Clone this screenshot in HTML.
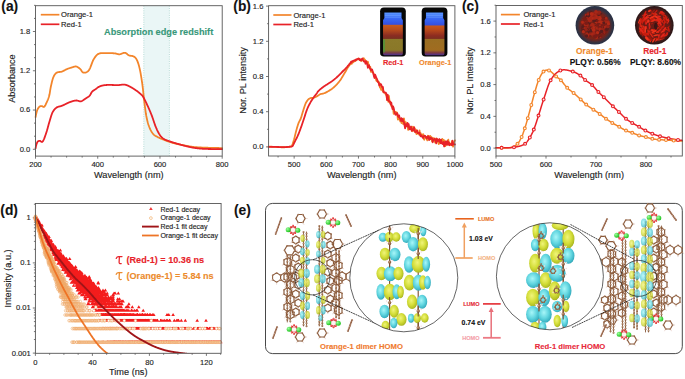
<!DOCTYPE html>
<html><head><meta charset="utf-8"><style>
html,body{margin:0;padding:0;background:#fff;}
svg{display:block;}
text{font-family:"Liberation Sans", sans-serif;}
</style></head><body>
<svg width="685" height="379" viewBox="0 0 685 379">
<rect width="685" height="379" fill="#fff"/>
<rect x="143.8" y="5.7" width="25.6" height="150.4" fill="#eaf6f6"/>
<line x1="143.8" y1="5.7" x2="143.8" y2="156.1" stroke="#9fd0c8" stroke-width="0.7" stroke-dasharray="1 1.3"/>
<line x1="169.4" y1="5.7" x2="169.4" y2="156.1" stroke="#9fd0c8" stroke-width="0.7" stroke-dasharray="1 1.3"/>
<line x1="32.9" y1="149.3" x2="35.5" y2="149.3" stroke="#555" stroke-width="0.8" />
<text x="30.2" y="151.7" font-size="7.6" text-anchor="end" font-weight="normal" fill="#222" stroke="#222" stroke-width="0.14" >0.0</text>
<line x1="34" y1="136.21" x2="35.5" y2="136.21" stroke="#555" stroke-width="0.8" />
<line x1="34" y1="123.12" x2="35.5" y2="123.12" stroke="#555" stroke-width="0.8" />
<line x1="32.9" y1="110.04" x2="35.5" y2="110.04" stroke="#555" stroke-width="0.8" />
<text x="30.2" y="112.44" font-size="7.6" text-anchor="end" font-weight="normal" fill="#222" stroke="#222" stroke-width="0.14" >0.6</text>
<line x1="34" y1="96.95" x2="35.5" y2="96.95" stroke="#555" stroke-width="0.8" />
<line x1="34" y1="83.86" x2="35.5" y2="83.86" stroke="#555" stroke-width="0.8" />
<line x1="32.9" y1="70.77" x2="35.5" y2="70.77" stroke="#555" stroke-width="0.8" />
<text x="30.2" y="73.17" font-size="7.6" text-anchor="end" font-weight="normal" fill="#222" stroke="#222" stroke-width="0.14" >1.2</text>
<line x1="34" y1="57.68" x2="35.5" y2="57.68" stroke="#555" stroke-width="0.8" />
<line x1="34" y1="44.6" x2="35.5" y2="44.6" stroke="#555" stroke-width="0.8" />
<line x1="32.9" y1="31.51" x2="35.5" y2="31.51" stroke="#555" stroke-width="0.8" />
<text x="30.2" y="33.91" font-size="7.6" text-anchor="end" font-weight="normal" fill="#222" stroke="#222" stroke-width="0.14" >1.8</text>
<line x1="34" y1="18.42" x2="35.5" y2="18.42" stroke="#555" stroke-width="0.8" />
<line x1="34" y1="5.33" x2="35.5" y2="5.33" stroke="#555" stroke-width="0.8" />
<line x1="35.5" y1="156.1" x2="35.5" y2="158.7" stroke="#555" stroke-width="0.8" />
<text x="35.5" y="167.4" font-size="7.6" text-anchor="middle" font-weight="normal" fill="#222" stroke="#222" stroke-width="0.14" >200</text>
<line x1="51.06" y1="156.1" x2="51.06" y2="157.6" stroke="#555" stroke-width="0.8" />
<line x1="66.62" y1="156.1" x2="66.62" y2="157.6" stroke="#555" stroke-width="0.8" />
<line x1="82.17" y1="156.1" x2="82.17" y2="157.6" stroke="#555" stroke-width="0.8" />
<line x1="97.73" y1="156.1" x2="97.73" y2="158.7" stroke="#555" stroke-width="0.8" />
<text x="97.73" y="167.4" font-size="7.6" text-anchor="middle" font-weight="normal" fill="#222" stroke="#222" stroke-width="0.14" >400</text>
<line x1="113.29" y1="156.1" x2="113.29" y2="157.6" stroke="#555" stroke-width="0.8" />
<line x1="128.85" y1="156.1" x2="128.85" y2="157.6" stroke="#555" stroke-width="0.8" />
<line x1="144.41" y1="156.1" x2="144.41" y2="157.6" stroke="#555" stroke-width="0.8" />
<line x1="159.97" y1="156.1" x2="159.97" y2="158.7" stroke="#555" stroke-width="0.8" />
<text x="159.97" y="167.4" font-size="7.6" text-anchor="middle" font-weight="normal" fill="#222" stroke="#222" stroke-width="0.14" >600</text>
<line x1="175.53" y1="156.1" x2="175.53" y2="157.6" stroke="#555" stroke-width="0.8" />
<line x1="191.08" y1="156.1" x2="191.08" y2="157.6" stroke="#555" stroke-width="0.8" />
<line x1="206.64" y1="156.1" x2="206.64" y2="157.6" stroke="#555" stroke-width="0.8" />
<line x1="222.2" y1="156.1" x2="222.2" y2="158.7" stroke="#555" stroke-width="0.8" />
<text x="222.2" y="167.4" font-size="7.6" text-anchor="middle" font-weight="normal" fill="#222" stroke="#222" stroke-width="0.14" >800</text>
<text x="128.85" y="178.3" font-size="9.2" text-anchor="middle" font-weight="normal" fill="#222" stroke="#222" stroke-width="0.14" >Wavelength (nm)</text>
<text x="15.2" y="78.6" font-size="9.1" text-anchor="middle" font-weight="normal" fill="#222" stroke="#222" stroke-width="0.14" transform="rotate(-90 15.2 78.6)" >Absorbance</text>
<text x="1.3" y="11.2" font-size="13.8" text-anchor="start" font-weight="bold" fill="#111" stroke="#111" stroke-width="0.12" >(a)</text>
<line x1="40.8" y1="14.7" x2="59.4" y2="14.7" stroke="#f3852b" stroke-width="1.7" />
<line x1="40.8" y1="24.3" x2="59.4" y2="24.3" stroke="#e82228" stroke-width="1.7" />
<text x="61" y="17.4" font-size="7.6" text-anchor="start" font-weight="normal" fill="#222" stroke="#222" stroke-width="0.14" >Orange-1</text>
<text x="61" y="27" font-size="7.6" text-anchor="start" font-weight="normal" fill="#222" stroke="#222" stroke-width="0.14" >Red-1</text>
<text x="104" y="34.9" font-size="9.2" text-anchor="start" font-weight="bold" fill="#38987a" stroke="#38987a" stroke-width="0.12" >Absorption edge redshift</text>
<polyline points="35.6,117.2 35.97,114.97 36.35,113.37 36.72,111.85 37.1,110.53 37.47,109.54 37.84,108.78 38.22,108.16 38.59,107.64 38.97,107.22 39.34,106.87 39.71,106.57 40.09,106.32 40.46,106.18 40.84,106.12 41.21,106.12 41.58,106.15 41.96,106.19 42.33,106.25 42.71,106.45 43.08,106.71 43.45,106.92 43.83,106.98 44.2,106.8 44.57,106.39 44.95,105.86 45.32,105.23 45.7,104.51 46.07,103.73 46.44,102.92 46.82,102.08 47.19,101.25 47.57,100.41 47.94,99.53 48.31,98.57 48.69,97.5 49.06,96.27 49.44,94.82 49.81,92.79 50.18,90.43 50.56,88.14 50.93,86.3 51.31,84.61 51.68,82.97 52.05,81.41 52.43,79.99 52.8,78.72 53.18,77.66 53.55,76.77 53.92,75.99 54.3,75.31 54.67,74.71 55.05,74.2 55.42,73.76 55.79,73.38 56.17,73.07 56.54,72.81 56.92,72.59 57.29,72.42 57.66,72.29 58.04,72.19 58.41,72.12 58.78,72.06 59.16,72.02 59.53,71.99 59.91,71.96 60.28,71.93 60.65,71.89 61.03,71.83 61.4,71.75 61.78,71.64 62.15,71.51 62.52,71.35 62.9,71.18 63.27,70.99 63.65,70.79 64.02,70.59 64.39,70.38 64.77,70.18 65.14,69.97 65.52,69.77 65.89,69.58 66.26,69.39 66.64,69.23 67.01,69.07 67.39,68.92 67.76,68.78 68.13,68.64 68.51,68.51 68.88,68.38 69.26,68.25 69.63,68.13 70,68.01 70.38,67.9 70.75,67.79 71.13,67.68 71.5,67.57 71.87,67.45 72.25,67.33 72.62,67.2 72.99,67.06 73.37,66.93 73.74,66.81 74.12,66.7 74.49,66.6 74.86,66.53 75.24,66.48 75.61,66.46 75.99,66.47 76.36,66.53 76.73,66.63 77.11,66.77 77.48,66.95 77.86,67.17 78.23,67.41 78.6,67.68 78.98,67.96 79.35,68.27 79.73,68.58 80.1,68.9 80.47,69.28 80.85,69.77 81.22,70.31 81.6,70.88 81.97,71.42 82.34,71.91 82.72,72.29 83.09,72.54 83.47,72.62 83.84,72.66 84.21,72.68 84.59,72.68 84.96,72.66 85.34,72.6 85.71,72.52 86.08,72.41 86.46,72.26 86.83,72.07 87.2,71.84 87.58,71.56 87.95,71.24 88.33,70.87 88.7,70.45 89.07,69.96 89.45,69.34 89.82,68.6 90.2,67.76 90.57,66.84 90.94,65.87 91.32,64.87 91.69,63.86 92.07,62.86 92.44,61.9 92.81,61 93.19,60.18 93.56,59.47 93.94,58.84 94.31,58.23 94.68,57.66 95.06,57.13 95.43,56.62 95.81,56.15 96.18,55.71 96.55,55.31 96.93,54.95 97.3,54.62 97.68,54.34 98.05,54.09 98.42,53.89 98.8,53.72 99.17,53.57 99.55,53.44 99.92,53.34 100.29,53.25 100.67,53.18 101.04,53.13 101.41,53.09 101.79,53.06 102.16,53.04 102.54,53.04 102.91,53.04 103.28,53.04 103.66,53.05 104.03,53.06 104.41,53.08 104.78,53.09 105.15,53.1 105.53,53.11 105.9,53.11 106.28,53.1 106.65,53.09 107.02,53.08 107.4,53.08 107.77,53.07 108.15,53.07 108.52,53.07 108.89,53.08 109.27,53.08 109.64,53.09 110.02,53.1 110.39,53.11 110.76,53.12 111.14,53.14 111.51,53.15 111.89,53.17 112.26,53.19 112.63,53.22 113.01,53.24 113.38,53.27 113.76,53.3 114.13,53.33 114.5,53.36 114.88,53.39 115.25,53.43 115.62,53.49 116,53.58 116.37,53.68 116.75,53.79 117.12,53.9 117.49,54.01 117.87,54.1 118.24,54.19 118.62,54.26 118.99,54.3 119.36,54.31 119.74,54.28 120.11,54.21 120.49,54.12 120.86,53.99 121.23,53.85 121.61,53.7 121.98,53.54 122.36,53.38 122.73,53.23 123.1,53.09 123.48,52.97 123.85,52.87 124.23,52.81 124.6,52.78 124.97,52.8 125.35,52.88 125.72,53.03 126.1,53.25 126.47,53.52 126.84,53.81 127.22,54.13 127.59,54.45 127.97,54.75 128.34,55.03 128.71,55.26 129.09,55.44 129.46,55.56 129.83,55.65 130.21,55.71 130.58,55.75 130.96,55.78 131.33,55.82 131.7,55.86 132.08,55.92 132.45,56 132.83,56.13 133.2,56.29 133.57,56.46 133.95,56.65 134.32,56.86 134.7,57.11 135.07,57.42 135.44,57.78 135.82,58.22 136.19,58.74 136.57,59.36 136.94,60.09 137.31,60.93 137.69,61.86 138.06,62.88 138.44,64 138.81,65.23 139.18,66.63 139.56,68.18 139.93,69.86 140.31,71.64 140.68,73.58 141.05,75.8 141.43,78.2 141.8,80.67 142.18,83.21 142.55,85.93 142.92,88.95 143.3,92.52 143.67,96.04 144.04,99.4 144.42,102.65 144.79,105.61 145.17,108.47 145.54,111.24 145.91,113.77 146.29,115.94 146.66,117.8 147.04,119.53 147.41,121.12 147.78,122.57 148.16,123.87 148.53,125.03 148.91,126.05 149.28,127.01 149.65,127.91 150.03,128.76 150.4,129.56 150.78,130.3 151.15,131 151.52,131.65 151.9,132.25 152.27,132.81 152.65,133.33 153.02,133.8 153.39,134.22 153.77,134.59 154.14,134.92 154.52,135.21 154.89,135.48 155.26,135.72 155.64,135.94 156.01,136.15 156.39,136.35 156.76,136.55 157.13,136.75 157.51,136.96 157.88,137.17 158.25,137.37 158.63,137.56 159,137.74 159.38,137.92 159.75,138.09 160.12,138.25 160.5,138.42 160.87,138.57 161.25,138.73 161.62,138.88 161.99,139.03 162.37,139.17 162.74,139.32 163.12,139.47 163.49,139.62 163.86,139.77 164.24,139.91 164.61,140.06 164.99,140.21 165.36,140.36 165.73,140.51 166.11,140.65 166.48,140.8 166.86,140.94 167.23,141.08 167.6,141.22 167.98,141.36 168.35,141.5 168.73,141.63 169.1,141.76 169.47,141.89 169.85,142.02 170.22,142.14 170.6,142.26 170.97,142.38 171.34,142.49 171.72,142.6 172.09,142.71 172.46,142.82 172.84,142.92 173.21,143.02 173.59,143.12 173.96,143.21 174.33,143.31 174.71,143.4 175.08,143.49 175.46,143.58 175.83,143.66 176.2,143.75 176.58,143.83 176.95,143.91 177.33,144 177.7,144.08 178.07,144.15 178.45,144.23 178.82,144.31 179.2,144.39 179.57,144.47 179.94,144.54 180.32,144.62 180.69,144.7 181.07,144.77 181.44,144.85 181.81,144.93 182.19,145 182.56,145.08 182.94,145.16 183.31,145.23 183.68,145.31 184.06,145.39 184.43,145.46 184.81,145.54 185.18,145.61 185.55,145.69 185.93,145.76 186.3,145.83 186.67,145.9 187.05,145.97 187.42,146.04 187.8,146.11 188.17,146.18 188.54,146.24 188.92,146.31 189.29,146.37 189.67,146.43 190.04,146.49 190.41,146.55 190.79,146.61 191.16,146.66 191.54,146.71 191.91,146.76 192.28,146.81 192.66,146.86 193.03,146.9 193.41,146.94 193.78,146.98 194.15,147.02 194.53,147.06 194.9,147.09 195.28,147.13 195.65,147.16 196.02,147.19 196.4,147.22 196.77,147.25 197.15,147.27 197.52,147.3 197.89,147.32 198.27,147.35 198.64,147.37 199.02,147.39 199.39,147.41 199.76,147.43 200.14,147.45 200.51,147.47 200.88,147.49 201.26,147.51 201.63,147.53 202.01,147.54 202.38,147.56 202.75,147.58 203.13,147.59 203.5,147.61 203.88,147.62 204.25,147.64 204.62,147.65 205,147.67 205.37,147.68 205.75,147.7 206.12,147.71 206.49,147.72 206.87,147.73 207.24,147.75 207.62,147.76 207.99,147.77 208.36,147.78 208.74,147.79 209.11,147.8 209.49,147.81 209.86,147.82 210.23,147.83 210.61,147.84 210.98,147.85 211.36,147.86 211.73,147.87 212.1,147.88 212.48,147.88 212.85,147.89 213.23,147.9 213.6,147.91 213.97,147.92 214.35,147.92 214.72,147.93 215.09,147.94 215.47,147.95 215.84,147.96 216.22,147.96 216.59,147.97 216.96,147.98 217.34,147.99 217.71,147.99 218.09,148 218.46,148.01 218.83,148.02 219.21,148.03 219.58,148.04 219.96,148.04 220.33,148.05 220.7,148.06 221.08,148.07 221.45,148.08 221.83,148.09 222.2,148.1" fill="none" stroke="#f3852b" stroke-width="1.8" stroke-linejoin="round" stroke-linecap="round" />
<polyline points="35.6,148.3 35.97,146.18 36.35,144.85 36.72,143.61 37.1,142.58 37.47,141.9 37.84,141.47 38.22,141.19 38.59,141.03 38.97,140.95 39.34,140.92 39.71,140.91 40.09,140.93 40.46,141.11 40.84,141.38 41.21,141.65 41.58,141.87 41.96,141.96 42.33,141.85 42.71,141.47 43.08,140.91 43.45,140.23 43.83,139.44 44.2,138.56 44.57,137.61 44.95,136.6 45.32,135.55 45.7,134.47 46.07,133.39 46.44,132.26 46.82,131.03 47.19,129.73 47.57,128.39 47.94,127.02 48.31,125.65 48.69,124.3 49.06,122.99 49.44,121.75 49.81,120.49 50.18,119.21 50.56,117.94 50.93,116.71 51.31,115.53 51.68,114.45 52.05,113.47 52.43,112.64 52.8,111.92 53.18,111.27 53.55,110.68 53.92,110.14 54.3,109.67 54.67,109.23 55.05,108.84 55.42,108.49 55.79,108.17 56.17,107.87 56.54,107.6 56.92,107.36 57.29,107.16 57.66,106.99 58.04,106.85 58.41,106.73 58.78,106.63 59.16,106.53 59.53,106.45 59.91,106.37 60.28,106.29 60.65,106.2 61.03,106.1 61.4,105.98 61.78,105.85 62.15,105.69 62.52,105.53 62.9,105.36 63.27,105.19 63.65,105.02 64.02,104.84 64.39,104.65 64.77,104.47 65.14,104.28 65.52,104.1 65.89,103.91 66.26,103.73 66.64,103.54 67.01,103.36 67.39,103.18 67.76,103 68.13,102.83 68.51,102.67 68.88,102.51 69.26,102.35 69.63,102.2 70,102.06 70.38,101.93 70.75,101.79 71.13,101.66 71.5,101.53 71.87,101.41 72.25,101.3 72.62,101.19 72.99,101.08 73.37,100.98 73.74,100.89 74.12,100.81 74.49,100.73 74.86,100.66 75.24,100.6 75.61,100.56 75.99,100.52 76.36,100.49 76.73,100.51 77.11,100.56 77.48,100.64 77.86,100.75 78.23,100.86 78.6,100.98 78.98,101.1 79.35,101.2 79.73,101.29 80.1,101.34 80.47,101.36 80.85,101.33 81.22,101.25 81.6,101.12 81.97,100.97 82.34,100.78 82.72,100.57 83.09,100.33 83.47,100.08 83.84,99.82 84.21,99.55 84.59,99.28 84.96,99.01 85.34,98.75 85.71,98.49 86.08,98.26 86.46,98.03 86.83,97.8 87.2,97.57 87.58,97.33 87.95,97.08 88.33,96.82 88.7,96.53 89.07,96.21 89.45,95.86 89.82,95.46 90.2,94.91 90.57,94.24 90.94,93.52 91.32,92.82 91.69,92.2 92.07,91.73 92.44,91.35 92.81,91.01 93.19,90.7 93.56,90.41 93.94,90.15 94.31,89.9 94.68,89.65 95.06,89.42 95.43,89.18 95.81,88.93 96.18,88.68 96.55,88.41 96.93,88.14 97.3,87.88 97.68,87.61 98.05,87.36 98.42,87.11 98.8,86.89 99.17,86.68 99.55,86.49 99.92,86.33 100.29,86.19 100.67,86.07 101.04,85.95 101.41,85.84 101.79,85.73 102.16,85.63 102.54,85.54 102.91,85.46 103.28,85.39 103.66,85.32 104.03,85.25 104.41,85.2 104.78,85.15 105.15,85.1 105.53,85.06 105.9,85.03 106.28,85 106.65,84.98 107.02,84.96 107.4,84.94 107.77,84.93 108.15,84.92 108.52,84.92 108.89,84.92 109.27,84.92 109.64,84.92 110.02,84.92 110.39,84.93 110.76,84.94 111.14,84.95 111.51,84.96 111.89,84.97 112.26,84.98 112.63,84.99 113.01,85.01 113.38,85.02 113.76,85.03 114.13,85.05 114.5,85.06 114.88,85.07 115.25,85.08 115.62,85.09 116,85.1 116.37,85.1 116.75,85.11 117.12,85.11 117.49,85.1 117.87,85.1 118.24,85.09 118.62,85.07 118.99,85.04 119.36,85.01 119.74,84.96 120.11,84.92 120.49,84.87 120.86,84.83 121.23,84.78 121.61,84.73 121.98,84.69 122.36,84.66 122.73,84.63 123.1,84.61 123.48,84.6 123.85,84.6 124.23,84.62 124.6,84.65 124.97,84.7 125.35,84.76 125.72,84.84 126.1,84.94 126.47,85.06 126.84,85.19 127.22,85.34 127.59,85.49 127.97,85.66 128.34,85.83 128.71,86.02 129.09,86.21 129.46,86.4 129.83,86.59 130.21,86.79 130.58,86.99 130.96,87.19 131.33,87.4 131.7,87.61 132.08,87.82 132.45,88.05 132.83,88.27 133.2,88.5 133.57,88.74 133.95,88.98 134.32,89.22 134.7,89.47 135.07,89.72 135.44,89.97 135.82,90.23 136.19,90.5 136.57,90.76 136.94,91.03 137.31,91.3 137.69,91.58 138.06,91.87 138.44,92.17 138.81,92.47 139.18,92.77 139.56,93.09 139.93,93.41 140.31,93.73 140.68,94.06 141.05,94.4 141.43,94.75 141.8,95.1 142.18,95.47 142.55,95.9 142.92,96.43 143.3,97.08 143.67,97.78 144.04,98.48 144.42,99.2 144.79,99.93 145.17,100.68 145.54,101.43 145.91,102.19 146.29,102.96 146.66,103.75 147.04,104.54 147.41,105.34 147.78,106.15 148.16,106.97 148.53,107.8 148.91,108.64 149.28,109.49 149.65,110.36 150.03,111.24 150.4,112.14 150.78,113.05 151.15,113.98 151.52,114.93 151.9,115.89 152.27,116.9 152.65,117.96 153.02,119.05 153.39,120.17 153.77,121.3 154.14,122.42 154.52,123.53 154.89,124.61 155.26,125.63 155.64,126.6 156.01,127.5 156.39,128.37 156.76,129.22 157.13,130.03 157.51,130.81 157.88,131.57 158.25,132.29 158.63,132.97 159,133.63 159.38,134.24 159.75,134.83 160.12,135.37 160.5,135.87 160.87,136.32 161.25,136.74 161.62,137.13 161.99,137.48 162.37,137.81 162.74,138.11 163.12,138.4 163.49,138.66 163.86,138.91 164.24,139.14 164.61,139.35 164.99,139.55 165.36,139.73 165.73,139.9 166.11,140.06 166.48,140.21 166.86,140.35 167.23,140.49 167.6,140.62 167.98,140.75 168.35,140.87 168.73,141 169.1,141.13 169.47,141.26 169.85,141.39 170.22,141.52 170.6,141.65 170.97,141.78 171.34,141.9 171.72,142.03 172.09,142.15 172.46,142.27 172.84,142.39 173.21,142.51 173.59,142.63 173.96,142.75 174.33,142.86 174.71,142.98 175.08,143.09 175.46,143.21 175.83,143.32 176.2,143.43 176.58,143.54 176.95,143.65 177.33,143.76 177.7,143.87 178.07,143.97 178.45,144.08 178.82,144.18 179.2,144.29 179.57,144.39 179.94,144.49 180.32,144.6 180.69,144.7 181.07,144.8 181.44,144.91 181.81,145.01 182.19,145.11 182.56,145.21 182.94,145.31 183.31,145.41 183.68,145.51 184.06,145.61 184.43,145.71 184.81,145.81 185.18,145.91 185.55,146 185.93,146.1 186.3,146.19 186.67,146.29 187.05,146.38 187.42,146.47 187.8,146.56 188.17,146.65 188.54,146.73 188.92,146.82 189.29,146.9 189.67,146.99 190.04,147.07 190.41,147.15 190.79,147.22 191.16,147.3 191.54,147.37 191.91,147.45 192.28,147.52 192.66,147.58 193.03,147.65 193.41,147.71 193.78,147.78 194.15,147.84 194.53,147.9 194.9,147.95 195.28,148.01 195.65,148.06 196.02,148.12 196.4,148.17 196.77,148.21 197.15,148.26 197.52,148.31 197.89,148.35 198.27,148.39 198.64,148.43 199.02,148.47 199.39,148.51 199.76,148.54 200.14,148.58 200.51,148.61 200.88,148.64 201.26,148.67 201.63,148.7 202.01,148.72 202.38,148.75 202.75,148.77 203.13,148.79 203.5,148.81 203.88,148.83 204.25,148.85 204.62,148.86 205,148.88 205.37,148.89 205.75,148.91 206.12,148.92 206.49,148.93 206.87,148.94 207.24,148.96 207.62,148.96 207.99,148.97 208.36,148.98 208.74,148.99 209.11,149 209.49,149 209.86,149.01 210.23,149.01 210.61,149.02 210.98,149.02 211.36,149.03 211.73,149.03 212.1,149.03 212.48,149.04 212.85,149.04 213.23,149.04 213.6,149.04 213.97,149.05 214.35,149.05 214.72,149.05 215.09,149.05 215.47,149.05 215.84,149.05 216.22,149.05 216.59,149.05 216.96,149.06 217.34,149.06 217.71,149.06 218.09,149.06 218.46,149.06 218.83,149.07 219.21,149.07 219.58,149.07 219.96,149.07 220.33,149.08 220.7,149.08 221.08,149.08 221.45,149.09 221.83,149.09 222.2,149.1" fill="none" stroke="#e82228" stroke-width="1.8" stroke-linejoin="round" stroke-linecap="round" />
<rect x="35.5" y="5.7" width="186.7" height="150.4" fill="none" stroke="#555" stroke-width="0.9"/>
<line x1="266" y1="146.9" x2="268.6" y2="146.9" stroke="#555" stroke-width="0.8" />
<text x="263.4" y="149.3" font-size="7.6" text-anchor="end" font-weight="normal" fill="#222" stroke="#222" stroke-width="0.14" >0.0</text>
<line x1="267.1" y1="129.3" x2="268.6" y2="129.3" stroke="#555" stroke-width="0.8" />
<line x1="266" y1="111.7" x2="268.6" y2="111.7" stroke="#555" stroke-width="0.8" />
<text x="263.4" y="114.1" font-size="7.6" text-anchor="end" font-weight="normal" fill="#222" stroke="#222" stroke-width="0.14" >0.4</text>
<line x1="267.1" y1="94.1" x2="268.6" y2="94.1" stroke="#555" stroke-width="0.8" />
<line x1="266" y1="76.5" x2="268.6" y2="76.5" stroke="#555" stroke-width="0.8" />
<text x="263.4" y="78.9" font-size="7.6" text-anchor="end" font-weight="normal" fill="#222" stroke="#222" stroke-width="0.14" >0.8</text>
<line x1="267.1" y1="58.9" x2="268.6" y2="58.9" stroke="#555" stroke-width="0.8" />
<line x1="266" y1="41.3" x2="268.6" y2="41.3" stroke="#555" stroke-width="0.8" />
<text x="263.4" y="43.7" font-size="7.6" text-anchor="end" font-weight="normal" fill="#222" stroke="#222" stroke-width="0.14" >1.2</text>
<line x1="267.1" y1="23.7" x2="268.6" y2="23.7" stroke="#555" stroke-width="0.8" />
<line x1="266" y1="6.1" x2="268.6" y2="6.1" stroke="#555" stroke-width="0.8" />
<text x="263.4" y="8.5" font-size="7.6" text-anchor="end" font-weight="normal" fill="#222" stroke="#222" stroke-width="0.14" >1.6</text>
<line x1="278.07" y1="156" x2="278.07" y2="157.5" stroke="#555" stroke-width="0.8" />
<line x1="294.15" y1="156" x2="294.15" y2="158.6" stroke="#555" stroke-width="0.8" />
<text x="294.15" y="167.4" font-size="7.6" text-anchor="middle" font-weight="normal" fill="#222" stroke="#222" stroke-width="0.14" >500</text>
<line x1="310.22" y1="156" x2="310.22" y2="157.5" stroke="#555" stroke-width="0.8" />
<line x1="326.3" y1="156" x2="326.3" y2="158.6" stroke="#555" stroke-width="0.8" />
<text x="326.3" y="167.4" font-size="7.6" text-anchor="middle" font-weight="normal" fill="#222" stroke="#222" stroke-width="0.14" >600</text>
<line x1="342.38" y1="156" x2="342.38" y2="157.5" stroke="#555" stroke-width="0.8" />
<line x1="358.45" y1="156" x2="358.45" y2="158.6" stroke="#555" stroke-width="0.8" />
<text x="358.45" y="167.4" font-size="7.6" text-anchor="middle" font-weight="normal" fill="#222" stroke="#222" stroke-width="0.14" >700</text>
<line x1="374.52" y1="156" x2="374.52" y2="157.5" stroke="#555" stroke-width="0.8" />
<line x1="390.6" y1="156" x2="390.6" y2="158.6" stroke="#555" stroke-width="0.8" />
<text x="390.6" y="167.4" font-size="7.6" text-anchor="middle" font-weight="normal" fill="#222" stroke="#222" stroke-width="0.14" >800</text>
<line x1="406.67" y1="156" x2="406.67" y2="157.5" stroke="#555" stroke-width="0.8" />
<line x1="422.75" y1="156" x2="422.75" y2="158.6" stroke="#555" stroke-width="0.8" />
<text x="422.75" y="167.4" font-size="7.6" text-anchor="middle" font-weight="normal" fill="#222" stroke="#222" stroke-width="0.14" >900</text>
<line x1="438.82" y1="156" x2="438.82" y2="157.5" stroke="#555" stroke-width="0.8" />
<line x1="454.9" y1="156" x2="454.9" y2="158.6" stroke="#555" stroke-width="0.8" />
<text x="454.9" y="167.4" font-size="7.6" text-anchor="middle" font-weight="normal" fill="#222" stroke="#222" stroke-width="0.14" >1000</text>
<text x="361.75" y="178.3" font-size="9.2" text-anchor="middle" font-weight="normal" fill="#222" stroke="#222" stroke-width="0.14" >Wavelength (nm)</text>
<text x="246" y="80.4" font-size="9.2" text-anchor="middle" font-weight="normal" fill="#222" stroke="#222" stroke-width="0.14" transform="rotate(-90 246 80.4)" >Nor. PL intensity</text>
<text x="233.3" y="11.2" font-size="13.8" text-anchor="start" font-weight="bold" fill="#111" stroke="#111" stroke-width="0.12" >(b)</text>
<line x1="273.3" y1="15" x2="291.5" y2="15" stroke="#f3852b" stroke-width="1.7" />
<line x1="273.3" y1="24.5" x2="291.5" y2="24.5" stroke="#e82228" stroke-width="1.7" />
<text x="293.4" y="17.7" font-size="7.6" text-anchor="start" font-weight="normal" fill="#222" stroke="#222" stroke-width="0.14" >Orange-1</text>
<text x="293.4" y="27.2" font-size="7.6" text-anchor="start" font-weight="normal" fill="#222" stroke="#222" stroke-width="0.14" >Red-1</text>
<polyline points="268.6,146.7 269.1,146.7 269.6,146.7 270.1,146.7 270.6,146.71 271.1,146.72 271.6,146.74 272.1,146.76 272.6,146.78 273.1,146.8 273.6,146.83 274.1,146.86 274.6,146.88 275.1,146.91 275.6,146.94 276.1,146.98 276.6,147.01 277.1,147.04 277.6,147.07 278.1,147.1 278.6,147.12 279.1,147.15 279.6,147.18 280.1,147.2 280.6,147.22 281.1,147.23 281.6,147.25 282.1,147.26 282.6,147.26 283.1,147.26 283.6,147.26 284.1,147.25 284.6,147.24 285.1,147.22 285.6,147.2 286.1,147.17 286.6,147.13 287.1,147.09 287.6,147.03 288.1,146.98 288.6,146.91 289.1,146.83 289.6,146.75 290.1,146.66 290.6,146.56 291.1,146.45 291.6,146.2 292.1,145.4 292.6,144.15 293.1,142.63 293.6,141.02 294.1,139.32 294.6,137.35 295.1,135.24 295.6,133.15 296.1,131.2 296.6,129.38 297.1,127.61 297.6,125.91 298.1,124.34 298.6,122.94 299.1,121.83 299.6,120.93 300.1,120.05 300.6,119 301.1,117.65 301.6,116.05 302.1,114.33 302.6,112.59 303.1,110.92 303.6,109.33 304.1,107.73 304.6,106.18 305.1,104.74 305.6,103.5 306.1,102.47 306.6,101.62 307.1,100.89 307.6,100.26 308.1,99.69 308.6,99.2 309.1,98.81 309.6,98.51 310.1,98.27 310.6,98.11 311.1,98 311.6,97.94 312.1,97.91 312.6,97.88 313.1,97.84 313.6,97.78 314.1,97.66 314.6,97.49 315.1,97.27 315.6,97.03 316.1,96.75 316.6,96.46 317.1,96.16 317.6,95.86 318.1,95.56 318.6,95.23 319.1,94.86 319.6,94.5 320.1,94.26 320.6,94.1 321.1,93.97 321.6,93.86 322.1,93.76 322.6,93.66 323.1,93.55 323.6,93.42 324.1,93.26 324.6,93.06 325.1,92.83 325.6,92.6 326.1,92.35 326.6,92.1 327.1,91.84 327.6,91.57 328.1,91.29 328.6,90.99 329.1,90.69 329.6,90.38 330.1,90.06 330.6,89.73 331.1,89.39 331.6,89.04 332.1,88.67 332.6,88.28 333.1,87.88 333.6,87.46 334.1,87.02 334.6,86.56 335.1,86.09 335.6,85.6 336.1,85.09 336.6,84.58 337.1,84.04 337.6,83.49 338.1,82.92 338.6,82.32 339.1,81.7 339.6,81.06 340.1,80.38 340.6,79.67 341.1,78.91 341.6,78.12 342.1,77.3 342.6,76.46 343.1,75.6 343.6,74.74 344.1,73.88 344.6,73.03 345.1,72.2 345.7,71.19 346.3,70.17 346.9,69.02 347.5,68.06 348.1,67.07 348.7,66.4 349.3,65.23 349.9,64.72 350.5,63.97 351.1,63.03 351.7,63.86 352.3,62.39 352.9,61.34 353.5,62.21 354.1,60.69 354.7,61.08 355.3,61.07 355.9,59.97 356.5,59.87 357.1,59.6 357.7,59.71 358.3,58.53 358.9,58.67 359.5,59.41 360.1,60.32 360.7,60.02 361.3,61.05 361.9,60.27 362.5,59.32 363.1,59.87 363.7,58.17 364.3,59.45 364.9,59.66 365.5,61.41 366.1,62.3 366.7,61.49 367.3,62.12 367.9,61.76 368.5,64.43 369.1,65.95 369.7,67.33 370.3,66.83 370.9,71.79 371.5,71.88 372.1,71.16 372.7,71.56 373.3,72.88 373.9,74.6 374.5,75.35 375.1,77.15 375.7,78.6 376.3,80.56 376.9,81.21 377.5,80.2 378.1,82.02 378.7,81.81 379.3,82.53 379.9,87.58 380.5,84.86 381.1,89.85 381.7,87.19 382.3,89.23 382.9,91.65 383.5,91.02 384.1,92.67 384.7,92.72 385.3,93.38 385.9,94.9 386.5,95.13 387.1,99.78 387.7,97.89 388.3,101.9 388.9,95.84 389.5,101.17 390.1,103.07 390.7,102.75 391.3,106.05 391.9,106.51 392.5,106.35 393.1,108.83 393.7,113.96 394.3,111.09 394.9,112.22 395.5,111.93 396.1,113.69 396.7,112.21 397.3,114.72 397.9,119.69 398.5,118.17 399.1,118.16 399.7,119.56 400.3,121.45 400.9,120.02 401.5,123.01 402.1,122.03 402.7,121.18 403.3,124.24 403.9,118.28 404.5,121.69 405.1,123.56 405.7,122.19 406.3,123.91 406.9,123.63 407.5,124.09 408.1,129.96 408.7,127.1 409.3,126.46 409.9,129.09 410.5,127.03 411.1,129.24 411.7,128.8 412.3,131.24 412.9,126.76 413.5,130.66 414.1,130.03 414.7,128.38 415.3,132.34 415.9,129.65 416.5,134.05 417.1,132.69 417.7,133.39 418.3,132.81 418.9,134.53 419.5,130.48 420.1,133.96 420.7,133.2 421.3,135 421.9,134.79 422.5,136.17 423.1,134.13 423.7,138.7 424.3,139.73 424.9,135.96 425.5,136.53 426.1,137.26 426.7,139.08 427.3,140.34 427.9,135.63 428.5,136.83 429.1,136.36 429.7,136.53 430.3,135.94 430.9,139.38 431.5,137.19 432.1,141.68 432.7,140.96 433.3,138.08 433.9,138.3 434.5,139.19 435.1,142.61 435.7,139.22 436.3,138.39 436.9,140.9 437.5,141.77 438.1,140.3 438.7,144.13 439.3,142.09 439.9,142.6 440.5,140.66 441.1,142.11 441.7,142.06 442.3,138.81 442.9,143.03 443.5,139.81 444.1,142.75 444.7,140.53 445.3,146.22 445.9,143.59 446.5,144.53 447.1,144.69 447.7,141.17 448.3,139.7 448.9,142.87 449.5,144.87 450.1,143.61 450.7,144.74 451.3,145 451.9,141.13 452.5,143.99 453.1,146.69 453.7,142.65 454.9,140.33" fill="none" stroke="#f3852b" stroke-width="1.8" stroke-linejoin="round" stroke-linecap="round" />
<polyline points="268.6,146.8 269.1,146.79 269.6,146.79 270.1,146.79 270.6,146.79 271.1,146.8 271.6,146.8 272.1,146.81 272.6,146.82 273.1,146.84 273.6,146.85 274.1,146.86 274.6,146.88 275.1,146.9 275.6,146.92 276.1,146.93 276.6,146.95 277.1,146.97 277.6,146.99 278.1,147.01 278.6,147.02 279.1,147.04 279.6,147.05 280.1,147.07 280.6,147.08 281.1,147.09 281.6,147.09 282.1,147.1 282.6,147.1 283.1,147.1 283.6,147.1 284.1,147.1 284.6,147.09 285.1,147.07 285.6,147.06 286.1,147.04 286.6,147.01 287.1,146.98 287.6,146.95 288.1,146.91 288.6,146.87 289.1,146.82 289.6,146.76 290.1,146.7 290.6,146.64 291.1,146.56 291.6,146.49 292.1,146.4 292.6,146.03 293.1,145.21 293.6,144.15 294.1,143.02 294.6,142.01 295.1,141.08 295.6,140.15 296.1,139.2 296.6,138.22 297.1,137.2 297.6,136.12 298.1,134.98 298.6,133.78 299.1,132.53 299.6,131.24 300.1,129.91 300.6,128.55 301.1,127.16 301.6,125.72 302.1,124.24 302.6,122.73 303.1,121.21 303.6,119.7 304.1,118.2 304.6,116.68 305.1,115.12 305.6,113.57 306.1,112.05 306.6,110.6 307.1,109.25 307.6,108.03 308.1,106.91 308.6,105.88 309.1,104.9 309.6,103.97 310.1,103.06 310.6,102.16 311.1,101.3 311.6,100.48 312.1,99.69 312.6,98.92 313.1,98.18 313.6,97.46 314.1,96.78 314.6,96.14 315.1,95.52 315.6,94.91 316.1,94.29 316.6,93.64 317.1,92.88 317.6,92.03 318.1,91.31 318.6,90.8 319.1,90.32 319.6,89.87 320.1,89.43 320.6,89.01 321.1,88.6 321.6,88.2 322.1,87.81 322.6,87.43 323.1,87.05 323.6,86.69 324.1,86.34 324.6,86 325.1,85.67 325.6,85.35 326.1,85.03 326.6,84.71 327.1,84.39 327.6,84.07 328.1,83.74 328.6,83.42 329.1,83.1 329.6,82.78 330.1,82.47 330.6,82.15 331.1,81.82 331.6,81.48 332.1,81.12 332.6,80.75 333.1,80.37 333.6,79.98 334.1,79.58 334.6,79.17 335.1,78.75 335.6,78.33 336.1,77.89 336.6,77.45 337.1,76.99 337.6,76.53 338.1,76.05 338.6,75.56 339.1,75.06 339.6,74.56 340.1,74.05 340.6,73.54 341.1,73.03 341.6,72.51 342.1,72 342.6,71.5 343.1,71 343.6,70.52 344.1,70.03 344.6,69.55 345.1,69.06 345.7,68.5 346.3,67.76 346.9,67.35 347.5,66.4 348.1,65.5 348.7,65.16 349.3,64.19 349.9,63.24 350.5,63.05 351.1,61.64 351.7,62.47 352.3,61.11 352.9,61.21 353.5,60.6 354.1,60.72 354.7,60.72 355.3,59.58 355.9,60.28 356.5,59.45 357.1,59.03 357.7,59.2 358.3,58.55 358.9,58.62 359.5,59.94 360.1,59.16 360.7,60.39 361.3,60.04 361.9,59.03 362.5,58.53 363.1,60.02 363.7,61.38 364.3,61.59 364.9,61.21 365.5,63.74 366.1,61.24 366.7,62.35 367.3,64.58 367.9,67.77 368.5,66.3 369.1,65.21 369.7,68.05 370.3,68.99 370.9,70.2 371.5,69.21 372.1,69.55 372.7,71.84 373.3,73.27 373.9,76.11 374.5,77.96 375.1,74.56 375.7,75.98 376.3,77.84 376.9,78.67 377.5,80.97 378.1,82.1 378.7,82.83 379.3,85.65 379.9,84.33 380.5,83.98 381.1,84.24 381.7,86.16 382.3,87.21 382.9,86.93 383.5,92.06 384.1,92.35 384.7,92.43 385.3,92.72 385.9,92.64 386.5,94.7 387.1,100.12 387.7,94.62 388.3,99.37 388.9,101.33 389.5,101.36 390.1,101.66 390.7,104.45 391.3,102.53 391.9,106.37 392.5,109.07 393.1,106.47 393.7,108.15 394.3,110.91 394.9,113.33 395.5,114.78 396.1,114.56 396.7,113.2 397.3,113.25 397.9,116.15 398.5,117.1 399.1,115.37 399.7,117.89 400.3,118.97 400.9,120.74 401.5,118.11 402.1,121.21 402.7,119.04 403.3,120.81 403.9,121.93 404.5,125.03 405.1,128.43 405.7,124.05 406.3,124.95 406.9,126.26 407.5,122.96 408.1,126.85 408.7,124.1 409.3,129.15 409.9,129.29 410.5,128.21 411.1,126.54 411.7,130.9 412.3,129.05 412.9,129.21 413.5,130.36 414.1,127.09 414.7,130.92 415.3,132.23 415.9,131.59 416.5,131.69 417.1,130.35 417.7,133.31 418.3,133 418.9,133.09 419.5,132.56 420.1,135.21 420.7,136.2 421.3,135.17 421.9,136.31 422.5,137.3 423.1,138.02 423.7,136.12 424.3,135.69 424.9,135.63 425.5,136.57 426.1,137.69 426.7,138.56 427.3,136.62 427.9,137.8 428.5,136.22 429.1,140.09 429.7,137.69 430.3,139.13 430.9,137.65 431.5,138.56 432.1,138.18 432.7,142.24 433.3,140.31 433.9,139.69 434.5,138.65 435.1,139.4 435.7,141.49 436.3,143.45 436.9,138.69 437.5,139.7 438.1,141.07 438.7,140.53 439.3,139.05 439.9,141.9 440.5,143.23 441.1,139.65 441.7,142.65 442.3,143.99 442.9,144.14 443.5,142.01 444.1,146.48 444.7,143.78 445.3,141.69 445.9,144.65 446.5,141.36 447.1,144.66 447.7,141.27 448.3,144.61 448.9,142.46 449.5,145.24 450.1,144.65 450.7,144.2 451.3,143.6 451.9,145.26 452.5,140.65 453.1,144.24 453.7,144.22 454.9,144.48" fill="none" stroke="#e82228" stroke-width="1.8" stroke-linejoin="round" stroke-linecap="round" />
<rect x="380.1" y="7.4" width="25.7" height="49.2" rx="3.8" fill="#070707"/>
<defs><linearGradient id="vg1" x1="0" y1="0" x2="0" y2="1"><stop offset="0.000" stop-color="#4c8cff"/><stop offset="0.131" stop-color="#3a6cf8"/><stop offset="0.277" stop-color="#3450e0"/><stop offset="0.305" stop-color="#c85a1c"/><stop offset="0.413" stop-color="#b64a1c"/><stop offset="0.542" stop-color="#8a2c22"/><stop offset="0.608" stop-color="#7a3020"/><stop offset="0.631" stop-color="#8c7a2a"/><stop offset="0.883" stop-color="#8a7828"/><stop offset="0.941" stop-color="#7a4048"/><stop offset="1.000" stop-color="#4a3090"/></linearGradient></defs>
<path d="M384.35,12.4 h17.2 v5.7 l1.3,2.2 v33.5 q0,1.4 -1.4,1.4 h-17 q-1.4,0 -1.4,-1.4 v-33.5 l1.3,-2.2 z" fill="url(#vg1)"/>
<line x1="384.85" y1="13.8" x2="401.05" y2="13.8" stroke="#7aaaff" stroke-width="0.5" />
<line x1="384.85" y1="15.5" x2="401.05" y2="15.5" stroke="#7aaaff" stroke-width="0.5" />
<line x1="384.85" y1="17.2" x2="401.05" y2="17.2" stroke="#7aaaff" stroke-width="0.5" />
<rect x="383.05" y="39.5" width="2" height="13" fill="#3aa040" opacity="0.6"/>
<rect x="421.7" y="7.4" width="25.7" height="49.2" rx="3.8" fill="#070707"/>
<defs><linearGradient id="vg2" x1="0" y1="0" x2="0" y2="1"><stop offset="0.000" stop-color="#4c8cff"/><stop offset="0.131" stop-color="#3a6cf8"/><stop offset="0.291" stop-color="#3450e0"/><stop offset="0.319" stop-color="#c8561a"/><stop offset="0.413" stop-color="#b8481a"/><stop offset="0.542" stop-color="#8e2c20"/><stop offset="0.608" stop-color="#7e2e20"/><stop offset="0.631" stop-color="#9a6e22"/><stop offset="0.883" stop-color="#a06c20"/><stop offset="0.941" stop-color="#803a40"/><stop offset="1.000" stop-color="#4a3090"/></linearGradient></defs>
<path d="M425.95,12.4 h17.2 v5.7 l1.3,2.2 v33.5 q0,1.4 -1.4,1.4 h-17 q-1.4,0 -1.4,-1.4 v-33.5 l1.3,-2.2 z" fill="url(#vg2)"/>
<line x1="426.45" y1="13.8" x2="442.65" y2="13.8" stroke="#7aaaff" stroke-width="0.5" />
<line x1="426.45" y1="15.5" x2="442.65" y2="15.5" stroke="#7aaaff" stroke-width="0.5" />
<line x1="426.45" y1="17.2" x2="442.65" y2="17.2" stroke="#7aaaff" stroke-width="0.5" />
<text x="393.2" y="65.3" font-size="7.4" text-anchor="middle" font-weight="bold" fill="#e8282c" stroke="#e8282c" stroke-width="0.12" >Red-1</text>
<text x="435.2" y="65.3" font-size="7.4" text-anchor="middle" font-weight="bold" fill="#f0882c" stroke="#f0882c" stroke-width="0.12" >Orange-1</text>
<rect x="268.6" y="5.7" width="186.3" height="150.3" fill="none" stroke="#555" stroke-width="0.9"/>
<line x1="493.4" y1="148.1" x2="496" y2="148.1" stroke="#555" stroke-width="0.8" />
<text x="490.8" y="150.5" font-size="7.6" text-anchor="end" font-weight="normal" fill="#222" stroke="#222" stroke-width="0.14" >0.0</text>
<line x1="494.5" y1="132.22" x2="496" y2="132.22" stroke="#555" stroke-width="0.8" />
<line x1="493.4" y1="116.35" x2="496" y2="116.35" stroke="#555" stroke-width="0.8" />
<text x="490.8" y="118.75" font-size="7.6" text-anchor="end" font-weight="normal" fill="#222" stroke="#222" stroke-width="0.14" >0.4</text>
<line x1="494.5" y1="100.47" x2="496" y2="100.47" stroke="#555" stroke-width="0.8" />
<line x1="493.4" y1="84.6" x2="496" y2="84.6" stroke="#555" stroke-width="0.8" />
<text x="490.8" y="87" font-size="7.6" text-anchor="end" font-weight="normal" fill="#222" stroke="#222" stroke-width="0.14" >0.8</text>
<line x1="494.5" y1="68.72" x2="496" y2="68.72" stroke="#555" stroke-width="0.8" />
<line x1="493.4" y1="52.85" x2="496" y2="52.85" stroke="#555" stroke-width="0.8" />
<text x="490.8" y="55.25" font-size="7.6" text-anchor="end" font-weight="normal" fill="#222" stroke="#222" stroke-width="0.14" >1.2</text>
<line x1="494.5" y1="36.97" x2="496" y2="36.97" stroke="#555" stroke-width="0.8" />
<line x1="493.4" y1="21.1" x2="496" y2="21.1" stroke="#555" stroke-width="0.8" />
<text x="490.8" y="23.5" font-size="7.6" text-anchor="end" font-weight="normal" fill="#222" stroke="#222" stroke-width="0.14" >1.6</text>
<line x1="494.5" y1="5.22" x2="496" y2="5.22" stroke="#555" stroke-width="0.8" />
<line x1="496" y1="156" x2="496" y2="158.6" stroke="#555" stroke-width="0.8" />
<text x="496" y="167.4" font-size="7.6" text-anchor="middle" font-weight="normal" fill="#222" stroke="#222" stroke-width="0.14" >500</text>
<line x1="521" y1="156" x2="521" y2="157.5" stroke="#555" stroke-width="0.8" />
<line x1="546" y1="156" x2="546" y2="158.6" stroke="#555" stroke-width="0.8" />
<text x="546" y="167.4" font-size="7.6" text-anchor="middle" font-weight="normal" fill="#222" stroke="#222" stroke-width="0.14" >600</text>
<line x1="571" y1="156" x2="571" y2="157.5" stroke="#555" stroke-width="0.8" />
<line x1="596" y1="156" x2="596" y2="158.6" stroke="#555" stroke-width="0.8" />
<text x="596" y="167.4" font-size="7.6" text-anchor="middle" font-weight="normal" fill="#222" stroke="#222" stroke-width="0.14" >700</text>
<line x1="621" y1="156" x2="621" y2="157.5" stroke="#555" stroke-width="0.8" />
<line x1="646" y1="156" x2="646" y2="158.6" stroke="#555" stroke-width="0.8" />
<text x="646" y="167.4" font-size="7.6" text-anchor="middle" font-weight="normal" fill="#222" stroke="#222" stroke-width="0.14" >800</text>
<line x1="671" y1="156" x2="671" y2="157.5" stroke="#555" stroke-width="0.8" />
<text x="589.15" y="178.3" font-size="9.2" text-anchor="middle" font-weight="normal" fill="#222" stroke="#222" stroke-width="0.14" >Wavelength (nm)</text>
<text x="472.6" y="80.7" font-size="9.2" text-anchor="middle" font-weight="normal" fill="#222" stroke="#222" stroke-width="0.14" transform="rotate(-90 472.6 80.7)" >Nor. PL Intensity</text>
<text x="462" y="11.2" font-size="13.8" text-anchor="start" font-weight="bold" fill="#111" stroke="#111" stroke-width="0.12" >(c)</text>
<line x1="500.9" y1="14.6" x2="519.9" y2="14.6" stroke="#f3852b" stroke-width="1.7" />
<line x1="500.9" y1="24" x2="519.9" y2="24" stroke="#e82228" stroke-width="1.7" />
<text x="523.4" y="17.3" font-size="7.6" text-anchor="start" font-weight="normal" fill="#222" stroke="#222" stroke-width="0.14" >Orange-1</text>
<text x="523.4" y="26.7" font-size="7.6" text-anchor="start" font-weight="normal" fill="#222" stroke="#222" stroke-width="0.14" >Red-1</text>
<polyline points="496,147.8 496.37,147.8 496.75,147.8 497.12,147.8 497.49,147.8 497.87,147.81 498.24,147.81 498.61,147.81 498.99,147.81 499.36,147.81 499.73,147.81 500.11,147.81 500.48,147.81 500.85,147.81 501.23,147.8 501.6,147.8 501.97,147.8 502.35,147.8 502.72,147.81 503.09,147.82 503.47,147.84 503.84,147.86 504.21,147.88 504.59,147.9 504.96,147.92 505.33,147.93 505.71,147.95 506.08,147.96 506.45,147.96 506.83,147.96 507.2,147.96 507.57,147.94 507.95,147.92 508.32,147.89 508.69,147.84 509.07,147.79 509.44,147.72 509.81,147.65 510.19,147.55 510.56,147.45 510.93,147.35 511.31,147.24 511.68,147.13 512.05,147 512.43,146.87 512.8,146.73 513.17,146.58 513.55,146.41 513.92,146.24 514.29,146.05 514.67,145.85 515.04,145.64 515.41,145.41 515.79,145.16 516.16,144.9 516.53,144.62 516.91,144.32 517.28,144 517.65,143.65 518.03,143.25 518.4,142.79 518.77,142.26 519.15,141.69 519.52,141.07 519.89,140.41 520.27,139.71 520.64,138.98 521.01,138.22 521.39,137.45 521.76,136.65 522.13,135.79 522.51,134.87 522.88,133.89 523.25,132.86 523.63,131.8 524,130.7 524.37,129.59 524.75,128.46 525.12,127.31 525.49,126.13 525.87,124.91 526.24,123.66 526.61,122.38 526.99,121.08 527.36,119.77 527.73,118.43 528.11,117.09 528.48,115.71 528.85,114.31 529.23,112.89 529.6,111.46 529.97,110.03 530.35,108.6 530.72,107.17 531.09,105.77 531.47,104.37 531.84,102.98 532.21,101.58 532.59,100.18 532.96,98.78 533.33,97.4 533.71,96.04 534.08,94.69 534.45,93.38 534.83,92.11 535.2,90.84 535.57,89.56 535.95,88.28 536.32,87.02 536.69,85.79 537.07,84.59 537.44,83.43 537.81,82.33 538.19,81.29 538.56,80.33 538.93,79.45 539.31,78.59 539.68,77.77 540.05,76.97 540.43,76.21 540.8,75.48 541.17,74.8 541.55,74.16 541.92,73.56 542.29,73.01 542.67,72.51 543.04,72.07 543.42,71.68 543.79,71.35 544.16,71.06 544.54,70.81 544.91,70.6 545.28,70.43 545.66,70.29 546.03,70.2 546.4,70.13 546.78,70.1 547.15,70.1 547.52,70.13 547.9,70.18 548.27,70.27 548.64,70.37 549.02,70.51 549.39,70.67 549.76,70.86 550.14,71.08 550.51,71.33 550.88,71.61 551.26,71.91 551.63,72.22 552,72.55 552.38,72.89 552.75,73.25 553.12,73.61 553.5,73.97 553.87,74.34 554.24,74.7 554.62,75.06 554.99,75.42 555.36,75.76 555.74,76.09 556.11,76.41 556.48,76.71 556.86,77 557.23,77.28 557.6,77.56 557.98,77.84 558.35,78.11 558.72,78.4 559.1,78.69 559.47,78.99 559.84,79.3 560.22,79.64 560.59,79.99 560.96,80.36 561.34,80.76 561.71,81.18 562.08,81.61 562.46,82.06 562.83,82.52 563.2,82.99 563.58,83.47 563.95,83.94 564.32,84.42 564.7,84.89 565.07,85.36 565.44,85.82 565.82,86.27 566.19,86.71 566.56,87.13 566.94,87.53 567.31,87.91 567.68,88.27 568.06,88.61 568.43,88.94 568.8,89.26 569.18,89.56 569.55,89.86 569.92,90.15 570.3,90.43 570.67,90.71 571.04,90.99 571.42,91.27 571.79,91.55 572.16,91.84 572.54,92.13 572.91,92.43 573.28,92.73 573.66,93.05 574.03,93.37 574.4,93.7 574.78,94.02 575.15,94.35 575.52,94.68 575.9,95.02 576.27,95.35 576.64,95.69 577.02,96.02 577.39,96.36 577.76,96.7 578.14,97.04 578.51,97.39 578.88,97.73 579.26,98.07 579.63,98.41 580,98.76 580.38,99.1 580.75,99.45 581.12,99.8 581.5,100.15 581.87,100.51 582.24,100.88 582.62,101.25 582.99,101.62 583.36,101.99 583.74,102.36 584.11,102.72 584.48,103.08 584.86,103.43 585.23,103.77 585.6,104.1 585.98,104.42 586.35,104.72 586.72,105.02 587.1,105.31 587.47,105.59 587.84,105.87 588.22,106.14 588.59,106.41 588.96,106.68 589.34,106.94 589.71,107.2 590.08,107.45 590.46,107.71 590.83,107.96 591.2,108.21 591.58,108.46 591.95,108.71 592.32,108.97 592.7,109.22 593.07,109.47 593.44,109.73 593.82,109.98 594.19,110.24 594.56,110.48 594.94,110.73 595.31,110.97 595.68,111.21 596.06,111.46 596.43,111.7 596.8,111.94 597.18,112.18 597.55,112.43 597.92,112.67 598.3,112.92 598.67,113.18 599.04,113.43 599.42,113.7 599.79,113.97 600.16,114.24 600.54,114.52 600.91,114.81 601.28,115.1 601.66,115.4 602.03,115.7 602.4,116 602.78,116.3 603.15,116.6 603.52,116.9 603.9,117.2 604.27,117.49 604.64,117.79 605.02,118.07 605.39,118.35 605.76,118.63 606.14,118.9 606.51,119.16 606.88,119.42 607.26,119.68 607.63,119.93 608,120.18 608.38,120.43 608.75,120.68 609.12,120.92 609.5,121.16 609.87,121.4 610.24,121.63 610.62,121.87 610.99,122.1 611.36,122.33 611.74,122.56 612.11,122.79 612.48,123.01 612.86,123.23 613.23,123.45 613.6,123.67 613.98,123.89 614.35,124.1 614.72,124.31 615.1,124.52 615.47,124.73 615.84,124.94 616.22,125.15 616.59,125.35 616.96,125.56 617.34,125.77 617.71,125.97 618.08,126.18 618.46,126.39 618.83,126.59 619.2,126.8 619.58,127.01 619.95,127.23 620.32,127.45 620.7,127.66 621.07,127.89 621.44,128.11 621.82,128.33 622.19,128.55 622.56,128.76 622.94,128.98 623.31,129.2 623.68,129.41 624.06,129.61 624.43,129.81 624.8,130.01 625.18,130.2 625.55,130.39 625.92,130.57 626.3,130.73 626.67,130.89 627.04,131.05 627.42,131.19 627.79,131.33 628.16,131.46 628.54,131.59 628.91,131.71 629.28,131.83 629.66,131.95 630.03,132.07 630.4,132.19 630.78,132.31 631.15,132.44 631.52,132.56 631.9,132.69 632.27,132.83 632.64,132.97 633.02,133.11 633.39,133.25 633.76,133.4 634.14,133.54 634.51,133.69 634.88,133.84 635.26,133.99 635.63,134.14 636.01,134.29 636.38,134.43 636.75,134.57 637.13,134.71 637.5,134.85 637.87,134.99 638.25,135.12 638.62,135.24 638.99,135.37 639.37,135.48 639.74,135.59 640.11,135.7 640.49,135.8 640.86,135.9 641.23,135.99 641.61,136.09 641.98,136.18 642.35,136.26 642.73,136.35 643.1,136.44 643.47,136.52 643.85,136.61 644.22,136.69 644.59,136.78 644.97,136.87 645.34,136.96 645.71,137.05 646.09,137.15 646.46,137.25 646.83,137.35 647.21,137.45 647.58,137.56 647.95,137.67 648.33,137.78 648.7,137.88 649.07,137.99 649.45,138.1 649.82,138.2 650.19,138.3 650.57,138.4 650.94,138.49 651.31,138.59 651.69,138.67 652.06,138.75 652.43,138.83 652.81,138.9 653.18,138.96 653.55,139.03 653.93,139.09 654.3,139.15 654.67,139.2 655.05,139.26 655.42,139.31 655.79,139.35 656.17,139.4 656.54,139.44 656.91,139.49 657.29,139.53 657.66,139.56 658.03,139.6 658.41,139.64 658.78,139.67 659.15,139.7 659.53,139.73 659.9,139.76 660.27,139.78 660.65,139.8 661.02,139.82 661.39,139.84 661.77,139.85 662.14,139.86 662.51,139.87 662.89,139.88 663.26,139.89 663.63,139.9 664.01,139.91 664.38,139.93 664.75,139.94 665.13,139.95 665.5,139.97 665.87,139.99 666.25,140.02 666.62,140.04 666.99,140.07 667.37,140.09 667.74,140.12 668.11,140.15 668.49,140.18 668.86,140.21 669.23,140.24 669.61,140.27 669.98,140.31 670.35,140.34 670.73,140.37 671.1,140.4 671.47,140.43 671.85,140.46 672.22,140.49 672.59,140.52 672.97,140.55 673.34,140.58 673.71,140.6 674.09,140.63 674.46,140.65 674.83,140.67 675.21,140.7 675.58,140.72 675.95,140.74 676.33,140.76 676.7,140.79 677.07,140.81 677.45,140.83 677.82,140.85 678.19,140.87 678.57,140.89 678.94,140.91 679.31,140.93 679.69,140.95 680.06,140.97 680.43,140.99 680.81,141.02 681.18,141.04 681.55,141.06 681.93,141.08 682.3,141.1" fill="none" stroke="#f3852b" stroke-width="1.5" stroke-linejoin="round" stroke-linecap="round" />
<polyline points="496,147.8 496.37,147.8 496.75,147.8 497.12,147.8 497.49,147.81 497.87,147.81 498.24,147.81 498.61,147.82 498.99,147.82 499.36,147.82 499.73,147.82 500.11,147.82 500.48,147.82 500.85,147.82 501.23,147.81 501.6,147.8 501.97,147.79 502.35,147.78 502.72,147.78 503.09,147.77 503.47,147.77 503.84,147.77 504.21,147.77 504.59,147.77 504.96,147.77 505.33,147.77 505.71,147.78 506.08,147.78 506.45,147.78 506.83,147.78 507.2,147.78 507.57,147.77 507.95,147.77 508.32,147.76 508.69,147.76 509.07,147.75 509.44,147.73 509.81,147.72 510.19,147.7 510.56,147.68 510.93,147.66 511.31,147.63 511.68,147.6 512.05,147.56 512.43,147.52 512.8,147.48 513.17,147.43 513.55,147.37 513.92,147.31 514.29,147.25 514.67,147.19 515.04,147.12 515.41,147.06 515.79,146.99 516.16,146.93 516.53,146.86 516.91,146.78 517.28,146.71 517.65,146.63 518.03,146.55 518.4,146.47 518.77,146.38 519.15,146.28 519.52,146.18 519.89,146.08 520.27,145.97 520.64,145.85 521.01,145.72 521.39,145.59 521.76,145.45 522.13,145.31 522.51,145.15 522.88,144.98 523.25,144.81 523.63,144.63 524,144.43 524.37,144.23 524.75,144.01 525.12,143.79 525.49,143.52 525.87,143.19 526.24,142.8 526.61,142.37 526.99,141.89 527.36,141.37 527.73,140.82 528.11,140.25 528.48,139.66 528.85,139.05 529.23,138.44 529.6,137.83 529.97,137.21 530.35,136.59 530.72,135.96 531.09,135.3 531.47,134.62 531.84,133.91 532.21,133.17 532.59,132.4 532.96,131.59 533.33,130.73 533.71,129.83 534.08,128.88 534.45,127.88 534.83,126.84 535.2,125.77 535.57,124.67 535.95,123.54 536.32,122.4 536.69,121.24 537.07,120.07 537.44,118.9 537.81,117.73 538.19,116.56 538.56,115.41 538.93,114.25 539.31,113.07 539.68,111.88 540.05,110.68 540.43,109.47 540.8,108.26 541.17,107.05 541.55,105.84 541.92,104.65 542.29,103.47 542.67,102.3 543.04,101.16 543.42,100.04 543.79,98.95 544.16,97.83 544.54,96.7 544.91,95.56 545.28,94.41 545.66,93.25 546.03,92.1 546.4,90.96 546.78,89.83 547.15,88.71 547.52,87.63 547.9,86.57 548.27,85.55 548.64,84.57 549.02,83.63 549.39,82.75 549.76,81.92 550.14,81.16 550.51,80.46 550.88,79.82 551.26,79.21 551.63,78.61 552,78.05 552.38,77.5 552.75,76.98 553.12,76.47 553.5,75.99 553.87,75.54 554.24,75.1 554.62,74.68 554.99,74.28 555.36,73.9 555.74,73.54 556.11,73.2 556.48,72.88 556.86,72.57 557.23,72.28 557.6,72.01 557.98,71.76 558.35,71.52 558.72,71.3 559.1,71.1 559.47,70.91 559.84,70.73 560.22,70.57 560.59,70.43 560.96,70.3 561.34,70.19 561.71,70.09 562.08,70.01 562.46,69.95 562.83,69.9 563.2,69.86 563.58,69.84 563.95,69.83 564.32,69.83 564.7,69.84 565.07,69.86 565.44,69.89 565.82,69.93 566.19,69.98 566.56,70.04 566.94,70.11 567.31,70.18 567.68,70.26 568.06,70.34 568.43,70.43 568.8,70.52 569.18,70.62 569.55,70.72 569.92,70.82 570.3,70.92 570.67,71.02 571.04,71.13 571.42,71.23 571.79,71.33 572.16,71.43 572.54,71.53 572.91,71.63 573.28,71.73 573.66,71.85 574.03,71.99 574.4,72.13 574.78,72.29 575.15,72.46 575.52,72.64 575.9,72.82 576.27,73.02 576.64,73.23 577.02,73.44 577.39,73.66 577.76,73.88 578.14,74.11 578.51,74.35 578.88,74.59 579.26,74.84 579.63,75.08 580,75.33 580.38,75.58 580.75,75.85 581.12,76.15 581.5,76.47 581.87,76.81 582.24,77.17 582.62,77.54 582.99,77.91 583.36,78.28 583.74,78.66 584.11,79.02 584.48,79.37 584.86,79.7 585.23,80 585.6,80.3 585.98,80.58 586.35,80.86 586.72,81.13 587.1,81.39 587.47,81.65 587.84,81.9 588.22,82.16 588.59,82.41 588.96,82.67 589.34,82.93 589.71,83.2 590.08,83.47 590.46,83.75 590.83,84.03 591.2,84.33 591.58,84.64 591.95,84.97 592.32,85.3 592.7,85.66 593.07,86.03 593.44,86.41 593.82,86.81 594.19,87.21 594.56,87.62 594.94,88.04 595.31,88.46 595.68,88.89 596.06,89.32 596.43,89.74 596.8,90.16 597.18,90.58 597.55,90.99 597.92,91.4 598.3,91.79 598.67,92.18 599.04,92.56 599.42,92.93 599.79,93.3 600.16,93.67 600.54,94.03 600.91,94.39 601.28,94.76 601.66,95.11 602.03,95.47 602.4,95.83 602.78,96.2 603.15,96.56 603.52,96.93 603.9,97.3 604.27,97.67 604.64,98.04 605.02,98.41 605.39,98.79 605.76,99.16 606.14,99.54 606.51,99.92 606.88,100.29 607.26,100.67 607.63,101.05 608,101.42 608.38,101.8 608.75,102.18 609.12,102.55 609.5,102.93 609.87,103.3 610.24,103.68 610.62,104.05 610.99,104.42 611.36,104.79 611.74,105.16 612.11,105.53 612.48,105.89 612.86,106.26 613.23,106.62 613.6,106.98 613.98,107.33 614.35,107.68 614.72,108.03 615.1,108.38 615.47,108.72 615.84,109.06 616.22,109.41 616.59,109.75 616.96,110.09 617.34,110.44 617.71,110.78 618.08,111.13 618.46,111.48 618.83,111.83 619.2,112.19 619.58,112.56 619.95,112.93 620.32,113.3 620.7,113.68 621.07,114.06 621.44,114.44 621.82,114.82 622.19,115.2 622.56,115.58 622.94,115.95 623.31,116.33 623.68,116.69 624.06,117.05 624.43,117.41 624.8,117.76 625.18,118.09 625.55,118.42 625.92,118.74 626.3,119.04 626.67,119.34 627.04,119.62 627.42,119.89 627.79,120.15 628.16,120.41 628.54,120.66 628.91,120.9 629.28,121.13 629.66,121.37 630.03,121.59 630.4,121.82 630.78,122.04 631.15,122.27 631.52,122.49 631.9,122.72 632.27,122.94 632.64,123.17 633.02,123.39 633.39,123.61 633.76,123.82 634.14,124.03 634.51,124.24 634.88,124.45 635.26,124.66 635.63,124.86 636.01,125.07 636.38,125.27 636.75,125.48 637.13,125.68 637.5,125.89 637.87,126.1 638.25,126.31 638.62,126.52 638.99,126.74 639.37,126.96 639.74,127.18 640.11,127.41 640.49,127.64 640.86,127.87 641.23,128.11 641.61,128.34 641.98,128.58 642.35,128.81 642.73,129.04 643.1,129.28 643.47,129.5 643.85,129.73 644.22,129.95 644.59,130.16 644.97,130.37 645.34,130.57 645.71,130.76 646.09,130.95 646.46,131.14 646.83,131.32 647.21,131.5 647.58,131.68 647.95,131.86 648.33,132.03 648.7,132.2 649.07,132.36 649.45,132.53 649.82,132.69 650.19,132.85 650.57,133 650.94,133.16 651.31,133.31 651.69,133.46 652.06,133.61 652.43,133.75 652.81,133.9 653.18,134.04 653.55,134.18 653.93,134.32 654.3,134.45 654.67,134.59 655.05,134.72 655.42,134.85 655.79,134.98 656.17,135.11 656.54,135.23 656.91,135.36 657.29,135.48 657.66,135.6 658.03,135.72 658.41,135.83 658.78,135.94 659.15,136.06 659.53,136.16 659.9,136.27 660.27,136.38 660.65,136.48 661.02,136.58 661.39,136.68 661.77,136.77 662.14,136.87 662.51,136.96 662.89,137.05 663.26,137.14 663.63,137.23 664.01,137.32 664.38,137.4 664.75,137.48 665.13,137.57 665.5,137.65 665.87,137.73 666.25,137.81 666.62,137.89 666.99,137.97 667.37,138.05 667.74,138.12 668.11,138.2 668.49,138.28 668.86,138.35 669.23,138.43 669.61,138.5 669.98,138.58 670.35,138.65 670.73,138.73 671.1,138.8 671.47,138.87 671.85,138.94 672.22,139.01 672.59,139.08 672.97,139.15 673.34,139.22 673.71,139.29 674.09,139.35 674.46,139.42 674.83,139.48 675.21,139.55 675.58,139.61 675.95,139.67 676.33,139.73 676.7,139.8 677.07,139.86 677.45,139.91 677.82,139.97 678.19,140.03 678.57,140.08 678.94,140.12 679.31,140.16 679.69,140.19 680.06,140.23 680.43,140.25 680.81,140.28 681.18,140.31 681.55,140.34 681.93,140.37 682.3,140.4" fill="none" stroke="#e82228" stroke-width="1.5" stroke-linejoin="round" stroke-linecap="round" />
<circle cx="501.6" cy="147.8" r="1.45" fill="#fff" fill-opacity="0.9" stroke="#f3852b" stroke-width="1.1"/>
<circle cx="517.5" cy="143.8" r="1.45" fill="#fff" fill-opacity="0.9" stroke="#f3852b" stroke-width="1.1"/>
<circle cx="521.6" cy="137" r="1.45" fill="#fff" fill-opacity="0.9" stroke="#f3852b" stroke-width="1.1"/>
<circle cx="524.8" cy="128.3" r="1.45" fill="#fff" fill-opacity="0.9" stroke="#f3852b" stroke-width="1.1"/>
<circle cx="527.8" cy="118.2" r="1.45" fill="#fff" fill-opacity="0.9" stroke="#f3852b" stroke-width="1.1"/>
<circle cx="531.3" cy="105" r="1.45" fill="#fff" fill-opacity="0.9" stroke="#f3852b" stroke-width="1.1"/>
<circle cx="534.8" cy="92.2" r="1.45" fill="#fff" fill-opacity="0.9" stroke="#f3852b" stroke-width="1.1"/>
<circle cx="538.7" cy="80" r="1.45" fill="#fff" fill-opacity="0.9" stroke="#f3852b" stroke-width="1.1"/>
<circle cx="543.5" cy="71.6" r="1.45" fill="#fff" fill-opacity="0.9" stroke="#f3852b" stroke-width="1.1"/>
<circle cx="549" cy="70.5" r="1.45" fill="#fff" fill-opacity="0.9" stroke="#f3852b" stroke-width="1.1"/>
<circle cx="556.1" cy="76.4" r="1.45" fill="#fff" fill-opacity="0.9" stroke="#f3852b" stroke-width="1.1"/>
<circle cx="560.9" cy="80.3" r="1.45" fill="#fff" fill-opacity="0.9" stroke="#f3852b" stroke-width="1.1"/>
<circle cx="567.2" cy="87.8" r="1.45" fill="#fff" fill-opacity="0.9" stroke="#f3852b" stroke-width="1.1"/>
<circle cx="573.6" cy="93" r="1.45" fill="#fff" fill-opacity="0.9" stroke="#f3852b" stroke-width="1.1"/>
<circle cx="580.7" cy="99.4" r="1.45" fill="#fff" fill-opacity="0.9" stroke="#f3852b" stroke-width="1.1"/>
<circle cx="586.2" cy="104.6" r="1.45" fill="#fff" fill-opacity="0.9" stroke="#f3852b" stroke-width="1.1"/>
<circle cx="593.4" cy="109.7" r="1.45" fill="#fff" fill-opacity="0.9" stroke="#f3852b" stroke-width="1.1"/>
<circle cx="599.7" cy="113.9" r="1.45" fill="#fff" fill-opacity="0.9" stroke="#f3852b" stroke-width="1.1"/>
<circle cx="606" cy="118.8" r="1.45" fill="#fff" fill-opacity="0.9" stroke="#f3852b" stroke-width="1.1"/>
<circle cx="612.3" cy="122.9" r="1.45" fill="#fff" fill-opacity="0.9" stroke="#f3852b" stroke-width="1.1"/>
<circle cx="619.2" cy="126.8" r="1.45" fill="#fff" fill-opacity="0.9" stroke="#f3852b" stroke-width="1.1"/>
<circle cx="626" cy="130.6" r="1.45" fill="#fff" fill-opacity="0.9" stroke="#f3852b" stroke-width="1.1"/>
<circle cx="632.2" cy="132.8" r="1.45" fill="#fff" fill-opacity="0.9" stroke="#f3852b" stroke-width="1.1"/>
<circle cx="639.1" cy="135.4" r="1.45" fill="#fff" fill-opacity="0.9" stroke="#f3852b" stroke-width="1.1"/>
<circle cx="645.9" cy="137.1" r="1.45" fill="#fff" fill-opacity="0.9" stroke="#f3852b" stroke-width="1.1"/>
<circle cx="652.3" cy="138.8" r="1.45" fill="#fff" fill-opacity="0.9" stroke="#f3852b" stroke-width="1.1"/>
<circle cx="659.1" cy="139.7" r="1.45" fill="#fff" fill-opacity="0.9" stroke="#f3852b" stroke-width="1.1"/>
<circle cx="666" cy="140" r="1.45" fill="#fff" fill-opacity="0.9" stroke="#f3852b" stroke-width="1.1"/>
<circle cx="673.7" cy="140.6" r="1.45" fill="#fff" fill-opacity="0.9" stroke="#f3852b" stroke-width="1.1"/>
<circle cx="501.6" cy="147.8" r="1.45" fill="#fff" fill-opacity="0.9" stroke="#e82228" stroke-width="1.1"/>
<circle cx="514" cy="147.3" r="1.45" fill="#fff" fill-opacity="0.9" stroke="#e82228" stroke-width="1.1"/>
<circle cx="525.1" cy="143.8" r="1.45" fill="#fff" fill-opacity="0.9" stroke="#e82228" stroke-width="1.1"/>
<circle cx="529.8" cy="137.5" r="1.45" fill="#fff" fill-opacity="0.9" stroke="#e82228" stroke-width="1.1"/>
<circle cx="533.8" cy="129.6" r="1.45" fill="#fff" fill-opacity="0.9" stroke="#e82228" stroke-width="1.1"/>
<circle cx="538.5" cy="115.6" r="1.45" fill="#fff" fill-opacity="0.9" stroke="#e82228" stroke-width="1.1"/>
<circle cx="543.6" cy="99.5" r="1.45" fill="#fff" fill-opacity="0.9" stroke="#e82228" stroke-width="1.1"/>
<circle cx="550.6" cy="80.3" r="1.45" fill="#fff" fill-opacity="0.9" stroke="#e82228" stroke-width="1.1"/>
<circle cx="560.4" cy="70.5" r="1.45" fill="#fff" fill-opacity="0.9" stroke="#e82228" stroke-width="1.1"/>
<circle cx="572.8" cy="71.6" r="1.45" fill="#fff" fill-opacity="0.9" stroke="#e82228" stroke-width="1.1"/>
<circle cx="580.4" cy="75.6" r="1.45" fill="#fff" fill-opacity="0.9" stroke="#e82228" stroke-width="1.1"/>
<circle cx="585.1" cy="79.9" r="1.45" fill="#fff" fill-opacity="0.9" stroke="#e82228" stroke-width="1.1"/>
<circle cx="592.1" cy="85.1" r="1.45" fill="#fff" fill-opacity="0.9" stroke="#e82228" stroke-width="1.1"/>
<circle cx="598.4" cy="91.9" r="1.45" fill="#fff" fill-opacity="0.9" stroke="#e82228" stroke-width="1.1"/>
<circle cx="603.8" cy="97.2" r="1.45" fill="#fff" fill-opacity="0.9" stroke="#e82228" stroke-width="1.1"/>
<circle cx="612.9" cy="106.3" r="1.45" fill="#fff" fill-opacity="0.9" stroke="#e82228" stroke-width="1.1"/>
<circle cx="618.9" cy="111.9" r="1.45" fill="#fff" fill-opacity="0.9" stroke="#e82228" stroke-width="1.1"/>
<circle cx="626" cy="118.8" r="1.45" fill="#fff" fill-opacity="0.9" stroke="#e82228" stroke-width="1.1"/>
<circle cx="632.2" cy="122.9" r="1.45" fill="#fff" fill-opacity="0.9" stroke="#e82228" stroke-width="1.1"/>
<circle cx="639.1" cy="126.8" r="1.45" fill="#fff" fill-opacity="0.9" stroke="#e82228" stroke-width="1.1"/>
<circle cx="645.4" cy="130.6" r="1.45" fill="#fff" fill-opacity="0.9" stroke="#e82228" stroke-width="1.1"/>
<circle cx="652.3" cy="133.7" r="1.45" fill="#fff" fill-opacity="0.9" stroke="#e82228" stroke-width="1.1"/>
<circle cx="660" cy="136.3" r="1.45" fill="#fff" fill-opacity="0.9" stroke="#e82228" stroke-width="1.1"/>
<circle cx="668.6" cy="138.3" r="1.45" fill="#fff" fill-opacity="0.9" stroke="#e82228" stroke-width="1.1"/>
<circle cx="678" cy="140" r="1.45" fill="#fff" fill-opacity="0.9" stroke="#e82228" stroke-width="1.1"/>
<rect x="496" y="5.5" width="186.3" height="150.5" fill="none" stroke="#555" stroke-width="0.9"/>
<defs><filter id="bl1" x="-20%" y="-20%" width="140%" height="140%"><feGaussianBlur stdDeviation="0.7"/></filter><filter id="bl2" x="-20%" y="-20%" width="140%" height="140%"><feGaussianBlur stdDeviation="1.6"/></filter></defs>
<defs><clipPath id="dco"><circle cx="594.9" cy="25.3" r="19.3"/></clipPath></defs>
<circle cx="594.9" cy="25.3" r="19.3" fill="#2a3346"/>
<g clip-path="url(#dco)">
<ellipse cx="594.9" cy="25.8" rx="15.83" ry="15.44" fill="#7a2418" filter="url(#bl2)"/>
<g filter="url(#bl1)"><circle cx="605.79" cy="30.96" r="2.27" fill="#7a1e16"/><circle cx="587.49" cy="27.42" r="0.93" fill="#a82618"/><circle cx="593.37" cy="26.15" r="2.1" fill="#5a1e1c"/><circle cx="590.66" cy="32.91" r="1.81" fill="#b42a18"/><circle cx="592.08" cy="17.63" r="2.2" fill="#a82618"/><circle cx="605.54" cy="26.98" r="2.08" fill="#a82618"/><circle cx="600.58" cy="36.28" r="1.47" fill="#962216"/><circle cx="588.68" cy="30.81" r="1.5" fill="#962216"/><circle cx="597.62" cy="34.65" r="2.23" fill="#5a1e1c"/><circle cx="590.65" cy="31.25" r="1.95" fill="#a82618"/><circle cx="590.78" cy="34.98" r="1.48" fill="#5a1e1c"/><circle cx="588.11" cy="34.29" r="2.18" fill="#7a1e16"/><circle cx="586.68" cy="28.96" r="2.16" fill="#962216"/><circle cx="599.96" cy="36.14" r="1.56" fill="#b42a18"/><circle cx="586.85" cy="17.42" r="1.42" fill="#7a1e16"/><circle cx="599.12" cy="25.34" r="1.97" fill="#962216"/><circle cx="590.14" cy="14.37" r="1.82" fill="#5a1e1c"/><circle cx="602.2" cy="27.83" r="1.64" fill="#5a1e1c"/><circle cx="598.47" cy="21.43" r="1.79" fill="#b42a18"/><circle cx="600.26" cy="16.69" r="0.94" fill="#a82618"/><circle cx="597.57" cy="16.9" r="1.32" fill="#7a1e16"/><circle cx="591.47" cy="32.1" r="2.23" fill="#5a1e1c"/><circle cx="594.4" cy="35.31" r="1.58" fill="#b42a18"/><circle cx="583.01" cy="28.3" r="1.81" fill="#5a1e1c"/><circle cx="599.1" cy="12.51" r="2.11" fill="#962216"/><circle cx="593.31" cy="34.75" r="2.06" fill="#962216"/><circle cx="597.44" cy="14.47" r="1.34" fill="#7a1e16"/><circle cx="598.4" cy="16.91" r="1.91" fill="#7a1e16"/><circle cx="606.59" cy="28.42" r="0.81" fill="#5a1e1c"/><circle cx="586.61" cy="29.84" r="1.12" fill="#962216"/><circle cx="598.32" cy="17.16" r="2.21" fill="#5a1e1c"/><circle cx="599.52" cy="30.11" r="2" fill="#962216"/><circle cx="586.26" cy="22.83" r="1.97" fill="#962216"/><circle cx="596.49" cy="23.3" r="2" fill="#b42a18"/><circle cx="602.09" cy="24.17" r="2.28" fill="#a82618"/><circle cx="587.03" cy="17.58" r="1.88" fill="#7a1e16"/><circle cx="598.11" cy="20.59" r="2.01" fill="#5a1e1c"/><circle cx="589.53" cy="23.57" r="1.49" fill="#5a1e1c"/><circle cx="587.25" cy="31.89" r="0.81" fill="#5a1e1c"/><circle cx="592.64" cy="27.98" r="2.3" fill="#5a1e1c"/><circle cx="587" cy="24.41" r="1.44" fill="#b42a18"/><circle cx="600.21" cy="31.29" r="1.25" fill="#962216"/><circle cx="608.22" cy="28.63" r="0.82" fill="#5a1e1c"/><circle cx="601.39" cy="13.6" r="0.96" fill="#5a1e1c"/><circle cx="595.95" cy="17.14" r="2.11" fill="#b42a18"/><circle cx="602.06" cy="26.38" r="1.62" fill="#7a1e16"/><circle cx="583.89" cy="28.85" r="1.81" fill="#b42a18"/><circle cx="602.42" cy="28.92" r="1.59" fill="#7a1e16"/><circle cx="598.46" cy="35.93" r="1.91" fill="#5a1e1c"/><circle cx="598.16" cy="30.45" r="1.39" fill="#7a1e16"/><circle cx="608.18" cy="21.76" r="1.51" fill="#a82618"/><circle cx="596.14" cy="20.49" r="1.48" fill="#5a1e1c"/><circle cx="593.28" cy="35.01" r="0.88" fill="#962216"/><circle cx="600.75" cy="25.37" r="1.92" fill="#a82618"/><circle cx="605.09" cy="21.72" r="1.81" fill="#b42a18"/><circle cx="592.24" cy="14.36" r="2.26" fill="#a82618"/><circle cx="603.6" cy="22.79" r="1.71" fill="#5a1e1c"/><circle cx="598.68" cy="30.38" r="1.94" fill="#962216"/><circle cx="597.83" cy="32.43" r="0.99" fill="#7a1e16"/><circle cx="590.91" cy="16.88" r="1.79" fill="#b42a18"/><circle cx="601.99" cy="25.77" r="2.03" fill="#7a1e16"/><circle cx="590.21" cy="20.33" r="1.96" fill="#7a1e16"/><circle cx="587.87" cy="22.26" r="1.23" fill="#962216"/><circle cx="583.92" cy="24.38" r="2.28" fill="#7a1e16"/><circle cx="586.89" cy="33.49" r="0.94" fill="#a82618"/><circle cx="589.96" cy="19.84" r="1.93" fill="#b42a18"/><circle cx="585.84" cy="22.81" r="1.62" fill="#a82618"/><circle cx="592.8" cy="15.52" r="0.85" fill="#b42a18"/><circle cx="595.13" cy="14.89" r="1.7" fill="#a82618"/><circle cx="587.73" cy="37.08" r="0.88" fill="#5a1e1c"/><circle cx="593.98" cy="16.89" r="1.64" fill="#962216"/><circle cx="586.68" cy="17.17" r="1.29" fill="#5a1e1c"/><circle cx="601.3" cy="27.81" r="1.75" fill="#b42a18"/><circle cx="603.76" cy="19.21" r="2.15" fill="#5a1e1c"/><circle cx="601.14" cy="35.85" r="1.42" fill="#7a1e16"/><circle cx="601.75" cy="22.14" r="2.2" fill="#b42a18"/><circle cx="587.43" cy="34.54" r="2.12" fill="#a82618"/><circle cx="593.88" cy="32.53" r="1.04" fill="#a82618"/><circle cx="597.75" cy="26.28" r="0.9" fill="#962216"/><circle cx="586.04" cy="14.93" r="1.12" fill="#a82618"/><circle cx="596" cy="11.89" r="1.85" fill="#a82618"/><circle cx="595.03" cy="26.83" r="1.38" fill="#a82618"/><circle cx="582.17" cy="22.11" r="1.57" fill="#962216"/><circle cx="583.02" cy="30.48" r="2.11" fill="#5a1e1c"/><circle cx="594.02" cy="21.04" r="1.51" fill="#5a1e1c"/><circle cx="589.84" cy="33.31" r="1.16" fill="#b42a18"/><circle cx="590.55" cy="17.99" r="1.82" fill="#a82618"/><circle cx="587.43" cy="29.29" r="1.27" fill="#5a1e1c"/><circle cx="602.77" cy="19.03" r="1.99" fill="#7a1e16"/><circle cx="606.87" cy="29.35" r="1.81" fill="#5a1e1c"/><circle cx="599.01" cy="32.32" r="1.53" fill="#b42a18"/><circle cx="588.33" cy="15.31" r="2.06" fill="#5a1e1c"/><circle cx="599.6" cy="22.48" r="2.11" fill="#b42a18"/><circle cx="585.43" cy="24.67" r="1.57" fill="#a82618"/><circle cx="598.07" cy="13.82" r="0.89" fill="#962216"/><circle cx="603.56" cy="22.74" r="1.3" fill="#5a1e1c"/><circle cx="595.12" cy="24.62" r="1.47" fill="#5a1e1c"/><circle cx="587.54" cy="25.61" r="1.02" fill="#a82618"/><circle cx="586.39" cy="23.15" r="1.89" fill="#7a1e16"/><circle cx="600.62" cy="28.11" r="2.29" fill="#7a1e16"/><circle cx="602.53" cy="29.63" r="1.77" fill="#962216"/><circle cx="593.04" cy="34.65" r="1.87" fill="#962216"/><circle cx="599.38" cy="18.26" r="2.28" fill="#b42a18"/><circle cx="582.7" cy="26.69" r="1.44" fill="#5a1e1c"/><circle cx="593.19" cy="18.22" r="1.3" fill="#b42a18"/><circle cx="594.96" cy="24.74" r="0.83" fill="#a82618"/><circle cx="594.22" cy="27.57" r="1.36" fill="#5a1e1c"/><circle cx="599.52" cy="24.75" r="1.4" fill="#a82618"/><circle cx="592.32" cy="25.24" r="2.23" fill="#a82618"/><circle cx="587.85" cy="14.22" r="1.22" fill="#a82618"/><circle cx="598.34" cy="34.38" r="2.3" fill="#7a1e16"/><circle cx="598.79" cy="32.3" r="2.18" fill="#5a1e1c"/><circle cx="606.53" cy="18.44" r="1.14" fill="#962216"/><circle cx="603.51" cy="33.14" r="1.21" fill="#b42a18"/><circle cx="590.86" cy="33.8" r="1.71" fill="#a82618"/><circle cx="589.79" cy="32.09" r="1.96" fill="#5a1e1c"/><circle cx="595.65" cy="33.18" r="1.36" fill="#a82618"/><circle cx="597.06" cy="35.5" r="2.07" fill="#7a1e16"/><circle cx="600.03" cy="28.99" r="1.6" fill="#a82618"/><circle cx="587.87" cy="36.8" r="0.9" fill="#a82618"/><circle cx="605.32" cy="20.64" r="1.05" fill="#a82618"/><circle cx="592.89" cy="30.02" r="1.98" fill="#5a1e1c"/><circle cx="597.2" cy="20.97" r="1.25" fill="#7a1e16"/><circle cx="587.05" cy="17.75" r="0.91" fill="#a82618"/><circle cx="596.14" cy="37.66" r="1.66" fill="#b42a18"/><circle cx="590.81" cy="12.46" r="1.97" fill="#5a1e1c"/><circle cx="594.98" cy="36.87" r="2.14" fill="#7a1e16"/><circle cx="596.88" cy="32.01" r="1.99" fill="#7a1e16"/><circle cx="596.68" cy="28.2" r="1.21" fill="#a82618"/><circle cx="584.66" cy="19.37" r="2.03" fill="#7a1e16"/><circle cx="603.08" cy="32.35" r="2.25" fill="#962216"/><circle cx="591.84" cy="28.74" r="2.17" fill="#5a1e1c"/><circle cx="598.49" cy="24.83" r="2.15" fill="#7a1e16"/><circle cx="607.79" cy="26.59" r="1.7" fill="#962216"/><circle cx="588.46" cy="18.96" r="1.28" fill="#a82618"/><circle cx="586.45" cy="35.94" r="1.68" fill="#5a1e1c"/><circle cx="606.7" cy="20.05" r="1.25" fill="#962216"/><circle cx="599.88" cy="25.3" r="0.81" fill="#b42a18"/><circle cx="608.49" cy="23.69" r="1.59" fill="#b42a18"/><circle cx="586.21" cy="29.13" r="1.5" fill="#962216"/><circle cx="589.16" cy="22.01" r="1.37" fill="#5a1e1c"/><circle cx="582.62" cy="22.41" r="1.35" fill="#b42a18"/><circle cx="594.9" cy="17.99" r="1.64" fill="#a82618"/><circle cx="604.61" cy="24.9" r="1.07" fill="#7a1e16"/><circle cx="606.04" cy="18.16" r="1.2" fill="#a82618"/><circle cx="605.69" cy="20.21" r="0.96" fill="#962216"/><circle cx="592.54" cy="33.63" r="1.45" fill="#a82618"/><circle cx="600.06" cy="30.39" r="1.37" fill="#a82618"/><circle cx="603.05" cy="33.81" r="1.17" fill="#7a1e16"/><circle cx="591.65" cy="28.36" r="1.07" fill="#a82618"/><circle cx="588.16" cy="13.34" r="1.11" fill="#962216"/><circle cx="593.62" cy="30.03" r="1.86" fill="#b42a18"/><circle cx="590.11" cy="33.4" r="1.03" fill="#962216"/><circle cx="591.59" cy="13.87" r="1.88" fill="#b42a18"/><circle cx="597.74" cy="17.63" r="1.48" fill="#a82618"/><circle cx="589.87" cy="20.6" r="2.02" fill="#a82618"/><circle cx="593.76" cy="27.54" r="1.58" fill="#b42a18"/><circle cx="597.57" cy="32.61" r="1.7" fill="#b42a18"/><circle cx="601.48" cy="31.48" r="1.8" fill="#5a1e1c"/><circle cx="583.42" cy="31.67" r="1.57" fill="#b42a18"/></g>
</g>
<defs><filter id="bl1" x="-20%" y="-20%" width="140%" height="140%"><feGaussianBlur stdDeviation="0.7"/></filter><filter id="bl2" x="-20%" y="-20%" width="140%" height="140%"><feGaussianBlur stdDeviation="1.6"/></filter></defs>
<defs><clipPath id="dcr"><circle cx="654.3" cy="25.3" r="19.3"/></clipPath></defs>
<circle cx="654.3" cy="25.3" r="19.3" fill="#2a1a1a"/>
<g clip-path="url(#dcr)">
<circle cx="654.3" cy="25.3" r="16.41" fill="#6a1a12" filter="url(#bl2)"/>
<g filter="url(#bl1)"><ellipse cx="656.08" cy="29.1" rx="3.35" ry="1" transform="rotate(148.11 656.08 29.1)" fill="#d02012"/><ellipse cx="666.87" cy="33.59" rx="1.46" ry="1.04" transform="rotate(113.65 666.87 33.59)" fill="#c81c10"/><ellipse cx="659.17" cy="19.2" rx="1.69" ry="1.02" transform="rotate(360.43 659.17 19.2)" fill="#f0341c"/><ellipse cx="662.28" cy="37.06" rx="2.35" ry="0.74" transform="rotate(134.9 662.28 37.06)" fill="#e0261a"/><ellipse cx="662.25" cy="14.06" rx="2.32" ry="0.91" transform="rotate(395.62 662.25 14.06)" fill="#c81c10"/><ellipse cx="643.2" cy="26.34" rx="1.3" ry="0.62" transform="rotate(241.53 643.2 26.34)" fill="#f0341c"/><ellipse cx="649.44" cy="26.02" rx="3.57" ry="0.78" transform="rotate(268.26 649.44 26.02)" fill="#e0261a"/><ellipse cx="656.69" cy="20.5" rx="1.61" ry="0.76" transform="rotate(402.55 656.69 20.5)" fill="#9a1a10"/><ellipse cx="653.69" cy="19.63" rx="1.72" ry="1.07" transform="rotate(385.4 653.69 19.63)" fill="#f0341c"/><ellipse cx="648.27" cy="35.54" rx="2.06" ry="0.98" transform="rotate(190.85 648.27 35.54)" fill="#9a1a10"/><ellipse cx="655.5" cy="12.12" rx="2.95" ry="0.66" transform="rotate(311.84 655.5 12.12)" fill="#c81c10"/><ellipse cx="667.18" cy="34.19" rx="2.31" ry="0.55" transform="rotate(114.07 667.18 34.19)" fill="#d02012"/><ellipse cx="668.29" cy="27.01" rx="2.2" ry="0.72" transform="rotate(138.94 668.29 27.01)" fill="#9a1a10"/><ellipse cx="661.29" cy="37.84" rx="1.97" ry="0.51" transform="rotate(172.34 661.29 37.84)" fill="#9a1a10"/><ellipse cx="660.21" cy="18.29" rx="1.29" ry="0.86" transform="rotate(401.96 660.21 18.29)" fill="#d02012"/><ellipse cx="660.94" cy="30.6" rx="2.58" ry="0.69" transform="rotate(86.31 660.94 30.6)" fill="#e0261a"/><ellipse cx="657.24" cy="39.74" rx="1.59" ry="0.71" transform="rotate(174.78 657.24 39.74)" fill="#f0341c"/><ellipse cx="658.1" cy="31.69" rx="2.24" ry="0.81" transform="rotate(156.93 658.1 31.69)" fill="#f0341c"/><ellipse cx="649.1" cy="39.7" rx="3.07" ry="0.78" transform="rotate(232.48 649.1 39.7)" fill="#f0341c"/><ellipse cx="645.15" cy="13.33" rx="2.94" ry="0.8" transform="rotate(290.25 645.15 13.33)" fill="#d02012"/><ellipse cx="641.1" cy="25.51" rx="3.39" ry="0.76" transform="rotate(243.2 641.1 25.51)" fill="#d02012"/><ellipse cx="664.83" cy="22.08" rx="3.39" ry="0.69" transform="rotate(467.52 664.83 22.08)" fill="#d02012"/><ellipse cx="662.38" cy="21.54" rx="2.76" ry="0.6" transform="rotate(421.8 662.38 21.54)" fill="#d02012"/><ellipse cx="659.48" cy="21.97" rx="2.45" ry="0.8" transform="rotate(479.09 659.48 21.97)" fill="#f0341c"/><ellipse cx="659.18" cy="30.94" rx="2.53" ry="0.94" transform="rotate(126.4 659.18 30.94)" fill="#e0261a"/><ellipse cx="651.06" cy="20.95" rx="2.85" ry="0.75" transform="rotate(319.31 651.06 20.95)" fill="#9a1a10"/><ellipse cx="659" cy="25.67" rx="3.4" ry="0.71" transform="rotate(55.57 659 25.67)" fill="#d02012"/><ellipse cx="666.49" cy="29.53" rx="2.37" ry="0.65" transform="rotate(27.15 666.49 29.53)" fill="#d02012"/><ellipse cx="654.27" cy="30.35" rx="3.15" ry="0.61" transform="rotate(195.75 654.27 30.35)" fill="#d02012"/><ellipse cx="661.29" cy="39.21" rx="3.3" ry="0.61" transform="rotate(161.06 661.29 39.21)" fill="#f0341c"/><ellipse cx="648.02" cy="20.35" rx="1.47" ry="0.69" transform="rotate(275.02 648.02 20.35)" fill="#f0341c"/><ellipse cx="640.53" cy="25.17" rx="2.73" ry="0.6" transform="rotate(252.78 640.53 25.17)" fill="#f0341c"/><ellipse cx="664.65" cy="29.69" rx="2.21" ry="0.89" transform="rotate(104.48 664.65 29.69)" fill="#d02012"/><ellipse cx="656.52" cy="20.32" rx="1.75" ry="0.96" transform="rotate(359.61 656.52 20.32)" fill="#f0341c"/><ellipse cx="664.37" cy="18.26" rx="2.18" ry="1.04" transform="rotate(418.3 664.37 18.26)" fill="#c81c10"/><ellipse cx="653.38" cy="11.17" rx="2.38" ry="0.61" transform="rotate(320.4 653.38 11.17)" fill="#9a1a10"/><ellipse cx="644.89" cy="34.79" rx="1.75" ry="0.7" transform="rotate(227.42 644.89 34.79)" fill="#e0261a"/><ellipse cx="648.57" cy="37.94" rx="3.46" ry="0.96" transform="rotate(201.99 648.57 37.94)" fill="#9a1a10"/><ellipse cx="640.21" cy="31.5" rx="3.28" ry="0.67" transform="rotate(264.99 640.21 31.5)" fill="#c81c10"/><ellipse cx="664.63" cy="15.3" rx="1.88" ry="0.71" transform="rotate(395.77 664.63 15.3)" fill="#c81c10"/><ellipse cx="648.21" cy="33.25" rx="2.39" ry="0.69" transform="rotate(263.32 648.21 33.25)" fill="#c81c10"/><ellipse cx="658.52" cy="18.58" rx="3.48" ry="0.99" transform="rotate(392.5 658.52 18.58)" fill="#e0261a"/><ellipse cx="668.16" cy="21.1" rx="1.45" ry="0.95" transform="rotate(492.63 668.16 21.1)" fill="#f0341c"/><ellipse cx="643.03" cy="21.09" rx="2.61" ry="1.09" transform="rotate(301.24 643.03 21.09)" fill="#c81c10"/><ellipse cx="657.91" cy="21.01" rx="1.93" ry="0.63" transform="rotate(419.75 657.91 21.01)" fill="#e0261a"/><ellipse cx="663.82" cy="29.97" rx="2.91" ry="0.66" transform="rotate(132.27 663.82 29.97)" fill="#e0261a"/><ellipse cx="660.85" cy="12.53" rx="2.31" ry="1.07" transform="rotate(324.02 660.85 12.53)" fill="#d02012"/><ellipse cx="653.35" cy="14.33" rx="2.8" ry="0.97" transform="rotate(382.64 653.35 14.33)" fill="#9a1a10"/><ellipse cx="643.72" cy="27.85" rx="2.1" ry="0.66" transform="rotate(276.79 643.72 27.85)" fill="#d02012"/><ellipse cx="645.82" cy="21.74" rx="3.03" ry="0.89" transform="rotate(277.43 645.82 21.74)" fill="#c81c10"/><ellipse cx="641.33" cy="29.7" rx="3.07" ry="0.58" transform="rotate(310.07 641.33 29.7)" fill="#e0261a"/><ellipse cx="651.49" cy="35.24" rx="3.16" ry="0.67" transform="rotate(233.69 651.49 35.24)" fill="#e0261a"/><ellipse cx="644.04" cy="33.35" rx="1.79" ry="1" transform="rotate(236.51 644.04 33.35)" fill="#f0341c"/><ellipse cx="659.63" cy="36.87" rx="2.02" ry="1.07" transform="rotate(137.39 659.63 36.87)" fill="#9a1a10"/><ellipse cx="643.62" cy="31.2" rx="2.2" ry="0.88" transform="rotate(229.91 643.62 31.2)" fill="#e0261a"/><ellipse cx="660.43" cy="33.96" rx="2.62" ry="1.07" transform="rotate(125.63 660.43 33.96)" fill="#9a1a10"/><ellipse cx="642.56" cy="30.76" rx="2.82" ry="0.98" transform="rotate(251.61 642.56 30.76)" fill="#f0341c"/><ellipse cx="650.71" cy="10.6" rx="1.78" ry="1.02" transform="rotate(384.77 650.71 10.6)" fill="#9a1a10"/><ellipse cx="659.81" cy="23.07" rx="3.46" ry="0.86" transform="rotate(424.12 659.81 23.07)" fill="#e0261a"/><ellipse cx="652.01" cy="20.15" rx="2.04" ry="0.59" transform="rotate(305.8 652.01 20.15)" fill="#c81c10"/><ellipse cx="644.74" cy="18.25" rx="3.34" ry="0.57" transform="rotate(271.4 644.74 18.25)" fill="#9a1a10"/><ellipse cx="639.39" cy="20.75" rx="3.07" ry="0.66" transform="rotate(294.48 639.39 20.75)" fill="#f0341c"/><ellipse cx="660.42" cy="27.28" rx="2.7" ry="1.02" transform="rotate(124.59 660.42 27.28)" fill="#9a1a10"/><ellipse cx="652.71" cy="20.65" rx="2.28" ry="1.06" transform="rotate(345.87 652.71 20.65)" fill="#f0341c"/><ellipse cx="663.99" cy="36.21" rx="2.15" ry="1.03" transform="rotate(152.38 663.99 36.21)" fill="#9a1a10"/><ellipse cx="668.7" cy="29.31" rx="2.96" ry="0.87" transform="rotate(77.38 668.7 29.31)" fill="#c81c10"/><ellipse cx="644.5" cy="15.47" rx="3.15" ry="0.99" transform="rotate(299.88 644.5 15.47)" fill="#d02012"/><ellipse cx="645.4" cy="19.6" rx="3.59" ry="0.94" transform="rotate(297.38 645.4 19.6)" fill="#9a1a10"/><ellipse cx="662.73" cy="27.09" rx="2.58" ry="0.99" transform="rotate(136.67 662.73 27.09)" fill="#c81c10"/><ellipse cx="648.72" cy="31.27" rx="1.87" ry="0.92" transform="rotate(224.66 648.72 31.27)" fill="#e0261a"/><ellipse cx="667.74" cy="21.02" rx="2.86" ry="1.08" transform="rotate(462.77 667.74 21.02)" fill="#e0261a"/><ellipse cx="644.38" cy="19.86" rx="2.74" ry="1.08" transform="rotate(323.58 644.38 19.86)" fill="#d02012"/><ellipse cx="662.28" cy="12.62" rx="2.74" ry="0.81" transform="rotate(381.26 662.28 12.62)" fill="#e0261a"/><ellipse cx="643.03" cy="33.89" rx="3.33" ry="0.91" transform="rotate(205.37 643.03 33.89)" fill="#d02012"/><ellipse cx="642.45" cy="31.87" rx="1.21" ry="0.83" transform="rotate(253.43 642.45 31.87)" fill="#c81c10"/><ellipse cx="648.33" cy="29.47" rx="1.5" ry="1.1" transform="rotate(184.34 648.33 29.47)" fill="#9a1a10"/><ellipse cx="651.94" cy="23.52" rx="1.51" ry="0.71" transform="rotate(340.23 651.94 23.52)" fill="#9a1a10"/><ellipse cx="640.85" cy="20.85" rx="2.58" ry="0.98" transform="rotate(276.48 640.85 20.85)" fill="#d02012"/><ellipse cx="651.38" cy="16.92" rx="3.15" ry="0.54" transform="rotate(334.23 651.38 16.92)" fill="#e0261a"/><ellipse cx="657.22" cy="39.41" rx="3.14" ry="0.62" transform="rotate(132.6 657.22 39.41)" fill="#e0261a"/><ellipse cx="650.34" cy="30.98" rx="2.64" ry="0.57" transform="rotate(180.41 650.34 30.98)" fill="#d02012"/><ellipse cx="662.58" cy="34.32" rx="1.98" ry="1.05" transform="rotate(139.62 662.58 34.32)" fill="#9a1a10"/><ellipse cx="653.97" cy="13.88" rx="2.78" ry="0.85" transform="rotate(382.87 653.97 13.88)" fill="#d02012"/><ellipse cx="655.09" cy="20.36" rx="2.07" ry="0.52" transform="rotate(369.18 655.09 20.36)" fill="#d02012"/><ellipse cx="644.88" cy="14.68" rx="3.04" ry="0.56" transform="rotate(346.35 644.88 14.68)" fill="#e0261a"/><ellipse cx="658.78" cy="35.5" rx="1.26" ry="1.01" transform="rotate(114.62 658.78 35.5)" fill="#e0261a"/><ellipse cx="649.37" cy="32.86" rx="1.8" ry="0.61" transform="rotate(150.73 649.37 32.86)" fill="#c81c10"/><ellipse cx="653.6" cy="40.31" rx="2.63" ry="0.83" transform="rotate(121.13 653.6 40.31)" fill="#f0341c"/><ellipse cx="651.79" cy="18.06" rx="2.15" ry="0.96" transform="rotate(330.11 651.79 18.06)" fill="#c81c10"/><ellipse cx="649.97" cy="15.24" rx="1.98" ry="0.62" transform="rotate(345.32 649.97 15.24)" fill="#f0341c"/><ellipse cx="658.52" cy="16.27" rx="2.5" ry="0.73" transform="rotate(370.25 658.52 16.27)" fill="#e0261a"/><ellipse cx="640.25" cy="25.7" rx="1.67" ry="0.73" transform="rotate(279.42 640.25 25.7)" fill="#d02012"/><ellipse cx="652.53" cy="17.34" rx="3.57" ry="0.68" transform="rotate(329.82 652.53 17.34)" fill="#f0341c"/><ellipse cx="662.08" cy="21.07" rx="3.28" ry="0.61" transform="rotate(494.12 662.08 21.07)" fill="#d02012"/><ellipse cx="641.44" cy="30.04" rx="2.79" ry="0.75" transform="rotate(213.54 641.44 30.04)" fill="#f0341c"/><ellipse cx="662.92" cy="33.06" rx="2.21" ry="0.88" transform="rotate(142.27 662.92 33.06)" fill="#9a1a10"/><ellipse cx="664.69" cy="35.42" rx="2.57" ry="1.03" transform="rotate(167.3 664.69 35.42)" fill="#d02012"/><ellipse cx="660.08" cy="22.94" rx="2.9" ry="0.88" transform="rotate(420.11 660.08 22.94)" fill="#e0261a"/><ellipse cx="645.51" cy="17.59" rx="3.54" ry="0.78" transform="rotate(346.8 645.51 17.59)" fill="#d02012"/><ellipse cx="657.07" cy="38.35" rx="2.84" ry="0.57" transform="rotate(180.18 657.07 38.35)" fill="#c81c10"/><ellipse cx="653.01" cy="33.66" rx="2.6" ry="0.55" transform="rotate(165.52 653.01 33.66)" fill="#d02012"/><ellipse cx="642.86" cy="30.41" rx="3.02" ry="1.04" transform="rotate(222.85 642.86 30.41)" fill="#c81c10"/><ellipse cx="662.64" cy="31.47" rx="1.99" ry="0.67" transform="rotate(147.88 662.64 31.47)" fill="#f0341c"/><ellipse cx="646.47" cy="18.06" rx="3.1" ry="1.06" transform="rotate(336.15 646.47 18.06)" fill="#e0261a"/><ellipse cx="661.03" cy="30.72" rx="3.02" ry="0.54" transform="rotate(144.65 661.03 30.72)" fill="#9a1a10"/><ellipse cx="650.86" cy="37.85" rx="3.45" ry="0.64" transform="rotate(232.6 650.86 37.85)" fill="#9a1a10"/><ellipse cx="666.21" cy="21.19" rx="2" ry="0.97" transform="rotate(392.64 666.21 21.19)" fill="#9a1a10"/><ellipse cx="641.94" cy="31.56" rx="1.51" ry="0.54" transform="rotate(258.33 641.94 31.56)" fill="#d02012"/><ellipse cx="658.01" cy="19.32" rx="2.7" ry="0.63" transform="rotate(424.11 658.01 19.32)" fill="#e0261a"/><ellipse cx="653.04" cy="18.5" rx="3.19" ry="0.82" transform="rotate(341.24 653.04 18.5)" fill="#c81c10"/><ellipse cx="653.97" cy="31.64" rx="2.82" ry="0.92" transform="rotate(154.37 653.97 31.64)" fill="#f0341c"/><ellipse cx="662.55" cy="38.33" rx="2.44" ry="0.93" transform="rotate(163.17 662.55 38.33)" fill="#9a1a10"/><ellipse cx="649.49" cy="40.37" rx="2.37" ry="0.87" transform="rotate(178.41 649.49 40.37)" fill="#c81c10"/><ellipse cx="658.64" cy="18.12" rx="2.6" ry="0.71" transform="rotate(393.87 658.64 18.12)" fill="#e0261a"/><ellipse cx="656" cy="16.59" rx="2.04" ry="0.73" transform="rotate(395.58 656 16.59)" fill="#f0341c"/><ellipse cx="665.99" cy="19.02" rx="3.01" ry="0.71" transform="rotate(489.13 665.99 19.02)" fill="#9a1a10"/><ellipse cx="662.67" cy="35.33" rx="3.2" ry="0.91" transform="rotate(133.9 662.67 35.33)" fill="#e0261a"/><ellipse cx="666.17" cy="18.07" rx="3.12" ry="0.85" transform="rotate(437.29 666.17 18.07)" fill="#d02012"/><ellipse cx="652.31" cy="19.61" rx="2.03" ry="0.89" transform="rotate(321.05 652.31 19.61)" fill="#c81c10"/><ellipse cx="649.48" cy="10.84" rx="1.61" ry="0.9" transform="rotate(330.73 649.48 10.84)" fill="#f0341c"/><ellipse cx="642.19" cy="21.53" rx="3.31" ry="0.68" transform="rotate(269.51 642.19 21.53)" fill="#c81c10"/><ellipse cx="647.4" cy="33.84" rx="2.16" ry="1.07" transform="rotate(190.84 647.4 33.84)" fill="#d02012"/><ellipse cx="664.53" cy="21.19" rx="2.35" ry="0.8" transform="rotate(421.46 664.53 21.19)" fill="#c81c10"/><ellipse cx="646.92" cy="38.23" rx="2.37" ry="1.07" transform="rotate(227.07 646.92 38.23)" fill="#f0341c"/><ellipse cx="646.03" cy="27.5" rx="1.8" ry="0.97" transform="rotate(265.4 646.03 27.5)" fill="#e0261a"/><ellipse cx="656.29" cy="13.99" rx="1.29" ry="0.62" transform="rotate(384.82 656.29 13.99)" fill="#f0341c"/><ellipse cx="642.65" cy="35.25" rx="1.24" ry="0.95" transform="rotate(279.96 642.65 35.25)" fill="#9a1a10"/><ellipse cx="652.27" cy="30.05" rx="1.72" ry="0.86" transform="rotate(182.71 652.27 30.05)" fill="#f0341c"/><ellipse cx="649.89" cy="26.68" rx="1.44" ry="0.59" transform="rotate(260.89 649.89 26.68)" fill="#c81c10"/><ellipse cx="647.02" cy="16.37" rx="1.8" ry="0.52" transform="rotate(308.93 647.02 16.37)" fill="#f0341c"/><ellipse cx="646.52" cy="38.45" rx="1.7" ry="0.96" transform="rotate(224.2 646.52 38.45)" fill="#f0341c"/><ellipse cx="641.13" cy="30.08" rx="3.52" ry="0.8" transform="rotate(234.57 641.13 30.08)" fill="#e0261a"/><ellipse cx="645.14" cy="31.43" rx="2" ry="0.72" transform="rotate(262.78 645.14 31.43)" fill="#e0261a"/><ellipse cx="655.79" cy="35.27" rx="2.77" ry="0.78" transform="rotate(166.6 655.79 35.27)" fill="#f0341c"/><ellipse cx="664.47" cy="29.08" rx="2.58" ry="0.95" transform="rotate(132.87 664.47 29.08)" fill="#e0261a"/><ellipse cx="645.22" cy="29.24" rx="3.22" ry="0.86" transform="rotate(266.62 645.22 29.24)" fill="#f0341c"/><ellipse cx="648.33" cy="21.42" rx="1.71" ry="1.01" transform="rotate(315.7 648.33 21.42)" fill="#f0341c"/><ellipse cx="645.1" cy="34.29" rx="2.39" ry="1.03" transform="rotate(201.98 645.1 34.29)" fill="#c81c10"/><ellipse cx="641.42" cy="33.61" rx="1.49" ry="0.8" transform="rotate(224.71 641.42 33.61)" fill="#9a1a10"/><ellipse cx="646.41" cy="23.38" rx="1.3" ry="0.79" transform="rotate(279.64 646.41 23.38)" fill="#e0261a"/></g>
<ellipse cx="655.8" cy="26.3" rx="1.6" ry="3.5" fill="#3a1412" filter="url(#bl1)"/>
</g>
<text x="594.5" y="53.7" font-size="8.4" text-anchor="middle" font-weight="bold" fill="#f08a2c" stroke="#f08a2c" stroke-width="0.12" >Orange-1</text>
<text x="654.8" y="53.7" font-size="8.4" text-anchor="middle" font-weight="bold" fill="#e8282c" stroke="#e8282c" stroke-width="0.12" >Red-1</text>
<text x="595.2" y="64.6" font-size="8.4" text-anchor="middle" font-weight="bold" fill="#111" stroke="#111" stroke-width="0.12" >PLQY: 0.56%</text>
<text x="655.5" y="64.6" font-size="8.4" text-anchor="middle" font-weight="bold" fill="#111" stroke="#111" stroke-width="0.12" >PLQY: 8.60%</text>
<line x1="32.8" y1="353.1" x2="35.4" y2="353.1" stroke="#555" stroke-width="0.8" />
<text x="30.8" y="355.5" font-size="7.6" text-anchor="end" font-weight="normal" fill="#222" stroke="#222" stroke-width="0.14" >0.001</text>
<line x1="33.9" y1="339.52" x2="35.4" y2="339.52" stroke="#555" stroke-width="0.8" />
<line x1="33.9" y1="331.58" x2="35.4" y2="331.58" stroke="#555" stroke-width="0.8" />
<line x1="33.9" y1="325.95" x2="35.4" y2="325.95" stroke="#555" stroke-width="0.8" />
<line x1="33.9" y1="321.58" x2="35.4" y2="321.58" stroke="#555" stroke-width="0.8" />
<line x1="33.9" y1="318.01" x2="35.4" y2="318.01" stroke="#555" stroke-width="0.8" />
<line x1="33.9" y1="314.99" x2="35.4" y2="314.99" stroke="#555" stroke-width="0.8" />
<line x1="33.9" y1="312.37" x2="35.4" y2="312.37" stroke="#555" stroke-width="0.8" />
<line x1="33.9" y1="310.06" x2="35.4" y2="310.06" stroke="#555" stroke-width="0.8" />
<line x1="32.8" y1="308" x2="35.4" y2="308" stroke="#555" stroke-width="0.8" />
<text x="30.8" y="310.4" font-size="7.6" text-anchor="end" font-weight="normal" fill="#222" stroke="#222" stroke-width="0.14" >0.01</text>
<line x1="33.9" y1="294.42" x2="35.4" y2="294.42" stroke="#555" stroke-width="0.8" />
<line x1="33.9" y1="286.48" x2="35.4" y2="286.48" stroke="#555" stroke-width="0.8" />
<line x1="33.9" y1="280.85" x2="35.4" y2="280.85" stroke="#555" stroke-width="0.8" />
<line x1="33.9" y1="276.48" x2="35.4" y2="276.48" stroke="#555" stroke-width="0.8" />
<line x1="33.9" y1="272.91" x2="35.4" y2="272.91" stroke="#555" stroke-width="0.8" />
<line x1="33.9" y1="269.89" x2="35.4" y2="269.89" stroke="#555" stroke-width="0.8" />
<line x1="33.9" y1="267.27" x2="35.4" y2="267.27" stroke="#555" stroke-width="0.8" />
<line x1="33.9" y1="264.96" x2="35.4" y2="264.96" stroke="#555" stroke-width="0.8" />
<line x1="32.8" y1="262.9" x2="35.4" y2="262.9" stroke="#555" stroke-width="0.8" />
<text x="30.8" y="265.3" font-size="7.6" text-anchor="end" font-weight="normal" fill="#222" stroke="#222" stroke-width="0.14" >0.1</text>
<line x1="33.9" y1="249.32" x2="35.4" y2="249.32" stroke="#555" stroke-width="0.8" />
<line x1="33.9" y1="241.38" x2="35.4" y2="241.38" stroke="#555" stroke-width="0.8" />
<line x1="33.9" y1="235.75" x2="35.4" y2="235.75" stroke="#555" stroke-width="0.8" />
<line x1="33.9" y1="231.38" x2="35.4" y2="231.38" stroke="#555" stroke-width="0.8" />
<line x1="33.9" y1="227.81" x2="35.4" y2="227.81" stroke="#555" stroke-width="0.8" />
<line x1="33.9" y1="224.79" x2="35.4" y2="224.79" stroke="#555" stroke-width="0.8" />
<line x1="33.9" y1="222.17" x2="35.4" y2="222.17" stroke="#555" stroke-width="0.8" />
<line x1="33.9" y1="219.86" x2="35.4" y2="219.86" stroke="#555" stroke-width="0.8" />
<line x1="32.8" y1="217.8" x2="35.4" y2="217.8" stroke="#555" stroke-width="0.8" />
<text x="30.8" y="220.2" font-size="7.6" text-anchor="end" font-weight="normal" fill="#222" stroke="#222" stroke-width="0.14" >1</text>
<line x1="33.9" y1="204.22" x2="35.4" y2="204.22" stroke="#555" stroke-width="0.8" />
<line x1="35.4" y1="353.3" x2="35.4" y2="355.9" stroke="#555" stroke-width="0.8" />
<text x="35.4" y="364.6" font-size="7.6" text-anchor="middle" font-weight="normal" fill="#222" stroke="#222" stroke-width="0.14" >0</text>
<line x1="49.65" y1="353.3" x2="49.65" y2="354.8" stroke="#555" stroke-width="0.8" />
<line x1="63.9" y1="353.3" x2="63.9" y2="354.8" stroke="#555" stroke-width="0.8" />
<line x1="78.15" y1="353.3" x2="78.15" y2="354.8" stroke="#555" stroke-width="0.8" />
<line x1="92.4" y1="353.3" x2="92.4" y2="355.9" stroke="#555" stroke-width="0.8" />
<text x="92.4" y="364.6" font-size="7.6" text-anchor="middle" font-weight="normal" fill="#222" stroke="#222" stroke-width="0.14" >40</text>
<line x1="106.65" y1="353.3" x2="106.65" y2="354.8" stroke="#555" stroke-width="0.8" />
<line x1="120.9" y1="353.3" x2="120.9" y2="354.8" stroke="#555" stroke-width="0.8" />
<line x1="135.15" y1="353.3" x2="135.15" y2="354.8" stroke="#555" stroke-width="0.8" />
<line x1="149.4" y1="353.3" x2="149.4" y2="355.9" stroke="#555" stroke-width="0.8" />
<text x="149.4" y="364.6" font-size="7.6" text-anchor="middle" font-weight="normal" fill="#222" stroke="#222" stroke-width="0.14" >80</text>
<line x1="163.65" y1="353.3" x2="163.65" y2="354.8" stroke="#555" stroke-width="0.8" />
<line x1="177.9" y1="353.3" x2="177.9" y2="354.8" stroke="#555" stroke-width="0.8" />
<line x1="192.15" y1="353.3" x2="192.15" y2="354.8" stroke="#555" stroke-width="0.8" />
<line x1="206.4" y1="353.3" x2="206.4" y2="355.9" stroke="#555" stroke-width="0.8" />
<text x="206.4" y="364.6" font-size="7.6" text-anchor="middle" font-weight="normal" fill="#222" stroke="#222" stroke-width="0.14" >120</text>
<line x1="220.65" y1="353.3" x2="220.65" y2="354.8" stroke="#555" stroke-width="0.8" />
<text x="128.25" y="374.9" font-size="9.2" text-anchor="middle" font-weight="normal" fill="#222" stroke="#222" stroke-width="0.14" >Time (ns)</text>
<text x="11.3" y="278.5" font-size="9.2" text-anchor="middle" font-weight="normal" fill="#222" stroke="#222" stroke-width="0.14" transform="rotate(-90 11.3 278.5)" >Intensity (a.u.)</text>
<text x="0.3" y="215.4" font-size="13.8" text-anchor="start" font-weight="bold" fill="#111" stroke="#111" stroke-width="0.12" >(d)</text>
<path d="M35.4 215.4l1.8 3h-3.6zM35.4 214.8l1.8 3h-3.6zM35.4 216.9l1.8 3h-3.6zM35.5 215.3l1.8 3h-3.6zM35.5 216.1l1.8 3h-3.6zM35.7 217.8l1.8 3h-3.6zM35.8 215.7l1.8 3h-3.6zM35.8 214.4l1.8 3h-3.6zM35.8 215.1l1.8 3h-3.6zM35.8 216.1l1.8 3h-3.6zM35.8 216.4l1.8 3h-3.6zM35.9 218.1l1.8 3h-3.6zM36.0 217.1l1.8 3h-3.6zM36.3 216.7l1.8 3h-3.6zM36.3 217.0l1.8 3h-3.6zM36.3 218.0l1.8 3h-3.6zM36.4 216.3l1.8 3h-3.6zM36.5 217.4l1.8 3h-3.6zM36.7 219.0l1.8 3h-3.6zM36.8 218.4l1.8 3h-3.6zM36.8 217.9l1.8 3h-3.6zM36.8 217.2l1.8 3h-3.6zM36.9 217.5l1.8 3h-3.6zM37.0 219.0l1.8 3h-3.6zM37.1 216.6l1.8 3h-3.6zM37.2 219.9l1.8 3h-3.6zM37.2 219.5l1.8 3h-3.6zM37.3 217.4l1.8 3h-3.6zM37.3 218.7l1.8 3h-3.6zM37.3 219.2l1.8 3h-3.6zM37.5 219.9l1.8 3h-3.6zM37.6 218.0l1.8 3h-3.6zM37.7 221.3l1.8 3h-3.6zM37.8 218.9l1.8 3h-3.6zM37.8 220.0l1.8 3h-3.6zM37.8 217.6l1.8 3h-3.6zM37.8 218.8l1.8 3h-3.6zM37.9 218.1l1.8 3h-3.6zM37.9 219.6l1.8 3h-3.6zM38.0 221.1l1.8 3h-3.6zM38.1 222.4l1.8 3h-3.6zM38.1 220.7l1.8 3h-3.6zM38.3 220.2l1.8 3h-3.6zM38.3 220.4l1.8 3h-3.6zM38.3 219.6l1.8 3h-3.6zM38.4 221.1l1.8 3h-3.6zM38.4 221.5l1.8 3h-3.6zM38.5 222.2l1.8 3h-3.6zM38.5 222.6l1.8 3h-3.6zM38.6 219.0l1.8 3h-3.6zM38.8 219.5l1.8 3h-3.6zM38.8 221.1l1.8 3h-3.6zM38.8 219.2l1.8 3h-3.6zM38.8 221.5l1.8 3h-3.6zM38.8 222.2l1.8 3h-3.6zM38.9 223.0l1.8 3h-3.6zM39.0 219.9l1.8 3h-3.6zM39.0 222.5l1.8 3h-3.6zM39.3 222.7l1.8 3h-3.6zM39.3 221.8l1.8 3h-3.6zM39.3 223.4l1.8 3h-3.6zM39.4 221.9l1.8 3h-3.6zM39.4 224.2l1.8 3h-3.6zM39.4 220.9l1.8 3h-3.6zM39.4 223.1l1.8 3h-3.6zM39.5 224.5l1.8 3h-3.6zM39.8 224.5l1.8 3h-3.6zM39.8 223.4l1.8 3h-3.6zM39.8 222.9l1.8 3h-3.6zM39.9 223.9l1.8 3h-3.6zM39.9 224.9l1.8 3h-3.6zM40.0 222.6l1.8 3h-3.6zM40.2 226.8l1.8 3h-3.6zM40.3 225.4l1.8 3h-3.6zM40.3 223.4l1.8 3h-3.6zM40.3 224.5l1.8 3h-3.6zM40.4 222.5l1.8 3h-3.6zM40.4 224.3l1.8 3h-3.6zM40.4 227.1l1.8 3h-3.6zM40.5 226.1l1.8 3h-3.6zM40.6 225.1l1.8 3h-3.6zM40.8 225.2l1.8 3h-3.6zM40.8 224.8l1.8 3h-3.6zM40.9 227.3l1.8 3h-3.6zM40.9 225.8l1.8 3h-3.6zM40.9 226.8l1.8 3h-3.6zM40.9 226.1l1.8 3h-3.6zM41.1 228.3l1.8 3h-3.6zM41.2 227.7l1.8 3h-3.6zM41.3 228.6l1.8 3h-3.6zM41.3 227.6l1.8 3h-3.6zM41.3 226.0l1.8 3h-3.6zM41.3 224.4l1.8 3h-3.6zM41.4 226.5l1.8 3h-3.6zM41.4 230.5l1.8 3h-3.6zM41.5 227.1l1.8 3h-3.6zM41.5 227.9l1.8 3h-3.6zM41.6 225.8l1.8 3h-3.6zM41.7 229.7l1.8 3h-3.6zM41.8 226.9l1.8 3h-3.6zM41.8 226.5l1.8 3h-3.6zM41.8 226.1l1.8 3h-3.6zM41.9 229.7l1.8 3h-3.6zM41.9 228.6l1.8 3h-3.6zM42.0 227.8l1.8 3h-3.6zM42.0 223.6l1.8 3h-3.6zM42.0 227.9l1.8 3h-3.6zM42.2 231.0l1.8 3h-3.6zM42.2 229.1l1.8 3h-3.6zM42.3 226.3l1.8 3h-3.6zM42.3 229.1l1.8 3h-3.6zM42.3 226.4l1.8 3h-3.6zM42.4 228.1l1.8 3h-3.6zM42.4 227.1l1.8 3h-3.6zM42.4 228.5l1.8 3h-3.6zM42.5 229.8l1.8 3h-3.6zM42.5 227.4l1.8 3h-3.6zM42.6 230.1l1.8 3h-3.6zM42.6 230.7l1.8 3h-3.6zM42.8 230.6l1.8 3h-3.6zM42.8 229.6l1.8 3h-3.6zM42.8 229.2l1.8 3h-3.6zM42.8 227.4l1.8 3h-3.6zM42.8 228.4l1.8 3h-3.6zM42.9 228.0l1.8 3h-3.6zM42.9 229.9l1.8 3h-3.6zM43.1 230.9l1.8 3h-3.6zM43.3 230.1l1.8 3h-3.6zM43.3 229.3l1.8 3h-3.6zM43.4 230.4l1.8 3h-3.6zM43.4 229.4l1.8 3h-3.6zM43.4 228.3l1.8 3h-3.6zM43.6 230.9l1.8 3h-3.6zM43.6 231.6l1.8 3h-3.6zM43.7 233.5l1.8 3h-3.6zM43.8 232.1l1.8 3h-3.6zM43.8 231.5l1.8 3h-3.6zM43.8 232.5l1.8 3h-3.6zM43.8 228.6l1.8 3h-3.6zM43.8 230.3l1.8 3h-3.6zM43.9 233.0l1.8 3h-3.6zM43.9 235.4l1.8 3h-3.6zM44.0 229.2l1.8 3h-3.6zM44.2 230.5l1.8 3h-3.6zM44.3 232.9l1.8 3h-3.6zM44.3 231.2l1.8 3h-3.6zM44.3 231.4l1.8 3h-3.6zM44.3 232.7l1.8 3h-3.6zM44.4 230.5l1.8 3h-3.6zM44.4 230.0l1.8 3h-3.6zM44.5 233.9l1.8 3h-3.6zM44.5 232.2l1.8 3h-3.6zM44.6 229.6l1.8 3h-3.6zM44.8 234.1l1.8 3h-3.6zM44.8 233.4l1.8 3h-3.6zM44.8 231.6l1.8 3h-3.6zM44.8 232.5l1.8 3h-3.6zM44.8 230.3l1.8 3h-3.6zM45.0 233.3l1.8 3h-3.6zM45.0 232.2l1.8 3h-3.6zM45.0 231.2l1.8 3h-3.6zM45.2 234.6l1.8 3h-3.6zM45.3 233.2l1.8 3h-3.6zM45.3 234.2l1.8 3h-3.6zM45.3 230.7l1.8 3h-3.6zM45.3 231.0l1.8 3h-3.6zM45.3 233.8l1.8 3h-3.6zM45.4 235.2l1.8 3h-3.6zM45.5 232.0l1.8 3h-3.6zM45.6 232.5l1.8 3h-3.6zM45.6 234.7l1.8 3h-3.6zM45.7 235.7l1.8 3h-3.6zM45.8 233.3l1.8 3h-3.6zM45.8 234.3l1.8 3h-3.6zM45.8 234.9l1.8 3h-3.6zM45.9 233.7l1.8 3h-3.6zM46.0 234.6l1.8 3h-3.6zM46.0 237.4l1.8 3h-3.6zM46.0 232.1l1.8 3h-3.6zM46.1 236.9l1.8 3h-3.6zM46.2 232.8l1.8 3h-3.6zM46.3 237.0l1.8 3h-3.6zM46.3 238.5l1.8 3h-3.6zM46.3 231.8l1.8 3h-3.6zM46.3 234.2l1.8 3h-3.6zM46.4 234.9l1.8 3h-3.6zM46.4 235.9l1.8 3h-3.6zM46.5 234.6l1.8 3h-3.6zM46.5 237.5l1.8 3h-3.6zM46.6 232.3l1.8 3h-3.6zM46.6 236.7l1.8 3h-3.6zM46.7 238.3l1.8 3h-3.6zM46.8 237.1l1.8 3h-3.6zM46.8 235.6l1.8 3h-3.6zM46.8 236.1l1.8 3h-3.6zM46.8 237.7l1.8 3h-3.6zM46.9 238.7l1.8 3h-3.6zM46.9 237.9l1.8 3h-3.6zM47.0 239.7l1.8 3h-3.6zM47.1 239.2l1.8 3h-3.6zM47.2 236.5l1.8 3h-3.6zM47.2 234.8l1.8 3h-3.6zM47.3 236.5l1.8 3h-3.6zM47.3 235.9l1.8 3h-3.6zM47.3 234.6l1.8 3h-3.6zM47.4 237.3l1.8 3h-3.6zM47.4 237.7l1.8 3h-3.6zM47.5 238.1l1.8 3h-3.6zM47.5 238.8l1.8 3h-3.6zM47.5 235.8l1.8 3h-3.6zM47.6 239.6l1.8 3h-3.6zM47.8 239.6l1.8 3h-3.6zM47.8 240.0l1.8 3h-3.6zM47.8 236.3l1.8 3h-3.6zM47.8 237.6l1.8 3h-3.6zM47.8 241.3l1.8 3h-3.6zM47.9 240.8l1.8 3h-3.6zM47.9 237.9l1.8 3h-3.6zM48.0 235.1l1.8 3h-3.6zM48.0 238.4l1.8 3h-3.6zM48.1 237.3l1.8 3h-3.6zM48.1 236.4l1.8 3h-3.6zM48.2 242.5l1.8 3h-3.6zM48.2 239.0l1.8 3h-3.6zM48.3 239.7l1.8 3h-3.6zM48.3 237.5l1.8 3h-3.6zM48.3 240.2l1.8 3h-3.6zM48.4 238.5l1.8 3h-3.6zM48.4 238.0l1.8 3h-3.6zM48.4 240.8l1.8 3h-3.6zM48.4 239.1l1.8 3h-3.6zM48.5 241.4l1.8 3h-3.6zM48.5 236.9l1.8 3h-3.6zM48.6 241.1l1.8 3h-3.6zM48.6 236.4l1.8 3h-3.6zM48.8 241.9l1.8 3h-3.6zM48.8 239.8l1.8 3h-3.6zM48.8 240.3l1.8 3h-3.6zM48.8 238.8l1.8 3h-3.6zM48.8 239.0l1.8 3h-3.6zM49.0 235.1l1.8 3h-3.6zM49.0 241.4l1.8 3h-3.6zM49.1 241.3l1.8 3h-3.6zM49.1 238.3l1.8 3h-3.6zM49.2 237.8l1.8 3h-3.6zM49.3 237.5l1.8 3h-3.6zM49.3 242.3l1.8 3h-3.6zM49.3 242.7l1.8 3h-3.6zM49.3 240.9l1.8 3h-3.6zM49.3 238.9l1.8 3h-3.6zM49.4 239.6l1.8 3h-3.6zM49.4 238.0l1.8 3h-3.6zM49.6 240.0l1.8 3h-3.6zM49.7 243.6l1.8 3h-3.6zM49.7 240.5l1.8 3h-3.6zM49.8 241.0l1.8 3h-3.6zM49.8 240.6l1.8 3h-3.6zM49.8 243.4l1.8 3h-3.6zM49.8 243.0l1.8 3h-3.6zM49.9 242.8l1.8 3h-3.6zM50.0 239.1l1.8 3h-3.6zM50.1 239.9l1.8 3h-3.6zM50.1 242.3l1.8 3h-3.6zM50.2 239.8l1.8 3h-3.6zM50.2 238.7l1.8 3h-3.6zM50.3 239.9l1.8 3h-3.6zM50.3 244.2l1.8 3h-3.6zM50.3 242.8l1.8 3h-3.6zM50.4 241.0l1.8 3h-3.6zM50.4 241.5l1.8 3h-3.6zM50.4 242.0l1.8 3h-3.6zM50.4 239.6l1.8 3h-3.6zM50.5 248.0l1.8 3h-3.6zM50.6 243.1l1.8 3h-3.6zM50.7 240.4l1.8 3h-3.6zM50.8 241.5l1.8 3h-3.6zM50.8 245.4l1.8 3h-3.6zM50.8 242.3l1.8 3h-3.6zM50.8 239.6l1.8 3h-3.6zM50.9 244.1l1.8 3h-3.6zM50.9 244.8l1.8 3h-3.6zM50.9 241.1l1.8 3h-3.6zM51.0 243.8l1.8 3h-3.6zM51.0 243.1l1.8 3h-3.6zM51.0 240.5l1.8 3h-3.6zM51.1 246.4l1.8 3h-3.6zM51.1 239.0l1.8 3h-3.6zM51.2 242.8l1.8 3h-3.6zM51.2 238.8l1.8 3h-3.6zM51.3 245.9l1.8 3h-3.6zM51.3 243.2l1.8 3h-3.6zM51.3 244.4l1.8 3h-3.6zM51.3 243.5l1.8 3h-3.6zM51.4 245.6l1.8 3h-3.6zM51.4 245.1l1.8 3h-3.6zM51.5 246.5l1.8 3h-3.6zM51.5 247.7l1.8 3h-3.6zM51.5 246.9l1.8 3h-3.6zM51.5 242.4l1.8 3h-3.6zM51.6 244.1l1.8 3h-3.6zM51.8 246.2l1.8 3h-3.6zM51.8 247.0l1.8 3h-3.6zM51.8 241.9l1.8 3h-3.6zM51.8 243.1l1.8 3h-3.6zM51.9 242.8l1.8 3h-3.6zM51.9 244.2l1.8 3h-3.6zM51.9 245.3l1.8 3h-3.6zM51.9 246.4l1.8 3h-3.6zM51.9 243.5l1.8 3h-3.6zM52.0 247.5l1.8 3h-3.6zM52.0 248.4l1.8 3h-3.6zM52.2 245.4l1.8 3h-3.6zM52.3 248.0l1.8 3h-3.6zM52.3 245.6l1.8 3h-3.6zM52.3 248.6l1.8 3h-3.6zM52.3 245.3l1.8 3h-3.6zM52.4 247.0l1.8 3h-3.6zM52.4 243.9l1.8 3h-3.6zM52.4 243.6l1.8 3h-3.6zM52.4 244.5l1.8 3h-3.6zM52.5 245.9l1.8 3h-3.6zM52.6 246.7l1.8 3h-3.6zM52.7 249.7l1.8 3h-3.6zM52.8 246.9l1.8 3h-3.6zM52.8 247.7l1.8 3h-3.6zM52.8 246.7l1.8 3h-3.6zM52.8 245.9l1.8 3h-3.6zM52.9 243.2l1.8 3h-3.6zM52.9 245.0l1.8 3h-3.6zM52.9 244.7l1.8 3h-3.6zM53.1 250.3l1.8 3h-3.6zM53.2 250.5l1.8 3h-3.6zM53.3 246.9l1.8 3h-3.6zM53.3 246.0l1.8 3h-3.6zM53.3 248.2l1.8 3h-3.6zM53.4 242.8l1.8 3h-3.6zM53.4 246.5l1.8 3h-3.6zM53.5 251.3l1.8 3h-3.6zM53.5 248.8l1.8 3h-3.6zM53.6 250.5l1.8 3h-3.6zM53.6 245.1l1.8 3h-3.6zM53.6 245.4l1.8 3h-3.6zM53.7 249.3l1.8 3h-3.6zM53.7 247.4l1.8 3h-3.6zM53.8 247.7l1.8 3h-3.6zM53.8 249.9l1.8 3h-3.6zM53.8 248.8l1.8 3h-3.6zM53.8 252.4l1.8 3h-3.6zM53.9 247.9l1.8 3h-3.6zM53.9 249.1l1.8 3h-3.6zM54.0 246.4l1.8 3h-3.6zM54.0 246.2l1.8 3h-3.6zM54.1 251.3l1.8 3h-3.6zM54.2 249.5l1.8 3h-3.6zM54.2 246.9l1.8 3h-3.6zM54.3 246.5l1.8 3h-3.6zM54.3 247.7l1.8 3h-3.6zM54.3 246.2l1.8 3h-3.6zM54.4 250.7l1.8 3h-3.6zM54.4 248.4l1.8 3h-3.6zM54.4 253.0l1.8 3h-3.6zM54.5 249.5l1.8 3h-3.6zM54.5 247.9l1.8 3h-3.6zM54.6 247.0l1.8 3h-3.6zM54.6 251.5l1.8 3h-3.6zM54.8 249.3l1.8 3h-3.6zM54.8 249.9l1.8 3h-3.6zM54.8 250.5l1.8 3h-3.6zM54.9 247.0l1.8 3h-3.6zM55.0 251.9l1.8 3h-3.6zM55.0 248.8l1.8 3h-3.6zM55.0 253.0l1.8 3h-3.6zM55.0 251.1l1.8 3h-3.6zM55.1 251.5l1.8 3h-3.6zM55.1 245.9l1.8 3h-3.6zM55.3 249.5l1.8 3h-3.6zM55.3 249.9l1.8 3h-3.6zM55.3 248.0l1.8 3h-3.6zM55.3 249.1l1.8 3h-3.6zM55.3 247.0l1.8 3h-3.6zM55.4 252.4l1.8 3h-3.6zM55.4 252.2l1.8 3h-3.6zM55.4 245.1l1.8 3h-3.6zM55.4 251.3l1.8 3h-3.6zM55.5 254.5l1.8 3h-3.6zM55.6 257.1l1.8 3h-3.6zM55.6 247.5l1.8 3h-3.6zM55.6 255.5l1.8 3h-3.6zM55.7 251.5l1.8 3h-3.6zM55.8 257.9l1.8 3h-3.6zM55.8 249.9l1.8 3h-3.6zM55.8 251.9l1.8 3h-3.6zM55.8 252.6l1.8 3h-3.6zM55.9 248.6l1.8 3h-3.6zM55.9 250.7l1.8 3h-3.6zM55.9 251.5l1.8 3h-3.6zM55.9 251.1l1.8 3h-3.6zM55.9 247.5l1.8 3h-3.6zM56.0 249.7l1.8 3h-3.6zM56.1 248.0l1.8 3h-3.6zM56.1 255.7l1.8 3h-3.6zM56.2 253.3l1.8 3h-3.6zM56.2 255.0l1.8 3h-3.6zM56.3 249.5l1.8 3h-3.6zM56.3 249.3l1.8 3h-3.6zM56.3 250.3l1.8 3h-3.6zM56.3 251.9l1.8 3h-3.6zM56.4 251.1l1.8 3h-3.6zM56.4 253.3l1.8 3h-3.6zM56.4 253.5l1.8 3h-3.6zM56.5 256.8l1.8 3h-3.6zM56.5 247.7l1.8 3h-3.6zM56.5 250.7l1.8 3h-3.6zM56.6 254.0l1.8 3h-3.6zM56.6 255.5l1.8 3h-3.6zM56.7 248.8l1.8 3h-3.6zM56.7 251.7l1.8 3h-3.6zM56.8 251.3l1.8 3h-3.6zM56.8 253.0l1.8 3h-3.6zM56.8 256.5l1.8 3h-3.6zM56.8 250.7l1.8 3h-3.6zM56.8 251.9l1.8 3h-3.6zM56.9 257.1l1.8 3h-3.6zM56.9 257.9l1.8 3h-3.6zM56.9 254.2l1.8 3h-3.6zM56.9 252.4l1.8 3h-3.6zM57.0 256.0l1.8 3h-3.6zM57.1 248.8l1.8 3h-3.6zM57.1 250.1l1.8 3h-3.6zM57.2 251.5l1.8 3h-3.6zM57.2 255.7l1.8 3h-3.6zM57.3 251.1l1.8 3h-3.6zM57.3 251.5l1.8 3h-3.6zM57.3 253.7l1.8 3h-3.6zM57.4 250.7l1.8 3h-3.6zM57.4 253.3l1.8 3h-3.6zM57.4 252.6l1.8 3h-3.6zM57.5 255.5l1.8 3h-3.6zM57.5 254.0l1.8 3h-3.6zM57.5 251.9l1.8 3h-3.6zM57.6 249.3l1.8 3h-3.6zM57.6 256.0l1.8 3h-3.6zM57.6 249.9l1.8 3h-3.6zM57.8 253.0l1.8 3h-3.6zM57.8 250.7l1.8 3h-3.6zM57.8 255.2l1.8 3h-3.6zM57.8 252.2l1.8 3h-3.6zM57.8 252.4l1.8 3h-3.6zM57.9 251.5l1.8 3h-3.6zM57.9 256.5l1.8 3h-3.6zM57.9 253.7l1.8 3h-3.6zM58.0 250.3l1.8 3h-3.6zM58.0 257.9l1.8 3h-3.6zM58.0 248.8l1.8 3h-3.6zM58.1 256.3l1.8 3h-3.6zM58.1 261.8l1.8 3h-3.6zM58.1 254.7l1.8 3h-3.6zM58.1 257.1l1.8 3h-3.6zM58.2 257.4l1.8 3h-3.6zM58.3 250.9l1.8 3h-3.6zM58.3 253.0l1.8 3h-3.6zM58.3 254.0l1.8 3h-3.6zM58.3 251.9l1.8 3h-3.6zM58.4 255.5l1.8 3h-3.6zM58.4 256.0l1.8 3h-3.6zM58.4 254.7l1.8 3h-3.6zM58.5 249.5l1.8 3h-3.6zM58.5 253.5l1.8 3h-3.6zM58.6 252.8l1.8 3h-3.6zM58.7 250.1l1.8 3h-3.6zM58.8 250.9l1.8 3h-3.6zM58.8 256.3l1.8 3h-3.6zM58.8 253.7l1.8 3h-3.6zM58.8 252.8l1.8 3h-3.6zM58.8 250.3l1.8 3h-3.6zM58.9 259.1l1.8 3h-3.6zM58.9 254.5l1.8 3h-3.6zM59.0 256.5l1.8 3h-3.6zM59.0 253.0l1.8 3h-3.6zM59.0 249.7l1.8 3h-3.6zM59.1 250.5l1.8 3h-3.6zM59.1 255.5l1.8 3h-3.6zM59.1 261.4l1.8 3h-3.6zM59.2 255.0l1.8 3h-3.6zM59.3 254.0l1.8 3h-3.6zM59.3 251.9l1.8 3h-3.6zM59.3 253.7l1.8 3h-3.6zM59.4 256.5l1.8 3h-3.6zM59.4 255.7l1.8 3h-3.6zM59.4 256.3l1.8 3h-3.6zM59.4 252.4l1.8 3h-3.6zM59.4 258.2l1.8 3h-3.6zM59.5 254.7l1.8 3h-3.6zM59.5 257.6l1.8 3h-3.6zM59.5 258.8l1.8 3h-3.6zM59.6 260.1l1.8 3h-3.6zM59.7 255.0l1.8 3h-3.6zM59.7 251.1l1.8 3h-3.6zM59.8 254.2l1.8 3h-3.6zM59.8 256.3l1.8 3h-3.6zM59.8 253.0l1.8 3h-3.6zM59.9 253.7l1.8 3h-3.6zM59.9 254.7l1.8 3h-3.6zM59.9 256.5l1.8 3h-3.6zM59.9 259.8l1.8 3h-3.6zM60.0 258.2l1.8 3h-3.6zM60.1 255.7l1.8 3h-3.6zM60.1 252.8l1.8 3h-3.6zM60.1 255.0l1.8 3h-3.6zM60.3 255.2l1.8 3h-3.6zM60.3 254.0l1.8 3h-3.6zM60.3 252.2l1.8 3h-3.6zM60.3 257.4l1.8 3h-3.6zM60.4 257.1l1.8 3h-3.6zM60.4 256.3l1.8 3h-3.6zM60.4 248.4l1.8 3h-3.6zM60.5 252.4l1.8 3h-3.6zM60.5 259.5l1.8 3h-3.6zM60.5 256.5l1.8 3h-3.6zM60.6 255.5l1.8 3h-3.6zM60.6 259.1l1.8 3h-3.6zM60.7 260.4l1.8 3h-3.6zM60.7 254.7l1.8 3h-3.6zM60.8 258.8l1.8 3h-3.6zM60.8 256.3l1.8 3h-3.6zM60.8 255.5l1.8 3h-3.6zM60.8 254.2l1.8 3h-3.6zM60.8 255.2l1.8 3h-3.6zM60.9 259.8l1.8 3h-3.6zM60.9 257.1l1.8 3h-3.6zM60.9 257.6l1.8 3h-3.6zM61.0 262.5l1.8 3h-3.6zM61.0 251.7l1.8 3h-3.6zM61.0 258.2l1.8 3h-3.6zM61.0 254.7l1.8 3h-3.6zM61.1 259.1l1.8 3h-3.6zM61.1 261.8l1.8 3h-3.6zM61.2 263.3l1.8 3h-3.6zM61.3 258.8l1.8 3h-3.6zM61.3 256.5l1.8 3h-3.6zM61.3 260.4l1.8 3h-3.6zM61.3 254.7l1.8 3h-3.6zM61.3 258.2l1.8 3h-3.6zM61.4 255.0l1.8 3h-3.6zM61.5 253.5l1.8 3h-3.6zM61.5 260.1l1.8 3h-3.6zM61.5 257.1l1.8 3h-3.6zM61.6 256.0l1.8 3h-3.6zM61.6 262.5l1.8 3h-3.6zM61.7 262.2l1.8 3h-3.6zM61.8 259.1l1.8 3h-3.6zM61.8 260.1l1.8 3h-3.6zM61.8 258.5l1.8 3h-3.6zM61.8 258.2l1.8 3h-3.6zM61.8 256.3l1.8 3h-3.6zM61.9 261.4l1.8 3h-3.6zM61.9 259.8l1.8 3h-3.6zM61.9 255.7l1.8 3h-3.6zM61.9 254.7l1.8 3h-3.6zM61.9 257.1l1.8 3h-3.6zM62.0 260.4l1.8 3h-3.6zM62.0 264.5l1.8 3h-3.6zM62.2 257.4l1.8 3h-3.6zM62.3 259.8l1.8 3h-3.6zM62.3 261.8l1.8 3h-3.6zM62.3 255.5l1.8 3h-3.6zM62.3 257.1l1.8 3h-3.6zM62.4 254.7l1.8 3h-3.6zM62.4 259.1l1.8 3h-3.6zM62.4 260.4l1.8 3h-3.6zM62.5 256.3l1.8 3h-3.6zM62.5 257.9l1.8 3h-3.6zM62.5 265.3l1.8 3h-3.6zM62.6 262.2l1.8 3h-3.6zM62.6 260.1l1.8 3h-3.6zM62.7 258.8l1.8 3h-3.6zM62.7 268.0l1.8 3h-3.6zM62.8 259.8l1.8 3h-3.6zM62.8 259.1l1.8 3h-3.6zM62.8 258.5l1.8 3h-3.6zM62.8 260.8l1.8 3h-3.6zM62.9 257.9l1.8 3h-3.6zM62.9 255.7l1.8 3h-3.6zM63.0 256.5l1.8 3h-3.6zM63.1 256.3l1.8 3h-3.6zM63.1 261.4l1.8 3h-3.6zM63.1 262.5l1.8 3h-3.6zM63.2 263.3l1.8 3h-3.6zM63.3 260.1l1.8 3h-3.6zM63.3 257.9l1.8 3h-3.6zM63.3 259.1l1.8 3h-3.6zM63.3 259.8l1.8 3h-3.6zM63.4 254.2l1.8 3h-3.6zM63.4 258.8l1.8 3h-3.6zM63.4 260.4l1.8 3h-3.6zM63.5 262.5l1.8 3h-3.6zM63.5 257.6l1.8 3h-3.6zM63.5 264.1l1.8 3h-3.6zM63.6 256.5l1.8 3h-3.6zM63.7 265.7l1.8 3h-3.6zM63.7 263.7l1.8 3h-3.6zM63.7 255.7l1.8 3h-3.6zM63.8 265.3l1.8 3h-3.6zM63.8 257.4l1.8 3h-3.6zM63.8 261.8l1.8 3h-3.6zM63.9 258.5l1.8 3h-3.6zM63.9 259.5l1.8 3h-3.6zM63.9 258.2l1.8 3h-3.6zM64.0 262.2l1.8 3h-3.6zM64.0 264.5l1.8 3h-3.6zM64.0 260.8l1.8 3h-3.6zM64.1 257.1l1.8 3h-3.6zM64.1 265.7l1.8 3h-3.6zM64.2 261.1l1.8 3h-3.6zM64.2 256.8l1.8 3h-3.6zM64.3 260.8l1.8 3h-3.6zM64.3 259.8l1.8 3h-3.6zM64.3 260.1l1.8 3h-3.6zM64.3 263.3l1.8 3h-3.6zM64.4 259.1l1.8 3h-3.6zM64.4 263.7l1.8 3h-3.6zM64.5 256.3l1.8 3h-3.6zM64.5 258.2l1.8 3h-3.6zM64.5 261.1l1.8 3h-3.6zM64.6 266.2l1.8 3h-3.6zM64.7 268.0l1.8 3h-3.6zM64.8 262.5l1.8 3h-3.6zM64.8 261.8l1.8 3h-3.6zM64.8 264.5l1.8 3h-3.6zM64.9 260.8l1.8 3h-3.6zM64.9 263.3l1.8 3h-3.6zM65.0 264.9l1.8 3h-3.6zM65.0 260.1l1.8 3h-3.6zM65.0 258.8l1.8 3h-3.6zM65.1 268.5l1.8 3h-3.6zM65.1 258.2l1.8 3h-3.6zM65.1 257.4l1.8 3h-3.6zM65.2 265.7l1.8 3h-3.6zM65.3 260.8l1.8 3h-3.6zM65.3 261.4l1.8 3h-3.6zM65.3 267.1l1.8 3h-3.6zM65.3 257.1l1.8 3h-3.6zM65.3 261.1l1.8 3h-3.6zM65.4 260.1l1.8 3h-3.6zM65.4 259.8l1.8 3h-3.6zM65.4 270.7l1.8 3h-3.6zM65.4 258.8l1.8 3h-3.6zM65.5 268.5l1.8 3h-3.6zM65.5 262.2l1.8 3h-3.6zM65.6 266.2l1.8 3h-3.6zM65.6 262.9l1.8 3h-3.6zM65.7 264.5l1.8 3h-3.6zM65.8 265.7l1.8 3h-3.6zM65.8 262.5l1.8 3h-3.6zM65.8 262.2l1.8 3h-3.6zM65.8 260.4l1.8 3h-3.6zM65.8 264.5l1.8 3h-3.6zM65.9 263.3l1.8 3h-3.6zM65.9 259.5l1.8 3h-3.6zM66.0 264.1l1.8 3h-3.6zM66.0 264.9l1.8 3h-3.6zM66.1 266.6l1.8 3h-3.6zM66.1 261.1l1.8 3h-3.6zM66.2 258.2l1.8 3h-3.6zM66.2 260.1l1.8 3h-3.6zM66.3 263.3l1.8 3h-3.6zM66.3 262.5l1.8 3h-3.6zM66.3 268.5l1.8 3h-3.6zM66.4 259.5l1.8 3h-3.6zM66.4 260.1l1.8 3h-3.6zM66.4 267.6l1.8 3h-3.6zM66.4 265.3l1.8 3h-3.6zM66.5 256.8l1.8 3h-3.6zM66.5 262.2l1.8 3h-3.6zM66.5 267.1l1.8 3h-3.6zM66.5 261.4l1.8 3h-3.6zM66.6 266.2l1.8 3h-3.6zM66.6 264.5l1.8 3h-3.6zM66.7 257.6l1.8 3h-3.6zM66.7 268.0l1.8 3h-3.6zM66.8 265.3l1.8 3h-3.6zM66.8 262.5l1.8 3h-3.6zM66.8 259.5l1.8 3h-3.6zM66.8 260.1l1.8 3h-3.6zM66.8 269.6l1.8 3h-3.6zM66.9 265.7l1.8 3h-3.6zM66.9 261.1l1.8 3h-3.6zM66.9 262.9l1.8 3h-3.6zM66.9 263.7l1.8 3h-3.6zM67.0 267.1l1.8 3h-3.6zM67.1 264.5l1.8 3h-3.6zM67.1 268.5l1.8 3h-3.6zM67.1 269.0l1.8 3h-3.6zM67.1 260.8l1.8 3h-3.6zM67.1 259.1l1.8 3h-3.6zM67.2 266.2l1.8 3h-3.6zM67.2 267.6l1.8 3h-3.6zM67.3 266.2l1.8 3h-3.6zM67.3 268.5l1.8 3h-3.6zM67.3 265.3l1.8 3h-3.6zM67.3 273.7l1.8 3h-3.6zM67.4 270.7l1.8 3h-3.6zM67.4 268.0l1.8 3h-3.6zM67.5 260.8l1.8 3h-3.6zM67.5 262.2l1.8 3h-3.6zM67.5 262.5l1.8 3h-3.6zM67.5 266.6l1.8 3h-3.6zM67.6 261.4l1.8 3h-3.6zM67.6 263.3l1.8 3h-3.6zM67.6 264.5l1.8 3h-3.6zM67.7 263.7l1.8 3h-3.6zM67.7 273.0l1.8 3h-3.6zM67.8 259.8l1.8 3h-3.6zM67.8 264.9l1.8 3h-3.6zM67.8 265.7l1.8 3h-3.6zM67.8 267.6l1.8 3h-3.6zM67.9 264.5l1.8 3h-3.6zM67.9 261.4l1.8 3h-3.6zM67.9 266.6l1.8 3h-3.6zM67.9 266.2l1.8 3h-3.6zM68.0 263.7l1.8 3h-3.6zM68.0 262.9l1.8 3h-3.6zM68.1 270.7l1.8 3h-3.6zM68.1 269.0l1.8 3h-3.6zM68.1 264.1l1.8 3h-3.6zM68.1 273.0l1.8 3h-3.6zM68.2 262.2l1.8 3h-3.6zM68.2 268.0l1.8 3h-3.6zM68.3 269.6l1.8 3h-3.6zM68.3 264.9l1.8 3h-3.6zM68.3 265.7l1.8 3h-3.6zM68.3 264.1l1.8 3h-3.6zM68.3 271.2l1.8 3h-3.6zM68.4 268.5l1.8 3h-3.6zM68.4 270.7l1.8 3h-3.6zM68.4 269.0l1.8 3h-3.6zM68.4 264.5l1.8 3h-3.6zM68.4 261.4l1.8 3h-3.6zM68.5 266.2l1.8 3h-3.6zM68.5 266.6l1.8 3h-3.6zM68.6 267.1l1.8 3h-3.6zM68.6 261.1l1.8 3h-3.6zM68.6 268.0l1.8 3h-3.6zM68.8 267.6l1.8 3h-3.6zM68.8 269.6l1.8 3h-3.6zM68.8 265.3l1.8 3h-3.6zM68.8 261.8l1.8 3h-3.6zM68.9 263.7l1.8 3h-3.6zM68.9 268.0l1.8 3h-3.6zM68.9 264.5l1.8 3h-3.6zM68.9 266.6l1.8 3h-3.6zM68.9 261.1l1.8 3h-3.6zM69.0 263.3l1.8 3h-3.6zM69.0 269.0l1.8 3h-3.6zM69.0 265.7l1.8 3h-3.6zM69.1 272.4l1.8 3h-3.6zM69.1 266.2l1.8 3h-3.6zM69.1 271.2l1.8 3h-3.6zM69.2 273.7l1.8 3h-3.6zM69.2 268.5l1.8 3h-3.6zM69.3 271.2l1.8 3h-3.6zM69.3 267.6l1.8 3h-3.6zM69.3 266.2l1.8 3h-3.6zM69.3 274.3l1.8 3h-3.6zM69.3 261.4l1.8 3h-3.6zM69.4 265.7l1.8 3h-3.6zM69.4 269.0l1.8 3h-3.6zM69.4 268.0l1.8 3h-3.6zM69.5 264.5l1.8 3h-3.6zM69.5 267.1l1.8 3h-3.6zM69.5 270.7l1.8 3h-3.6zM69.5 264.9l1.8 3h-3.6zM69.6 268.5l1.8 3h-3.6zM69.6 261.1l1.8 3h-3.6zM69.7 269.6l1.8 3h-3.6zM69.7 257.1l1.8 3h-3.6zM69.7 266.6l1.8 3h-3.6zM69.8 271.8l1.8 3h-3.6zM69.8 267.6l1.8 3h-3.6zM69.8 264.9l1.8 3h-3.6zM69.8 266.2l1.8 3h-3.6zM69.9 273.0l1.8 3h-3.6zM69.9 263.7l1.8 3h-3.6zM69.9 266.6l1.8 3h-3.6zM69.9 269.6l1.8 3h-3.6zM69.9 270.1l1.8 3h-3.6zM70.0 268.0l1.8 3h-3.6zM70.0 264.5l1.8 3h-3.6zM70.0 268.5l1.8 3h-3.6zM70.1 272.4l1.8 3h-3.6zM70.2 270.7l1.8 3h-3.6zM70.2 262.9l1.8 3h-3.6zM70.3 268.5l1.8 3h-3.6zM70.3 269.6l1.8 3h-3.6zM70.3 270.7l1.8 3h-3.6zM70.4 262.9l1.8 3h-3.6zM70.4 277.2l1.8 3h-3.6zM70.4 266.6l1.8 3h-3.6zM70.5 267.1l1.8 3h-3.6zM70.5 263.7l1.8 3h-3.6zM70.5 271.8l1.8 3h-3.6zM70.6 271.2l1.8 3h-3.6zM70.7 265.7l1.8 3h-3.6zM70.7 269.0l1.8 3h-3.6zM70.8 273.0l1.8 3h-3.6zM70.8 271.2l1.8 3h-3.6zM70.8 272.4l1.8 3h-3.6zM70.8 267.1l1.8 3h-3.6zM70.8 266.2l1.8 3h-3.6zM70.9 268.5l1.8 3h-3.6zM70.9 269.0l1.8 3h-3.6zM70.9 262.9l1.8 3h-3.6zM70.9 267.6l1.8 3h-3.6zM71.0 269.6l1.8 3h-3.6zM71.0 265.3l1.8 3h-3.6zM71.1 270.1l1.8 3h-3.6zM71.2 264.1l1.8 3h-3.6zM71.2 275.0l1.8 3h-3.6zM71.3 269.6l1.8 3h-3.6zM71.3 274.3l1.8 3h-3.6zM71.3 270.1l1.8 3h-3.6zM71.3 273.7l1.8 3h-3.6zM71.4 264.1l1.8 3h-3.6zM71.4 270.7l1.8 3h-3.6zM71.4 280.7l1.8 3h-3.6zM71.4 269.0l1.8 3h-3.6zM71.5 268.5l1.8 3h-3.6zM71.5 268.0l1.8 3h-3.6zM71.5 266.2l1.8 3h-3.6zM71.6 271.2l1.8 3h-3.6zM71.7 273.0l1.8 3h-3.6zM71.7 263.7l1.8 3h-3.6zM71.7 267.1l1.8 3h-3.6zM71.8 273.0l1.8 3h-3.6zM71.8 270.1l1.8 3h-3.6zM71.8 268.0l1.8 3h-3.6zM71.8 268.5l1.8 3h-3.6zM71.8 267.1l1.8 3h-3.6zM71.9 271.8l1.8 3h-3.6zM71.9 273.7l1.8 3h-3.6zM71.9 275.0l1.8 3h-3.6zM72.0 272.4l1.8 3h-3.6zM72.0 266.2l1.8 3h-3.6zM72.0 271.2l1.8 3h-3.6zM72.1 270.7l1.8 3h-3.6zM72.2 274.3l1.8 3h-3.6zM72.3 272.4l1.8 3h-3.6zM72.3 270.1l1.8 3h-3.6zM72.3 267.6l1.8 3h-3.6zM72.3 268.0l1.8 3h-3.6zM72.3 273.7l1.8 3h-3.6zM72.4 275.7l1.8 3h-3.6zM72.4 269.0l1.8 3h-3.6zM72.4 270.7l1.8 3h-3.6zM72.5 271.8l1.8 3h-3.6zM72.5 268.5l1.8 3h-3.6zM72.5 264.5l1.8 3h-3.6zM72.5 266.2l1.8 3h-3.6zM72.5 273.0l1.8 3h-3.6zM72.6 275.0l1.8 3h-3.6zM72.7 274.3l1.8 3h-3.6zM72.8 268.5l1.8 3h-3.6zM72.8 273.7l1.8 3h-3.6zM72.8 267.1l1.8 3h-3.6zM72.8 274.3l1.8 3h-3.6zM72.9 270.1l1.8 3h-3.6zM72.9 273.0l1.8 3h-3.6zM72.9 279.7l1.8 3h-3.6zM73.0 269.6l1.8 3h-3.6zM73.0 270.7l1.8 3h-3.6zM73.1 276.5l1.8 3h-3.6zM73.1 266.6l1.8 3h-3.6zM73.2 271.8l1.8 3h-3.6zM73.3 273.7l1.8 3h-3.6zM73.3 275.0l1.8 3h-3.6zM73.3 271.2l1.8 3h-3.6zM73.3 270.1l1.8 3h-3.6zM73.4 271.8l1.8 3h-3.6zM73.4 270.7l1.8 3h-3.6zM73.4 272.4l1.8 3h-3.6zM73.5 278.0l1.8 3h-3.6zM73.6 266.6l1.8 3h-3.6zM73.6 283.7l1.8 3h-3.6zM73.6 274.3l1.8 3h-3.6zM73.8 274.3l1.8 3h-3.6zM73.8 269.0l1.8 3h-3.6zM73.8 273.7l1.8 3h-3.6zM73.8 267.6l1.8 3h-3.6zM73.9 279.7l1.8 3h-3.6zM73.9 273.0l1.8 3h-3.6zM73.9 278.9l1.8 3h-3.6zM74.0 272.4l1.8 3h-3.6zM74.0 268.5l1.8 3h-3.6zM74.1 280.7l1.8 3h-3.6zM74.1 271.2l1.8 3h-3.6zM74.1 271.8l1.8 3h-3.6zM74.2 278.0l1.8 3h-3.6zM74.2 276.5l1.8 3h-3.6zM74.2 266.6l1.8 3h-3.6zM74.3 273.7l1.8 3h-3.6zM74.3 268.5l1.8 3h-3.6zM74.3 279.7l1.8 3h-3.6zM74.3 275.0l1.8 3h-3.6zM74.4 271.8l1.8 3h-3.6zM74.4 271.2l1.8 3h-3.6zM74.4 277.2l1.8 3h-3.6zM74.5 276.5l1.8 3h-3.6zM74.5 272.4l1.8 3h-3.6zM74.6 269.6l1.8 3h-3.6zM74.6 278.9l1.8 3h-3.6zM74.7 274.3l1.8 3h-3.6zM74.7 266.6l1.8 3h-3.6zM74.8 277.2l1.8 3h-3.6zM74.8 267.6l1.8 3h-3.6zM74.8 279.7l1.8 3h-3.6zM74.8 276.5l1.8 3h-3.6zM74.8 269.6l1.8 3h-3.6zM74.9 273.7l1.8 3h-3.6zM74.9 275.0l1.8 3h-3.6zM74.9 272.4l1.8 3h-3.6zM74.9 268.0l1.8 3h-3.6zM75.0 271.8l1.8 3h-3.6zM75.0 280.7l1.8 3h-3.6zM75.1 271.2l1.8 3h-3.6zM75.1 278.0l1.8 3h-3.6zM75.1 274.3l1.8 3h-3.6zM75.2 273.0l1.8 3h-3.6zM75.3 273.7l1.8 3h-3.6zM75.3 266.6l1.8 3h-3.6zM75.3 272.4l1.8 3h-3.6zM75.3 274.3l1.8 3h-3.6zM75.4 279.7l1.8 3h-3.6zM75.4 270.7l1.8 3h-3.6zM75.5 269.6l1.8 3h-3.6zM75.5 271.8l1.8 3h-3.6zM75.5 275.0l1.8 3h-3.6zM75.6 278.0l1.8 3h-3.6zM75.6 273.0l1.8 3h-3.6zM75.6 264.9l1.8 3h-3.6zM75.6 268.5l1.8 3h-3.6zM75.7 281.6l1.8 3h-3.6zM75.7 267.6l1.8 3h-3.6zM75.7 277.2l1.8 3h-3.6zM75.7 275.7l1.8 3h-3.6zM75.8 278.0l1.8 3h-3.6zM75.8 274.3l1.8 3h-3.6zM75.8 270.7l1.8 3h-3.6zM75.8 278.9l1.8 3h-3.6zM75.8 271.2l1.8 3h-3.6zM75.9 269.0l1.8 3h-3.6zM75.9 271.8l1.8 3h-3.6zM75.9 273.7l1.8 3h-3.6zM76.0 275.0l1.8 3h-3.6zM76.0 281.6l1.8 3h-3.6zM76.1 270.1l1.8 3h-3.6zM76.1 276.5l1.8 3h-3.6zM76.1 272.4l1.8 3h-3.6zM76.1 273.0l1.8 3h-3.6zM76.2 275.7l1.8 3h-3.6zM76.3 274.3l1.8 3h-3.6zM76.3 275.7l1.8 3h-3.6zM76.3 283.7l1.8 3h-3.6zM76.3 273.7l1.8 3h-3.6zM76.4 277.2l1.8 3h-3.6zM76.4 276.5l1.8 3h-3.6zM76.4 275.0l1.8 3h-3.6zM76.4 278.9l1.8 3h-3.6zM76.5 280.7l1.8 3h-3.6zM76.5 271.8l1.8 3h-3.6zM76.5 271.2l1.8 3h-3.6zM76.6 273.0l1.8 3h-3.6zM76.6 269.6l1.8 3h-3.6zM76.6 272.4l1.8 3h-3.6zM76.8 271.8l1.8 3h-3.6zM76.8 270.7l1.8 3h-3.6zM76.8 286.0l1.8 3h-3.6zM76.8 271.2l1.8 3h-3.6zM76.8 277.2l1.8 3h-3.6zM76.9 273.0l1.8 3h-3.6zM76.9 273.7l1.8 3h-3.6zM76.9 275.7l1.8 3h-3.6zM76.9 274.3l1.8 3h-3.6zM77.0 278.9l1.8 3h-3.6zM77.0 282.6l1.8 3h-3.6zM77.0 278.0l1.8 3h-3.6zM77.1 268.5l1.8 3h-3.6zM77.1 276.5l1.8 3h-3.6zM77.1 275.0l1.8 3h-3.6zM77.3 278.0l1.8 3h-3.6zM77.3 273.0l1.8 3h-3.6zM77.3 273.7l1.8 3h-3.6zM77.3 276.5l1.8 3h-3.6zM77.4 280.7l1.8 3h-3.6zM77.4 277.2l1.8 3h-3.6zM77.4 275.7l1.8 3h-3.6zM77.4 281.6l1.8 3h-3.6zM77.5 274.3l1.8 3h-3.6zM77.5 288.6l1.8 3h-3.6zM77.5 271.2l1.8 3h-3.6zM77.6 278.9l1.8 3h-3.6zM77.6 282.6l1.8 3h-3.6zM77.7 271.8l1.8 3h-3.6zM77.7 286.0l1.8 3h-3.6zM77.7 279.7l1.8 3h-3.6zM77.8 278.0l1.8 3h-3.6zM77.8 272.4l1.8 3h-3.6zM77.8 273.7l1.8 3h-3.6zM77.9 276.5l1.8 3h-3.6zM77.9 271.8l1.8 3h-3.6zM77.9 275.7l1.8 3h-3.6zM77.9 279.7l1.8 3h-3.6zM78.0 273.0l1.8 3h-3.6zM78.0 283.7l1.8 3h-3.6zM78.1 274.3l1.8 3h-3.6zM78.2 277.2l1.8 3h-3.6zM78.3 273.7l1.8 3h-3.6zM78.3 272.4l1.8 3h-3.6zM78.3 282.6l1.8 3h-3.6zM78.3 278.9l1.8 3h-3.6zM78.3 281.6l1.8 3h-3.6zM78.4 271.8l1.8 3h-3.6zM78.4 270.7l1.8 3h-3.6zM78.4 280.7l1.8 3h-3.6zM78.5 275.0l1.8 3h-3.6zM78.5 271.2l1.8 3h-3.6zM78.6 279.7l1.8 3h-3.6zM78.6 273.0l1.8 3h-3.6zM78.7 276.5l1.8 3h-3.6zM78.7 277.2l1.8 3h-3.6zM78.7 284.8l1.8 3h-3.6zM78.8 278.0l1.8 3h-3.6zM78.8 276.5l1.8 3h-3.6zM78.8 273.7l1.8 3h-3.6zM78.8 271.8l1.8 3h-3.6zM78.9 283.7l1.8 3h-3.6zM78.9 287.3l1.8 3h-3.6zM78.9 278.9l1.8 3h-3.6zM78.9 271.2l1.8 3h-3.6zM79.0 291.6l1.8 3h-3.6zM79.0 275.7l1.8 3h-3.6zM79.0 288.6l1.8 3h-3.6zM79.1 273.0l1.8 3h-3.6zM79.1 277.2l1.8 3h-3.6zM79.1 272.4l1.8 3h-3.6zM79.2 279.7l1.8 3h-3.6zM79.2 280.7l1.8 3h-3.6zM79.3 280.7l1.8 3h-3.6zM79.3 272.4l1.8 3h-3.6zM79.3 283.7l1.8 3h-3.6zM79.3 279.7l1.8 3h-3.6zM79.3 277.2l1.8 3h-3.6zM79.4 273.0l1.8 3h-3.6zM79.4 269.6l1.8 3h-3.6zM79.4 273.7l1.8 3h-3.6zM79.5 281.6l1.8 3h-3.6zM79.5 286.0l1.8 3h-3.6zM79.6 278.0l1.8 3h-3.6zM79.6 274.3l1.8 3h-3.6zM79.7 275.7l1.8 3h-3.6zM79.8 279.7l1.8 3h-3.6zM79.8 273.7l1.8 3h-3.6zM79.8 274.3l1.8 3h-3.6zM79.8 281.6l1.8 3h-3.6zM79.8 277.2l1.8 3h-3.6zM79.9 275.7l1.8 3h-3.6zM79.9 275.0l1.8 3h-3.6zM79.9 288.6l1.8 3h-3.6zM79.9 282.6l1.8 3h-3.6zM80.0 271.2l1.8 3h-3.6zM80.0 278.0l1.8 3h-3.6zM80.1 286.0l1.8 3h-3.6zM80.1 280.7l1.8 3h-3.6zM80.1 291.6l1.8 3h-3.6zM80.2 278.9l1.8 3h-3.6zM80.2 284.8l1.8 3h-3.6zM80.3 278.0l1.8 3h-3.6zM80.3 276.5l1.8 3h-3.6zM80.3 279.7l1.8 3h-3.6zM80.3 270.1l1.8 3h-3.6zM80.4 277.2l1.8 3h-3.6zM80.4 273.0l1.8 3h-3.6zM80.4 281.6l1.8 3h-3.6zM80.5 284.8l1.8 3h-3.6zM80.5 274.3l1.8 3h-3.6zM80.5 275.7l1.8 3h-3.6zM80.6 278.9l1.8 3h-3.6zM80.6 275.0l1.8 3h-3.6zM80.7 282.6l1.8 3h-3.6zM80.8 274.3l1.8 3h-3.6zM80.8 278.9l1.8 3h-3.6zM80.8 276.5l1.8 3h-3.6zM80.8 281.6l1.8 3h-3.6zM80.8 280.7l1.8 3h-3.6zM80.9 275.7l1.8 3h-3.6zM80.9 284.8l1.8 3h-3.6zM81.0 275.0l1.8 3h-3.6zM81.0 287.3l1.8 3h-3.6zM81.0 278.0l1.8 3h-3.6zM81.0 283.7l1.8 3h-3.6zM81.1 277.2l1.8 3h-3.6zM81.1 282.6l1.8 3h-3.6zM81.3 290.1l1.8 3h-3.6zM81.3 280.7l1.8 3h-3.6zM81.3 284.8l1.8 3h-3.6zM81.4 275.0l1.8 3h-3.6zM81.4 277.2l1.8 3h-3.6zM81.4 278.9l1.8 3h-3.6zM81.4 276.5l1.8 3h-3.6zM81.4 281.6l1.8 3h-3.6zM81.5 273.7l1.8 3h-3.6zM81.5 282.6l1.8 3h-3.6zM81.5 283.7l1.8 3h-3.6zM81.6 286.0l1.8 3h-3.6zM81.6 287.3l1.8 3h-3.6zM81.6 271.2l1.8 3h-3.6zM81.7 278.0l1.8 3h-3.6zM81.7 293.3l1.8 3h-3.6zM81.8 284.8l1.8 3h-3.6zM81.8 281.6l1.8 3h-3.6zM81.8 279.7l1.8 3h-3.6zM81.8 278.0l1.8 3h-3.6zM81.8 275.0l1.8 3h-3.6zM81.9 290.1l1.8 3h-3.6zM81.9 277.2l1.8 3h-3.6zM81.9 271.2l1.8 3h-3.6zM82.0 282.6l1.8 3h-3.6zM82.0 278.9l1.8 3h-3.6zM82.0 287.3l1.8 3h-3.6zM82.1 283.7l1.8 3h-3.6zM82.3 286.0l1.8 3h-3.6zM82.3 274.3l1.8 3h-3.6zM82.3 281.6l1.8 3h-3.6zM82.3 280.7l1.8 3h-3.6zM82.3 279.7l1.8 3h-3.6zM82.4 288.6l1.8 3h-3.6zM82.5 283.7l1.8 3h-3.6zM82.5 275.7l1.8 3h-3.6zM82.6 278.0l1.8 3h-3.6zM82.6 282.6l1.8 3h-3.6zM82.6 287.3l1.8 3h-3.6zM82.7 273.7l1.8 3h-3.6zM82.7 284.8l1.8 3h-3.6zM82.8 278.0l1.8 3h-3.6zM82.8 283.7l1.8 3h-3.6zM82.8 278.9l1.8 3h-3.6zM82.8 281.6l1.8 3h-3.6zM82.9 282.6l1.8 3h-3.6zM82.9 287.3l1.8 3h-3.6zM83.0 277.2l1.8 3h-3.6zM83.1 286.0l1.8 3h-3.6zM83.2 280.7l1.8 3h-3.6zM83.2 279.7l1.8 3h-3.6zM83.3 291.6l1.8 3h-3.6zM83.3 293.3l1.8 3h-3.6zM83.3 277.2l1.8 3h-3.6zM83.3 278.9l1.8 3h-3.6zM83.3 283.7l1.8 3h-3.6zM83.4 287.3l1.8 3h-3.6zM83.4 286.0l1.8 3h-3.6zM83.4 290.1l1.8 3h-3.6zM83.5 281.6l1.8 3h-3.6zM83.5 275.7l1.8 3h-3.6zM83.6 288.6l1.8 3h-3.6zM83.6 280.7l1.8 3h-3.6zM83.7 276.5l1.8 3h-3.6zM83.8 284.8l1.8 3h-3.6zM83.8 278.0l1.8 3h-3.6zM83.8 281.6l1.8 3h-3.6zM83.8 287.3l1.8 3h-3.6zM83.8 283.7l1.8 3h-3.6zM83.9 277.2l1.8 3h-3.6zM83.9 279.7l1.8 3h-3.6zM83.9 288.6l1.8 3h-3.6zM83.9 276.5l1.8 3h-3.6zM84.0 278.9l1.8 3h-3.6zM84.0 275.0l1.8 3h-3.6zM84.3 280.7l1.8 3h-3.6zM84.3 284.8l1.8 3h-3.6zM84.3 283.7l1.8 3h-3.6zM84.3 281.6l1.8 3h-3.6zM84.3 286.0l1.8 3h-3.6zM84.4 279.7l1.8 3h-3.6zM84.5 288.6l1.8 3h-3.6zM84.5 287.3l1.8 3h-3.6zM84.5 282.6l1.8 3h-3.6zM84.6 278.9l1.8 3h-3.6zM84.6 290.1l1.8 3h-3.6zM84.7 278.0l1.8 3h-3.6zM84.8 284.8l1.8 3h-3.6zM84.8 275.7l1.8 3h-3.6zM84.8 278.9l1.8 3h-3.6zM84.8 288.6l1.8 3h-3.6zM84.9 281.6l1.8 3h-3.6zM84.9 295.2l1.8 3h-3.6zM84.9 273.7l1.8 3h-3.6zM84.9 282.6l1.8 3h-3.6zM85.0 280.7l1.8 3h-3.6zM85.0 287.3l1.8 3h-3.6zM85.0 283.7l1.8 3h-3.6zM85.1 279.7l1.8 3h-3.6zM85.2 297.3l1.8 3h-3.6zM85.2 290.1l1.8 3h-3.6zM85.2 291.6l1.8 3h-3.6zM85.3 288.6l1.8 3h-3.6zM85.3 279.7l1.8 3h-3.6zM85.3 278.0l1.8 3h-3.6zM85.3 286.0l1.8 3h-3.6zM85.4 291.6l1.8 3h-3.6zM85.4 287.3l1.8 3h-3.6zM85.4 284.8l1.8 3h-3.6zM85.4 290.1l1.8 3h-3.6zM85.5 283.7l1.8 3h-3.6zM85.6 282.6l1.8 3h-3.6zM85.7 280.7l1.8 3h-3.6zM85.7 277.2l1.8 3h-3.6zM85.8 286.0l1.8 3h-3.6zM85.8 282.6l1.8 3h-3.6zM85.8 288.6l1.8 3h-3.6zM85.9 291.6l1.8 3h-3.6zM85.9 283.7l1.8 3h-3.6zM85.9 297.3l1.8 3h-3.6zM86.0 290.1l1.8 3h-3.6zM86.0 279.7l1.8 3h-3.6zM86.0 287.3l1.8 3h-3.6zM86.1 275.7l1.8 3h-3.6zM86.1 277.2l1.8 3h-3.6zM86.1 293.3l1.8 3h-3.6zM86.2 280.7l1.8 3h-3.6zM86.2 281.6l1.8 3h-3.6zM86.3 279.7l1.8 3h-3.6zM86.3 277.2l1.8 3h-3.6zM86.3 286.0l1.8 3h-3.6zM86.3 290.1l1.8 3h-3.6zM86.3 281.6l1.8 3h-3.6zM86.4 280.7l1.8 3h-3.6zM86.4 293.3l1.8 3h-3.6zM86.4 287.3l1.8 3h-3.6zM86.5 288.6l1.8 3h-3.6zM86.6 283.7l1.8 3h-3.6zM86.6 284.8l1.8 3h-3.6zM86.7 275.7l1.8 3h-3.6zM86.7 291.6l1.8 3h-3.6zM86.8 286.0l1.8 3h-3.6zM86.8 282.6l1.8 3h-3.6zM86.8 287.3l1.8 3h-3.6zM86.8 279.7l1.8 3h-3.6zM86.8 281.6l1.8 3h-3.6zM86.9 284.8l1.8 3h-3.6zM86.9 290.1l1.8 3h-3.6zM86.9 288.6l1.8 3h-3.6zM87.0 278.9l1.8 3h-3.6zM87.0 283.7l1.8 3h-3.6zM87.1 295.2l1.8 3h-3.6zM87.3 283.7l1.8 3h-3.6zM87.3 282.6l1.8 3h-3.6zM87.3 278.0l1.8 3h-3.6zM87.3 288.6l1.8 3h-3.6zM87.3 286.0l1.8 3h-3.6zM87.4 284.8l1.8 3h-3.6zM87.4 287.3l1.8 3h-3.6zM87.4 291.6l1.8 3h-3.6zM87.6 280.7l1.8 3h-3.6zM87.6 293.3l1.8 3h-3.6zM87.6 295.2l1.8 3h-3.6zM87.8 288.6l1.8 3h-3.6zM87.8 287.3l1.8 3h-3.6zM87.8 295.2l1.8 3h-3.6zM87.9 284.8l1.8 3h-3.6zM87.9 280.7l1.8 3h-3.6zM87.9 302.2l1.8 3h-3.6zM88.0 283.7l1.8 3h-3.6zM88.0 278.9l1.8 3h-3.6zM88.1 290.1l1.8 3h-3.6zM88.1 291.6l1.8 3h-3.6zM88.3 290.1l1.8 3h-3.6zM88.3 283.7l1.8 3h-3.6zM88.3 287.3l1.8 3h-3.6zM88.3 284.8l1.8 3h-3.6zM88.3 295.2l1.8 3h-3.6zM88.4 293.3l1.8 3h-3.6zM88.5 308.8l1.8 3h-3.6zM88.5 288.6l1.8 3h-3.6zM88.5 276.5l1.8 3h-3.6zM88.6 282.6l1.8 3h-3.6zM88.8 283.7l1.8 3h-3.6zM88.8 286.0l1.8 3h-3.6zM88.8 287.3l1.8 3h-3.6zM88.9 291.6l1.8 3h-3.6zM88.9 302.2l1.8 3h-3.6zM88.9 284.8l1.8 3h-3.6zM89.0 281.6l1.8 3h-3.6zM89.0 288.6l1.8 3h-3.6zM89.0 299.6l1.8 3h-3.6zM89.1 290.1l1.8 3h-3.6zM89.2 295.2l1.8 3h-3.6zM89.2 280.7l1.8 3h-3.6zM89.2 275.0l1.8 3h-3.6zM89.3 291.6l1.8 3h-3.6zM89.3 286.0l1.8 3h-3.6zM89.3 287.3l1.8 3h-3.6zM89.4 288.6l1.8 3h-3.6zM89.4 281.6l1.8 3h-3.6zM89.4 284.8l1.8 3h-3.6zM89.4 295.2l1.8 3h-3.6zM89.4 290.1l1.8 3h-3.6zM89.5 299.6l1.8 3h-3.6zM89.7 297.3l1.8 3h-3.6zM89.8 291.6l1.8 3h-3.6zM89.8 295.2l1.8 3h-3.6zM89.8 290.1l1.8 3h-3.6zM89.9 299.6l1.8 3h-3.6zM89.9 282.6l1.8 3h-3.6zM89.9 286.0l1.8 3h-3.6zM89.9 287.3l1.8 3h-3.6zM90.0 293.3l1.8 3h-3.6zM90.0 288.6l1.8 3h-3.6zM90.1 283.7l1.8 3h-3.6zM90.1 277.2l1.8 3h-3.6zM90.2 297.3l1.8 3h-3.6zM90.2 284.8l1.8 3h-3.6zM90.3 290.1l1.8 3h-3.6zM90.3 295.2l1.8 3h-3.6zM90.3 297.3l1.8 3h-3.6zM90.3 288.6l1.8 3h-3.6zM90.4 287.3l1.8 3h-3.6zM90.4 282.6l1.8 3h-3.6zM90.4 286.0l1.8 3h-3.6zM90.5 278.0l1.8 3h-3.6zM90.5 293.3l1.8 3h-3.6zM90.5 279.7l1.8 3h-3.6zM90.6 283.7l1.8 3h-3.6zM90.7 278.9l1.8 3h-3.6zM90.7 284.8l1.8 3h-3.6zM90.8 288.6l1.8 3h-3.6zM90.8 295.2l1.8 3h-3.6zM90.8 287.3l1.8 3h-3.6zM90.9 283.7l1.8 3h-3.6zM90.9 291.6l1.8 3h-3.6zM90.9 284.8l1.8 3h-3.6zM91.0 279.7l1.8 3h-3.6zM91.0 286.0l1.8 3h-3.6zM91.1 290.1l1.8 3h-3.6zM91.2 282.6l1.8 3h-3.6zM91.2 293.3l1.8 3h-3.6zM91.3 293.3l1.8 3h-3.6zM91.3 291.6l1.8 3h-3.6zM91.3 282.6l1.8 3h-3.6zM91.3 287.3l1.8 3h-3.6zM91.4 295.2l1.8 3h-3.6zM91.4 290.1l1.8 3h-3.6zM91.5 281.6l1.8 3h-3.6zM91.5 297.3l1.8 3h-3.6zM91.6 288.6l1.8 3h-3.6zM91.6 283.7l1.8 3h-3.6zM91.6 284.8l1.8 3h-3.6zM91.7 302.2l1.8 3h-3.6zM91.8 286.0l1.8 3h-3.6zM91.8 295.2l1.8 3h-3.6zM91.8 290.1l1.8 3h-3.6zM91.9 287.3l1.8 3h-3.6zM91.9 281.6l1.8 3h-3.6zM92.0 293.3l1.8 3h-3.6zM92.0 299.6l1.8 3h-3.6zM92.1 291.6l1.8 3h-3.6zM92.2 283.7l1.8 3h-3.6zM92.3 299.6l1.8 3h-3.6zM92.3 286.0l1.8 3h-3.6zM92.3 293.3l1.8 3h-3.6zM92.3 291.6l1.8 3h-3.6zM92.4 282.6l1.8 3h-3.6zM92.4 287.3l1.8 3h-3.6zM92.4 295.2l1.8 3h-3.6zM92.5 305.2l1.8 3h-3.6zM92.5 302.2l1.8 3h-3.6zM92.6 297.3l1.8 3h-3.6zM92.6 290.1l1.8 3h-3.6zM92.7 288.6l1.8 3h-3.6zM92.8 297.3l1.8 3h-3.6zM92.8 286.0l1.8 3h-3.6zM92.8 295.2l1.8 3h-3.6zM92.8 290.1l1.8 3h-3.6zM92.9 281.6l1.8 3h-3.6zM92.9 284.8l1.8 3h-3.6zM92.9 293.3l1.8 3h-3.6zM92.9 302.2l1.8 3h-3.6zM93.0 283.7l1.8 3h-3.6zM93.0 291.6l1.8 3h-3.6zM93.0 299.6l1.8 3h-3.6zM93.0 287.3l1.8 3h-3.6zM93.2 288.6l1.8 3h-3.6zM93.3 287.3l1.8 3h-3.6zM93.3 288.6l1.8 3h-3.6zM93.3 297.3l1.8 3h-3.6zM93.3 290.1l1.8 3h-3.6zM93.3 302.2l1.8 3h-3.6zM93.4 283.7l1.8 3h-3.6zM93.4 299.6l1.8 3h-3.6zM93.4 295.2l1.8 3h-3.6zM93.5 293.3l1.8 3h-3.6zM93.5 291.6l1.8 3h-3.6zM93.5 286.0l1.8 3h-3.6zM93.6 305.2l1.8 3h-3.6zM93.7 281.6l1.8 3h-3.6zM93.8 295.2l1.8 3h-3.6zM93.8 291.6l1.8 3h-3.6zM93.8 287.3l1.8 3h-3.6zM93.8 284.8l1.8 3h-3.6zM93.9 308.8l1.8 3h-3.6zM93.9 293.3l1.8 3h-3.6zM94.0 297.3l1.8 3h-3.6zM94.0 283.7l1.8 3h-3.6zM94.1 290.1l1.8 3h-3.6zM94.1 288.6l1.8 3h-3.6zM94.2 318.8l1.8 3h-3.6zM94.2 299.6l1.8 3h-3.6zM94.3 293.3l1.8 3h-3.6zM94.3 297.3l1.8 3h-3.6zM94.3 305.2l1.8 3h-3.6zM94.4 290.1l1.8 3h-3.6zM94.4 295.2l1.8 3h-3.6zM94.5 284.8l1.8 3h-3.6zM94.5 288.6l1.8 3h-3.6zM94.6 286.0l1.8 3h-3.6zM94.6 287.3l1.8 3h-3.6zM94.7 299.6l1.8 3h-3.6zM94.7 283.7l1.8 3h-3.6zM94.7 308.8l1.8 3h-3.6zM94.8 288.6l1.8 3h-3.6zM94.8 302.2l1.8 3h-3.6zM94.8 295.2l1.8 3h-3.6zM94.9 291.6l1.8 3h-3.6zM94.9 305.2l1.8 3h-3.6zM95.0 293.3l1.8 3h-3.6zM95.1 308.8l1.8 3h-3.6zM95.2 299.6l1.8 3h-3.6zM95.3 290.1l1.8 3h-3.6zM95.3 302.2l1.8 3h-3.6zM95.3 297.3l1.8 3h-3.6zM95.4 299.6l1.8 3h-3.6zM95.4 305.2l1.8 3h-3.6zM95.4 286.0l1.8 3h-3.6zM95.4 291.6l1.8 3h-3.6zM95.5 295.2l1.8 3h-3.6zM95.7 287.3l1.8 3h-3.6zM95.7 288.6l1.8 3h-3.6zM95.8 308.8l1.8 3h-3.6zM95.8 293.3l1.8 3h-3.6zM95.8 297.3l1.8 3h-3.6zM95.9 286.0l1.8 3h-3.6zM95.9 295.2l1.8 3h-3.6zM96.0 302.2l1.8 3h-3.6zM96.0 291.6l1.8 3h-3.6zM96.0 284.8l1.8 3h-3.6zM96.0 288.6l1.8 3h-3.6zM96.1 305.2l1.8 3h-3.6zM96.2 287.3l1.8 3h-3.6zM96.2 290.1l1.8 3h-3.6zM96.3 299.6l1.8 3h-3.6zM96.3 295.2l1.8 3h-3.6zM96.3 302.2l1.8 3h-3.6zM96.3 305.2l1.8 3h-3.6zM96.4 291.6l1.8 3h-3.6zM96.4 287.3l1.8 3h-3.6zM96.4 297.3l1.8 3h-3.6zM96.5 290.1l1.8 3h-3.6zM96.6 288.6l1.8 3h-3.6zM96.8 305.2l1.8 3h-3.6zM96.8 291.6l1.8 3h-3.6zM96.8 299.6l1.8 3h-3.6zM96.9 293.3l1.8 3h-3.6zM96.9 286.0l1.8 3h-3.6zM96.9 313.1l1.8 3h-3.6zM96.9 308.8l1.8 3h-3.6zM96.9 302.2l1.8 3h-3.6zM97.0 295.2l1.8 3h-3.6zM97.1 297.3l1.8 3h-3.6zM97.1 290.1l1.8 3h-3.6zM97.3 297.3l1.8 3h-3.6zM97.3 291.6l1.8 3h-3.6zM97.3 299.6l1.8 3h-3.6zM97.3 290.1l1.8 3h-3.6zM97.3 305.2l1.8 3h-3.6zM97.4 302.2l1.8 3h-3.6zM97.4 313.1l1.8 3h-3.6zM97.4 293.3l1.8 3h-3.6zM97.6 288.6l1.8 3h-3.6zM97.7 295.2l1.8 3h-3.6zM97.8 305.2l1.8 3h-3.6zM97.8 297.3l1.8 3h-3.6zM97.8 295.2l1.8 3h-3.6zM97.8 313.1l1.8 3h-3.6zM97.8 288.6l1.8 3h-3.6zM97.9 291.6l1.8 3h-3.6zM97.9 293.3l1.8 3h-3.6zM98.1 299.6l1.8 3h-3.6zM98.2 308.8l1.8 3h-3.6zM98.2 280.7l1.8 3h-3.6zM98.2 302.2l1.8 3h-3.6zM98.3 297.3l1.8 3h-3.6zM98.3 281.6l1.8 3h-3.6zM98.3 318.8l1.8 3h-3.6zM98.3 295.2l1.8 3h-3.6zM98.3 293.3l1.8 3h-3.6zM98.4 291.6l1.8 3h-3.6zM98.4 305.2l1.8 3h-3.6zM98.4 302.2l1.8 3h-3.6zM98.5 299.6l1.8 3h-3.6zM98.5 308.8l1.8 3h-3.6zM98.5 286.0l1.8 3h-3.6zM98.7 288.6l1.8 3h-3.6zM98.8 290.1l1.8 3h-3.6zM98.8 295.2l1.8 3h-3.6zM98.8 299.6l1.8 3h-3.6zM98.8 340.3l1.8 3h-3.6zM98.9 302.2l1.8 3h-3.6zM98.9 308.8l1.8 3h-3.6zM98.9 297.3l1.8 3h-3.6zM99.1 313.1l1.8 3h-3.6zM99.1 305.2l1.8 3h-3.6zM99.1 291.6l1.8 3h-3.6zM99.2 326.7l1.8 3h-3.6zM99.3 299.6l1.8 3h-3.6zM99.3 305.2l1.8 3h-3.6zM99.3 295.2l1.8 3h-3.6zM99.3 318.8l1.8 3h-3.6zM99.4 302.2l1.8 3h-3.6zM99.4 297.3l1.8 3h-3.6zM99.4 290.1l1.8 3h-3.6zM99.5 308.8l1.8 3h-3.6zM99.6 288.6l1.8 3h-3.6zM99.7 291.6l1.8 3h-3.6zM99.8 305.2l1.8 3h-3.6zM99.8 308.8l1.8 3h-3.6zM99.8 299.6l1.8 3h-3.6zM99.8 302.2l1.8 3h-3.6zM100.0 291.6l1.8 3h-3.6zM100.0 288.6l1.8 3h-3.6zM100.0 295.2l1.8 3h-3.6zM100.1 290.1l1.8 3h-3.6zM100.2 293.3l1.8 3h-3.6zM100.2 318.8l1.8 3h-3.6zM100.2 297.3l1.8 3h-3.6zM100.3 295.2l1.8 3h-3.6zM100.3 299.6l1.8 3h-3.6zM100.3 293.3l1.8 3h-3.6zM100.3 297.3l1.8 3h-3.6zM100.3 313.1l1.8 3h-3.6zM100.4 305.2l1.8 3h-3.6zM100.4 291.6l1.8 3h-3.6zM100.4 302.2l1.8 3h-3.6zM100.7 308.8l1.8 3h-3.6zM100.8 318.8l1.8 3h-3.6zM100.8 297.3l1.8 3h-3.6zM100.8 299.6l1.8 3h-3.6zM100.9 305.2l1.8 3h-3.6zM100.9 290.1l1.8 3h-3.6zM100.9 308.8l1.8 3h-3.6zM100.9 293.3l1.8 3h-3.6zM101.1 302.2l1.8 3h-3.6zM101.2 295.2l1.8 3h-3.6zM101.3 299.6l1.8 3h-3.6zM101.3 313.1l1.8 3h-3.6zM101.3 302.2l1.8 3h-3.6zM101.4 305.2l1.8 3h-3.6zM101.4 308.8l1.8 3h-3.6zM101.4 295.2l1.8 3h-3.6zM101.7 297.3l1.8 3h-3.6zM101.8 302.2l1.8 3h-3.6zM101.8 299.6l1.8 3h-3.6zM101.8 305.2l1.8 3h-3.6zM101.9 295.2l1.8 3h-3.6zM101.9 313.1l1.8 3h-3.6zM101.9 293.3l1.8 3h-3.6zM102.1 340.3l1.8 3h-3.6zM102.1 318.8l1.8 3h-3.6zM102.3 295.2l1.8 3h-3.6zM102.3 299.6l1.8 3h-3.6zM102.3 326.7l1.8 3h-3.6zM102.3 291.6l1.8 3h-3.6zM102.4 305.2l1.8 3h-3.6zM102.4 297.3l1.8 3h-3.6zM102.4 308.8l1.8 3h-3.6zM102.6 302.2l1.8 3h-3.6zM102.6 313.1l1.8 3h-3.6zM102.7 293.3l1.8 3h-3.6zM102.7 290.1l1.8 3h-3.6zM102.8 293.3l1.8 3h-3.6zM102.8 313.1l1.8 3h-3.6zM102.8 297.3l1.8 3h-3.6zM102.8 291.6l1.8 3h-3.6zM102.9 326.7l1.8 3h-3.6zM102.9 295.2l1.8 3h-3.6zM102.9 299.6l1.8 3h-3.6zM103.0 288.6l1.8 3h-3.6zM103.0 305.2l1.8 3h-3.6zM103.1 302.2l1.8 3h-3.6zM103.1 318.8l1.8 3h-3.6zM103.3 318.8l1.8 3h-3.6zM103.3 297.3l1.8 3h-3.6zM103.3 313.1l1.8 3h-3.6zM103.3 299.6l1.8 3h-3.6zM103.4 340.3l1.8 3h-3.6zM103.4 326.7l1.8 3h-3.6zM103.5 302.2l1.8 3h-3.6zM103.8 302.2l1.8 3h-3.6zM103.8 308.8l1.8 3h-3.6zM103.8 326.7l1.8 3h-3.6zM103.8 293.3l1.8 3h-3.6zM103.8 297.3l1.8 3h-3.6zM103.9 313.1l1.8 3h-3.6zM104.0 305.2l1.8 3h-3.6zM104.2 290.1l1.8 3h-3.6zM104.2 299.6l1.8 3h-3.6zM104.3 326.7l1.8 3h-3.6zM104.3 299.6l1.8 3h-3.6zM104.3 305.2l1.8 3h-3.6zM104.3 318.8l1.8 3h-3.6zM104.4 302.2l1.8 3h-3.6zM104.5 297.3l1.8 3h-3.6zM104.5 313.1l1.8 3h-3.6zM104.6 293.3l1.8 3h-3.6zM104.7 308.8l1.8 3h-3.6zM104.8 299.6l1.8 3h-3.6zM104.8 318.8l1.8 3h-3.6zM104.8 308.8l1.8 3h-3.6zM104.8 297.3l1.8 3h-3.6zM104.9 305.2l1.8 3h-3.6zM105.0 302.2l1.8 3h-3.6zM105.1 295.2l1.8 3h-3.6zM105.1 291.6l1.8 3h-3.6zM105.1 313.1l1.8 3h-3.6zM105.3 299.6l1.8 3h-3.6zM105.3 297.3l1.8 3h-3.6zM105.3 295.2l1.8 3h-3.6zM105.3 326.7l1.8 3h-3.6zM105.4 313.1l1.8 3h-3.6zM105.4 288.6l1.8 3h-3.6zM105.4 305.2l1.8 3h-3.6zM105.5 308.8l1.8 3h-3.6zM105.5 302.2l1.8 3h-3.6zM105.6 318.8l1.8 3h-3.6zM105.8 326.7l1.8 3h-3.6zM105.8 299.6l1.8 3h-3.6zM105.8 305.2l1.8 3h-3.6zM105.8 302.2l1.8 3h-3.6zM105.9 295.2l1.8 3h-3.6zM105.9 308.8l1.8 3h-3.6zM106.0 318.8l1.8 3h-3.6zM106.0 313.1l1.8 3h-3.6zM106.0 293.3l1.8 3h-3.6zM106.2 297.3l1.8 3h-3.6zM106.3 293.3l1.8 3h-3.6zM106.3 302.2l1.8 3h-3.6zM106.3 318.8l1.8 3h-3.6zM106.3 308.8l1.8 3h-3.6zM106.4 313.1l1.8 3h-3.6zM106.4 305.2l1.8 3h-3.6zM106.6 297.3l1.8 3h-3.6zM106.6 299.6l1.8 3h-3.6zM106.8 305.2l1.8 3h-3.6zM106.8 299.6l1.8 3h-3.6zM106.8 313.1l1.8 3h-3.6zM106.8 326.7l1.8 3h-3.6zM106.9 308.8l1.8 3h-3.6zM106.9 318.8l1.8 3h-3.6zM106.9 297.3l1.8 3h-3.6zM107.0 293.3l1.8 3h-3.6zM107.1 340.3l1.8 3h-3.6zM107.2 291.6l1.8 3h-3.6zM107.3 299.6l1.8 3h-3.6zM107.3 313.1l1.8 3h-3.6zM107.4 318.8l1.8 3h-3.6zM107.4 302.2l1.8 3h-3.6zM107.5 308.8l1.8 3h-3.6zM107.5 326.7l1.8 3h-3.6zM107.6 297.3l1.8 3h-3.6zM107.7 340.3l1.8 3h-3.6zM107.8 326.7l1.8 3h-3.6zM107.8 313.1l1.8 3h-3.6zM107.8 305.2l1.8 3h-3.6zM107.8 308.8l1.8 3h-3.6zM107.9 318.8l1.8 3h-3.6zM107.9 299.6l1.8 3h-3.6zM108.0 302.2l1.8 3h-3.6zM108.3 308.8l1.8 3h-3.6zM108.3 326.7l1.8 3h-3.6zM108.3 302.2l1.8 3h-3.6zM108.3 313.1l1.8 3h-3.6zM108.4 318.8l1.8 3h-3.6zM108.4 305.2l1.8 3h-3.6zM108.5 295.2l1.8 3h-3.6zM108.5 340.3l1.8 3h-3.6zM108.5 299.6l1.8 3h-3.6zM108.8 313.1l1.8 3h-3.6zM108.8 305.2l1.8 3h-3.6zM108.8 326.7l1.8 3h-3.6zM108.9 308.8l1.8 3h-3.6zM108.9 318.8l1.8 3h-3.6zM109.0 302.2l1.8 3h-3.6zM109.2 340.3l1.8 3h-3.6zM109.2 297.3l1.8 3h-3.6zM109.3 313.1l1.8 3h-3.6zM109.3 340.3l1.8 3h-3.6zM109.3 302.2l1.8 3h-3.6zM109.3 308.8l1.8 3h-3.6zM109.4 305.2l1.8 3h-3.6zM109.4 326.7l1.8 3h-3.6zM109.4 318.8l1.8 3h-3.6zM109.8 299.6l1.8 3h-3.6zM109.8 318.8l1.8 3h-3.6zM109.8 305.2l1.8 3h-3.6zM109.9 313.1l1.8 3h-3.6zM110.0 308.8l1.8 3h-3.6zM110.0 302.2l1.8 3h-3.6zM110.1 326.7l1.8 3h-3.6zM110.3 326.7l1.8 3h-3.6zM110.3 313.1l1.8 3h-3.6zM110.3 318.8l1.8 3h-3.6zM110.3 302.2l1.8 3h-3.6zM110.4 297.3l1.8 3h-3.6zM110.4 308.8l1.8 3h-3.6zM110.7 305.2l1.8 3h-3.6zM110.7 340.3l1.8 3h-3.6zM110.8 308.8l1.8 3h-3.6zM110.8 305.2l1.8 3h-3.6zM110.8 313.1l1.8 3h-3.6zM110.9 295.2l1.8 3h-3.6zM110.9 318.8l1.8 3h-3.6zM110.9 326.7l1.8 3h-3.6zM111.0 340.3l1.8 3h-3.6zM111.1 302.2l1.8 3h-3.6zM111.3 313.1l1.8 3h-3.6zM111.3 302.2l1.8 3h-3.6zM111.3 308.8l1.8 3h-3.6zM111.3 305.2l1.8 3h-3.6zM111.3 318.8l1.8 3h-3.6zM111.5 297.3l1.8 3h-3.6zM111.5 326.7l1.8 3h-3.6zM111.8 308.8l1.8 3h-3.6zM111.8 313.1l1.8 3h-3.6zM111.8 305.2l1.8 3h-3.6zM111.8 340.3l1.8 3h-3.6zM111.8 299.6l1.8 3h-3.6zM111.9 318.8l1.8 3h-3.6zM111.9 302.2l1.8 3h-3.6zM112.0 326.7l1.8 3h-3.6zM112.3 313.1l1.8 3h-3.6zM112.3 318.8l1.8 3h-3.6zM112.3 308.8l1.8 3h-3.6zM112.4 302.2l1.8 3h-3.6zM112.4 305.2l1.8 3h-3.6zM112.5 326.7l1.8 3h-3.6zM112.6 340.3l1.8 3h-3.6zM112.6 299.6l1.8 3h-3.6zM112.8 293.3l1.8 3h-3.6zM112.8 313.1l1.8 3h-3.6zM112.8 318.8l1.8 3h-3.6zM112.9 308.8l1.8 3h-3.6zM112.9 305.2l1.8 3h-3.6zM112.9 326.7l1.8 3h-3.6zM113.0 297.3l1.8 3h-3.6zM113.1 340.3l1.8 3h-3.6zM113.1 295.2l1.8 3h-3.6zM113.3 297.3l1.8 3h-3.6zM113.3 308.8l1.8 3h-3.6zM113.3 313.1l1.8 3h-3.6zM113.3 318.8l1.8 3h-3.6zM113.4 293.3l1.8 3h-3.6zM113.4 305.2l1.8 3h-3.6zM113.4 340.3l1.8 3h-3.6zM113.5 299.6l1.8 3h-3.6zM113.6 326.7l1.8 3h-3.6zM113.8 305.2l1.8 3h-3.6zM113.8 326.7l1.8 3h-3.6zM113.8 318.8l1.8 3h-3.6zM113.9 302.2l1.8 3h-3.6zM114.0 291.6l1.8 3h-3.6zM114.1 313.1l1.8 3h-3.6zM114.1 308.8l1.8 3h-3.6zM114.1 340.3l1.8 3h-3.6zM114.3 305.2l1.8 3h-3.6zM114.3 308.8l1.8 3h-3.6zM114.3 318.8l1.8 3h-3.6zM114.3 313.1l1.8 3h-3.6zM114.4 340.3l1.8 3h-3.6zM114.5 326.7l1.8 3h-3.6zM114.6 302.2l1.8 3h-3.6zM114.8 313.1l1.8 3h-3.6zM114.8 326.7l1.8 3h-3.6zM114.8 318.8l1.8 3h-3.6zM114.9 340.3l1.8 3h-3.6zM115.0 305.2l1.8 3h-3.6zM115.2 291.6l1.8 3h-3.6zM115.3 313.1l1.8 3h-3.6zM115.3 305.2l1.8 3h-3.6zM115.3 318.8l1.8 3h-3.6zM115.3 308.8l1.8 3h-3.6zM115.4 326.7l1.8 3h-3.6zM115.4 340.3l1.8 3h-3.6zM115.6 302.2l1.8 3h-3.6zM115.8 313.1l1.8 3h-3.6zM115.8 305.2l1.8 3h-3.6zM115.8 308.8l1.8 3h-3.6zM115.8 318.8l1.8 3h-3.6zM116.0 340.3l1.8 3h-3.6zM116.0 302.2l1.8 3h-3.6zM116.1 326.7l1.8 3h-3.6zM116.3 313.1l1.8 3h-3.6zM116.3 318.8l1.8 3h-3.6zM116.3 326.7l1.8 3h-3.6zM116.3 308.8l1.8 3h-3.6zM116.5 340.3l1.8 3h-3.6zM116.6 305.2l1.8 3h-3.6zM116.8 308.8l1.8 3h-3.6zM116.8 340.3l1.8 3h-3.6zM116.8 313.1l1.8 3h-3.6zM116.8 318.8l1.8 3h-3.6zM116.9 326.7l1.8 3h-3.6zM116.9 305.2l1.8 3h-3.6zM117.3 313.1l1.8 3h-3.6zM117.3 340.3l1.8 3h-3.6zM117.3 299.6l1.8 3h-3.6zM117.3 318.8l1.8 3h-3.6zM117.4 308.8l1.8 3h-3.6zM117.4 326.7l1.8 3h-3.6zM117.7 297.3l1.8 3h-3.6zM117.7 302.2l1.8 3h-3.6zM117.8 318.8l1.8 3h-3.6zM117.8 326.7l1.8 3h-3.6zM117.8 308.8l1.8 3h-3.6zM117.8 313.1l1.8 3h-3.6zM118.0 340.3l1.8 3h-3.6zM118.3 326.7l1.8 3h-3.6zM118.3 308.8l1.8 3h-3.6zM118.3 291.6l1.8 3h-3.6zM118.4 318.8l1.8 3h-3.6zM118.4 340.3l1.8 3h-3.6zM118.5 302.2l1.8 3h-3.6zM118.5 313.1l1.8 3h-3.6zM118.8 313.1l1.8 3h-3.6zM118.8 308.8l1.8 3h-3.6zM118.8 318.8l1.8 3h-3.6zM118.9 326.7l1.8 3h-3.6zM118.9 340.3l1.8 3h-3.6zM119.0 299.6l1.8 3h-3.6zM119.2 305.2l1.8 3h-3.6zM119.2 302.2l1.8 3h-3.6zM119.3 340.3l1.8 3h-3.6zM119.3 318.8l1.8 3h-3.6zM119.3 313.1l1.8 3h-3.6zM119.4 326.7l1.8 3h-3.6zM119.4 308.8l1.8 3h-3.6zM119.5 297.3l1.8 3h-3.6zM119.6 302.2l1.8 3h-3.6zM119.8 326.7l1.8 3h-3.6zM119.8 318.8l1.8 3h-3.6zM119.9 340.3l1.8 3h-3.6zM119.9 308.8l1.8 3h-3.6zM120.1 313.1l1.8 3h-3.6zM120.3 326.7l1.8 3h-3.6zM120.3 308.8l1.8 3h-3.6zM120.3 340.3l1.8 3h-3.6zM120.4 313.1l1.8 3h-3.6zM120.5 318.8l1.8 3h-3.6zM120.8 313.1l1.8 3h-3.6zM120.8 318.8l1.8 3h-3.6zM120.8 340.3l1.8 3h-3.6zM120.8 326.7l1.8 3h-3.6zM120.8 305.2l1.8 3h-3.6zM121.0 308.8l1.8 3h-3.6zM121.0 302.2l1.8 3h-3.6zM121.1 299.6l1.8 3h-3.6zM121.3 326.7l1.8 3h-3.6zM121.3 308.8l1.8 3h-3.6zM121.3 305.2l1.8 3h-3.6zM121.4 313.1l1.8 3h-3.6zM121.4 318.8l1.8 3h-3.6zM121.6 340.3l1.8 3h-3.6zM121.8 340.3l1.8 3h-3.6zM121.8 318.8l1.8 3h-3.6zM121.8 326.7l1.8 3h-3.6zM121.8 313.1l1.8 3h-3.6zM122.0 302.2l1.8 3h-3.6zM122.0 308.8l1.8 3h-3.6zM122.2 299.6l1.8 3h-3.6zM122.3 340.3l1.8 3h-3.6zM122.3 313.1l1.8 3h-3.6zM122.3 326.7l1.8 3h-3.6zM122.3 318.8l1.8 3h-3.6zM122.4 308.8l1.8 3h-3.6zM122.8 313.1l1.8 3h-3.6zM122.8 318.8l1.8 3h-3.6zM122.8 340.3l1.8 3h-3.6zM122.8 326.7l1.8 3h-3.6zM123.1 308.8l1.8 3h-3.6zM123.1 299.6l1.8 3h-3.6zM123.3 326.7l1.8 3h-3.6zM123.3 340.3l1.8 3h-3.6zM123.4 313.1l1.8 3h-3.6zM123.4 308.8l1.8 3h-3.6zM123.5 318.8l1.8 3h-3.6zM123.8 318.8l1.8 3h-3.6zM123.8 326.7l1.8 3h-3.6zM123.8 340.3l1.8 3h-3.6zM123.8 313.1l1.8 3h-3.6zM124.3 326.7l1.8 3h-3.6zM124.3 318.8l1.8 3h-3.6zM124.4 308.8l1.8 3h-3.6zM124.4 313.1l1.8 3h-3.6zM124.6 340.3l1.8 3h-3.6zM124.8 340.3l1.8 3h-3.6zM124.9 326.7l1.8 3h-3.6zM124.9 318.8l1.8 3h-3.6zM125.0 313.1l1.8 3h-3.6zM125.3 318.8l1.8 3h-3.6zM125.3 313.1l1.8 3h-3.6zM125.3 340.3l1.8 3h-3.6zM125.4 326.7l1.8 3h-3.6zM125.8 340.3l1.8 3h-3.6zM125.8 318.8l1.8 3h-3.6zM125.8 326.7l1.8 3h-3.6zM125.8 313.1l1.8 3h-3.6zM126.0 308.8l1.8 3h-3.6zM126.2 305.2l1.8 3h-3.6zM126.3 326.7l1.8 3h-3.6zM126.3 318.8l1.8 3h-3.6zM126.3 313.1l1.8 3h-3.6zM126.3 308.8l1.8 3h-3.6zM126.5 340.3l1.8 3h-3.6zM126.8 313.1l1.8 3h-3.6zM126.8 340.3l1.8 3h-3.6zM126.8 326.7l1.8 3h-3.6zM126.8 318.8l1.8 3h-3.6zM127.3 313.1l1.8 3h-3.6zM127.3 326.7l1.8 3h-3.6zM127.3 305.2l1.8 3h-3.6zM127.4 340.3l1.8 3h-3.6zM127.5 308.8l1.8 3h-3.6zM127.6 318.8l1.8 3h-3.6zM127.8 318.8l1.8 3h-3.6zM127.8 305.2l1.8 3h-3.6zM127.8 326.7l1.8 3h-3.6zM128.0 340.3l1.8 3h-3.6zM128.0 313.1l1.8 3h-3.6zM128.3 340.3l1.8 3h-3.6zM128.3 326.7l1.8 3h-3.6zM128.6 313.1l1.8 3h-3.6zM128.6 305.2l1.8 3h-3.6zM128.7 318.8l1.8 3h-3.6zM128.8 340.3l1.8 3h-3.6zM128.8 308.8l1.8 3h-3.6zM128.8 326.7l1.8 3h-3.6zM128.9 302.2l1.8 3h-3.6zM129.0 318.8l1.8 3h-3.6zM129.1 313.1l1.8 3h-3.6zM129.3 318.8l1.8 3h-3.6zM129.3 326.7l1.8 3h-3.6zM129.3 313.1l1.8 3h-3.6zM129.3 340.3l1.8 3h-3.6zM129.8 318.8l1.8 3h-3.6zM129.8 340.3l1.8 3h-3.6zM129.8 326.7l1.8 3h-3.6zM129.8 313.1l1.8 3h-3.6zM130.3 326.7l1.8 3h-3.6zM130.3 340.3l1.8 3h-3.6zM130.3 318.8l1.8 3h-3.6zM130.5 313.1l1.8 3h-3.6zM130.8 318.8l1.8 3h-3.6zM130.8 326.7l1.8 3h-3.6zM130.8 340.3l1.8 3h-3.6zM130.9 313.1l1.8 3h-3.6zM131.3 326.7l1.8 3h-3.6zM131.3 340.3l1.8 3h-3.6zM131.3 318.8l1.8 3h-3.6zM131.3 308.8l1.8 3h-3.6zM131.4 313.1l1.8 3h-3.6zM131.8 318.8l1.8 3h-3.6zM131.8 340.3l1.8 3h-3.6zM131.8 326.7l1.8 3h-3.6zM132.0 308.8l1.8 3h-3.6zM132.3 305.2l1.8 3h-3.6zM132.3 313.1l1.8 3h-3.6zM132.3 318.8l1.8 3h-3.6zM132.3 326.7l1.8 3h-3.6zM132.3 340.3l1.8 3h-3.6zM132.8 326.7l1.8 3h-3.6zM132.8 340.3l1.8 3h-3.6zM132.9 318.8l1.8 3h-3.6zM133.1 313.1l1.8 3h-3.6zM133.3 340.3l1.8 3h-3.6zM133.3 318.8l1.8 3h-3.6zM133.4 313.1l1.8 3h-3.6zM133.4 326.7l1.8 3h-3.6zM133.8 326.7l1.8 3h-3.6zM133.8 318.8l1.8 3h-3.6zM133.9 340.3l1.8 3h-3.6zM134.2 313.1l1.8 3h-3.6zM134.3 308.8l1.8 3h-3.6zM134.3 326.7l1.8 3h-3.6zM134.3 340.3l1.8 3h-3.6zM134.3 318.8l1.8 3h-3.6zM134.8 318.8l1.8 3h-3.6zM134.8 326.7l1.8 3h-3.6zM134.8 340.3l1.8 3h-3.6zM135.3 326.7l1.8 3h-3.6zM135.3 318.8l1.8 3h-3.6zM135.4 340.3l1.8 3h-3.6zM135.8 326.7l1.8 3h-3.6zM135.8 340.3l1.8 3h-3.6zM135.9 318.8l1.8 3h-3.6zM136.0 313.1l1.8 3h-3.6zM136.3 318.8l1.8 3h-3.6zM136.3 308.8l1.8 3h-3.6zM136.4 340.3l1.8 3h-3.6zM136.7 326.7l1.8 3h-3.6zM136.8 340.3l1.8 3h-3.6zM136.8 318.8l1.8 3h-3.6zM136.9 326.7l1.8 3h-3.6zM137.0 313.1l1.8 3h-3.6zM137.3 313.1l1.8 3h-3.6zM137.3 326.7l1.8 3h-3.6zM137.3 308.8l1.8 3h-3.6zM137.4 340.3l1.8 3h-3.6zM137.4 318.8l1.8 3h-3.6zM137.8 340.3l1.8 3h-3.6zM137.9 326.7l1.8 3h-3.6zM137.9 313.1l1.8 3h-3.6zM138.0 318.8l1.8 3h-3.6zM138.3 326.7l1.8 3h-3.6zM138.3 340.3l1.8 3h-3.6zM138.4 318.8l1.8 3h-3.6zM138.8 326.7l1.8 3h-3.6zM138.8 305.2l1.8 3h-3.6zM138.9 340.3l1.8 3h-3.6zM139.0 318.8l1.8 3h-3.6zM139.3 326.7l1.8 3h-3.6zM139.3 340.3l1.8 3h-3.6zM139.5 318.8l1.8 3h-3.6zM139.6 313.1l1.8 3h-3.6zM139.8 326.7l1.8 3h-3.6zM139.8 340.3l1.8 3h-3.6zM140.0 318.8l1.8 3h-3.6zM140.3 340.3l1.8 3h-3.6zM140.4 326.7l1.8 3h-3.6zM140.6 318.8l1.8 3h-3.6zM140.8 340.3l1.8 3h-3.6zM140.8 326.7l1.8 3h-3.6zM140.9 318.8l1.8 3h-3.6zM140.9 313.1l1.8 3h-3.6zM141.3 326.7l1.8 3h-3.6zM141.3 318.8l1.8 3h-3.6zM141.3 340.3l1.8 3h-3.6zM141.8 318.8l1.8 3h-3.6zM141.8 340.3l1.8 3h-3.6zM142.0 326.7l1.8 3h-3.6zM142.0 313.1l1.8 3h-3.6zM142.3 340.3l1.8 3h-3.6zM142.3 326.7l1.8 3h-3.6zM142.3 318.8l1.8 3h-3.6zM142.4 313.1l1.8 3h-3.6zM142.8 340.3l1.8 3h-3.6zM142.8 326.7l1.8 3h-3.6zM142.8 318.8l1.8 3h-3.6zM143.0 313.1l1.8 3h-3.6zM143.2 308.8l1.8 3h-3.6zM143.3 318.8l1.8 3h-3.6zM143.3 340.3l1.8 3h-3.6zM143.6 326.7l1.8 3h-3.6zM143.8 340.3l1.8 3h-3.6zM143.9 326.7l1.8 3h-3.6zM144.0 318.8l1.8 3h-3.6zM144.3 340.3l1.8 3h-3.6zM144.3 326.7l1.8 3h-3.6zM144.4 318.8l1.8 3h-3.6zM144.7 313.1l1.8 3h-3.6zM144.8 326.7l1.8 3h-3.6zM144.9 340.3l1.8 3h-3.6zM145.1 318.8l1.8 3h-3.6zM145.3 318.8l1.8 3h-3.6zM145.3 340.3l1.8 3h-3.6zM145.5 313.1l1.8 3h-3.6zM145.5 326.7l1.8 3h-3.6zM145.8 326.7l1.8 3h-3.6zM145.8 340.3l1.8 3h-3.6zM145.9 318.8l1.8 3h-3.6zM146.3 340.3l1.8 3h-3.6zM146.3 326.7l1.8 3h-3.6zM146.7 318.8l1.8 3h-3.6zM146.8 340.3l1.8 3h-3.6zM146.8 326.7l1.8 3h-3.6zM147.0 313.1l1.8 3h-3.6zM147.2 318.8l1.8 3h-3.6zM147.3 326.7l1.8 3h-3.6zM147.3 340.3l1.8 3h-3.6zM147.5 318.8l1.8 3h-3.6zM147.7 313.1l1.8 3h-3.6zM147.8 340.3l1.8 3h-3.6zM148.0 326.7l1.8 3h-3.6zM148.1 318.8l1.8 3h-3.6zM148.3 340.3l1.8 3h-3.6zM148.3 326.7l1.8 3h-3.6zM148.4 318.8l1.8 3h-3.6zM148.8 340.3l1.8 3h-3.6zM148.8 318.8l1.8 3h-3.6zM148.9 326.7l1.8 3h-3.6zM149.3 326.7l1.8 3h-3.6zM149.3 340.3l1.8 3h-3.6zM149.6 313.1l1.8 3h-3.6zM149.8 326.7l1.8 3h-3.6zM149.8 340.3l1.8 3h-3.6zM149.9 318.8l1.8 3h-3.6zM150.3 326.7l1.8 3h-3.6zM150.3 340.3l1.8 3h-3.6zM150.4 313.1l1.8 3h-3.6zM150.5 318.8l1.8 3h-3.6zM150.8 340.3l1.8 3h-3.6zM151.0 326.7l1.8 3h-3.6zM151.2 318.8l1.8 3h-3.6zM151.3 340.3l1.8 3h-3.6zM151.6 326.7l1.8 3h-3.6zM151.7 318.8l1.8 3h-3.6zM151.8 340.3l1.8 3h-3.6zM151.8 326.7l1.8 3h-3.6zM152.0 318.8l1.8 3h-3.6zM152.3 340.3l1.8 3h-3.6zM152.3 313.1l1.8 3h-3.6zM152.3 326.7l1.8 3h-3.6zM152.8 326.7l1.8 3h-3.6zM152.8 340.3l1.8 3h-3.6zM153.3 340.3l1.8 3h-3.6zM153.3 326.7l1.8 3h-3.6zM153.5 318.8l1.8 3h-3.6zM153.8 340.3l1.8 3h-3.6zM153.8 313.1l1.8 3h-3.6zM153.9 326.7l1.8 3h-3.6zM153.9 318.8l1.8 3h-3.6zM154.3 340.3l1.8 3h-3.6zM154.4 326.7l1.8 3h-3.6zM154.8 340.3l1.8 3h-3.6zM154.8 326.7l1.8 3h-3.6zM154.9 318.8l1.8 3h-3.6zM155.3 326.7l1.8 3h-3.6zM155.4 340.3l1.8 3h-3.6zM155.8 326.7l1.8 3h-3.6zM155.9 318.8l1.8 3h-3.6zM156.0 340.3l1.8 3h-3.6zM156.3 340.3l1.8 3h-3.6zM156.4 326.7l1.8 3h-3.6zM156.8 340.3l1.8 3h-3.6zM156.9 326.7l1.8 3h-3.6zM157.0 318.8l1.8 3h-3.6zM157.3 340.3l1.8 3h-3.6zM157.3 326.7l1.8 3h-3.6zM157.6 318.8l1.8 3h-3.6zM157.8 326.7l1.8 3h-3.6zM157.8 340.3l1.8 3h-3.6zM158.3 340.3l1.8 3h-3.6zM158.5 326.7l1.8 3h-3.6zM158.8 340.3l1.8 3h-3.6zM159.1 326.7l1.8 3h-3.6zM159.3 326.7l1.8 3h-3.6zM159.3 340.3l1.8 3h-3.6zM159.8 340.3l1.8 3h-3.6zM159.8 326.7l1.8 3h-3.6zM160.3 340.3l1.8 3h-3.6zM160.5 326.7l1.8 3h-3.6zM160.7 318.8l1.8 3h-3.6zM160.8 340.3l1.8 3h-3.6zM160.8 326.7l1.8 3h-3.6zM161.1 318.8l1.8 3h-3.6zM161.3 340.3l1.8 3h-3.6zM161.8 340.3l1.8 3h-3.6zM162.0 326.7l1.8 3h-3.6zM162.3 326.7l1.8 3h-3.6zM162.4 340.3l1.8 3h-3.6zM162.8 326.7l1.8 3h-3.6zM162.8 340.3l1.8 3h-3.6zM163.0 318.8l1.8 3h-3.6zM163.3 340.3l1.8 3h-3.6zM163.5 326.7l1.8 3h-3.6zM163.8 340.3l1.8 3h-3.6zM163.8 326.7l1.8 3h-3.6zM164.3 340.3l1.8 3h-3.6zM164.5 326.7l1.8 3h-3.6zM164.7 318.8l1.8 3h-3.6zM164.8 340.3l1.8 3h-3.6zM165.1 326.7l1.8 3h-3.6zM165.3 340.3l1.8 3h-3.6zM165.6 326.7l1.8 3h-3.6zM165.9 340.3l1.8 3h-3.6zM166.3 340.3l1.8 3h-3.6zM166.5 318.8l1.8 3h-3.6zM166.8 340.3l1.8 3h-3.6zM167.0 313.1l1.8 3h-3.6zM167.2 326.7l1.8 3h-3.6zM167.3 340.3l1.8 3h-3.6zM167.3 326.7l1.8 3h-3.6zM167.5 318.8l1.8 3h-3.6zM167.8 340.3l1.8 3h-3.6zM168.3 340.3l1.8 3h-3.6zM168.7 326.7l1.8 3h-3.6zM168.8 313.1l1.8 3h-3.6zM168.9 340.3l1.8 3h-3.6zM169.3 318.8l1.8 3h-3.6zM169.3 326.7l1.8 3h-3.6zM169.4 340.3l1.8 3h-3.6zM169.8 340.3l1.8 3h-3.6zM169.9 318.8l1.8 3h-3.6zM170.0 326.7l1.8 3h-3.6zM170.3 340.3l1.8 3h-3.6zM170.5 326.7l1.8 3h-3.6zM170.9 340.3l1.8 3h-3.6zM171.0 326.7l1.8 3h-3.6zM171.3 340.3l1.8 3h-3.6zM171.9 340.3l1.8 3h-3.6zM172.1 326.7l1.8 3h-3.6zM172.3 340.3l1.8 3h-3.6zM172.4 326.7l1.8 3h-3.6zM172.8 340.3l1.8 3h-3.6zM173.1 326.7l1.8 3h-3.6zM173.1 313.1l1.8 3h-3.6zM173.3 340.3l1.8 3h-3.6zM173.7 326.7l1.8 3h-3.6zM173.8 340.3l1.8 3h-3.6zM174.3 318.8l1.8 3h-3.6zM174.4 340.3l1.8 3h-3.6zM174.5 326.7l1.8 3h-3.6zM174.8 340.3l1.8 3h-3.6zM175.0 326.7l1.8 3h-3.6zM175.4 340.3l1.8 3h-3.6zM175.8 326.7l1.8 3h-3.6zM176.1 340.3l1.8 3h-3.6zM176.3 326.7l1.8 3h-3.6zM176.5 340.3l1.8 3h-3.6zM176.7 318.8l1.8 3h-3.6zM176.8 326.7l1.8 3h-3.6zM176.8 340.3l1.8 3h-3.6zM177.3 340.3l1.8 3h-3.6zM177.4 326.7l1.8 3h-3.6zM177.8 326.7l1.8 3h-3.6zM177.8 340.3l1.8 3h-3.6zM177.8 318.8l1.8 3h-3.6zM178.3 340.3l1.8 3h-3.6zM178.3 326.7l1.8 3h-3.6zM178.6 318.8l1.8 3h-3.6zM178.8 326.7l1.8 3h-3.6zM178.9 340.3l1.8 3h-3.6zM179.4 340.3l1.8 3h-3.6zM179.8 340.3l1.8 3h-3.6zM180.3 340.3l1.8 3h-3.6zM180.3 326.7l1.8 3h-3.6zM180.8 340.3l1.8 3h-3.6zM181.1 326.7l1.8 3h-3.6zM181.3 318.8l1.8 3h-3.6zM181.4 326.7l1.8 3h-3.6zM181.5 340.3l1.8 3h-3.6zM181.8 340.3l1.8 3h-3.6zM182.1 326.7l1.8 3h-3.6zM182.4 340.3l1.8 3h-3.6zM182.6 326.7l1.8 3h-3.6zM182.8 340.3l1.8 3h-3.6zM182.8 326.7l1.8 3h-3.6zM183.3 340.3l1.8 3h-3.6zM183.6 326.7l1.8 3h-3.6zM183.8 326.7l1.8 3h-3.6zM183.9 340.3l1.8 3h-3.6zM184.3 326.7l1.8 3h-3.6zM184.4 340.3l1.8 3h-3.6zM184.8 326.7l1.8 3h-3.6zM184.9 340.3l1.8 3h-3.6zM185.3 318.8l1.8 3h-3.6zM185.3 326.7l1.8 3h-3.6zM185.3 340.3l1.8 3h-3.6zM185.8 340.3l1.8 3h-3.6zM185.9 326.7l1.8 3h-3.6zM186.3 340.3l1.8 3h-3.6zM186.4 326.7l1.8 3h-3.6zM186.8 326.7l1.8 3h-3.6zM186.8 340.3l1.8 3h-3.6zM187.3 340.3l1.8 3h-3.6zM187.8 326.7l1.8 3h-3.6zM187.8 340.3l1.8 3h-3.6zM188.4 340.3l1.8 3h-3.6zM188.6 326.7l1.8 3h-3.6zM188.8 340.3l1.8 3h-3.6zM189.0 326.7l1.8 3h-3.6zM189.4 340.3l1.8 3h-3.6zM189.6 326.7l1.8 3h-3.6zM189.8 326.7l1.8 3h-3.6zM190.0 340.3l1.8 3h-3.6zM190.3 340.3l1.8 3h-3.6zM190.6 326.7l1.8 3h-3.6zM190.8 340.3l1.8 3h-3.6zM191.2 326.7l1.8 3h-3.6zM191.4 340.3l1.8 3h-3.6zM191.8 340.3l1.8 3h-3.6zM192.3 340.3l1.8 3h-3.6zM192.8 340.3l1.8 3h-3.6zM193.3 340.3l1.8 3h-3.6zM193.5 326.7l1.8 3h-3.6zM193.8 340.3l1.8 3h-3.6zM194.3 340.3l1.8 3h-3.6zM194.7 326.7l1.8 3h-3.6zM194.8 340.3l1.8 3h-3.6zM195.0 326.7l1.8 3h-3.6zM195.4 340.3l1.8 3h-3.6zM195.9 340.3l1.8 3h-3.6zM196.3 340.3l1.8 3h-3.6zM196.8 340.3l1.8 3h-3.6zM197.2 318.8l1.8 3h-3.6zM197.5 340.3l1.8 3h-3.6zM197.6 326.7l1.8 3h-3.6zM197.8 340.3l1.8 3h-3.6zM198.1 326.7l1.8 3h-3.6zM198.3 340.3l1.8 3h-3.6zM198.4 326.7l1.8 3h-3.6zM198.8 340.3l1.8 3h-3.6zM199.3 340.3l1.8 3h-3.6zM199.5 326.7l1.8 3h-3.6zM199.8 340.3l1.8 3h-3.6zM199.9 326.7l1.8 3h-3.6zM200.3 326.7l1.8 3h-3.6zM200.4 340.3l1.8 3h-3.6zM200.8 340.3l1.8 3h-3.6zM200.9 326.7l1.8 3h-3.6zM201.4 340.3l1.8 3h-3.6zM202.0 340.3l1.8 3h-3.6zM202.3 326.7l1.8 3h-3.6zM202.4 340.3l1.8 3h-3.6zM203.0 340.3l1.8 3h-3.6zM203.3 340.3l1.8 3h-3.6zM203.8 340.3l1.8 3h-3.6zM204.3 340.3l1.8 3h-3.6zM204.3 326.7l1.8 3h-3.6zM204.8 326.7l1.8 3h-3.6zM204.8 340.3l1.8 3h-3.6zM205.3 340.3l1.8 3h-3.6zM205.5 326.7l1.8 3h-3.6zM205.8 340.3l1.8 3h-3.6zM206.0 318.8l1.8 3h-3.6zM206.2 326.7l1.8 3h-3.6zM206.3 340.3l1.8 3h-3.6zM206.7 326.7l1.8 3h-3.6zM206.8 340.3l1.8 3h-3.6zM206.9 326.7l1.8 3h-3.6zM207.3 326.7l1.8 3h-3.6zM207.3 340.3l1.8 3h-3.6zM207.8 340.3l1.8 3h-3.6zM208.4 340.3l1.8 3h-3.6zM208.9 340.3l1.8 3h-3.6zM209.1 326.7l1.8 3h-3.6zM209.4 340.3l1.8 3h-3.6zM209.8 340.3l1.8 3h-3.6zM210.0 326.7l1.8 3h-3.6zM210.3 340.3l1.8 3h-3.6zM210.5 326.7l1.8 3h-3.6zM210.9 340.3l1.8 3h-3.6zM211.3 340.3l1.8 3h-3.6zM211.8 340.3l1.8 3h-3.6zM211.9 326.7l1.8 3h-3.6zM212.3 340.3l1.8 3h-3.6zM212.6 326.7l1.8 3h-3.6zM212.9 340.3l1.8 3h-3.6zM213.1 326.7l1.8 3h-3.6zM213.3 326.7l1.8 3h-3.6zM213.4 340.3l1.8 3h-3.6zM213.8 340.3l1.8 3h-3.6zM214.4 340.3l1.8 3h-3.6zM214.5 326.7l1.8 3h-3.6zM214.8 340.3l1.8 3h-3.6zM215.3 340.3l1.8 3h-3.6zM215.8 340.3l1.8 3h-3.6zM216.0 326.7l1.8 3h-3.6zM216.3 340.3l1.8 3h-3.6zM216.8 340.3l1.8 3h-3.6zM217.2 326.7l1.8 3h-3.6zM217.3 340.3l1.8 3h-3.6zM217.7 326.7l1.8 3h-3.6zM217.8 340.3l1.8 3h-3.6zM218.3 340.3l1.8 3h-3.6zM218.8 340.3l1.8 3h-3.6zM219.3 340.3l1.8 3h-3.6zM219.8 340.3l1.8 3h-3.6zM220.3 340.3l1.8 3h-3.6zM220.8 340.3l1.8 3h-3.6z" fill="#f41c1c"/>
<path d="M34.0 217.3a1.35 1.35 0 1 0 2.7 0a1.35 1.35 0 1 0-2.7 0M34.1 216.4a1.35 1.35 0 1 0 2.7 0a1.35 1.35 0 1 0-2.7 0M34.1 218.8a1.35 1.35 0 1 0 2.7 0a1.35 1.35 0 1 0-2.7 0M34.2 217.6a1.35 1.35 0 1 0 2.7 0a1.35 1.35 0 1 0-2.7 0M34.2 217.5a1.35 1.35 0 1 0 2.7 0a1.35 1.35 0 1 0-2.7 0M34.2 218.7a1.35 1.35 0 1 0 2.7 0a1.35 1.35 0 1 0-2.7 0M34.3 217.2a1.35 1.35 0 1 0 2.7 0a1.35 1.35 0 1 0-2.7 0M34.3 216.4a1.35 1.35 0 1 0 2.7 0a1.35 1.35 0 1 0-2.7 0M34.4 219.3a1.35 1.35 0 1 0 2.7 0a1.35 1.35 0 1 0-2.7 0M34.5 220.1a1.35 1.35 0 1 0 2.7 0a1.35 1.35 0 1 0-2.7 0M34.8 221.6a1.35 1.35 0 1 0 2.7 0a1.35 1.35 0 1 0-2.7 0M35.1 220.5a1.35 1.35 0 1 0 2.7 0a1.35 1.35 0 1 0-2.7 0M35.2 222.1a1.35 1.35 0 1 0 2.7 0a1.35 1.35 0 1 0-2.7 0M35.2 221.4a1.35 1.35 0 1 0 2.7 0a1.35 1.35 0 1 0-2.7 0M35.3 219.5a1.35 1.35 0 1 0 2.7 0a1.35 1.35 0 1 0-2.7 0M35.4 223.1a1.35 1.35 0 1 0 2.7 0a1.35 1.35 0 1 0-2.7 0M35.5 223.7a1.35 1.35 0 1 0 2.7 0a1.35 1.35 0 1 0-2.7 0M35.6 225.3a1.35 1.35 0 1 0 2.7 0a1.35 1.35 0 1 0-2.7 0M36.0 222.4a1.35 1.35 0 1 0 2.7 0a1.35 1.35 0 1 0-2.7 0M36.0 224.5a1.35 1.35 0 1 0 2.7 0a1.35 1.35 0 1 0-2.7 0M36.1 223.1a1.35 1.35 0 1 0 2.7 0a1.35 1.35 0 1 0-2.7 0M36.1 224.7a1.35 1.35 0 1 0 2.7 0a1.35 1.35 0 1 0-2.7 0M36.1 226.2a1.35 1.35 0 1 0 2.7 0a1.35 1.35 0 1 0-2.7 0M36.1 227.0a1.35 1.35 0 1 0 2.7 0a1.35 1.35 0 1 0-2.7 0M36.2 227.6a1.35 1.35 0 1 0 2.7 0a1.35 1.35 0 1 0-2.7 0M36.8 229.5a1.35 1.35 0 1 0 2.7 0a1.35 1.35 0 1 0-2.7 0M36.9 226.5a1.35 1.35 0 1 0 2.7 0a1.35 1.35 0 1 0-2.7 0M37.0 227.5a1.35 1.35 0 1 0 2.7 0a1.35 1.35 0 1 0-2.7 0M37.1 228.7a1.35 1.35 0 1 0 2.7 0a1.35 1.35 0 1 0-2.7 0M37.1 226.2a1.35 1.35 0 1 0 2.7 0a1.35 1.35 0 1 0-2.7 0M37.2 229.6a1.35 1.35 0 1 0 2.7 0a1.35 1.35 0 1 0-2.7 0M37.5 230.6a1.35 1.35 0 1 0 2.7 0a1.35 1.35 0 1 0-2.7 0M37.6 231.1a1.35 1.35 0 1 0 2.7 0a1.35 1.35 0 1 0-2.7 0M37.8 231.8a1.35 1.35 0 1 0 2.7 0a1.35 1.35 0 1 0-2.7 0M37.8 229.5a1.35 1.35 0 1 0 2.7 0a1.35 1.35 0 1 0-2.7 0M37.9 230.8a1.35 1.35 0 1 0 2.7 0a1.35 1.35 0 1 0-2.7 0M37.9 231.5a1.35 1.35 0 1 0 2.7 0a1.35 1.35 0 1 0-2.7 0M38.0 231.8a1.35 1.35 0 1 0 2.7 0a1.35 1.35 0 1 0-2.7 0M38.2 233.4a1.35 1.35 0 1 0 2.7 0a1.35 1.35 0 1 0-2.7 0M38.5 234.5a1.35 1.35 0 1 0 2.7 0a1.35 1.35 0 1 0-2.7 0M38.6 233.7a1.35 1.35 0 1 0 2.7 0a1.35 1.35 0 1 0-2.7 0M38.7 233.5a1.35 1.35 0 1 0 2.7 0a1.35 1.35 0 1 0-2.7 0M38.7 231.6a1.35 1.35 0 1 0 2.7 0a1.35 1.35 0 1 0-2.7 0M38.8 236.0a1.35 1.35 0 1 0 2.7 0a1.35 1.35 0 1 0-2.7 0M38.8 236.7a1.35 1.35 0 1 0 2.7 0a1.35 1.35 0 1 0-2.7 0M38.9 232.5a1.35 1.35 0 1 0 2.7 0a1.35 1.35 0 1 0-2.7 0M38.9 235.1a1.35 1.35 0 1 0 2.7 0a1.35 1.35 0 1 0-2.7 0M39.0 234.4a1.35 1.35 0 1 0 2.7 0a1.35 1.35 0 1 0-2.7 0M39.2 237.5a1.35 1.35 0 1 0 2.7 0a1.35 1.35 0 1 0-2.7 0M39.6 238.1a1.35 1.35 0 1 0 2.7 0a1.35 1.35 0 1 0-2.7 0M39.6 235.2a1.35 1.35 0 1 0 2.7 0a1.35 1.35 0 1 0-2.7 0M39.6 236.5a1.35 1.35 0 1 0 2.7 0a1.35 1.35 0 1 0-2.7 0M39.7 237.7a1.35 1.35 0 1 0 2.7 0a1.35 1.35 0 1 0-2.7 0M39.7 236.2a1.35 1.35 0 1 0 2.7 0a1.35 1.35 0 1 0-2.7 0M39.7 234.0a1.35 1.35 0 1 0 2.7 0a1.35 1.35 0 1 0-2.7 0M40.0 239.8a1.35 1.35 0 1 0 2.7 0a1.35 1.35 0 1 0-2.7 0M40.1 238.1a1.35 1.35 0 1 0 2.7 0a1.35 1.35 0 1 0-2.7 0M40.3 240.5a1.35 1.35 0 1 0 2.7 0a1.35 1.35 0 1 0-2.7 0M40.3 242.3a1.35 1.35 0 1 0 2.7 0a1.35 1.35 0 1 0-2.7 0M40.4 241.1a1.35 1.35 0 1 0 2.7 0a1.35 1.35 0 1 0-2.7 0M40.5 242.1a1.35 1.35 0 1 0 2.7 0a1.35 1.35 0 1 0-2.7 0M40.5 238.2a1.35 1.35 0 1 0 2.7 0a1.35 1.35 0 1 0-2.7 0M40.5 239.8a1.35 1.35 0 1 0 2.7 0a1.35 1.35 0 1 0-2.7 0M40.6 234.4a1.35 1.35 0 1 0 2.7 0a1.35 1.35 0 1 0-2.7 0M40.6 239.9a1.35 1.35 0 1 0 2.7 0a1.35 1.35 0 1 0-2.7 0M40.7 237.0a1.35 1.35 0 1 0 2.7 0a1.35 1.35 0 1 0-2.7 0M40.7 241.4a1.35 1.35 0 1 0 2.7 0a1.35 1.35 0 1 0-2.7 0M40.9 238.0a1.35 1.35 0 1 0 2.7 0a1.35 1.35 0 1 0-2.7 0M41.0 243.8a1.35 1.35 0 1 0 2.7 0a1.35 1.35 0 1 0-2.7 0M41.2 245.4a1.35 1.35 0 1 0 2.7 0a1.35 1.35 0 1 0-2.7 0M41.4 245.1a1.35 1.35 0 1 0 2.7 0a1.35 1.35 0 1 0-2.7 0M41.4 239.7a1.35 1.35 0 1 0 2.7 0a1.35 1.35 0 1 0-2.7 0M41.4 241.8a1.35 1.35 0 1 0 2.7 0a1.35 1.35 0 1 0-2.7 0M41.5 240.7a1.35 1.35 0 1 0 2.7 0a1.35 1.35 0 1 0-2.7 0M41.5 241.3a1.35 1.35 0 1 0 2.7 0a1.35 1.35 0 1 0-2.7 0M41.5 243.2a1.35 1.35 0 1 0 2.7 0a1.35 1.35 0 1 0-2.7 0M41.6 243.8a1.35 1.35 0 1 0 2.7 0a1.35 1.35 0 1 0-2.7 0M41.9 245.3a1.35 1.35 0 1 0 2.7 0a1.35 1.35 0 1 0-2.7 0M42.1 246.3a1.35 1.35 0 1 0 2.7 0a1.35 1.35 0 1 0-2.7 0M42.2 247.6a1.35 1.35 0 1 0 2.7 0a1.35 1.35 0 1 0-2.7 0M42.3 247.2a1.35 1.35 0 1 0 2.7 0a1.35 1.35 0 1 0-2.7 0M42.3 240.5a1.35 1.35 0 1 0 2.7 0a1.35 1.35 0 1 0-2.7 0M42.3 244.3a1.35 1.35 0 1 0 2.7 0a1.35 1.35 0 1 0-2.7 0M42.4 242.8a1.35 1.35 0 1 0 2.7 0a1.35 1.35 0 1 0-2.7 0M42.4 245.0a1.35 1.35 0 1 0 2.7 0a1.35 1.35 0 1 0-2.7 0M42.4 248.3a1.35 1.35 0 1 0 2.7 0a1.35 1.35 0 1 0-2.7 0M42.5 245.7a1.35 1.35 0 1 0 2.7 0a1.35 1.35 0 1 0-2.7 0M42.5 241.7a1.35 1.35 0 1 0 2.7 0a1.35 1.35 0 1 0-2.7 0M42.6 247.0a1.35 1.35 0 1 0 2.7 0a1.35 1.35 0 1 0-2.7 0M43.1 252.8a1.35 1.35 0 1 0 2.7 0a1.35 1.35 0 1 0-2.7 0M43.2 245.5a1.35 1.35 0 1 0 2.7 0a1.35 1.35 0 1 0-2.7 0M43.2 249.1a1.35 1.35 0 1 0 2.7 0a1.35 1.35 0 1 0-2.7 0M43.3 244.7a1.35 1.35 0 1 0 2.7 0a1.35 1.35 0 1 0-2.7 0M43.3 254.5a1.35 1.35 0 1 0 2.7 0a1.35 1.35 0 1 0-2.7 0M43.3 250.7a1.35 1.35 0 1 0 2.7 0a1.35 1.35 0 1 0-2.7 0M43.4 248.4a1.35 1.35 0 1 0 2.7 0a1.35 1.35 0 1 0-2.7 0M43.4 250.3a1.35 1.35 0 1 0 2.7 0a1.35 1.35 0 1 0-2.7 0M43.5 246.4a1.35 1.35 0 1 0 2.7 0a1.35 1.35 0 1 0-2.7 0M43.6 252.0a1.35 1.35 0 1 0 2.7 0a1.35 1.35 0 1 0-2.7 0M43.7 252.6a1.35 1.35 0 1 0 2.7 0a1.35 1.35 0 1 0-2.7 0M43.7 247.3a1.35 1.35 0 1 0 2.7 0a1.35 1.35 0 1 0-2.7 0M43.9 243.9a1.35 1.35 0 1 0 2.7 0a1.35 1.35 0 1 0-2.7 0M44.1 248.9a1.35 1.35 0 1 0 2.7 0a1.35 1.35 0 1 0-2.7 0M44.2 248.1a1.35 1.35 0 1 0 2.7 0a1.35 1.35 0 1 0-2.7 0M44.2 247.3a1.35 1.35 0 1 0 2.7 0a1.35 1.35 0 1 0-2.7 0M44.2 252.4a1.35 1.35 0 1 0 2.7 0a1.35 1.35 0 1 0-2.7 0M44.2 245.3a1.35 1.35 0 1 0 2.7 0a1.35 1.35 0 1 0-2.7 0M44.3 251.4a1.35 1.35 0 1 0 2.7 0a1.35 1.35 0 1 0-2.7 0M44.3 250.1a1.35 1.35 0 1 0 2.7 0a1.35 1.35 0 1 0-2.7 0M44.4 254.3a1.35 1.35 0 1 0 2.7 0a1.35 1.35 0 1 0-2.7 0M44.5 253.8a1.35 1.35 0 1 0 2.7 0a1.35 1.35 0 1 0-2.7 0M44.7 255.4a1.35 1.35 0 1 0 2.7 0a1.35 1.35 0 1 0-2.7 0M44.8 253.2a1.35 1.35 0 1 0 2.7 0a1.35 1.35 0 1 0-2.7 0M44.8 256.4a1.35 1.35 0 1 0 2.7 0a1.35 1.35 0 1 0-2.7 0M45.0 255.6a1.35 1.35 0 1 0 2.7 0a1.35 1.35 0 1 0-2.7 0M45.0 252.2a1.35 1.35 0 1 0 2.7 0a1.35 1.35 0 1 0-2.7 0M45.1 256.4a1.35 1.35 0 1 0 2.7 0a1.35 1.35 0 1 0-2.7 0M45.1 249.8a1.35 1.35 0 1 0 2.7 0a1.35 1.35 0 1 0-2.7 0M45.1 257.6a1.35 1.35 0 1 0 2.7 0a1.35 1.35 0 1 0-2.7 0M45.1 254.9a1.35 1.35 0 1 0 2.7 0a1.35 1.35 0 1 0-2.7 0M45.2 248.4a1.35 1.35 0 1 0 2.7 0a1.35 1.35 0 1 0-2.7 0M45.2 252.6a1.35 1.35 0 1 0 2.7 0a1.35 1.35 0 1 0-2.7 0M45.2 253.8a1.35 1.35 0 1 0 2.7 0a1.35 1.35 0 1 0-2.7 0M45.2 250.7a1.35 1.35 0 1 0 2.7 0a1.35 1.35 0 1 0-2.7 0M45.6 257.9a1.35 1.35 0 1 0 2.7 0a1.35 1.35 0 1 0-2.7 0M45.7 247.9a1.35 1.35 0 1 0 2.7 0a1.35 1.35 0 1 0-2.7 0M45.7 249.1a1.35 1.35 0 1 0 2.7 0a1.35 1.35 0 1 0-2.7 0M45.9 251.0a1.35 1.35 0 1 0 2.7 0a1.35 1.35 0 1 0-2.7 0M45.9 254.9a1.35 1.35 0 1 0 2.7 0a1.35 1.35 0 1 0-2.7 0M46.0 255.6a1.35 1.35 0 1 0 2.7 0a1.35 1.35 0 1 0-2.7 0M46.0 250.1a1.35 1.35 0 1 0 2.7 0a1.35 1.35 0 1 0-2.7 0M46.0 257.9a1.35 1.35 0 1 0 2.7 0a1.35 1.35 0 1 0-2.7 0M46.0 253.8a1.35 1.35 0 1 0 2.7 0a1.35 1.35 0 1 0-2.7 0M46.1 253.2a1.35 1.35 0 1 0 2.7 0a1.35 1.35 0 1 0-2.7 0M46.1 256.6a1.35 1.35 0 1 0 2.7 0a1.35 1.35 0 1 0-2.7 0M46.1 248.8a1.35 1.35 0 1 0 2.7 0a1.35 1.35 0 1 0-2.7 0M46.2 251.8a1.35 1.35 0 1 0 2.7 0a1.35 1.35 0 1 0-2.7 0M46.4 257.6a1.35 1.35 0 1 0 2.7 0a1.35 1.35 0 1 0-2.7 0M46.6 260.7a1.35 1.35 0 1 0 2.7 0a1.35 1.35 0 1 0-2.7 0M46.6 249.4a1.35 1.35 0 1 0 2.7 0a1.35 1.35 0 1 0-2.7 0M46.8 257.4a1.35 1.35 0 1 0 2.7 0a1.35 1.35 0 1 0-2.7 0M46.8 254.1a1.35 1.35 0 1 0 2.7 0a1.35 1.35 0 1 0-2.7 0M46.9 255.2a1.35 1.35 0 1 0 2.7 0a1.35 1.35 0 1 0-2.7 0M46.9 254.5a1.35 1.35 0 1 0 2.7 0a1.35 1.35 0 1 0-2.7 0M46.9 252.4a1.35 1.35 0 1 0 2.7 0a1.35 1.35 0 1 0-2.7 0M47.0 248.6a1.35 1.35 0 1 0 2.7 0a1.35 1.35 0 1 0-2.7 0M47.0 262.3a1.35 1.35 0 1 0 2.7 0a1.35 1.35 0 1 0-2.7 0M47.1 258.7a1.35 1.35 0 1 0 2.7 0a1.35 1.35 0 1 0-2.7 0M47.2 256.1a1.35 1.35 0 1 0 2.7 0a1.35 1.35 0 1 0-2.7 0M47.2 251.2a1.35 1.35 0 1 0 2.7 0a1.35 1.35 0 1 0-2.7 0M47.3 263.3a1.35 1.35 0 1 0 2.7 0a1.35 1.35 0 1 0-2.7 0M47.3 253.2a1.35 1.35 0 1 0 2.7 0a1.35 1.35 0 1 0-2.7 0M47.4 259.3a1.35 1.35 0 1 0 2.7 0a1.35 1.35 0 1 0-2.7 0M47.6 264.4a1.35 1.35 0 1 0 2.7 0a1.35 1.35 0 1 0-2.7 0M47.6 260.1a1.35 1.35 0 1 0 2.7 0a1.35 1.35 0 1 0-2.7 0M47.7 259.3a1.35 1.35 0 1 0 2.7 0a1.35 1.35 0 1 0-2.7 0M47.7 254.9a1.35 1.35 0 1 0 2.7 0a1.35 1.35 0 1 0-2.7 0M47.8 257.6a1.35 1.35 0 1 0 2.7 0a1.35 1.35 0 1 0-2.7 0M47.8 260.1a1.35 1.35 0 1 0 2.7 0a1.35 1.35 0 1 0-2.7 0M47.8 256.4a1.35 1.35 0 1 0 2.7 0a1.35 1.35 0 1 0-2.7 0M47.8 255.4a1.35 1.35 0 1 0 2.7 0a1.35 1.35 0 1 0-2.7 0M47.9 258.7a1.35 1.35 0 1 0 2.7 0a1.35 1.35 0 1 0-2.7 0M47.9 262.7a1.35 1.35 0 1 0 2.7 0a1.35 1.35 0 1 0-2.7 0M47.9 265.6a1.35 1.35 0 1 0 2.7 0a1.35 1.35 0 1 0-2.7 0M47.9 261.4a1.35 1.35 0 1 0 2.7 0a1.35 1.35 0 1 0-2.7 0M48.4 253.8a1.35 1.35 0 1 0 2.7 0a1.35 1.35 0 1 0-2.7 0M48.6 256.4a1.35 1.35 0 1 0 2.7 0a1.35 1.35 0 1 0-2.7 0M48.6 263.0a1.35 1.35 0 1 0 2.7 0a1.35 1.35 0 1 0-2.7 0M48.6 261.7a1.35 1.35 0 1 0 2.7 0a1.35 1.35 0 1 0-2.7 0M48.7 259.8a1.35 1.35 0 1 0 2.7 0a1.35 1.35 0 1 0-2.7 0M48.7 260.7a1.35 1.35 0 1 0 2.7 0a1.35 1.35 0 1 0-2.7 0M48.8 259.0a1.35 1.35 0 1 0 2.7 0a1.35 1.35 0 1 0-2.7 0M48.8 263.7a1.35 1.35 0 1 0 2.7 0a1.35 1.35 0 1 0-2.7 0M48.8 255.6a1.35 1.35 0 1 0 2.7 0a1.35 1.35 0 1 0-2.7 0M48.9 257.1a1.35 1.35 0 1 0 2.7 0a1.35 1.35 0 1 0-2.7 0M48.9 258.7a1.35 1.35 0 1 0 2.7 0a1.35 1.35 0 1 0-2.7 0M49.1 252.6a1.35 1.35 0 1 0 2.7 0a1.35 1.35 0 1 0-2.7 0M49.2 268.1a1.35 1.35 0 1 0 2.7 0a1.35 1.35 0 1 0-2.7 0M49.4 264.8a1.35 1.35 0 1 0 2.7 0a1.35 1.35 0 1 0-2.7 0M49.5 265.2a1.35 1.35 0 1 0 2.7 0a1.35 1.35 0 1 0-2.7 0M49.5 264.4a1.35 1.35 0 1 0 2.7 0a1.35 1.35 0 1 0-2.7 0M49.5 262.7a1.35 1.35 0 1 0 2.7 0a1.35 1.35 0 1 0-2.7 0M49.6 266.4a1.35 1.35 0 1 0 2.7 0a1.35 1.35 0 1 0-2.7 0M49.7 260.4a1.35 1.35 0 1 0 2.7 0a1.35 1.35 0 1 0-2.7 0M49.7 257.9a1.35 1.35 0 1 0 2.7 0a1.35 1.35 0 1 0-2.7 0M49.7 256.9a1.35 1.35 0 1 0 2.7 0a1.35 1.35 0 1 0-2.7 0M49.8 269.5a1.35 1.35 0 1 0 2.7 0a1.35 1.35 0 1 0-2.7 0M49.8 261.7a1.35 1.35 0 1 0 2.7 0a1.35 1.35 0 1 0-2.7 0M49.8 261.4a1.35 1.35 0 1 0 2.7 0a1.35 1.35 0 1 0-2.7 0M49.8 264.1a1.35 1.35 0 1 0 2.7 0a1.35 1.35 0 1 0-2.7 0M49.9 259.5a1.35 1.35 0 1 0 2.7 0a1.35 1.35 0 1 0-2.7 0M50.1 257.4a1.35 1.35 0 1 0 2.7 0a1.35 1.35 0 1 0-2.7 0M50.2 270.9a1.35 1.35 0 1 0 2.7 0a1.35 1.35 0 1 0-2.7 0M50.2 268.5a1.35 1.35 0 1 0 2.7 0a1.35 1.35 0 1 0-2.7 0M50.4 272.0a1.35 1.35 0 1 0 2.7 0a1.35 1.35 0 1 0-2.7 0M50.4 270.4a1.35 1.35 0 1 0 2.7 0a1.35 1.35 0 1 0-2.7 0M50.4 264.8a1.35 1.35 0 1 0 2.7 0a1.35 1.35 0 1 0-2.7 0M50.4 262.0a1.35 1.35 0 1 0 2.7 0a1.35 1.35 0 1 0-2.7 0M50.4 265.2a1.35 1.35 0 1 0 2.7 0a1.35 1.35 0 1 0-2.7 0M50.5 263.3a1.35 1.35 0 1 0 2.7 0a1.35 1.35 0 1 0-2.7 0M50.5 260.7a1.35 1.35 0 1 0 2.7 0a1.35 1.35 0 1 0-2.7 0M50.5 260.1a1.35 1.35 0 1 0 2.7 0a1.35 1.35 0 1 0-2.7 0M50.5 270.4a1.35 1.35 0 1 0 2.7 0a1.35 1.35 0 1 0-2.7 0M50.6 267.6a1.35 1.35 0 1 0 2.7 0a1.35 1.35 0 1 0-2.7 0M50.6 269.5a1.35 1.35 0 1 0 2.7 0a1.35 1.35 0 1 0-2.7 0M50.7 268.1a1.35 1.35 0 1 0 2.7 0a1.35 1.35 0 1 0-2.7 0M50.7 258.7a1.35 1.35 0 1 0 2.7 0a1.35 1.35 0 1 0-2.7 0M50.8 270.9a1.35 1.35 0 1 0 2.7 0a1.35 1.35 0 1 0-2.7 0M50.8 266.4a1.35 1.35 0 1 0 2.7 0a1.35 1.35 0 1 0-2.7 0M50.9 262.7a1.35 1.35 0 1 0 2.7 0a1.35 1.35 0 1 0-2.7 0M51.1 272.0a1.35 1.35 0 1 0 2.7 0a1.35 1.35 0 1 0-2.7 0M51.3 265.2a1.35 1.35 0 1 0 2.7 0a1.35 1.35 0 1 0-2.7 0M51.3 266.8a1.35 1.35 0 1 0 2.7 0a1.35 1.35 0 1 0-2.7 0M51.4 268.1a1.35 1.35 0 1 0 2.7 0a1.35 1.35 0 1 0-2.7 0M51.4 269.9a1.35 1.35 0 1 0 2.7 0a1.35 1.35 0 1 0-2.7 0M51.4 267.2a1.35 1.35 0 1 0 2.7 0a1.35 1.35 0 1 0-2.7 0M51.5 263.7a1.35 1.35 0 1 0 2.7 0a1.35 1.35 0 1 0-2.7 0M51.5 261.7a1.35 1.35 0 1 0 2.7 0a1.35 1.35 0 1 0-2.7 0M51.5 269.0a1.35 1.35 0 1 0 2.7 0a1.35 1.35 0 1 0-2.7 0M51.6 264.8a1.35 1.35 0 1 0 2.7 0a1.35 1.35 0 1 0-2.7 0M51.6 262.7a1.35 1.35 0 1 0 2.7 0a1.35 1.35 0 1 0-2.7 0M51.7 271.5a1.35 1.35 0 1 0 2.7 0a1.35 1.35 0 1 0-2.7 0M51.7 259.8a1.35 1.35 0 1 0 2.7 0a1.35 1.35 0 1 0-2.7 0M51.8 261.4a1.35 1.35 0 1 0 2.7 0a1.35 1.35 0 1 0-2.7 0M51.9 275.6a1.35 1.35 0 1 0 2.7 0a1.35 1.35 0 1 0-2.7 0M51.9 270.9a1.35 1.35 0 1 0 2.7 0a1.35 1.35 0 1 0-2.7 0M52.1 274.3a1.35 1.35 0 1 0 2.7 0a1.35 1.35 0 1 0-2.7 0M52.2 269.5a1.35 1.35 0 1 0 2.7 0a1.35 1.35 0 1 0-2.7 0M52.2 270.9a1.35 1.35 0 1 0 2.7 0a1.35 1.35 0 1 0-2.7 0M52.3 273.7a1.35 1.35 0 1 0 2.7 0a1.35 1.35 0 1 0-2.7 0M52.3 270.4a1.35 1.35 0 1 0 2.7 0a1.35 1.35 0 1 0-2.7 0M52.3 264.8a1.35 1.35 0 1 0 2.7 0a1.35 1.35 0 1 0-2.7 0M52.3 266.4a1.35 1.35 0 1 0 2.7 0a1.35 1.35 0 1 0-2.7 0M52.4 272.6a1.35 1.35 0 1 0 2.7 0a1.35 1.35 0 1 0-2.7 0M52.5 263.0a1.35 1.35 0 1 0 2.7 0a1.35 1.35 0 1 0-2.7 0M52.5 261.7a1.35 1.35 0 1 0 2.7 0a1.35 1.35 0 1 0-2.7 0M52.5 272.0a1.35 1.35 0 1 0 2.7 0a1.35 1.35 0 1 0-2.7 0M52.6 267.6a1.35 1.35 0 1 0 2.7 0a1.35 1.35 0 1 0-2.7 0M52.6 263.7a1.35 1.35 0 1 0 2.7 0a1.35 1.35 0 1 0-2.7 0M52.8 268.5a1.35 1.35 0 1 0 2.7 0a1.35 1.35 0 1 0-2.7 0M52.9 274.9a1.35 1.35 0 1 0 2.7 0a1.35 1.35 0 1 0-2.7 0M53.1 266.8a1.35 1.35 0 1 0 2.7 0a1.35 1.35 0 1 0-2.7 0M53.1 272.0a1.35 1.35 0 1 0 2.7 0a1.35 1.35 0 1 0-2.7 0M53.2 269.0a1.35 1.35 0 1 0 2.7 0a1.35 1.35 0 1 0-2.7 0M53.2 274.9a1.35 1.35 0 1 0 2.7 0a1.35 1.35 0 1 0-2.7 0M53.2 275.6a1.35 1.35 0 1 0 2.7 0a1.35 1.35 0 1 0-2.7 0M53.3 273.1a1.35 1.35 0 1 0 2.7 0a1.35 1.35 0 1 0-2.7 0M53.4 268.1a1.35 1.35 0 1 0 2.7 0a1.35 1.35 0 1 0-2.7 0M53.4 279.1a1.35 1.35 0 1 0 2.7 0a1.35 1.35 0 1 0-2.7 0M53.5 270.9a1.35 1.35 0 1 0 2.7 0a1.35 1.35 0 1 0-2.7 0M53.5 276.9a1.35 1.35 0 1 0 2.7 0a1.35 1.35 0 1 0-2.7 0M53.6 273.7a1.35 1.35 0 1 0 2.7 0a1.35 1.35 0 1 0-2.7 0M53.6 269.9a1.35 1.35 0 1 0 2.7 0a1.35 1.35 0 1 0-2.7 0M53.7 264.4a1.35 1.35 0 1 0 2.7 0a1.35 1.35 0 1 0-2.7 0M54.0 269.9a1.35 1.35 0 1 0 2.7 0a1.35 1.35 0 1 0-2.7 0M54.0 273.1a1.35 1.35 0 1 0 2.7 0a1.35 1.35 0 1 0-2.7 0M54.1 267.6a1.35 1.35 0 1 0 2.7 0a1.35 1.35 0 1 0-2.7 0M54.1 270.9a1.35 1.35 0 1 0 2.7 0a1.35 1.35 0 1 0-2.7 0M54.1 269.5a1.35 1.35 0 1 0 2.7 0a1.35 1.35 0 1 0-2.7 0M54.1 276.2a1.35 1.35 0 1 0 2.7 0a1.35 1.35 0 1 0-2.7 0M54.2 276.9a1.35 1.35 0 1 0 2.7 0a1.35 1.35 0 1 0-2.7 0M54.2 266.8a1.35 1.35 0 1 0 2.7 0a1.35 1.35 0 1 0-2.7 0M54.2 274.3a1.35 1.35 0 1 0 2.7 0a1.35 1.35 0 1 0-2.7 0M54.2 268.1a1.35 1.35 0 1 0 2.7 0a1.35 1.35 0 1 0-2.7 0M54.3 271.5a1.35 1.35 0 1 0 2.7 0a1.35 1.35 0 1 0-2.7 0M54.4 273.7a1.35 1.35 0 1 0 2.7 0a1.35 1.35 0 1 0-2.7 0M54.5 281.6a1.35 1.35 0 1 0 2.7 0a1.35 1.35 0 1 0-2.7 0M54.6 275.6a1.35 1.35 0 1 0 2.7 0a1.35 1.35 0 1 0-2.7 0M54.6 279.9a1.35 1.35 0 1 0 2.7 0a1.35 1.35 0 1 0-2.7 0M54.8 278.4a1.35 1.35 0 1 0 2.7 0a1.35 1.35 0 1 0-2.7 0M54.9 279.1a1.35 1.35 0 1 0 2.7 0a1.35 1.35 0 1 0-2.7 0M54.9 272.0a1.35 1.35 0 1 0 2.7 0a1.35 1.35 0 1 0-2.7 0M55.0 277.6a1.35 1.35 0 1 0 2.7 0a1.35 1.35 0 1 0-2.7 0M55.0 274.9a1.35 1.35 0 1 0 2.7 0a1.35 1.35 0 1 0-2.7 0M55.0 278.4a1.35 1.35 0 1 0 2.7 0a1.35 1.35 0 1 0-2.7 0M55.1 275.6a1.35 1.35 0 1 0 2.7 0a1.35 1.35 0 1 0-2.7 0M55.1 276.2a1.35 1.35 0 1 0 2.7 0a1.35 1.35 0 1 0-2.7 0M55.1 279.9a1.35 1.35 0 1 0 2.7 0a1.35 1.35 0 1 0-2.7 0M55.2 284.5a1.35 1.35 0 1 0 2.7 0a1.35 1.35 0 1 0-2.7 0M55.3 286.7a1.35 1.35 0 1 0 2.7 0a1.35 1.35 0 1 0-2.7 0M55.3 267.6a1.35 1.35 0 1 0 2.7 0a1.35 1.35 0 1 0-2.7 0M55.4 272.6a1.35 1.35 0 1 0 2.7 0a1.35 1.35 0 1 0-2.7 0M55.4 283.5a1.35 1.35 0 1 0 2.7 0a1.35 1.35 0 1 0-2.7 0M55.4 280.8a1.35 1.35 0 1 0 2.7 0a1.35 1.35 0 1 0-2.7 0M55.5 270.9a1.35 1.35 0 1 0 2.7 0a1.35 1.35 0 1 0-2.7 0M55.6 273.7a1.35 1.35 0 1 0 2.7 0a1.35 1.35 0 1 0-2.7 0M55.6 270.4a1.35 1.35 0 1 0 2.7 0a1.35 1.35 0 1 0-2.7 0M55.7 269.5a1.35 1.35 0 1 0 2.7 0a1.35 1.35 0 1 0-2.7 0M55.8 274.3a1.35 1.35 0 1 0 2.7 0a1.35 1.35 0 1 0-2.7 0M55.8 277.6a1.35 1.35 0 1 0 2.7 0a1.35 1.35 0 1 0-2.7 0M55.9 282.6a1.35 1.35 0 1 0 2.7 0a1.35 1.35 0 1 0-2.7 0M56.0 278.4a1.35 1.35 0 1 0 2.7 0a1.35 1.35 0 1 0-2.7 0M56.0 276.2a1.35 1.35 0 1 0 2.7 0a1.35 1.35 0 1 0-2.7 0M56.0 268.5a1.35 1.35 0 1 0 2.7 0a1.35 1.35 0 1 0-2.7 0M56.1 273.7a1.35 1.35 0 1 0 2.7 0a1.35 1.35 0 1 0-2.7 0M56.1 273.1a1.35 1.35 0 1 0 2.7 0a1.35 1.35 0 1 0-2.7 0M56.2 281.6a1.35 1.35 0 1 0 2.7 0a1.35 1.35 0 1 0-2.7 0M56.2 285.6a1.35 1.35 0 1 0 2.7 0a1.35 1.35 0 1 0-2.7 0M56.2 271.5a1.35 1.35 0 1 0 2.7 0a1.35 1.35 0 1 0-2.7 0M56.2 270.9a1.35 1.35 0 1 0 2.7 0a1.35 1.35 0 1 0-2.7 0M56.2 279.1a1.35 1.35 0 1 0 2.7 0a1.35 1.35 0 1 0-2.7 0M56.3 279.9a1.35 1.35 0 1 0 2.7 0a1.35 1.35 0 1 0-2.7 0M56.3 283.5a1.35 1.35 0 1 0 2.7 0a1.35 1.35 0 1 0-2.7 0M56.4 280.8a1.35 1.35 0 1 0 2.7 0a1.35 1.35 0 1 0-2.7 0M56.4 289.2a1.35 1.35 0 1 0 2.7 0a1.35 1.35 0 1 0-2.7 0M56.4 269.9a1.35 1.35 0 1 0 2.7 0a1.35 1.35 0 1 0-2.7 0M56.7 276.2a1.35 1.35 0 1 0 2.7 0a1.35 1.35 0 1 0-2.7 0M56.8 277.6a1.35 1.35 0 1 0 2.7 0a1.35 1.35 0 1 0-2.7 0M56.8 278.4a1.35 1.35 0 1 0 2.7 0a1.35 1.35 0 1 0-2.7 0M56.8 272.6a1.35 1.35 0 1 0 2.7 0a1.35 1.35 0 1 0-2.7 0M56.9 279.9a1.35 1.35 0 1 0 2.7 0a1.35 1.35 0 1 0-2.7 0M56.9 274.9a1.35 1.35 0 1 0 2.7 0a1.35 1.35 0 1 0-2.7 0M56.9 281.6a1.35 1.35 0 1 0 2.7 0a1.35 1.35 0 1 0-2.7 0M57.0 275.6a1.35 1.35 0 1 0 2.7 0a1.35 1.35 0 1 0-2.7 0M57.0 280.8a1.35 1.35 0 1 0 2.7 0a1.35 1.35 0 1 0-2.7 0M57.0 283.5a1.35 1.35 0 1 0 2.7 0a1.35 1.35 0 1 0-2.7 0M57.1 287.9a1.35 1.35 0 1 0 2.7 0a1.35 1.35 0 1 0-2.7 0M57.1 285.6a1.35 1.35 0 1 0 2.7 0a1.35 1.35 0 1 0-2.7 0M57.3 282.6a1.35 1.35 0 1 0 2.7 0a1.35 1.35 0 1 0-2.7 0M57.4 270.9a1.35 1.35 0 1 0 2.7 0a1.35 1.35 0 1 0-2.7 0M57.6 279.1a1.35 1.35 0 1 0 2.7 0a1.35 1.35 0 1 0-2.7 0M57.6 271.5a1.35 1.35 0 1 0 2.7 0a1.35 1.35 0 1 0-2.7 0M57.6 285.6a1.35 1.35 0 1 0 2.7 0a1.35 1.35 0 1 0-2.7 0M57.6 279.1a1.35 1.35 0 1 0 2.7 0a1.35 1.35 0 1 0-2.7 0M57.6 284.5a1.35 1.35 0 1 0 2.7 0a1.35 1.35 0 1 0-2.7 0M57.7 274.3a1.35 1.35 0 1 0 2.7 0a1.35 1.35 0 1 0-2.7 0M57.7 286.7a1.35 1.35 0 1 0 2.7 0a1.35 1.35 0 1 0-2.7 0M57.7 287.9a1.35 1.35 0 1 0 2.7 0a1.35 1.35 0 1 0-2.7 0M57.7 290.5a1.35 1.35 0 1 0 2.7 0a1.35 1.35 0 1 0-2.7 0M57.8 276.2a1.35 1.35 0 1 0 2.7 0a1.35 1.35 0 1 0-2.7 0M57.8 281.6a1.35 1.35 0 1 0 2.7 0a1.35 1.35 0 1 0-2.7 0M57.8 280.8a1.35 1.35 0 1 0 2.7 0a1.35 1.35 0 1 0-2.7 0M57.8 279.9a1.35 1.35 0 1 0 2.7 0a1.35 1.35 0 1 0-2.7 0M57.9 282.6a1.35 1.35 0 1 0 2.7 0a1.35 1.35 0 1 0-2.7 0M57.9 278.4a1.35 1.35 0 1 0 2.7 0a1.35 1.35 0 1 0-2.7 0M57.9 289.2a1.35 1.35 0 1 0 2.7 0a1.35 1.35 0 1 0-2.7 0M58.0 276.9a1.35 1.35 0 1 0 2.7 0a1.35 1.35 0 1 0-2.7 0M58.0 273.7a1.35 1.35 0 1 0 2.7 0a1.35 1.35 0 1 0-2.7 0M58.3 292.0a1.35 1.35 0 1 0 2.7 0a1.35 1.35 0 1 0-2.7 0M58.4 273.1a1.35 1.35 0 1 0 2.7 0a1.35 1.35 0 1 0-2.7 0M58.5 280.8a1.35 1.35 0 1 0 2.7 0a1.35 1.35 0 1 0-2.7 0M58.5 289.2a1.35 1.35 0 1 0 2.7 0a1.35 1.35 0 1 0-2.7 0M58.5 284.5a1.35 1.35 0 1 0 2.7 0a1.35 1.35 0 1 0-2.7 0M58.6 283.5a1.35 1.35 0 1 0 2.7 0a1.35 1.35 0 1 0-2.7 0M58.6 282.6a1.35 1.35 0 1 0 2.7 0a1.35 1.35 0 1 0-2.7 0M58.6 270.9a1.35 1.35 0 1 0 2.7 0a1.35 1.35 0 1 0-2.7 0M58.7 286.7a1.35 1.35 0 1 0 2.7 0a1.35 1.35 0 1 0-2.7 0M58.7 290.5a1.35 1.35 0 1 0 2.7 0a1.35 1.35 0 1 0-2.7 0M58.7 277.6a1.35 1.35 0 1 0 2.7 0a1.35 1.35 0 1 0-2.7 0M58.7 278.4a1.35 1.35 0 1 0 2.7 0a1.35 1.35 0 1 0-2.7 0M58.9 285.6a1.35 1.35 0 1 0 2.7 0a1.35 1.35 0 1 0-2.7 0M58.9 279.9a1.35 1.35 0 1 0 2.7 0a1.35 1.35 0 1 0-2.7 0M59.0 287.9a1.35 1.35 0 1 0 2.7 0a1.35 1.35 0 1 0-2.7 0M59.2 297.1a1.35 1.35 0 1 0 2.7 0a1.35 1.35 0 1 0-2.7 0M59.3 281.6a1.35 1.35 0 1 0 2.7 0a1.35 1.35 0 1 0-2.7 0M59.4 290.5a1.35 1.35 0 1 0 2.7 0a1.35 1.35 0 1 0-2.7 0M59.4 286.7a1.35 1.35 0 1 0 2.7 0a1.35 1.35 0 1 0-2.7 0M59.4 292.0a1.35 1.35 0 1 0 2.7 0a1.35 1.35 0 1 0-2.7 0M59.5 279.9a1.35 1.35 0 1 0 2.7 0a1.35 1.35 0 1 0-2.7 0M59.5 282.6a1.35 1.35 0 1 0 2.7 0a1.35 1.35 0 1 0-2.7 0M59.6 276.2a1.35 1.35 0 1 0 2.7 0a1.35 1.35 0 1 0-2.7 0M59.6 287.9a1.35 1.35 0 1 0 2.7 0a1.35 1.35 0 1 0-2.7 0M59.6 285.6a1.35 1.35 0 1 0 2.7 0a1.35 1.35 0 1 0-2.7 0M59.6 274.3a1.35 1.35 0 1 0 2.7 0a1.35 1.35 0 1 0-2.7 0M59.7 279.1a1.35 1.35 0 1 0 2.7 0a1.35 1.35 0 1 0-2.7 0M59.7 284.5a1.35 1.35 0 1 0 2.7 0a1.35 1.35 0 1 0-2.7 0M59.7 295.2a1.35 1.35 0 1 0 2.7 0a1.35 1.35 0 1 0-2.7 0M59.7 277.6a1.35 1.35 0 1 0 2.7 0a1.35 1.35 0 1 0-2.7 0M59.8 283.5a1.35 1.35 0 1 0 2.7 0a1.35 1.35 0 1 0-2.7 0M59.8 297.1a1.35 1.35 0 1 0 2.7 0a1.35 1.35 0 1 0-2.7 0M59.8 281.6a1.35 1.35 0 1 0 2.7 0a1.35 1.35 0 1 0-2.7 0M60.0 289.2a1.35 1.35 0 1 0 2.7 0a1.35 1.35 0 1 0-2.7 0M60.1 280.8a1.35 1.35 0 1 0 2.7 0a1.35 1.35 0 1 0-2.7 0M60.2 278.4a1.35 1.35 0 1 0 2.7 0a1.35 1.35 0 1 0-2.7 0M60.3 285.6a1.35 1.35 0 1 0 2.7 0a1.35 1.35 0 1 0-2.7 0M60.3 274.3a1.35 1.35 0 1 0 2.7 0a1.35 1.35 0 1 0-2.7 0M60.4 287.9a1.35 1.35 0 1 0 2.7 0a1.35 1.35 0 1 0-2.7 0M60.4 290.5a1.35 1.35 0 1 0 2.7 0a1.35 1.35 0 1 0-2.7 0M60.4 280.8a1.35 1.35 0 1 0 2.7 0a1.35 1.35 0 1 0-2.7 0M60.4 282.6a1.35 1.35 0 1 0 2.7 0a1.35 1.35 0 1 0-2.7 0M60.4 281.6a1.35 1.35 0 1 0 2.7 0a1.35 1.35 0 1 0-2.7 0M60.5 279.9a1.35 1.35 0 1 0 2.7 0a1.35 1.35 0 1 0-2.7 0M60.5 292.0a1.35 1.35 0 1 0 2.7 0a1.35 1.35 0 1 0-2.7 0M60.5 289.2a1.35 1.35 0 1 0 2.7 0a1.35 1.35 0 1 0-2.7 0M60.5 286.7a1.35 1.35 0 1 0 2.7 0a1.35 1.35 0 1 0-2.7 0M60.6 297.1a1.35 1.35 0 1 0 2.7 0a1.35 1.35 0 1 0-2.7 0M60.6 293.5a1.35 1.35 0 1 0 2.7 0a1.35 1.35 0 1 0-2.7 0M60.7 283.5a1.35 1.35 0 1 0 2.7 0a1.35 1.35 0 1 0-2.7 0M60.7 279.1a1.35 1.35 0 1 0 2.7 0a1.35 1.35 0 1 0-2.7 0M61.1 284.5a1.35 1.35 0 1 0 2.7 0a1.35 1.35 0 1 0-2.7 0M61.2 304.1a1.35 1.35 0 1 0 2.7 0a1.35 1.35 0 1 0-2.7 0M61.2 279.1a1.35 1.35 0 1 0 2.7 0a1.35 1.35 0 1 0-2.7 0M61.2 290.5a1.35 1.35 0 1 0 2.7 0a1.35 1.35 0 1 0-2.7 0M61.3 278.4a1.35 1.35 0 1 0 2.7 0a1.35 1.35 0 1 0-2.7 0M61.3 282.6a1.35 1.35 0 1 0 2.7 0a1.35 1.35 0 1 0-2.7 0M61.3 281.6a1.35 1.35 0 1 0 2.7 0a1.35 1.35 0 1 0-2.7 0M61.3 289.2a1.35 1.35 0 1 0 2.7 0a1.35 1.35 0 1 0-2.7 0M61.3 280.8a1.35 1.35 0 1 0 2.7 0a1.35 1.35 0 1 0-2.7 0M61.4 285.6a1.35 1.35 0 1 0 2.7 0a1.35 1.35 0 1 0-2.7 0M61.5 276.2a1.35 1.35 0 1 0 2.7 0a1.35 1.35 0 1 0-2.7 0M61.5 301.5a1.35 1.35 0 1 0 2.7 0a1.35 1.35 0 1 0-2.7 0M61.5 276.9a1.35 1.35 0 1 0 2.7 0a1.35 1.35 0 1 0-2.7 0M61.5 292.0a1.35 1.35 0 1 0 2.7 0a1.35 1.35 0 1 0-2.7 0M61.6 286.7a1.35 1.35 0 1 0 2.7 0a1.35 1.35 0 1 0-2.7 0M61.7 299.2a1.35 1.35 0 1 0 2.7 0a1.35 1.35 0 1 0-2.7 0M61.7 293.5a1.35 1.35 0 1 0 2.7 0a1.35 1.35 0 1 0-2.7 0M61.7 284.5a1.35 1.35 0 1 0 2.7 0a1.35 1.35 0 1 0-2.7 0M61.7 295.2a1.35 1.35 0 1 0 2.7 0a1.35 1.35 0 1 0-2.7 0M61.8 297.1a1.35 1.35 0 1 0 2.7 0a1.35 1.35 0 1 0-2.7 0M61.8 279.9a1.35 1.35 0 1 0 2.7 0a1.35 1.35 0 1 0-2.7 0M62.1 283.5a1.35 1.35 0 1 0 2.7 0a1.35 1.35 0 1 0-2.7 0M62.1 287.9a1.35 1.35 0 1 0 2.7 0a1.35 1.35 0 1 0-2.7 0M62.1 295.2a1.35 1.35 0 1 0 2.7 0a1.35 1.35 0 1 0-2.7 0M62.1 282.6a1.35 1.35 0 1 0 2.7 0a1.35 1.35 0 1 0-2.7 0M62.2 293.5a1.35 1.35 0 1 0 2.7 0a1.35 1.35 0 1 0-2.7 0M62.2 289.2a1.35 1.35 0 1 0 2.7 0a1.35 1.35 0 1 0-2.7 0M62.2 283.5a1.35 1.35 0 1 0 2.7 0a1.35 1.35 0 1 0-2.7 0M62.2 292.0a1.35 1.35 0 1 0 2.7 0a1.35 1.35 0 1 0-2.7 0M62.3 290.5a1.35 1.35 0 1 0 2.7 0a1.35 1.35 0 1 0-2.7 0M62.3 279.1a1.35 1.35 0 1 0 2.7 0a1.35 1.35 0 1 0-2.7 0M62.4 299.2a1.35 1.35 0 1 0 2.7 0a1.35 1.35 0 1 0-2.7 0M62.4 287.9a1.35 1.35 0 1 0 2.7 0a1.35 1.35 0 1 0-2.7 0M62.5 297.1a1.35 1.35 0 1 0 2.7 0a1.35 1.35 0 1 0-2.7 0M62.6 285.6a1.35 1.35 0 1 0 2.7 0a1.35 1.35 0 1 0-2.7 0M62.7 304.1a1.35 1.35 0 1 0 2.7 0a1.35 1.35 0 1 0-2.7 0M62.7 278.4a1.35 1.35 0 1 0 2.7 0a1.35 1.35 0 1 0-2.7 0M62.9 284.5a1.35 1.35 0 1 0 2.7 0a1.35 1.35 0 1 0-2.7 0M63.0 285.6a1.35 1.35 0 1 0 2.7 0a1.35 1.35 0 1 0-2.7 0M63.1 287.9a1.35 1.35 0 1 0 2.7 0a1.35 1.35 0 1 0-2.7 0M63.1 279.9a1.35 1.35 0 1 0 2.7 0a1.35 1.35 0 1 0-2.7 0M63.1 293.5a1.35 1.35 0 1 0 2.7 0a1.35 1.35 0 1 0-2.7 0M63.1 284.5a1.35 1.35 0 1 0 2.7 0a1.35 1.35 0 1 0-2.7 0M63.2 289.2a1.35 1.35 0 1 0 2.7 0a1.35 1.35 0 1 0-2.7 0M63.3 283.5a1.35 1.35 0 1 0 2.7 0a1.35 1.35 0 1 0-2.7 0M63.3 295.2a1.35 1.35 0 1 0 2.7 0a1.35 1.35 0 1 0-2.7 0M63.4 292.0a1.35 1.35 0 1 0 2.7 0a1.35 1.35 0 1 0-2.7 0M63.4 301.5a1.35 1.35 0 1 0 2.7 0a1.35 1.35 0 1 0-2.7 0M63.5 290.5a1.35 1.35 0 1 0 2.7 0a1.35 1.35 0 1 0-2.7 0M63.5 281.6a1.35 1.35 0 1 0 2.7 0a1.35 1.35 0 1 0-2.7 0M63.6 304.1a1.35 1.35 0 1 0 2.7 0a1.35 1.35 0 1 0-2.7 0M63.6 297.1a1.35 1.35 0 1 0 2.7 0a1.35 1.35 0 1 0-2.7 0M63.7 315.0a1.35 1.35 0 1 0 2.7 0a1.35 1.35 0 1 0-2.7 0M63.8 299.2a1.35 1.35 0 1 0 2.7 0a1.35 1.35 0 1 0-2.7 0M63.9 295.2a1.35 1.35 0 1 0 2.7 0a1.35 1.35 0 1 0-2.7 0M63.9 299.2a1.35 1.35 0 1 0 2.7 0a1.35 1.35 0 1 0-2.7 0M64.0 287.9a1.35 1.35 0 1 0 2.7 0a1.35 1.35 0 1 0-2.7 0M64.0 301.5a1.35 1.35 0 1 0 2.7 0a1.35 1.35 0 1 0-2.7 0M64.0 285.6a1.35 1.35 0 1 0 2.7 0a1.35 1.35 0 1 0-2.7 0M64.1 290.5a1.35 1.35 0 1 0 2.7 0a1.35 1.35 0 1 0-2.7 0M64.1 297.1a1.35 1.35 0 1 0 2.7 0a1.35 1.35 0 1 0-2.7 0M64.3 293.5a1.35 1.35 0 1 0 2.7 0a1.35 1.35 0 1 0-2.7 0M64.3 289.2a1.35 1.35 0 1 0 2.7 0a1.35 1.35 0 1 0-2.7 0M64.3 286.7a1.35 1.35 0 1 0 2.7 0a1.35 1.35 0 1 0-2.7 0M64.3 310.7a1.35 1.35 0 1 0 2.7 0a1.35 1.35 0 1 0-2.7 0M64.4 292.0a1.35 1.35 0 1 0 2.7 0a1.35 1.35 0 1 0-2.7 0M64.5 282.6a1.35 1.35 0 1 0 2.7 0a1.35 1.35 0 1 0-2.7 0M64.7 284.5a1.35 1.35 0 1 0 2.7 0a1.35 1.35 0 1 0-2.7 0M64.8 307.1a1.35 1.35 0 1 0 2.7 0a1.35 1.35 0 1 0-2.7 0M64.8 297.1a1.35 1.35 0 1 0 2.7 0a1.35 1.35 0 1 0-2.7 0M64.8 299.2a1.35 1.35 0 1 0 2.7 0a1.35 1.35 0 1 0-2.7 0M64.9 289.2a1.35 1.35 0 1 0 2.7 0a1.35 1.35 0 1 0-2.7 0M64.9 301.5a1.35 1.35 0 1 0 2.7 0a1.35 1.35 0 1 0-2.7 0M64.9 295.2a1.35 1.35 0 1 0 2.7 0a1.35 1.35 0 1 0-2.7 0M65.0 290.5a1.35 1.35 0 1 0 2.7 0a1.35 1.35 0 1 0-2.7 0M65.0 285.6a1.35 1.35 0 1 0 2.7 0a1.35 1.35 0 1 0-2.7 0M65.1 292.0a1.35 1.35 0 1 0 2.7 0a1.35 1.35 0 1 0-2.7 0M65.1 286.7a1.35 1.35 0 1 0 2.7 0a1.35 1.35 0 1 0-2.7 0M65.2 304.1a1.35 1.35 0 1 0 2.7 0a1.35 1.35 0 1 0-2.7 0M65.2 293.5a1.35 1.35 0 1 0 2.7 0a1.35 1.35 0 1 0-2.7 0M65.2 315.0a1.35 1.35 0 1 0 2.7 0a1.35 1.35 0 1 0-2.7 0M65.3 287.9a1.35 1.35 0 1 0 2.7 0a1.35 1.35 0 1 0-2.7 0M65.4 307.1a1.35 1.35 0 1 0 2.7 0a1.35 1.35 0 1 0-2.7 0M65.4 282.6a1.35 1.35 0 1 0 2.7 0a1.35 1.35 0 1 0-2.7 0M65.7 297.1a1.35 1.35 0 1 0 2.7 0a1.35 1.35 0 1 0-2.7 0M65.7 290.5a1.35 1.35 0 1 0 2.7 0a1.35 1.35 0 1 0-2.7 0M65.7 295.2a1.35 1.35 0 1 0 2.7 0a1.35 1.35 0 1 0-2.7 0M65.8 304.1a1.35 1.35 0 1 0 2.7 0a1.35 1.35 0 1 0-2.7 0M65.8 285.6a1.35 1.35 0 1 0 2.7 0a1.35 1.35 0 1 0-2.7 0M65.8 301.5a1.35 1.35 0 1 0 2.7 0a1.35 1.35 0 1 0-2.7 0M65.9 299.2a1.35 1.35 0 1 0 2.7 0a1.35 1.35 0 1 0-2.7 0M65.9 293.5a1.35 1.35 0 1 0 2.7 0a1.35 1.35 0 1 0-2.7 0M65.9 310.7a1.35 1.35 0 1 0 2.7 0a1.35 1.35 0 1 0-2.7 0M65.9 315.0a1.35 1.35 0 1 0 2.7 0a1.35 1.35 0 1 0-2.7 0M66.0 292.0a1.35 1.35 0 1 0 2.7 0a1.35 1.35 0 1 0-2.7 0M66.1 289.2a1.35 1.35 0 1 0 2.7 0a1.35 1.35 0 1 0-2.7 0M66.2 307.1a1.35 1.35 0 1 0 2.7 0a1.35 1.35 0 1 0-2.7 0M66.5 287.9a1.35 1.35 0 1 0 2.7 0a1.35 1.35 0 1 0-2.7 0M66.6 299.2a1.35 1.35 0 1 0 2.7 0a1.35 1.35 0 1 0-2.7 0M66.6 310.7a1.35 1.35 0 1 0 2.7 0a1.35 1.35 0 1 0-2.7 0M66.6 290.5a1.35 1.35 0 1 0 2.7 0a1.35 1.35 0 1 0-2.7 0M66.7 297.1a1.35 1.35 0 1 0 2.7 0a1.35 1.35 0 1 0-2.7 0M66.7 307.1a1.35 1.35 0 1 0 2.7 0a1.35 1.35 0 1 0-2.7 0M66.7 301.5a1.35 1.35 0 1 0 2.7 0a1.35 1.35 0 1 0-2.7 0M66.8 304.1a1.35 1.35 0 1 0 2.7 0a1.35 1.35 0 1 0-2.7 0M66.8 292.0a1.35 1.35 0 1 0 2.7 0a1.35 1.35 0 1 0-2.7 0M66.9 295.2a1.35 1.35 0 1 0 2.7 0a1.35 1.35 0 1 0-2.7 0M67.2 289.2a1.35 1.35 0 1 0 2.7 0a1.35 1.35 0 1 0-2.7 0M67.3 287.9a1.35 1.35 0 1 0 2.7 0a1.35 1.35 0 1 0-2.7 0M67.5 301.5a1.35 1.35 0 1 0 2.7 0a1.35 1.35 0 1 0-2.7 0M67.5 304.1a1.35 1.35 0 1 0 2.7 0a1.35 1.35 0 1 0-2.7 0M67.5 293.5a1.35 1.35 0 1 0 2.7 0a1.35 1.35 0 1 0-2.7 0M67.6 290.5a1.35 1.35 0 1 0 2.7 0a1.35 1.35 0 1 0-2.7 0M67.6 297.1a1.35 1.35 0 1 0 2.7 0a1.35 1.35 0 1 0-2.7 0M67.7 292.0a1.35 1.35 0 1 0 2.7 0a1.35 1.35 0 1 0-2.7 0M67.7 315.0a1.35 1.35 0 1 0 2.7 0a1.35 1.35 0 1 0-2.7 0M67.7 320.7a1.35 1.35 0 1 0 2.7 0a1.35 1.35 0 1 0-2.7 0M67.8 289.2a1.35 1.35 0 1 0 2.7 0a1.35 1.35 0 1 0-2.7 0M67.8 295.2a1.35 1.35 0 1 0 2.7 0a1.35 1.35 0 1 0-2.7 0M67.8 299.2a1.35 1.35 0 1 0 2.7 0a1.35 1.35 0 1 0-2.7 0M67.9 287.9a1.35 1.35 0 1 0 2.7 0a1.35 1.35 0 1 0-2.7 0M67.9 307.1a1.35 1.35 0 1 0 2.7 0a1.35 1.35 0 1 0-2.7 0M68.0 310.7a1.35 1.35 0 1 0 2.7 0a1.35 1.35 0 1 0-2.7 0M68.4 310.7a1.35 1.35 0 1 0 2.7 0a1.35 1.35 0 1 0-2.7 0M68.4 293.5a1.35 1.35 0 1 0 2.7 0a1.35 1.35 0 1 0-2.7 0M68.5 299.2a1.35 1.35 0 1 0 2.7 0a1.35 1.35 0 1 0-2.7 0M68.5 297.1a1.35 1.35 0 1 0 2.7 0a1.35 1.35 0 1 0-2.7 0M68.5 307.1a1.35 1.35 0 1 0 2.7 0a1.35 1.35 0 1 0-2.7 0M68.6 295.2a1.35 1.35 0 1 0 2.7 0a1.35 1.35 0 1 0-2.7 0M68.6 301.5a1.35 1.35 0 1 0 2.7 0a1.35 1.35 0 1 0-2.7 0M68.7 304.1a1.35 1.35 0 1 0 2.7 0a1.35 1.35 0 1 0-2.7 0M69.0 320.7a1.35 1.35 0 1 0 2.7 0a1.35 1.35 0 1 0-2.7 0M69.2 315.0a1.35 1.35 0 1 0 2.7 0a1.35 1.35 0 1 0-2.7 0M69.3 295.2a1.35 1.35 0 1 0 2.7 0a1.35 1.35 0 1 0-2.7 0M69.3 304.1a1.35 1.35 0 1 0 2.7 0a1.35 1.35 0 1 0-2.7 0M69.4 299.2a1.35 1.35 0 1 0 2.7 0a1.35 1.35 0 1 0-2.7 0M69.4 289.2a1.35 1.35 0 1 0 2.7 0a1.35 1.35 0 1 0-2.7 0M69.5 315.0a1.35 1.35 0 1 0 2.7 0a1.35 1.35 0 1 0-2.7 0M69.5 310.7a1.35 1.35 0 1 0 2.7 0a1.35 1.35 0 1 0-2.7 0M69.5 290.5a1.35 1.35 0 1 0 2.7 0a1.35 1.35 0 1 0-2.7 0M69.6 297.1a1.35 1.35 0 1 0 2.7 0a1.35 1.35 0 1 0-2.7 0M69.7 307.1a1.35 1.35 0 1 0 2.7 0a1.35 1.35 0 1 0-2.7 0M69.7 301.5a1.35 1.35 0 1 0 2.7 0a1.35 1.35 0 1 0-2.7 0M70.0 293.5a1.35 1.35 0 1 0 2.7 0a1.35 1.35 0 1 0-2.7 0M70.2 310.7a1.35 1.35 0 1 0 2.7 0a1.35 1.35 0 1 0-2.7 0M70.2 297.1a1.35 1.35 0 1 0 2.7 0a1.35 1.35 0 1 0-2.7 0M70.3 315.0a1.35 1.35 0 1 0 2.7 0a1.35 1.35 0 1 0-2.7 0M70.3 304.1a1.35 1.35 0 1 0 2.7 0a1.35 1.35 0 1 0-2.7 0M70.3 307.1a1.35 1.35 0 1 0 2.7 0a1.35 1.35 0 1 0-2.7 0M70.3 301.5a1.35 1.35 0 1 0 2.7 0a1.35 1.35 0 1 0-2.7 0M70.4 299.2a1.35 1.35 0 1 0 2.7 0a1.35 1.35 0 1 0-2.7 0M70.4 293.5a1.35 1.35 0 1 0 2.7 0a1.35 1.35 0 1 0-2.7 0M70.5 320.7a1.35 1.35 0 1 0 2.7 0a1.35 1.35 0 1 0-2.7 0M70.6 295.2a1.35 1.35 0 1 0 2.7 0a1.35 1.35 0 1 0-2.7 0M70.6 342.2a1.35 1.35 0 1 0 2.7 0a1.35 1.35 0 1 0-2.7 0M71.1 304.1a1.35 1.35 0 1 0 2.7 0a1.35 1.35 0 1 0-2.7 0M71.1 328.6a1.35 1.35 0 1 0 2.7 0a1.35 1.35 0 1 0-2.7 0M71.2 295.2a1.35 1.35 0 1 0 2.7 0a1.35 1.35 0 1 0-2.7 0M71.2 315.0a1.35 1.35 0 1 0 2.7 0a1.35 1.35 0 1 0-2.7 0M71.2 320.7a1.35 1.35 0 1 0 2.7 0a1.35 1.35 0 1 0-2.7 0M71.3 307.1a1.35 1.35 0 1 0 2.7 0a1.35 1.35 0 1 0-2.7 0M71.3 299.2a1.35 1.35 0 1 0 2.7 0a1.35 1.35 0 1 0-2.7 0M71.4 293.5a1.35 1.35 0 1 0 2.7 0a1.35 1.35 0 1 0-2.7 0M71.4 310.7a1.35 1.35 0 1 0 2.7 0a1.35 1.35 0 1 0-2.7 0M71.4 301.5a1.35 1.35 0 1 0 2.7 0a1.35 1.35 0 1 0-2.7 0M71.5 297.1a1.35 1.35 0 1 0 2.7 0a1.35 1.35 0 1 0-2.7 0M71.6 342.2a1.35 1.35 0 1 0 2.7 0a1.35 1.35 0 1 0-2.7 0M72.0 310.7a1.35 1.35 0 1 0 2.7 0a1.35 1.35 0 1 0-2.7 0M72.1 307.1a1.35 1.35 0 1 0 2.7 0a1.35 1.35 0 1 0-2.7 0M72.1 304.1a1.35 1.35 0 1 0 2.7 0a1.35 1.35 0 1 0-2.7 0M72.1 315.0a1.35 1.35 0 1 0 2.7 0a1.35 1.35 0 1 0-2.7 0M72.2 301.5a1.35 1.35 0 1 0 2.7 0a1.35 1.35 0 1 0-2.7 0M72.2 299.2a1.35 1.35 0 1 0 2.7 0a1.35 1.35 0 1 0-2.7 0M72.3 297.1a1.35 1.35 0 1 0 2.7 0a1.35 1.35 0 1 0-2.7 0M72.3 320.7a1.35 1.35 0 1 0 2.7 0a1.35 1.35 0 1 0-2.7 0M72.5 328.6a1.35 1.35 0 1 0 2.7 0a1.35 1.35 0 1 0-2.7 0M72.6 342.2a1.35 1.35 0 1 0 2.7 0a1.35 1.35 0 1 0-2.7 0M72.9 315.0a1.35 1.35 0 1 0 2.7 0a1.35 1.35 0 1 0-2.7 0M72.9 299.2a1.35 1.35 0 1 0 2.7 0a1.35 1.35 0 1 0-2.7 0M73.0 301.5a1.35 1.35 0 1 0 2.7 0a1.35 1.35 0 1 0-2.7 0M73.0 310.7a1.35 1.35 0 1 0 2.7 0a1.35 1.35 0 1 0-2.7 0M73.0 307.1a1.35 1.35 0 1 0 2.7 0a1.35 1.35 0 1 0-2.7 0M73.0 342.2a1.35 1.35 0 1 0 2.7 0a1.35 1.35 0 1 0-2.7 0M73.1 328.6a1.35 1.35 0 1 0 2.7 0a1.35 1.35 0 1 0-2.7 0M73.2 304.1a1.35 1.35 0 1 0 2.7 0a1.35 1.35 0 1 0-2.7 0M73.4 295.2a1.35 1.35 0 1 0 2.7 0a1.35 1.35 0 1 0-2.7 0M73.6 320.7a1.35 1.35 0 1 0 2.7 0a1.35 1.35 0 1 0-2.7 0M73.8 320.7a1.35 1.35 0 1 0 2.7 0a1.35 1.35 0 1 0-2.7 0M73.8 315.0a1.35 1.35 0 1 0 2.7 0a1.35 1.35 0 1 0-2.7 0M73.9 301.5a1.35 1.35 0 1 0 2.7 0a1.35 1.35 0 1 0-2.7 0M73.9 307.1a1.35 1.35 0 1 0 2.7 0a1.35 1.35 0 1 0-2.7 0M73.9 310.7a1.35 1.35 0 1 0 2.7 0a1.35 1.35 0 1 0-2.7 0M73.9 304.1a1.35 1.35 0 1 0 2.7 0a1.35 1.35 0 1 0-2.7 0M74.4 328.6a1.35 1.35 0 1 0 2.7 0a1.35 1.35 0 1 0-2.7 0M74.6 297.1a1.35 1.35 0 1 0 2.7 0a1.35 1.35 0 1 0-2.7 0M74.7 307.1a1.35 1.35 0 1 0 2.7 0a1.35 1.35 0 1 0-2.7 0M74.7 328.6a1.35 1.35 0 1 0 2.7 0a1.35 1.35 0 1 0-2.7 0M74.7 304.1a1.35 1.35 0 1 0 2.7 0a1.35 1.35 0 1 0-2.7 0M74.8 320.7a1.35 1.35 0 1 0 2.7 0a1.35 1.35 0 1 0-2.7 0M74.8 301.5a1.35 1.35 0 1 0 2.7 0a1.35 1.35 0 1 0-2.7 0M74.8 310.7a1.35 1.35 0 1 0 2.7 0a1.35 1.35 0 1 0-2.7 0M75.0 315.0a1.35 1.35 0 1 0 2.7 0a1.35 1.35 0 1 0-2.7 0M75.1 297.1a1.35 1.35 0 1 0 2.7 0a1.35 1.35 0 1 0-2.7 0M75.3 342.2a1.35 1.35 0 1 0 2.7 0a1.35 1.35 0 1 0-2.7 0M75.6 307.1a1.35 1.35 0 1 0 2.7 0a1.35 1.35 0 1 0-2.7 0M75.6 301.5a1.35 1.35 0 1 0 2.7 0a1.35 1.35 0 1 0-2.7 0M75.6 328.6a1.35 1.35 0 1 0 2.7 0a1.35 1.35 0 1 0-2.7 0M75.7 342.2a1.35 1.35 0 1 0 2.7 0a1.35 1.35 0 1 0-2.7 0M75.7 320.7a1.35 1.35 0 1 0 2.7 0a1.35 1.35 0 1 0-2.7 0M75.7 315.0a1.35 1.35 0 1 0 2.7 0a1.35 1.35 0 1 0-2.7 0M75.8 304.1a1.35 1.35 0 1 0 2.7 0a1.35 1.35 0 1 0-2.7 0M75.8 310.7a1.35 1.35 0 1 0 2.7 0a1.35 1.35 0 1 0-2.7 0M76.5 315.0a1.35 1.35 0 1 0 2.7 0a1.35 1.35 0 1 0-2.7 0M76.6 320.7a1.35 1.35 0 1 0 2.7 0a1.35 1.35 0 1 0-2.7 0M76.6 328.6a1.35 1.35 0 1 0 2.7 0a1.35 1.35 0 1 0-2.7 0M76.6 297.1a1.35 1.35 0 1 0 2.7 0a1.35 1.35 0 1 0-2.7 0M76.7 301.5a1.35 1.35 0 1 0 2.7 0a1.35 1.35 0 1 0-2.7 0M76.7 310.7a1.35 1.35 0 1 0 2.7 0a1.35 1.35 0 1 0-2.7 0M77.0 307.1a1.35 1.35 0 1 0 2.7 0a1.35 1.35 0 1 0-2.7 0M77.1 304.1a1.35 1.35 0 1 0 2.7 0a1.35 1.35 0 1 0-2.7 0M77.1 342.2a1.35 1.35 0 1 0 2.7 0a1.35 1.35 0 1 0-2.7 0M77.4 315.0a1.35 1.35 0 1 0 2.7 0a1.35 1.35 0 1 0-2.7 0M77.5 320.7a1.35 1.35 0 1 0 2.7 0a1.35 1.35 0 1 0-2.7 0M77.5 307.1a1.35 1.35 0 1 0 2.7 0a1.35 1.35 0 1 0-2.7 0M77.5 328.6a1.35 1.35 0 1 0 2.7 0a1.35 1.35 0 1 0-2.7 0M77.6 310.7a1.35 1.35 0 1 0 2.7 0a1.35 1.35 0 1 0-2.7 0M77.6 304.1a1.35 1.35 0 1 0 2.7 0a1.35 1.35 0 1 0-2.7 0M77.7 342.2a1.35 1.35 0 1 0 2.7 0a1.35 1.35 0 1 0-2.7 0M78.3 320.7a1.35 1.35 0 1 0 2.7 0a1.35 1.35 0 1 0-2.7 0M78.3 328.6a1.35 1.35 0 1 0 2.7 0a1.35 1.35 0 1 0-2.7 0M78.4 310.7a1.35 1.35 0 1 0 2.7 0a1.35 1.35 0 1 0-2.7 0M78.4 342.2a1.35 1.35 0 1 0 2.7 0a1.35 1.35 0 1 0-2.7 0M78.5 307.1a1.35 1.35 0 1 0 2.7 0a1.35 1.35 0 1 0-2.7 0M78.6 315.0a1.35 1.35 0 1 0 2.7 0a1.35 1.35 0 1 0-2.7 0M78.9 301.5a1.35 1.35 0 1 0 2.7 0a1.35 1.35 0 1 0-2.7 0M79.0 304.1a1.35 1.35 0 1 0 2.7 0a1.35 1.35 0 1 0-2.7 0M79.2 328.6a1.35 1.35 0 1 0 2.7 0a1.35 1.35 0 1 0-2.7 0M79.2 342.2a1.35 1.35 0 1 0 2.7 0a1.35 1.35 0 1 0-2.7 0M79.3 315.0a1.35 1.35 0 1 0 2.7 0a1.35 1.35 0 1 0-2.7 0M79.4 320.7a1.35 1.35 0 1 0 2.7 0a1.35 1.35 0 1 0-2.7 0M79.5 310.7a1.35 1.35 0 1 0 2.7 0a1.35 1.35 0 1 0-2.7 0M79.5 307.1a1.35 1.35 0 1 0 2.7 0a1.35 1.35 0 1 0-2.7 0M80.1 328.6a1.35 1.35 0 1 0 2.7 0a1.35 1.35 0 1 0-2.7 0M80.1 320.7a1.35 1.35 0 1 0 2.7 0a1.35 1.35 0 1 0-2.7 0M80.2 342.2a1.35 1.35 0 1 0 2.7 0a1.35 1.35 0 1 0-2.7 0M80.3 310.7a1.35 1.35 0 1 0 2.7 0a1.35 1.35 0 1 0-2.7 0M80.3 304.1a1.35 1.35 0 1 0 2.7 0a1.35 1.35 0 1 0-2.7 0M80.3 315.0a1.35 1.35 0 1 0 2.7 0a1.35 1.35 0 1 0-2.7 0M80.6 307.1a1.35 1.35 0 1 0 2.7 0a1.35 1.35 0 1 0-2.7 0M81.0 315.0a1.35 1.35 0 1 0 2.7 0a1.35 1.35 0 1 0-2.7 0M81.0 342.2a1.35 1.35 0 1 0 2.7 0a1.35 1.35 0 1 0-2.7 0M81.1 320.7a1.35 1.35 0 1 0 2.7 0a1.35 1.35 0 1 0-2.7 0M81.1 328.6a1.35 1.35 0 1 0 2.7 0a1.35 1.35 0 1 0-2.7 0M81.2 307.1a1.35 1.35 0 1 0 2.7 0a1.35 1.35 0 1 0-2.7 0M81.6 310.7a1.35 1.35 0 1 0 2.7 0a1.35 1.35 0 1 0-2.7 0M81.9 320.7a1.35 1.35 0 1 0 2.7 0a1.35 1.35 0 1 0-2.7 0M81.9 304.1a1.35 1.35 0 1 0 2.7 0a1.35 1.35 0 1 0-2.7 0M82.0 342.2a1.35 1.35 0 1 0 2.7 0a1.35 1.35 0 1 0-2.7 0M82.0 328.6a1.35 1.35 0 1 0 2.7 0a1.35 1.35 0 1 0-2.7 0M82.0 310.7a1.35 1.35 0 1 0 2.7 0a1.35 1.35 0 1 0-2.7 0M82.0 315.0a1.35 1.35 0 1 0 2.7 0a1.35 1.35 0 1 0-2.7 0M82.6 307.1a1.35 1.35 0 1 0 2.7 0a1.35 1.35 0 1 0-2.7 0M82.8 328.6a1.35 1.35 0 1 0 2.7 0a1.35 1.35 0 1 0-2.7 0M82.8 342.2a1.35 1.35 0 1 0 2.7 0a1.35 1.35 0 1 0-2.7 0M82.9 315.0a1.35 1.35 0 1 0 2.7 0a1.35 1.35 0 1 0-2.7 0M82.9 320.7a1.35 1.35 0 1 0 2.7 0a1.35 1.35 0 1 0-2.7 0M83.1 310.7a1.35 1.35 0 1 0 2.7 0a1.35 1.35 0 1 0-2.7 0M83.1 304.1a1.35 1.35 0 1 0 2.7 0a1.35 1.35 0 1 0-2.7 0M83.7 342.2a1.35 1.35 0 1 0 2.7 0a1.35 1.35 0 1 0-2.7 0M83.7 315.0a1.35 1.35 0 1 0 2.7 0a1.35 1.35 0 1 0-2.7 0M83.8 320.7a1.35 1.35 0 1 0 2.7 0a1.35 1.35 0 1 0-2.7 0M83.8 328.6a1.35 1.35 0 1 0 2.7 0a1.35 1.35 0 1 0-2.7 0M84.6 328.6a1.35 1.35 0 1 0 2.7 0a1.35 1.35 0 1 0-2.7 0M84.6 320.7a1.35 1.35 0 1 0 2.7 0a1.35 1.35 0 1 0-2.7 0M84.7 315.0a1.35 1.35 0 1 0 2.7 0a1.35 1.35 0 1 0-2.7 0M84.8 342.2a1.35 1.35 0 1 0 2.7 0a1.35 1.35 0 1 0-2.7 0M84.9 307.1a1.35 1.35 0 1 0 2.7 0a1.35 1.35 0 1 0-2.7 0M85.5 320.7a1.35 1.35 0 1 0 2.7 0a1.35 1.35 0 1 0-2.7 0M85.5 342.2a1.35 1.35 0 1 0 2.7 0a1.35 1.35 0 1 0-2.7 0M85.6 307.1a1.35 1.35 0 1 0 2.7 0a1.35 1.35 0 1 0-2.7 0M85.6 328.6a1.35 1.35 0 1 0 2.7 0a1.35 1.35 0 1 0-2.7 0M85.6 315.0a1.35 1.35 0 1 0 2.7 0a1.35 1.35 0 1 0-2.7 0M85.6 310.7a1.35 1.35 0 1 0 2.7 0a1.35 1.35 0 1 0-2.7 0M86.4 315.0a1.35 1.35 0 1 0 2.7 0a1.35 1.35 0 1 0-2.7 0M86.5 328.6a1.35 1.35 0 1 0 2.7 0a1.35 1.35 0 1 0-2.7 0M86.5 342.2a1.35 1.35 0 1 0 2.7 0a1.35 1.35 0 1 0-2.7 0M86.6 320.7a1.35 1.35 0 1 0 2.7 0a1.35 1.35 0 1 0-2.7 0M87.3 328.6a1.35 1.35 0 1 0 2.7 0a1.35 1.35 0 1 0-2.7 0M87.3 320.7a1.35 1.35 0 1 0 2.7 0a1.35 1.35 0 1 0-2.7 0M87.4 342.2a1.35 1.35 0 1 0 2.7 0a1.35 1.35 0 1 0-2.7 0M87.6 315.0a1.35 1.35 0 1 0 2.7 0a1.35 1.35 0 1 0-2.7 0M87.9 310.7a1.35 1.35 0 1 0 2.7 0a1.35 1.35 0 1 0-2.7 0M88.2 320.7a1.35 1.35 0 1 0 2.7 0a1.35 1.35 0 1 0-2.7 0M88.2 342.2a1.35 1.35 0 1 0 2.7 0a1.35 1.35 0 1 0-2.7 0M88.3 315.0a1.35 1.35 0 1 0 2.7 0a1.35 1.35 0 1 0-2.7 0M88.4 328.6a1.35 1.35 0 1 0 2.7 0a1.35 1.35 0 1 0-2.7 0M88.7 310.7a1.35 1.35 0 1 0 2.7 0a1.35 1.35 0 1 0-2.7 0M89.1 342.2a1.35 1.35 0 1 0 2.7 0a1.35 1.35 0 1 0-2.7 0M89.2 328.6a1.35 1.35 0 1 0 2.7 0a1.35 1.35 0 1 0-2.7 0M89.2 315.0a1.35 1.35 0 1 0 2.7 0a1.35 1.35 0 1 0-2.7 0M89.2 320.7a1.35 1.35 0 1 0 2.7 0a1.35 1.35 0 1 0-2.7 0M90.0 328.6a1.35 1.35 0 1 0 2.7 0a1.35 1.35 0 1 0-2.7 0M90.0 342.2a1.35 1.35 0 1 0 2.7 0a1.35 1.35 0 1 0-2.7 0M90.1 315.0a1.35 1.35 0 1 0 2.7 0a1.35 1.35 0 1 0-2.7 0M90.1 320.7a1.35 1.35 0 1 0 2.7 0a1.35 1.35 0 1 0-2.7 0M90.9 315.0a1.35 1.35 0 1 0 2.7 0a1.35 1.35 0 1 0-2.7 0M90.9 320.7a1.35 1.35 0 1 0 2.7 0a1.35 1.35 0 1 0-2.7 0M91.1 328.6a1.35 1.35 0 1 0 2.7 0a1.35 1.35 0 1 0-2.7 0M91.1 342.2a1.35 1.35 0 1 0 2.7 0a1.35 1.35 0 1 0-2.7 0M91.8 342.2a1.35 1.35 0 1 0 2.7 0a1.35 1.35 0 1 0-2.7 0M91.8 315.0a1.35 1.35 0 1 0 2.7 0a1.35 1.35 0 1 0-2.7 0M91.8 320.7a1.35 1.35 0 1 0 2.7 0a1.35 1.35 0 1 0-2.7 0M92.0 328.6a1.35 1.35 0 1 0 2.7 0a1.35 1.35 0 1 0-2.7 0M92.5 310.7a1.35 1.35 0 1 0 2.7 0a1.35 1.35 0 1 0-2.7 0M92.7 342.2a1.35 1.35 0 1 0 2.7 0a1.35 1.35 0 1 0-2.7 0M92.8 328.6a1.35 1.35 0 1 0 2.7 0a1.35 1.35 0 1 0-2.7 0M93.3 320.7a1.35 1.35 0 1 0 2.7 0a1.35 1.35 0 1 0-2.7 0M93.6 320.7a1.35 1.35 0 1 0 2.7 0a1.35 1.35 0 1 0-2.7 0M93.6 328.6a1.35 1.35 0 1 0 2.7 0a1.35 1.35 0 1 0-2.7 0M93.6 315.0a1.35 1.35 0 1 0 2.7 0a1.35 1.35 0 1 0-2.7 0M93.7 342.2a1.35 1.35 0 1 0 2.7 0a1.35 1.35 0 1 0-2.7 0M94.5 328.6a1.35 1.35 0 1 0 2.7 0a1.35 1.35 0 1 0-2.7 0M94.5 307.1a1.35 1.35 0 1 0 2.7 0a1.35 1.35 0 1 0-2.7 0M94.6 342.2a1.35 1.35 0 1 0 2.7 0a1.35 1.35 0 1 0-2.7 0M94.6 315.0a1.35 1.35 0 1 0 2.7 0a1.35 1.35 0 1 0-2.7 0M94.8 320.7a1.35 1.35 0 1 0 2.7 0a1.35 1.35 0 1 0-2.7 0M95.5 342.2a1.35 1.35 0 1 0 2.7 0a1.35 1.35 0 1 0-2.7 0M95.5 328.6a1.35 1.35 0 1 0 2.7 0a1.35 1.35 0 1 0-2.7 0M95.6 320.7a1.35 1.35 0 1 0 2.7 0a1.35 1.35 0 1 0-2.7 0M96.3 315.0a1.35 1.35 0 1 0 2.7 0a1.35 1.35 0 1 0-2.7 0M96.3 342.2a1.35 1.35 0 1 0 2.7 0a1.35 1.35 0 1 0-2.7 0M96.4 328.6a1.35 1.35 0 1 0 2.7 0a1.35 1.35 0 1 0-2.7 0M97.0 320.7a1.35 1.35 0 1 0 2.7 0a1.35 1.35 0 1 0-2.7 0M97.2 342.2a1.35 1.35 0 1 0 2.7 0a1.35 1.35 0 1 0-2.7 0M97.3 320.7a1.35 1.35 0 1 0 2.7 0a1.35 1.35 0 1 0-2.7 0M97.3 328.6a1.35 1.35 0 1 0 2.7 0a1.35 1.35 0 1 0-2.7 0M98.0 315.0a1.35 1.35 0 1 0 2.7 0a1.35 1.35 0 1 0-2.7 0M98.1 342.2a1.35 1.35 0 1 0 2.7 0a1.35 1.35 0 1 0-2.7 0M98.3 315.0a1.35 1.35 0 1 0 2.7 0a1.35 1.35 0 1 0-2.7 0M98.5 328.6a1.35 1.35 0 1 0 2.7 0a1.35 1.35 0 1 0-2.7 0M99.1 342.2a1.35 1.35 0 1 0 2.7 0a1.35 1.35 0 1 0-2.7 0M99.2 328.6a1.35 1.35 0 1 0 2.7 0a1.35 1.35 0 1 0-2.7 0M99.9 342.2a1.35 1.35 0 1 0 2.7 0a1.35 1.35 0 1 0-2.7 0M100.0 328.6a1.35 1.35 0 1 0 2.7 0a1.35 1.35 0 1 0-2.7 0M100.1 320.7a1.35 1.35 0 1 0 2.7 0a1.35 1.35 0 1 0-2.7 0M100.8 342.2a1.35 1.35 0 1 0 2.7 0a1.35 1.35 0 1 0-2.7 0M101.1 328.6a1.35 1.35 0 1 0 2.7 0a1.35 1.35 0 1 0-2.7 0M101.2 320.7a1.35 1.35 0 1 0 2.7 0a1.35 1.35 0 1 0-2.7 0M101.7 342.2a1.35 1.35 0 1 0 2.7 0a1.35 1.35 0 1 0-2.7 0M101.9 328.6a1.35 1.35 0 1 0 2.7 0a1.35 1.35 0 1 0-2.7 0M102.6 342.2a1.35 1.35 0 1 0 2.7 0a1.35 1.35 0 1 0-2.7 0M102.7 328.6a1.35 1.35 0 1 0 2.7 0a1.35 1.35 0 1 0-2.7 0M102.8 320.7a1.35 1.35 0 1 0 2.7 0a1.35 1.35 0 1 0-2.7 0M103.5 342.2a1.35 1.35 0 1 0 2.7 0a1.35 1.35 0 1 0-2.7 0M103.6 320.7a1.35 1.35 0 1 0 2.7 0a1.35 1.35 0 1 0-2.7 0M103.9 328.6a1.35 1.35 0 1 0 2.7 0a1.35 1.35 0 1 0-2.7 0M104.5 328.6a1.35 1.35 0 1 0 2.7 0a1.35 1.35 0 1 0-2.7 0M104.5 342.2a1.35 1.35 0 1 0 2.7 0a1.35 1.35 0 1 0-2.7 0M105.4 342.2a1.35 1.35 0 1 0 2.7 0a1.35 1.35 0 1 0-2.7 0M105.5 328.6a1.35 1.35 0 1 0 2.7 0a1.35 1.35 0 1 0-2.7 0M106.2 342.2a1.35 1.35 0 1 0 2.7 0a1.35 1.35 0 1 0-2.7 0M106.3 328.6a1.35 1.35 0 1 0 2.7 0a1.35 1.35 0 1 0-2.7 0M107.2 342.2a1.35 1.35 0 1 0 2.7 0a1.35 1.35 0 1 0-2.7 0M107.4 320.7a1.35 1.35 0 1 0 2.7 0a1.35 1.35 0 1 0-2.7 0M107.7 328.6a1.35 1.35 0 1 0 2.7 0a1.35 1.35 0 1 0-2.7 0M108.1 328.6a1.35 1.35 0 1 0 2.7 0a1.35 1.35 0 1 0-2.7 0M108.1 342.2a1.35 1.35 0 1 0 2.7 0a1.35 1.35 0 1 0-2.7 0M109.0 342.2a1.35 1.35 0 1 0 2.7 0a1.35 1.35 0 1 0-2.7 0M109.1 328.6a1.35 1.35 0 1 0 2.7 0a1.35 1.35 0 1 0-2.7 0M109.7 320.7a1.35 1.35 0 1 0 2.7 0a1.35 1.35 0 1 0-2.7 0M109.8 342.2a1.35 1.35 0 1 0 2.7 0a1.35 1.35 0 1 0-2.7 0M109.8 328.6a1.35 1.35 0 1 0 2.7 0a1.35 1.35 0 1 0-2.7 0M110.7 342.2a1.35 1.35 0 1 0 2.7 0a1.35 1.35 0 1 0-2.7 0M110.8 328.6a1.35 1.35 0 1 0 2.7 0a1.35 1.35 0 1 0-2.7 0M111.0 320.7a1.35 1.35 0 1 0 2.7 0a1.35 1.35 0 1 0-2.7 0M111.7 342.2a1.35 1.35 0 1 0 2.7 0a1.35 1.35 0 1 0-2.7 0M111.7 328.6a1.35 1.35 0 1 0 2.7 0a1.35 1.35 0 1 0-2.7 0M112.6 342.2a1.35 1.35 0 1 0 2.7 0a1.35 1.35 0 1 0-2.7 0M112.7 328.6a1.35 1.35 0 1 0 2.7 0a1.35 1.35 0 1 0-2.7 0M113.4 342.2a1.35 1.35 0 1 0 2.7 0a1.35 1.35 0 1 0-2.7 0M113.8 328.6a1.35 1.35 0 1 0 2.7 0a1.35 1.35 0 1 0-2.7 0M114.2 320.7a1.35 1.35 0 1 0 2.7 0a1.35 1.35 0 1 0-2.7 0M114.4 342.2a1.35 1.35 0 1 0 2.7 0a1.35 1.35 0 1 0-2.7 0M114.8 328.6a1.35 1.35 0 1 0 2.7 0a1.35 1.35 0 1 0-2.7 0M115.2 342.2a1.35 1.35 0 1 0 2.7 0a1.35 1.35 0 1 0-2.7 0M115.4 320.7a1.35 1.35 0 1 0 2.7 0a1.35 1.35 0 1 0-2.7 0M115.6 328.6a1.35 1.35 0 1 0 2.7 0a1.35 1.35 0 1 0-2.7 0M116.2 328.6a1.35 1.35 0 1 0 2.7 0a1.35 1.35 0 1 0-2.7 0M116.3 342.2a1.35 1.35 0 1 0 2.7 0a1.35 1.35 0 1 0-2.7 0M117.0 342.2a1.35 1.35 0 1 0 2.7 0a1.35 1.35 0 1 0-2.7 0M117.3 320.7a1.35 1.35 0 1 0 2.7 0a1.35 1.35 0 1 0-2.7 0M117.9 342.2a1.35 1.35 0 1 0 2.7 0a1.35 1.35 0 1 0-2.7 0M118.1 328.6a1.35 1.35 0 1 0 2.7 0a1.35 1.35 0 1 0-2.7 0M118.8 342.2a1.35 1.35 0 1 0 2.7 0a1.35 1.35 0 1 0-2.7 0M119.6 328.6a1.35 1.35 0 1 0 2.7 0a1.35 1.35 0 1 0-2.7 0M119.8 342.2a1.35 1.35 0 1 0 2.7 0a1.35 1.35 0 1 0-2.7 0M120.7 342.2a1.35 1.35 0 1 0 2.7 0a1.35 1.35 0 1 0-2.7 0M121.1 328.6a1.35 1.35 0 1 0 2.7 0a1.35 1.35 0 1 0-2.7 0M121.6 342.2a1.35 1.35 0 1 0 2.7 0a1.35 1.35 0 1 0-2.7 0M122.4 342.2a1.35 1.35 0 1 0 2.7 0a1.35 1.35 0 1 0-2.7 0M122.8 328.6a1.35 1.35 0 1 0 2.7 0a1.35 1.35 0 1 0-2.7 0M122.9 320.7a1.35 1.35 0 1 0 2.7 0a1.35 1.35 0 1 0-2.7 0M123.4 342.2a1.35 1.35 0 1 0 2.7 0a1.35 1.35 0 1 0-2.7 0M124.3 328.6a1.35 1.35 0 1 0 2.7 0a1.35 1.35 0 1 0-2.7 0M124.3 342.2a1.35 1.35 0 1 0 2.7 0a1.35 1.35 0 1 0-2.7 0M125.2 328.6a1.35 1.35 0 1 0 2.7 0a1.35 1.35 0 1 0-2.7 0M125.4 342.2a1.35 1.35 0 1 0 2.7 0a1.35 1.35 0 1 0-2.7 0M126.0 328.6a1.35 1.35 0 1 0 2.7 0a1.35 1.35 0 1 0-2.7 0M126.2 342.2a1.35 1.35 0 1 0 2.7 0a1.35 1.35 0 1 0-2.7 0M126.9 342.2a1.35 1.35 0 1 0 2.7 0a1.35 1.35 0 1 0-2.7 0M127.8 342.2a1.35 1.35 0 1 0 2.7 0a1.35 1.35 0 1 0-2.7 0M128.1 328.6a1.35 1.35 0 1 0 2.7 0a1.35 1.35 0 1 0-2.7 0M128.7 342.2a1.35 1.35 0 1 0 2.7 0a1.35 1.35 0 1 0-2.7 0M128.8 328.6a1.35 1.35 0 1 0 2.7 0a1.35 1.35 0 1 0-2.7 0M129.6 342.2a1.35 1.35 0 1 0 2.7 0a1.35 1.35 0 1 0-2.7 0M130.6 342.2a1.35 1.35 0 1 0 2.7 0a1.35 1.35 0 1 0-2.7 0M131.5 328.6a1.35 1.35 0 1 0 2.7 0a1.35 1.35 0 1 0-2.7 0M131.9 342.2a1.35 1.35 0 1 0 2.7 0a1.35 1.35 0 1 0-2.7 0M132.3 342.2a1.35 1.35 0 1 0 2.7 0a1.35 1.35 0 1 0-2.7 0M133.0 328.6a1.35 1.35 0 1 0 2.7 0a1.35 1.35 0 1 0-2.7 0M133.4 342.2a1.35 1.35 0 1 0 2.7 0a1.35 1.35 0 1 0-2.7 0M134.1 320.7a1.35 1.35 0 1 0 2.7 0a1.35 1.35 0 1 0-2.7 0M134.1 342.2a1.35 1.35 0 1 0 2.7 0a1.35 1.35 0 1 0-2.7 0M135.1 342.2a1.35 1.35 0 1 0 2.7 0a1.35 1.35 0 1 0-2.7 0M136.5 342.2a1.35 1.35 0 1 0 2.7 0a1.35 1.35 0 1 0-2.7 0M137.2 342.2a1.35 1.35 0 1 0 2.7 0a1.35 1.35 0 1 0-2.7 0M137.9 342.2a1.35 1.35 0 1 0 2.7 0a1.35 1.35 0 1 0-2.7 0M138.6 342.2a1.35 1.35 0 1 0 2.7 0a1.35 1.35 0 1 0-2.7 0M139.4 328.6a1.35 1.35 0 1 0 2.7 0a1.35 1.35 0 1 0-2.7 0M139.6 342.2a1.35 1.35 0 1 0 2.7 0a1.35 1.35 0 1 0-2.7 0M140.9 328.6a1.35 1.35 0 1 0 2.7 0a1.35 1.35 0 1 0-2.7 0M140.9 342.2a1.35 1.35 0 1 0 2.7 0a1.35 1.35 0 1 0-2.7 0M141.4 342.2a1.35 1.35 0 1 0 2.7 0a1.35 1.35 0 1 0-2.7 0M141.7 328.6a1.35 1.35 0 1 0 2.7 0a1.35 1.35 0 1 0-2.7 0M142.2 342.2a1.35 1.35 0 1 0 2.7 0a1.35 1.35 0 1 0-2.7 0M142.4 328.6a1.35 1.35 0 1 0 2.7 0a1.35 1.35 0 1 0-2.7 0M143.1 342.2a1.35 1.35 0 1 0 2.7 0a1.35 1.35 0 1 0-2.7 0M143.5 328.6a1.35 1.35 0 1 0 2.7 0a1.35 1.35 0 1 0-2.7 0M144.0 328.6a1.35 1.35 0 1 0 2.7 0a1.35 1.35 0 1 0-2.7 0M144.1 342.2a1.35 1.35 0 1 0 2.7 0a1.35 1.35 0 1 0-2.7 0M145.1 342.2a1.35 1.35 0 1 0 2.7 0a1.35 1.35 0 1 0-2.7 0M145.2 328.6a1.35 1.35 0 1 0 2.7 0a1.35 1.35 0 1 0-2.7 0M145.9 342.2a1.35 1.35 0 1 0 2.7 0a1.35 1.35 0 1 0-2.7 0M146.8 342.2a1.35 1.35 0 1 0 2.7 0a1.35 1.35 0 1 0-2.7 0M147.1 328.6a1.35 1.35 0 1 0 2.7 0a1.35 1.35 0 1 0-2.7 0M147.6 342.2a1.35 1.35 0 1 0 2.7 0a1.35 1.35 0 1 0-2.7 0M147.9 328.6a1.35 1.35 0 1 0 2.7 0a1.35 1.35 0 1 0-2.7 0M148.8 342.2a1.35 1.35 0 1 0 2.7 0a1.35 1.35 0 1 0-2.7 0M149.4 342.2a1.35 1.35 0 1 0 2.7 0a1.35 1.35 0 1 0-2.7 0M149.9 320.7a1.35 1.35 0 1 0 2.7 0a1.35 1.35 0 1 0-2.7 0M150.5 342.2a1.35 1.35 0 1 0 2.7 0a1.35 1.35 0 1 0-2.7 0M151.3 328.6a1.35 1.35 0 1 0 2.7 0a1.35 1.35 0 1 0-2.7 0M151.5 342.2a1.35 1.35 0 1 0 2.7 0a1.35 1.35 0 1 0-2.7 0M152.1 342.2a1.35 1.35 0 1 0 2.7 0a1.35 1.35 0 1 0-2.7 0M153.0 342.2a1.35 1.35 0 1 0 2.7 0a1.35 1.35 0 1 0-2.7 0M153.9 342.2a1.35 1.35 0 1 0 2.7 0a1.35 1.35 0 1 0-2.7 0M153.9 328.6a1.35 1.35 0 1 0 2.7 0a1.35 1.35 0 1 0-2.7 0M155.0 342.2a1.35 1.35 0 1 0 2.7 0a1.35 1.35 0 1 0-2.7 0M155.8 342.2a1.35 1.35 0 1 0 2.7 0a1.35 1.35 0 1 0-2.7 0M156.0 328.6a1.35 1.35 0 1 0 2.7 0a1.35 1.35 0 1 0-2.7 0M156.7 342.2a1.35 1.35 0 1 0 2.7 0a1.35 1.35 0 1 0-2.7 0M157.6 342.2a1.35 1.35 0 1 0 2.7 0a1.35 1.35 0 1 0-2.7 0M158.5 342.2a1.35 1.35 0 1 0 2.7 0a1.35 1.35 0 1 0-2.7 0M158.9 328.6a1.35 1.35 0 1 0 2.7 0a1.35 1.35 0 1 0-2.7 0M159.3 342.2a1.35 1.35 0 1 0 2.7 0a1.35 1.35 0 1 0-2.7 0M160.8 342.2a1.35 1.35 0 1 0 2.7 0a1.35 1.35 0 1 0-2.7 0M161.2 342.2a1.35 1.35 0 1 0 2.7 0a1.35 1.35 0 1 0-2.7 0M162.2 342.2a1.35 1.35 0 1 0 2.7 0a1.35 1.35 0 1 0-2.7 0M163.2 342.2a1.35 1.35 0 1 0 2.7 0a1.35 1.35 0 1 0-2.7 0M163.8 342.2a1.35 1.35 0 1 0 2.7 0a1.35 1.35 0 1 0-2.7 0M164.2 328.6a1.35 1.35 0 1 0 2.7 0a1.35 1.35 0 1 0-2.7 0M164.8 342.2a1.35 1.35 0 1 0 2.7 0a1.35 1.35 0 1 0-2.7 0M165.4 328.6a1.35 1.35 0 1 0 2.7 0a1.35 1.35 0 1 0-2.7 0M166.4 342.2a1.35 1.35 0 1 0 2.7 0a1.35 1.35 0 1 0-2.7 0M166.6 342.2a1.35 1.35 0 1 0 2.7 0a1.35 1.35 0 1 0-2.7 0M167.4 328.6a1.35 1.35 0 1 0 2.7 0a1.35 1.35 0 1 0-2.7 0M167.9 342.2a1.35 1.35 0 1 0 2.7 0a1.35 1.35 0 1 0-2.7 0M168.5 342.2a1.35 1.35 0 1 0 2.7 0a1.35 1.35 0 1 0-2.7 0M169.2 342.2a1.35 1.35 0 1 0 2.7 0a1.35 1.35 0 1 0-2.7 0M169.5 328.6a1.35 1.35 0 1 0 2.7 0a1.35 1.35 0 1 0-2.7 0M170.3 342.2a1.35 1.35 0 1 0 2.7 0a1.35 1.35 0 1 0-2.7 0M171.1 342.2a1.35 1.35 0 1 0 2.7 0a1.35 1.35 0 1 0-2.7 0M172.4 342.2a1.35 1.35 0 1 0 2.7 0a1.35 1.35 0 1 0-2.7 0M172.5 328.6a1.35 1.35 0 1 0 2.7 0a1.35 1.35 0 1 0-2.7 0M172.8 342.2a1.35 1.35 0 1 0 2.7 0a1.35 1.35 0 1 0-2.7 0M173.7 328.6a1.35 1.35 0 1 0 2.7 0a1.35 1.35 0 1 0-2.7 0M173.9 342.2a1.35 1.35 0 1 0 2.7 0a1.35 1.35 0 1 0-2.7 0M174.6 342.2a1.35 1.35 0 1 0 2.7 0a1.35 1.35 0 1 0-2.7 0M174.9 328.6a1.35 1.35 0 1 0 2.7 0a1.35 1.35 0 1 0-2.7 0M175.5 342.2a1.35 1.35 0 1 0 2.7 0a1.35 1.35 0 1 0-2.7 0M176.6 342.2a1.35 1.35 0 1 0 2.7 0a1.35 1.35 0 1 0-2.7 0M177.4 342.2a1.35 1.35 0 1 0 2.7 0a1.35 1.35 0 1 0-2.7 0M178.3 342.2a1.35 1.35 0 1 0 2.7 0a1.35 1.35 0 1 0-2.7 0M179.5 328.6a1.35 1.35 0 1 0 2.7 0a1.35 1.35 0 1 0-2.7 0M180.0 342.2a1.35 1.35 0 1 0 2.7 0a1.35 1.35 0 1 0-2.7 0M180.1 342.2a1.35 1.35 0 1 0 2.7 0a1.35 1.35 0 1 0-2.7 0M180.9 342.2a1.35 1.35 0 1 0 2.7 0a1.35 1.35 0 1 0-2.7 0M181.6 328.6a1.35 1.35 0 1 0 2.7 0a1.35 1.35 0 1 0-2.7 0M181.9 342.2a1.35 1.35 0 1 0 2.7 0a1.35 1.35 0 1 0-2.7 0M182.8 342.2a1.35 1.35 0 1 0 2.7 0a1.35 1.35 0 1 0-2.7 0M184.2 342.2a1.35 1.35 0 1 0 2.7 0a1.35 1.35 0 1 0-2.7 0M184.6 342.2a1.35 1.35 0 1 0 2.7 0a1.35 1.35 0 1 0-2.7 0M185.5 342.2a1.35 1.35 0 1 0 2.7 0a1.35 1.35 0 1 0-2.7 0M185.8 328.6a1.35 1.35 0 1 0 2.7 0a1.35 1.35 0 1 0-2.7 0M186.5 342.2a1.35 1.35 0 1 0 2.7 0a1.35 1.35 0 1 0-2.7 0M186.8 328.6a1.35 1.35 0 1 0 2.7 0a1.35 1.35 0 1 0-2.7 0M187.3 328.6a1.35 1.35 0 1 0 2.7 0a1.35 1.35 0 1 0-2.7 0M187.7 342.2a1.35 1.35 0 1 0 2.7 0a1.35 1.35 0 1 0-2.7 0M188.5 342.2a1.35 1.35 0 1 0 2.7 0a1.35 1.35 0 1 0-2.7 0M189.2 328.6a1.35 1.35 0 1 0 2.7 0a1.35 1.35 0 1 0-2.7 0M189.4 342.2a1.35 1.35 0 1 0 2.7 0a1.35 1.35 0 1 0-2.7 0M190.0 342.2a1.35 1.35 0 1 0 2.7 0a1.35 1.35 0 1 0-2.7 0M191.2 342.2a1.35 1.35 0 1 0 2.7 0a1.35 1.35 0 1 0-2.7 0M191.7 342.2a1.35 1.35 0 1 0 2.7 0a1.35 1.35 0 1 0-2.7 0M193.0 342.2a1.35 1.35 0 1 0 2.7 0a1.35 1.35 0 1 0-2.7 0M193.5 342.2a1.35 1.35 0 1 0 2.7 0a1.35 1.35 0 1 0-2.7 0M194.1 328.6a1.35 1.35 0 1 0 2.7 0a1.35 1.35 0 1 0-2.7 0M194.5 342.2a1.35 1.35 0 1 0 2.7 0a1.35 1.35 0 1 0-2.7 0M195.3 342.2a1.35 1.35 0 1 0 2.7 0a1.35 1.35 0 1 0-2.7 0M196.3 342.2a1.35 1.35 0 1 0 2.7 0a1.35 1.35 0 1 0-2.7 0M197.3 342.2a1.35 1.35 0 1 0 2.7 0a1.35 1.35 0 1 0-2.7 0M198.5 342.2a1.35 1.35 0 1 0 2.7 0a1.35 1.35 0 1 0-2.7 0M198.7 328.6a1.35 1.35 0 1 0 2.7 0a1.35 1.35 0 1 0-2.7 0M199.2 342.2a1.35 1.35 0 1 0 2.7 0a1.35 1.35 0 1 0-2.7 0M199.8 342.2a1.35 1.35 0 1 0 2.7 0a1.35 1.35 0 1 0-2.7 0M200.9 342.2a1.35 1.35 0 1 0 2.7 0a1.35 1.35 0 1 0-2.7 0M201.1 328.6a1.35 1.35 0 1 0 2.7 0a1.35 1.35 0 1 0-2.7 0M202.1 342.2a1.35 1.35 0 1 0 2.7 0a1.35 1.35 0 1 0-2.7 0M202.6 342.2a1.35 1.35 0 1 0 2.7 0a1.35 1.35 0 1 0-2.7 0M203.6 328.6a1.35 1.35 0 1 0 2.7 0a1.35 1.35 0 1 0-2.7 0M203.8 342.2a1.35 1.35 0 1 0 2.7 0a1.35 1.35 0 1 0-2.7 0M204.5 342.2a1.35 1.35 0 1 0 2.7 0a1.35 1.35 0 1 0-2.7 0M205.7 342.2a1.35 1.35 0 1 0 2.7 0a1.35 1.35 0 1 0-2.7 0M206.2 342.2a1.35 1.35 0 1 0 2.7 0a1.35 1.35 0 1 0-2.7 0M207.1 342.2a1.35 1.35 0 1 0 2.7 0a1.35 1.35 0 1 0-2.7 0M208.0 342.2a1.35 1.35 0 1 0 2.7 0a1.35 1.35 0 1 0-2.7 0M208.8 342.2a1.35 1.35 0 1 0 2.7 0a1.35 1.35 0 1 0-2.7 0M209.7 342.2a1.35 1.35 0 1 0 2.7 0a1.35 1.35 0 1 0-2.7 0M210.5 328.6a1.35 1.35 0 1 0 2.7 0a1.35 1.35 0 1 0-2.7 0M210.8 342.2a1.35 1.35 0 1 0 2.7 0a1.35 1.35 0 1 0-2.7 0M211.5 342.2a1.35 1.35 0 1 0 2.7 0a1.35 1.35 0 1 0-2.7 0M212.4 342.2a1.35 1.35 0 1 0 2.7 0a1.35 1.35 0 1 0-2.7 0M213.5 342.2a1.35 1.35 0 1 0 2.7 0a1.35 1.35 0 1 0-2.7 0M214.2 342.2a1.35 1.35 0 1 0 2.7 0a1.35 1.35 0 1 0-2.7 0M215.1 328.6a1.35 1.35 0 1 0 2.7 0a1.35 1.35 0 1 0-2.7 0M215.1 342.2a1.35 1.35 0 1 0 2.7 0a1.35 1.35 0 1 0-2.7 0M216.1 342.2a1.35 1.35 0 1 0 2.7 0a1.35 1.35 0 1 0-2.7 0M217.0 342.2a1.35 1.35 0 1 0 2.7 0a1.35 1.35 0 1 0-2.7 0M217.6 328.6a1.35 1.35 0 1 0 2.7 0a1.35 1.35 0 1 0-2.7 0M218.1 342.2a1.35 1.35 0 1 0 2.7 0a1.35 1.35 0 1 0-2.7 0M218.6 328.6a1.35 1.35 0 1 0 2.7 0a1.35 1.35 0 1 0-2.7 0M218.9 342.2a1.35 1.35 0 1 0 2.7 0a1.35 1.35 0 1 0-2.7 0" fill="#fff" stroke="#eea868" stroke-width="0.55"/>
<defs><clipPath id="dclip"><rect x="35.4" y="203.5" width="185.7" height="149.8"/></clipPath></defs>
<polyline points="35.4,217.3 35.62,217.65 35.83,217.98 36.05,218.32 36.27,218.65 36.48,218.98 36.7,219.31 36.92,219.65 37.13,219.99 37.35,220.35 37.56,220.71 37.78,221.1 38,221.5 38.21,221.91 38.43,222.33 38.65,222.77 38.86,223.21 39.08,223.65 39.3,224.1 39.51,224.56 39.73,225.02 39.95,225.48 40.16,225.94 40.38,226.41 40.6,226.87 40.81,227.33 41.03,227.79 41.24,228.25 41.46,228.7 41.68,229.15 41.89,229.59 42.11,230.02 42.33,230.45 42.54,230.87 42.76,231.3 42.98,231.71 43.19,232.13 43.41,232.54 43.63,232.96 43.84,233.37 44.06,233.78 44.27,234.19 44.49,234.6 44.71,235.01 44.92,235.42 45.14,235.84 45.36,236.25 45.57,236.67 45.79,237.09 46.01,237.51 46.22,237.94 46.44,238.37 46.66,238.81 46.87,239.24 47.09,239.68 47.31,240.12 47.52,240.57 47.74,241.01 47.95,241.45 48.17,241.89 48.39,242.33 48.6,242.77 48.82,243.21 49.04,243.64 49.25,244.06 49.47,244.49 49.69,244.91 49.9,245.32 50.12,245.72 50.34,246.13 50.55,246.54 50.77,246.94 50.99,247.35 51.2,247.75 51.42,248.15 51.63,248.55 51.85,248.94 52.07,249.33 52.28,249.71 52.5,250.09 52.72,250.46 52.93,250.83 53.15,251.18 53.37,251.53 53.58,251.87 53.8,252.2 54.02,252.52 54.23,252.84 54.45,253.14 54.67,253.44 54.88,253.74 55.1,254.03 55.31,254.31 55.53,254.59 55.75,254.87 55.96,255.15 56.18,255.42 56.4,255.68 56.61,255.95 56.83,256.21 57.05,256.47 57.26,256.73 57.48,256.99 57.7,257.25 57.91,257.51 58.13,257.77 58.35,258.03 58.56,258.28 58.78,258.55 58.99,258.81 59.21,259.07 59.43,259.34 59.64,259.6 59.86,259.88 60.08,260.15 60.29,260.42 60.51,260.7 60.73,260.97 60.94,261.25 61.16,261.52 61.38,261.8 61.59,262.07 61.81,262.35 62.02,262.62 62.24,262.9 62.46,263.18 62.67,263.45 62.89,263.73 63.11,264 63.32,264.27 63.54,264.55 63.76,264.82 63.97,265.09 64.19,265.36 64.41,265.63 64.62,265.9 64.84,266.17 65.06,266.44 65.27,266.7 65.49,266.96 65.7,267.23 65.92,267.49 66.14,267.74 66.35,268 66.57,268.26 66.79,268.52 67,268.78 67.22,269.03 67.44,269.29 67.65,269.55 67.87,269.8 68.09,270.06 68.3,270.32 68.52,270.57 68.74,270.83 68.95,271.08 69.17,271.34 69.38,271.59 69.6,271.85 69.82,272.1 70.03,272.35 70.25,272.61 70.47,272.86 70.68,273.11 70.9,273.36 71.12,273.61 71.33,273.85 71.55,274.1 71.77,274.35 71.98,274.59 72.2,274.84 72.42,275.08 72.63,275.32 72.85,275.57 73.06,275.81 73.28,276.05 73.5,276.28 73.71,276.52 73.93,276.76 74.15,276.99 74.36,277.22 74.58,277.45 74.8,277.68 75.01,277.91 75.23,278.14 75.45,278.36 75.66,278.58 75.88,278.8 76.09,279.02 76.31,279.23 76.53,279.44 76.74,279.65 76.96,279.86 77.18,280.06 77.39,280.26 77.61,280.47 77.83,280.67 78.04,280.87 78.26,281.07 78.48,281.26 78.69,281.46 78.91,281.66 79.13,281.86 79.34,282.05 79.56,282.25 79.77,282.45 79.99,282.64 80.21,282.84 80.42,283.04 80.64,283.24 80.86,283.44 81.07,283.64 81.29,283.84 81.51,284.04 81.72,284.25 81.94,284.46 82.16,284.67 82.37,284.88 82.59,285.09 82.81,285.3 83.02,285.52 83.24,285.74 83.45,285.96 83.67,286.18 83.89,286.4 84.1,286.62 84.32,286.85 84.54,287.07 84.75,287.29 84.97,287.52 85.19,287.74 85.4,287.97 85.62,288.2 85.84,288.42 86.05,288.65 86.27,288.88 86.49,289.11 86.7,289.34 86.92,289.57 87.13,289.8 87.35,290.03 87.57,290.27 87.78,290.5 88,290.73 88.22,290.97 88.43,291.2 88.65,291.44 88.87,291.67 89.08,291.91 89.3,292.14 89.52,292.38 89.73,292.62 89.95,292.86 90.17,293.1 90.38,293.34 90.6,293.58 90.81,293.82 91.03,294.06 91.25,294.31 91.46,294.55 91.68,294.81 91.9,295.06 92.11,295.32 92.33,295.58 92.55,295.84 92.76,296.1 92.98,296.37 93.2,296.63 93.41,296.9 93.63,297.16 93.84,297.43 94.06,297.69 94.28,297.95 94.49,298.21 94.71,298.47 94.93,298.72 95.14,298.98 95.36,299.23 95.58,299.47 95.79,299.72 96.01,299.96 96.23,300.2 96.44,300.45 96.66,300.69 96.88,300.93 97.09,301.17 97.31,301.4 97.52,301.64 97.74,301.88 97.96,302.11 98.17,302.35 98.39,302.58 98.61,302.81 98.82,303.04 99.04,303.27 99.26,303.5 99.47,303.73 99.69,303.96 99.91,304.18 100.12,304.41 100.34,304.63 100.56,304.85 100.77,305.07 100.99,305.29 101.2,305.51 101.42,305.73 101.64,305.95 101.85,306.17 102.07,306.39 102.29,306.61 102.5,306.83 102.72,307.05 102.94,307.27 103.15,307.49 103.37,307.71 103.59,307.94 103.8,308.16 104.02,308.38 104.24,308.6 104.45,308.82 104.67,309.04 104.88,309.26 105.1,309.48 105.32,309.7 105.53,309.92 105.75,310.14 105.97,310.36 106.18,310.58 106.4,310.8 106.62,311.02 106.83,311.24 107.05,311.46 107.27,311.68 107.48,311.9 107.7,312.12 107.92,312.34 108.13,312.56 108.35,312.77 108.56,312.99 108.78,313.21 109,313.43 109.21,313.64 109.43,313.86 109.65,314.08 109.86,314.29 110.08,314.51 110.3,314.73 110.51,314.94 110.73,315.16 110.95,315.37 111.16,315.59 111.38,315.8 111.59,316.01 111.81,316.23 112.03,316.44 112.24,316.65 112.46,316.86 112.68,317.07 112.89,317.28 113.11,317.49 113.33,317.7 113.54,317.91 113.76,318.12 113.98,318.33 114.19,318.54 114.41,318.75 114.63,318.95 114.84,319.16 115.06,319.36 115.27,319.57 115.49,319.77 115.71,319.98 115.92,320.18 116.14,320.38 116.36,320.58 116.57,320.78 116.79,320.98 117.01,321.18 117.22,321.38 117.44,321.58 117.66,321.78 117.87,321.98 118.09,322.18 118.31,322.38 118.52,322.58 118.74,322.78 118.95,322.97 119.17,323.17 119.39,323.37 119.6,323.57 119.82,323.76 120.04,323.96 120.25,324.16 120.47,324.35 120.69,324.55 120.9,324.74 121.12,324.94 121.34,325.13 121.55,325.33 121.77,325.52 121.99,325.71 122.2,325.91 122.42,326.1 122.63,326.29 122.85,326.48 123.07,326.67 123.28,326.86 123.5,327.05 123.72,327.24 123.93,327.43 124.15,327.62 124.37,327.81 124.58,328 124.8,328.18 125.02,328.37 125.23,328.56 125.45,328.74 125.66,328.93 125.88,329.11 126.1,329.29 126.31,329.48 126.53,329.66 126.75,329.84 126.96,330.02 127.18,330.2 127.4,330.38 127.61,330.56 127.83,330.74 128.05,330.92 128.26,331.09 128.48,331.27 128.7,331.45 128.91,331.62 129.13,331.8 129.34,331.97 129.56,332.14 129.78,332.31 129.99,332.48 130.21,332.65 130.43,332.82 130.64,332.99 130.86,333.16 131.08,333.33 131.29,333.49 131.51,333.66 131.73,333.82 131.94,333.98 132.16,334.15 132.38,334.31 132.59,334.47 132.81,334.63 133.02,334.78 133.24,334.94 133.46,335.09 133.67,335.24 133.89,335.39 134.11,335.54 134.32,335.69 134.54,335.84 134.76,335.98 134.97,336.12 135.19,336.26 135.41,336.4 135.62,336.54 135.84,336.68 136.06,336.82 136.27,336.95 136.49,337.08 136.7,337.22 136.92,337.35 137.14,337.48 137.35,337.61 137.57,337.74 137.79,337.87 138,337.99 138.22,338.12 138.44,338.24 138.65,338.37 138.87,338.49 139.09,338.61 139.3,338.74 139.52,338.86 139.74,338.98 139.95,339.1 140.17,339.22 140.38,339.34 140.6,339.46 140.82,339.58 141.03,339.7 141.25,339.81 141.47,339.93 141.68,340.05 141.9,340.17 142.12,340.29 142.33,340.4 142.55,340.52 142.77,340.64 142.98,340.75 143.2,340.87 143.41,340.99 143.63,341.11 143.85,341.22 144.06,341.34 144.28,341.46 144.5,341.58 144.71,341.7 144.93,341.82 145.15,341.94 145.36,342.05 145.58,342.17 145.8,342.29 146.01,342.41 146.23,342.53 146.45,342.65 146.66,342.76 146.88,342.88 147.09,343 147.31,343.11 147.53,343.23 147.74,343.34 147.96,343.46 148.18,343.57 148.39,343.69 148.61,343.8 148.83,343.91 149.04,344.03 149.26,344.14 149.48,344.25 149.69,344.36 149.91,344.47 150.13,344.58 150.34,344.68 150.56,344.79 150.77,344.9 150.99,345.01 151.21,345.11 151.42,345.21 151.64,345.32 151.86,345.42 152.07,345.52 152.29,345.62 152.51,345.72 152.72,345.82 152.94,345.92 153.16,346.02 153.37,346.11 153.59,346.21 153.81,346.3 154.02,346.39 154.24,346.49 154.45,346.58 154.67,346.67 154.89,346.75 155.1,346.84 155.32,346.93 155.54,347.01 155.75,347.1 155.97,347.18 156.19,347.27 156.4,347.35 156.62,347.44 156.84,347.52 157.05,347.6 157.27,347.69 157.48,347.77 157.7,347.85 157.92,347.93 158.13,348.01 158.35,348.09 158.57,348.17 158.78,348.24 159,348.32 159.22,348.4 159.43,348.48 159.65,348.55 159.87,348.63 160.08,348.7 160.3,348.78 160.52,348.85 160.73,348.92 160.95,348.99 161.16,349.07 161.38,349.14 161.6,349.21 161.81,349.28 162.03,349.35 162.25,349.41 162.46,349.48 162.68,349.55 162.9,349.61 163.11,349.68 163.33,349.74 163.55,349.81 163.76,349.87 163.98,349.93 164.2,350 164.41,350.06 164.63,350.12 164.84,350.18 165.06,350.24 165.28,350.3 165.49,350.35 165.71,350.41 165.93,350.46 166.14,350.52 166.36,350.57 166.58,350.63 166.79,350.68 167.01,350.73 167.23,350.78 167.44,350.83 167.66,350.88 167.88,350.93 168.09,350.98 168.31,351.03 168.52,351.07 168.74,351.12 168.96,351.16 169.17,351.21 169.39,351.25 169.61,351.3 169.82,351.34 170.04,351.38 170.26,351.42 170.47,351.47 170.69,351.51 170.91,351.55 171.12,351.59 171.34,351.62 171.56,351.66 171.77,351.7 171.99,351.74 172.2,351.78 172.42,351.81 172.64,351.85 172.85,351.88 173.07,351.92 173.29,351.96 173.5,351.99 173.72,352.02 173.94,352.06 174.15,352.09 174.37,352.12 174.59,352.16 174.8,352.19 175.02,352.22 175.23,352.25 175.45,352.29 175.67,352.32 175.88,352.35 176.1,352.38 176.32,352.41 176.53,352.44 176.75,352.47 176.97,352.5 177.18,352.53 177.4,352.56 177.62,352.59 177.83,352.62 178.05,352.65 178.27,352.68 178.48,352.7 178.7,352.73 178.91,352.76 179.13,352.79 179.35,352.82 179.56,352.85 179.78,352.88 180,352.9 180.21,352.93 180.43,352.96 180.65,352.99 180.86,353.02 181.08,353.05 181.3,353.07 181.51,353.1 181.73,353.13 181.95,353.16 182.16,353.19 182.38,353.22 182.59,353.25 182.81,353.27 183.03,353.3 183.24,353.33 183.46,353.36 183.68,353.39 183.89,353.42 184.11,353.45 184.33,353.48 184.54,353.51 184.76,353.54 184.98,353.57 185.19,353.6 185.41,353.63 185.63,353.65 185.84,353.68 186.06,353.71 186.27,353.74 186.49,353.77 186.71,353.8 186.92,353.83 187.14,353.86 187.36,353.89 187.57,353.92 187.79,353.94 188.01,353.97 188.22,354 188.44,354.03 188.66,354.06 188.87,354.09 189.09,354.11 189.31,354.14 189.52,354.17 189.74,354.2 189.95,354.22 190.17,354.25 190.39,354.28 190.6,354.3 190.82,354.33 191.04,354.36 191.25,354.38 191.47,354.41 191.69,354.44 191.9,354.46 192.12,354.49 192.34,354.51 192.55,354.54 192.77,354.56 192.98,354.59 193.2,354.61 193.42,354.63 193.63,354.66 193.85,354.68 194.07,354.7 194.28,354.73 194.5,354.75 194.72,354.77 194.93,354.79 195.15,354.81 195.37,354.84 195.58,354.86 195.8,354.88 196.02,354.9 196.23,354.92 196.45,354.94 196.66,354.96 196.88,354.98 197.1,354.99 197.31,355.01 197.53,355.03 197.75,355.05 197.96,355.06 198.18,355.08 198.4,355.1 198.61,355.11 198.83,355.13 199.05,355.14 199.26,355.15 199.48,355.17 199.7,355.18 199.91,355.19 200.13,355.21 200.34,355.22 200.56,355.23 200.78,355.24 200.99,355.26 201.21,355.27 201.43,355.28 201.64,355.29 201.86,355.3 202.08,355.31 202.29,355.32 202.51,355.33 202.73,355.34 202.94,355.35 203.16,355.36 203.38,355.37 203.59,355.38 203.81,355.39 204.02,355.4 204.24,355.41 204.46,355.42 204.67,355.43 204.89,355.44 205.11,355.44 205.32,355.45 205.54,355.46 205.76,355.47 205.97,355.48 206.19,355.49 206.41,355.49 206.62,355.5 206.84,355.51 207.05,355.52 207.27,355.52 207.49,355.53 207.7,355.54 207.92,355.54 208.14,355.55 208.35,355.56 208.57,355.56 208.79,355.57 209,355.58 209.22,355.58 209.44,355.59 209.65,355.59 209.87,355.6 210.09,355.61 210.3,355.61 210.52,355.62 210.73,355.62 210.95,355.63 211.17,355.63 211.38,355.64 211.6,355.64 211.82,355.65 212.03,355.65 212.25,355.66 212.47,355.66 212.68,355.67 212.9,355.67 213.12,355.68 213.33,355.68 213.55,355.69 213.77,355.69 213.98,355.7 214.2,355.7 214.41,355.7 214.63,355.71 214.85,355.71 215.06,355.72 215.28,355.72 215.5,355.72 215.71,355.73 215.93,355.73 216.15,355.74 216.36,355.74 216.58,355.74 216.8,355.75 217.01,355.75 217.23,355.76 217.45,355.76 217.66,355.76 217.88,355.77 218.09,355.77 218.31,355.77 218.53,355.78 218.74,355.78 218.96,355.78 219.18,355.79 219.39,355.79 219.61,355.8 219.83,355.8 220.04,355.8 220.26,355.81 220.48,355.81 220.69,355.81 220.91,355.82 221.13,355.82 221.34,355.82 221.56,355.83 221.77,355.83 221.99,355.83 222.21,355.84 222.42,355.84 222.64,355.85 222.86,355.85 223.07,355.85 223.29,355.86 223.51,355.86 223.72,355.86 223.94,355.87 224.16,355.87 224.37,355.88 224.59,355.88 224.8,355.88 225.02,355.89 225.24,355.89 225.45,355.9 225.67,355.9 225.89,355.91 226.1,355.91 226.32,355.91 226.54,355.92 226.75,355.92 226.97,355.93 227.19,355.93 227.4,355.94 227.62,355.94 227.84,355.95 228.05,355.95 228.27,355.96 228.48,355.96 228.7,355.97 228.92,355.97 229.13,355.98 229.35,355.98 229.57,355.99 229.78,355.99 230,356" fill="none" stroke="#a01418" stroke-width="1.9" stroke-linejoin="round" stroke-linecap="round" clip-path="url(#dclip)"/>
<polyline points="35.4,217.3 35.62,218.04 35.83,218.79 36.05,219.54 36.27,220.28 36.48,221.03 36.7,221.77 36.92,222.51 37.13,223.25 37.35,223.99 37.56,224.72 37.78,225.46 38,226.19 38.21,226.93 38.43,227.66 38.65,228.4 38.86,229.13 39.08,229.87 39.3,230.62 39.51,231.37 39.73,232.13 39.95,232.88 40.16,233.64 40.38,234.39 40.6,235.14 40.81,235.88 41.03,236.62 41.24,237.34 41.46,238.05 41.68,238.75 41.89,239.43 42.11,240.11 42.33,240.77 42.54,241.43 42.76,242.07 42.98,242.71 43.19,243.34 43.41,243.96 43.63,244.57 43.84,245.17 44.06,245.76 44.27,246.33 44.49,246.89 44.71,247.43 44.92,247.96 45.14,248.48 45.36,249 45.57,249.5 45.79,250.01 46.01,250.52 46.22,251.02 46.44,251.52 46.66,252.02 46.87,252.51 47.09,253 47.31,253.49 47.52,253.98 47.74,254.47 47.95,254.95 48.17,255.44 48.39,255.93 48.6,256.43 48.82,256.92 49.04,257.42 49.25,257.92 49.47,258.43 49.69,258.94 49.9,259.46 50.12,259.99 50.34,260.52 50.55,261.05 50.77,261.59 50.99,262.13 51.2,262.67 51.42,263.2 51.63,263.74 51.85,264.28 52.07,264.81 52.28,265.34 52.5,265.86 52.72,266.37 52.93,266.88 53.15,267.39 53.37,267.88 53.58,268.36 53.8,268.84 54.02,269.31 54.23,269.78 54.45,270.24 54.67,270.69 54.88,271.15 55.1,271.6 55.31,272.05 55.53,272.49 55.75,272.94 55.96,273.39 56.18,273.83 56.4,274.28 56.61,274.74 56.83,275.19 57.05,275.64 57.26,276.09 57.48,276.54 57.7,276.99 57.91,277.44 58.13,277.88 58.35,278.33 58.56,278.78 58.78,279.22 58.99,279.66 59.21,280.1 59.43,280.54 59.64,280.98 59.86,281.42 60.08,281.86 60.29,282.29 60.51,282.73 60.73,283.16 60.94,283.6 61.16,284.03 61.38,284.46 61.59,284.89 61.81,285.33 62.02,285.76 62.24,286.18 62.46,286.61 62.67,287.03 62.89,287.46 63.11,287.88 63.32,288.3 63.54,288.71 63.76,289.13 63.97,289.54 64.19,289.95 64.41,290.35 64.62,290.75 64.84,291.15 65.06,291.54 65.27,291.93 65.49,292.32 65.7,292.71 65.92,293.1 66.14,293.49 66.35,293.88 66.57,294.27 66.79,294.65 67,295.05 67.22,295.44 67.44,295.83 67.65,296.23 67.87,296.63 68.09,297.03 68.3,297.43 68.52,297.84 68.74,298.24 68.95,298.64 69.17,299.05 69.38,299.46 69.6,299.86 69.82,300.27 70.03,300.68 70.25,301.08 70.47,301.49 70.68,301.9 70.9,302.31 71.12,302.71 71.33,303.12 71.55,303.53 71.77,303.93 71.98,304.34 72.2,304.74 72.42,305.15 72.63,305.55 72.85,305.96 73.06,306.36 73.28,306.76 73.5,307.16 73.71,307.56 73.93,307.96 74.15,308.35 74.36,308.75 74.58,309.15 74.8,309.55 75.01,309.95 75.23,310.35 75.45,310.74 75.66,311.14 75.88,311.54 76.09,311.93 76.31,312.33 76.53,312.72 76.74,313.11 76.96,313.5 77.18,313.88 77.39,314.26 77.61,314.64 77.83,315.02 78.04,315.39 78.26,315.76 78.48,316.13 78.69,316.49 78.91,316.84 79.13,317.19 79.34,317.53 79.56,317.87 79.77,318.2 79.99,318.53 80.21,318.85 80.42,319.17 80.64,319.48 80.86,319.8 81.07,320.11 81.29,320.43 81.51,320.74 81.72,321.05 81.94,321.37 82.16,321.69 82.37,322.01 82.59,322.33 82.81,322.66 83.02,322.99 83.24,323.32 83.45,323.65 83.67,323.98 83.89,324.31 84.1,324.65 84.32,324.98 84.54,325.31 84.75,325.64 84.97,325.98 85.19,326.31 85.4,326.64 85.62,326.98 85.84,327.31 86.05,327.64 86.27,327.97 86.49,328.31 86.7,328.64 86.92,328.97 87.13,329.3 87.35,329.62 87.57,329.95 87.78,330.28 88,330.61 88.22,330.94 88.43,331.26 88.65,331.59 88.87,331.93 89.08,332.26 89.3,332.59 89.52,332.92 89.73,333.25 89.95,333.58 90.17,333.91 90.38,334.23 90.6,334.56 90.81,334.89 91.03,335.21 91.25,335.54 91.46,335.86 91.68,336.18 91.9,336.5 92.11,336.81 92.33,337.13 92.55,337.44 92.76,337.75 92.98,338.05 93.2,338.35 93.41,338.66 93.63,338.95 93.84,339.25 94.06,339.55 94.28,339.84 94.49,340.13 94.71,340.42 94.93,340.71 95.14,341 95.36,341.28 95.58,341.57 95.79,341.85 96.01,342.13 96.23,342.4 96.44,342.68 96.66,342.96 96.88,343.23 97.09,343.5 97.31,343.77 97.52,344.03 97.74,344.3 97.96,344.56 98.17,344.82 98.39,345.08 98.61,345.34 98.82,345.59 99.04,345.85 99.26,346.09 99.47,346.34 99.69,346.58 99.91,346.81 100.12,347.04 100.34,347.26 100.56,347.48 100.77,347.7 100.99,347.91 101.2,348.13 101.42,348.33 101.64,348.54 101.85,348.74 102.07,348.95 102.29,349.15 102.5,349.35 102.72,349.54 102.94,349.74 103.15,349.94 103.37,350.14 103.59,350.33 103.8,350.52 104.02,350.71 104.24,350.9 104.45,351.09 104.67,351.27 104.88,351.46 105.1,351.64 105.32,351.82 105.53,351.99 105.75,352.17 105.97,352.34 106.18,352.51 106.4,352.68 106.62,352.84 106.83,353 107.05,353.16 107.27,353.32 107.48,353.48 107.7,353.64 107.92,353.8 108.13,353.96 108.35,354.12 108.56,354.28 108.78,354.45 109,354.61 109.21,354.77 109.43,354.93 109.65,355.09 109.86,355.26 110.08,355.42 110.3,355.58 110.51,355.73 110.73,355.89 110.95,356.05 111.16,356.2 111.38,356.35 111.59,356.5 111.81,356.65 112.03,356.8 112.24,356.94 112.46,357.08 112.68,357.22 112.89,357.36 113.11,357.49 113.33,357.62 113.54,357.75 113.76,357.87 113.98,357.99 114.19,358.11 114.41,358.22 114.63,358.32 114.84,358.43 115.06,358.53 115.27,358.62 115.49,358.72 115.71,358.82 115.92,358.91 116.14,359.01 116.36,359.1 116.57,359.2 116.79,359.29 117.01,359.38 117.22,359.48 117.44,359.57 117.66,359.66 117.87,359.75 118.09,359.84 118.31,359.93 118.52,360.02 118.74,360.11 118.95,360.2 119.17,360.28 119.39,360.37 119.6,360.46 119.82,360.54 120.04,360.62 120.25,360.71 120.47,360.79 120.69,360.87 120.9,360.96 121.12,361.04 121.34,361.12 121.55,361.19 121.77,361.27 121.99,361.35 122.2,361.43 122.42,361.5 122.63,361.58 122.85,361.65 123.07,361.72 123.28,361.8 123.5,361.87 123.72,361.94 123.93,362.01 124.15,362.07 124.37,362.14 124.58,362.21 124.8,362.27 125.02,362.34 125.23,362.4 125.45,362.46 125.66,362.52 125.88,362.58 126.1,362.64 126.31,362.7 126.53,362.76 126.75,362.81 126.96,362.87 127.18,362.92 127.4,362.97 127.61,363.02 127.83,363.07 128.05,363.12 128.26,363.17 128.48,363.21 128.7,363.26 128.91,363.3 129.13,363.34 129.34,363.38 129.56,363.42 129.78,363.46 129.99,363.5 130.21,363.53 130.43,363.57 130.64,363.61 130.86,363.64 131.08,363.68 131.29,363.71 131.51,363.74 131.73,363.78 131.94,363.81 132.16,363.84 132.38,363.88 132.59,363.91 132.81,363.94 133.02,363.97 133.24,364 133.46,364.03 133.67,364.06 133.89,364.09 134.11,364.12 134.32,364.15 134.54,364.18 134.76,364.21 134.97,364.24 135.19,364.27 135.41,364.3 135.62,364.32 135.84,364.35 136.06,364.38 136.27,364.4 136.49,364.43 136.7,364.46 136.92,364.48 137.14,364.51 137.35,364.53 137.57,364.56 137.79,364.58 138,364.61 138.22,364.63 138.44,364.66 138.65,364.68 138.87,364.7 139.09,364.73 139.3,364.75 139.52,364.77 139.74,364.8 139.95,364.82 140.17,364.84 140.38,364.86 140.6,364.88 140.82,364.9 141.03,364.92 141.25,364.94 141.47,364.96 141.68,364.98 141.9,365 142.12,365.02 142.33,365.04 142.55,365.06 142.77,365.08 142.98,365.1 143.2,365.12 143.41,365.14 143.63,365.15 143.85,365.17 144.06,365.19 144.28,365.21 144.5,365.22 144.71,365.24 144.93,365.26 145.15,365.27 145.36,365.29 145.58,365.31 145.8,365.32 146.01,365.34 146.23,365.35 146.45,365.37 146.66,365.38 146.88,365.4 147.09,365.41 147.31,365.43 147.53,365.44 147.74,365.45 147.96,365.47 148.18,365.48 148.39,365.49 148.61,365.51 148.83,365.52 149.04,365.53 149.26,365.55 149.48,365.56 149.69,365.57 149.91,365.58 150.13,365.6 150.34,365.61 150.56,365.62 150.77,365.63 150.99,365.64 151.21,365.65 151.42,365.66 151.64,365.68 151.86,365.69 152.07,365.7 152.29,365.71 152.51,365.72 152.72,365.73 152.94,365.74 153.16,365.75 153.37,365.76 153.59,365.77 153.81,365.78 154.02,365.79 154.24,365.79 154.45,365.8 154.67,365.81 154.89,365.82 155.1,365.83 155.32,365.84 155.54,365.85 155.75,365.86 155.97,365.86 156.19,365.87 156.4,365.88 156.62,365.89 156.84,365.9 157.05,365.9 157.27,365.91 157.48,365.92 157.7,365.93 157.92,365.93 158.13,365.94 158.35,365.95 158.57,365.96 158.78,365.96 159,365.97 159.22,365.98 159.43,365.98 159.65,365.99 159.87,366 160.08,366 160.3,366.01 160.52,366.02 160.73,366.02 160.95,366.03 161.16,366.03 161.38,366.04 161.6,366.05 161.81,366.05 162.03,366.06 162.25,366.06 162.46,366.07 162.68,366.08 162.9,366.08 163.11,366.09 163.33,366.09 163.55,366.1 163.76,366.1 163.98,366.11 164.2,366.11 164.41,366.12 164.63,366.13 164.84,366.13 165.06,366.14 165.28,366.14 165.49,366.15 165.71,366.15 165.93,366.16 166.14,366.16 166.36,366.17 166.58,366.17 166.79,366.18 167.01,366.18 167.23,366.18 167.44,366.19 167.66,366.19 167.88,366.2 168.09,366.2 168.31,366.21 168.52,366.21 168.74,366.22 168.96,366.22 169.17,366.22 169.39,366.23 169.61,366.23 169.82,366.24 170.04,366.24 170.26,366.24 170.47,366.25 170.69,366.25 170.91,366.26 171.12,366.26 171.34,366.26 171.56,366.27 171.77,366.27 171.99,366.27 172.2,366.28 172.42,366.28 172.64,366.28 172.85,366.29 173.07,366.29 173.29,366.29 173.5,366.3 173.72,366.3 173.94,366.3 174.15,366.31 174.37,366.31 174.59,366.31 174.8,366.32 175.02,366.32 175.23,366.32 175.45,366.32 175.67,366.33 175.88,366.33 176.1,366.33 176.32,366.34 176.53,366.34 176.75,366.34 176.97,366.34 177.18,366.35 177.4,366.35 177.62,366.35 177.83,366.35 178.05,366.36 178.27,366.36 178.48,366.36 178.7,366.36 178.91,366.37 179.13,366.37 179.35,366.37 179.56,366.37 179.78,366.37 180,366.38 180.21,366.38 180.43,366.38 180.65,366.38 180.86,366.38 181.08,366.39 181.3,366.39 181.51,366.39 181.73,366.39 181.95,366.39 182.16,366.39 182.38,366.4 182.59,366.4 182.81,366.4 183.03,366.4 183.24,366.4 183.46,366.4 183.68,366.41 183.89,366.41 184.11,366.41 184.33,366.41 184.54,366.41 184.76,366.41 184.98,366.41 185.19,366.42 185.41,366.42 185.63,366.42 185.84,366.42 186.06,366.42 186.27,366.42 186.49,366.42 186.71,366.42 186.92,366.43 187.14,366.43 187.36,366.43 187.57,366.43 187.79,366.43 188.01,366.43 188.22,366.43 188.44,366.43 188.66,366.43 188.87,366.43 189.09,366.43 189.31,366.44 189.52,366.44 189.74,366.44 189.95,366.44 190.17,366.44 190.39,366.44 190.6,366.44 190.82,366.44 191.04,366.44 191.25,366.44 191.47,366.44 191.69,366.44 191.9,366.44 192.12,366.44 192.34,366.44 192.55,366.45 192.77,366.45 192.98,366.45 193.2,366.45 193.42,366.45 193.63,366.45 193.85,366.45 194.07,366.45 194.28,366.45 194.5,366.45 194.72,366.45 194.93,366.45 195.15,366.45 195.37,366.45 195.58,366.45 195.8,366.45 196.02,366.45 196.23,366.45 196.45,366.45 196.66,366.45 196.88,366.45 197.1,366.45 197.31,366.45 197.53,366.45 197.75,366.45 197.96,366.45 198.18,366.45 198.4,366.45 198.61,366.45 198.83,366.45 199.05,366.45 199.26,366.45 199.48,366.45 199.7,366.45 199.91,366.45 200.13,366.45 200.34,366.45 200.56,366.45 200.78,366.45 200.99,366.45 201.21,366.45 201.43,366.45 201.64,366.45 201.86,366.45 202.08,366.45 202.29,366.45 202.51,366.45 202.73,366.45 202.94,366.45 203.16,366.45 203.38,366.45 203.59,366.45 203.81,366.45 204.02,366.45 204.24,366.45 204.46,366.45 204.67,366.45 204.89,366.45 205.11,366.45 205.32,366.45 205.54,366.45 205.76,366.45 205.97,366.45 206.19,366.45 206.41,366.45 206.62,366.45 206.84,366.45 207.05,366.45 207.27,366.45 207.49,366.45 207.7,366.45 207.92,366.45 208.14,366.45 208.35,366.45 208.57,366.45 208.79,366.45 209,366.45 209.22,366.45 209.44,366.45 209.65,366.45 209.87,366.45 210.09,366.45 210.3,366.45 210.52,366.45 210.73,366.45 210.95,366.45 211.17,366.45 211.38,366.45 211.6,366.45 211.82,366.45 212.03,366.45 212.25,366.45 212.47,366.45 212.68,366.45 212.9,366.45 213.12,366.45 213.33,366.45 213.55,366.45 213.77,366.45 213.98,366.45 214.2,366.45 214.41,366.45 214.63,366.45 214.85,366.45 215.06,366.45 215.28,366.45 215.5,366.45 215.71,366.45 215.93,366.45 216.15,366.45 216.36,366.45 216.58,366.45 216.8,366.45 217.01,366.45 217.23,366.45 217.45,366.45 217.66,366.45 217.88,366.45 218.09,366.45 218.31,366.45 218.53,366.45 218.74,366.45 218.96,366.45 219.18,366.46 219.39,366.46 219.61,366.46 219.83,366.46 220.04,366.46 220.26,366.46 220.48,366.46 220.69,366.46 220.91,366.46 221.13,366.46 221.34,366.46 221.56,366.46 221.77,366.46 221.99,366.46 222.21,366.46 222.42,366.46 222.64,366.46 222.86,366.46 223.07,366.46 223.29,366.47 223.51,366.47 223.72,366.47 223.94,366.47 224.16,366.47 224.37,366.47 224.59,366.47 224.8,366.47 225.02,366.47 225.24,366.47 225.45,366.47 225.67,366.47 225.89,366.48 226.1,366.48 226.32,366.48 226.54,366.48 226.75,366.48 226.97,366.48 227.19,366.48 227.4,366.48 227.62,366.48 227.84,366.49 228.05,366.49 228.27,366.49 228.48,366.49 228.7,366.49 228.92,366.49 229.13,366.49 229.35,366.5 229.57,366.5 229.78,366.5 230,366.5" fill="none" stroke="#ee7426" stroke-width="1.8" stroke-linejoin="round" stroke-linecap="round" clip-path="url(#dclip)"/>
<rect x="35.4" y="203.5" width="185.7" height="149.8" fill="none" stroke="#555" stroke-width="0.9"/>
<path d="M150.9 207.0l1.8 3.1h-3.6z" fill="#f03a3a"/>
<circle cx="150.9" cy="218.1" r="1.4" fill="none" stroke="#f0a458" stroke-width="0.6"/>
<line x1="142" y1="226.6" x2="158.8" y2="226.6" stroke="#a01418" stroke-width="1.9" />
<line x1="142" y1="235.5" x2="158.8" y2="235.5" stroke="#ee7426" stroke-width="1.8" />
<text x="160.4" y="211.6" font-size="7.0" text-anchor="start" font-weight="normal" fill="#222" stroke="#222" stroke-width="0.14" >Red-1 decay</text>
<text x="160.4" y="220.4" font-size="7.0" text-anchor="start" font-weight="normal" fill="#222" stroke="#222" stroke-width="0.14" >Orange-1 decay</text>
<text x="160.4" y="229.2" font-size="7.0" text-anchor="start" font-weight="normal" fill="#222" stroke="#222" stroke-width="0.14" >Red-1 fit decay</text>
<text x="160.4" y="238" font-size="7.0" text-anchor="start" font-weight="normal" fill="#222" stroke="#222" stroke-width="0.14" >Orange-1 fit decay</text>
<path d="M116.2 258.4 Q116.9 256.6 118.6 256.6 L122 256.6 M119.4 256.6 L119.1 262.2 Q119.1 264 121.2 263.6" fill="none" stroke="#e8222a" stroke-width="1.25" stroke-linecap="round"/>
<text x="126.5" y="262.9" font-size="9.1" text-anchor="start" font-weight="bold" fill="#e8222a" stroke="#e8222a" stroke-width="0.12" >(Red-1) = 10.36 ns</text>
<path d="M116.2 274.3 Q116.9 272.5 118.6 272.5 L122 272.5 M119.4 272.5 L119.1 278.1 Q119.1 279.9 121.2 279.5" fill="none" stroke="#ec8a2c" stroke-width="1.25" stroke-linecap="round"/>
<text x="126.5" y="278.8" font-size="9.1" text-anchor="start" font-weight="bold" fill="#ec8a2c" stroke="#ec8a2c" stroke-width="0.12" >(Orange-1) = 5.84 ns</text>
<text x="234" y="214.6" font-size="13.8" text-anchor="start" font-weight="bold" fill="#111" stroke="#111" stroke-width="0.12" >(e)</text>
<rect x="265.5" y="203.4" width="416.8" height="150.2" rx="7" fill="#fff" stroke="#333" stroke-width="0.9"/>
<defs>
<radialGradient id="gy" cx="0.42" cy="0.4" r="0.62"><stop offset="0" stop-color="#f0f47a"/><stop offset="0.55" stop-color="#d4de3a"/><stop offset="0.9" stop-color="#b4c024"/><stop offset="1" stop-color="#a0ac1c"/></radialGradient>
<radialGradient id="gc" cx="0.42" cy="0.4" r="0.62"><stop offset="0" stop-color="#a8f6f8"/><stop offset="0.55" stop-color="#62d6e0"/><stop offset="0.9" stop-color="#3cb4c4"/><stop offset="1" stop-color="#2ca2b4"/></radialGradient>
<radialGradient id="gb" cx="0.35" cy="0.35" r="0.7"><stop offset="0" stop-color="#c8a080"/><stop offset="1" stop-color="#7a4a2a"/></radialGradient>
<radialGradient id="gg" cx="0.35" cy="0.35" r="0.7"><stop offset="0" stop-color="#9cff9c"/><stop offset="1" stop-color="#18c018"/></radialGradient>
<radialGradient id="gr" cx="0.35" cy="0.35" r="0.7"><stop offset="0" stop-color="#ff8080"/><stop offset="1" stop-color="#d01010"/></radialGradient>
</defs>
<line x1="287.3" y1="256" x2="287.3" y2="322" stroke="#8a5a3c" stroke-width="0.9" stroke-linecap="round"/>
<line x1="290.3" y1="256" x2="290.3" y2="322" stroke="#8a5a3c" stroke-width="0.9" stroke-linecap="round"/>
<circle cx="287.3" cy="256" r="1" fill="url(#gb)"/>
<circle cx="290.3" cy="257.45" r="1" fill="url(#gb)"/>
<circle cx="287.3" cy="258.9" r="1" fill="url(#gb)"/>
<circle cx="290.3" cy="260.35" r="1" fill="url(#gb)"/>
<circle cx="287.3" cy="261.8" r="1" fill="url(#gb)"/>
<circle cx="290.3" cy="263.25" r="1" fill="url(#gb)"/>
<circle cx="287.3" cy="264.7" r="1" fill="url(#gb)"/>
<circle cx="290.3" cy="266.15" r="1" fill="url(#gb)"/>
<circle cx="287.3" cy="267.6" r="1" fill="url(#gb)"/>
<circle cx="290.3" cy="269.05" r="1" fill="url(#gb)"/>
<circle cx="287.3" cy="270.5" r="1" fill="url(#gb)"/>
<circle cx="290.3" cy="271.95" r="1" fill="url(#gb)"/>
<circle cx="287.3" cy="273.4" r="1" fill="url(#gb)"/>
<circle cx="290.3" cy="274.85" r="1" fill="url(#gb)"/>
<circle cx="287.3" cy="276.3" r="1" fill="url(#gb)"/>
<circle cx="290.3" cy="277.75" r="1" fill="url(#gb)"/>
<circle cx="287.3" cy="279.2" r="1" fill="url(#gb)"/>
<circle cx="290.3" cy="280.65" r="1" fill="url(#gb)"/>
<circle cx="287.3" cy="282.1" r="1" fill="url(#gb)"/>
<circle cx="290.3" cy="283.55" r="1" fill="url(#gb)"/>
<circle cx="287.3" cy="285" r="1" fill="url(#gb)"/>
<circle cx="290.3" cy="286.45" r="1" fill="url(#gb)"/>
<circle cx="287.3" cy="287.9" r="1" fill="url(#gb)"/>
<circle cx="290.3" cy="289.35" r="1" fill="url(#gb)"/>
<circle cx="287.3" cy="290.8" r="1" fill="url(#gb)"/>
<circle cx="290.3" cy="292.25" r="1" fill="url(#gb)"/>
<circle cx="287.3" cy="293.7" r="1" fill="url(#gb)"/>
<circle cx="290.3" cy="295.15" r="1" fill="url(#gb)"/>
<circle cx="287.3" cy="296.6" r="1" fill="url(#gb)"/>
<circle cx="290.3" cy="298.05" r="1" fill="url(#gb)"/>
<circle cx="287.3" cy="299.5" r="1" fill="url(#gb)"/>
<circle cx="290.3" cy="300.95" r="1" fill="url(#gb)"/>
<circle cx="287.3" cy="302.4" r="1" fill="url(#gb)"/>
<circle cx="290.3" cy="303.85" r="1" fill="url(#gb)"/>
<circle cx="287.3" cy="305.3" r="1" fill="url(#gb)"/>
<circle cx="290.3" cy="306.75" r="1" fill="url(#gb)"/>
<circle cx="287.3" cy="308.2" r="1" fill="url(#gb)"/>
<circle cx="290.3" cy="309.65" r="1" fill="url(#gb)"/>
<circle cx="287.3" cy="311.1" r="1" fill="url(#gb)"/>
<circle cx="290.3" cy="312.55" r="1" fill="url(#gb)"/>
<circle cx="287.3" cy="314" r="1" fill="url(#gb)"/>
<circle cx="290.3" cy="315.45" r="1" fill="url(#gb)"/>
<circle cx="287.3" cy="316.9" r="1" fill="url(#gb)"/>
<circle cx="290.3" cy="318.35" r="1" fill="url(#gb)"/>
<circle cx="287.3" cy="319.8" r="1" fill="url(#gb)"/>
<circle cx="290.3" cy="321.25" r="1" fill="url(#gb)"/>
<line x1="303.5" y1="232" x2="303.5" y2="326" stroke="#8a5a3c" stroke-width="0.9" stroke-linecap="round"/>
<line x1="306.5" y1="232" x2="306.5" y2="326" stroke="#8a5a3c" stroke-width="0.9" stroke-linecap="round"/>
<circle cx="303.5" cy="232" r="1" fill="url(#gb)"/>
<circle cx="306.5" cy="233.45" r="1" fill="url(#gb)"/>
<circle cx="303.5" cy="234.9" r="1" fill="url(#gb)"/>
<circle cx="306.5" cy="236.35" r="1" fill="url(#gb)"/>
<circle cx="303.5" cy="237.8" r="1" fill="url(#gb)"/>
<circle cx="306.5" cy="239.25" r="1" fill="url(#gb)"/>
<circle cx="303.5" cy="240.7" r="1" fill="url(#gb)"/>
<circle cx="306.5" cy="242.15" r="1" fill="url(#gb)"/>
<circle cx="303.5" cy="243.6" r="1" fill="url(#gb)"/>
<circle cx="306.5" cy="245.05" r="1" fill="url(#gb)"/>
<circle cx="303.5" cy="246.5" r="1" fill="url(#gb)"/>
<circle cx="306.5" cy="247.95" r="1" fill="url(#gb)"/>
<circle cx="303.5" cy="249.4" r="1" fill="url(#gb)"/>
<circle cx="306.5" cy="250.85" r="1" fill="url(#gb)"/>
<circle cx="303.5" cy="252.3" r="1" fill="url(#gb)"/>
<circle cx="306.5" cy="253.75" r="1" fill="url(#gb)"/>
<circle cx="303.5" cy="255.2" r="1" fill="url(#gb)"/>
<circle cx="306.5" cy="256.65" r="1" fill="url(#gb)"/>
<circle cx="303.5" cy="258.1" r="1" fill="url(#gb)"/>
<circle cx="306.5" cy="259.55" r="1" fill="url(#gb)"/>
<circle cx="303.5" cy="261" r="1" fill="url(#gb)"/>
<circle cx="306.5" cy="262.45" r="1" fill="url(#gb)"/>
<circle cx="303.5" cy="263.9" r="1" fill="url(#gb)"/>
<circle cx="306.5" cy="265.35" r="1" fill="url(#gb)"/>
<circle cx="303.5" cy="266.8" r="1" fill="url(#gb)"/>
<circle cx="306.5" cy="268.25" r="1" fill="url(#gb)"/>
<circle cx="303.5" cy="269.7" r="1" fill="url(#gb)"/>
<circle cx="306.5" cy="271.15" r="1" fill="url(#gb)"/>
<circle cx="303.5" cy="272.6" r="1" fill="url(#gb)"/>
<circle cx="306.5" cy="274.05" r="1" fill="url(#gb)"/>
<circle cx="303.5" cy="275.5" r="1" fill="url(#gb)"/>
<circle cx="306.5" cy="276.95" r="1" fill="url(#gb)"/>
<circle cx="303.5" cy="278.4" r="1" fill="url(#gb)"/>
<circle cx="306.5" cy="279.85" r="1" fill="url(#gb)"/>
<circle cx="303.5" cy="281.3" r="1" fill="url(#gb)"/>
<circle cx="306.5" cy="282.75" r="1" fill="url(#gb)"/>
<circle cx="303.5" cy="284.2" r="1" fill="url(#gb)"/>
<circle cx="306.5" cy="285.65" r="1" fill="url(#gb)"/>
<circle cx="303.5" cy="287.1" r="1" fill="url(#gb)"/>
<circle cx="306.5" cy="288.55" r="1" fill="url(#gb)"/>
<circle cx="303.5" cy="290" r="1" fill="url(#gb)"/>
<circle cx="306.5" cy="291.45" r="1" fill="url(#gb)"/>
<circle cx="303.5" cy="292.9" r="1" fill="url(#gb)"/>
<circle cx="306.5" cy="294.35" r="1" fill="url(#gb)"/>
<circle cx="303.5" cy="295.8" r="1" fill="url(#gb)"/>
<circle cx="306.5" cy="297.25" r="1" fill="url(#gb)"/>
<circle cx="303.5" cy="298.7" r="1" fill="url(#gb)"/>
<circle cx="306.5" cy="300.15" r="1" fill="url(#gb)"/>
<circle cx="303.5" cy="301.6" r="1" fill="url(#gb)"/>
<circle cx="306.5" cy="303.05" r="1" fill="url(#gb)"/>
<circle cx="303.5" cy="304.5" r="1" fill="url(#gb)"/>
<circle cx="306.5" cy="305.95" r="1" fill="url(#gb)"/>
<circle cx="303.5" cy="307.4" r="1" fill="url(#gb)"/>
<circle cx="306.5" cy="308.85" r="1" fill="url(#gb)"/>
<circle cx="303.5" cy="310.3" r="1" fill="url(#gb)"/>
<circle cx="306.5" cy="311.75" r="1" fill="url(#gb)"/>
<circle cx="303.5" cy="313.2" r="1" fill="url(#gb)"/>
<circle cx="306.5" cy="314.65" r="1" fill="url(#gb)"/>
<circle cx="303.5" cy="316.1" r="1" fill="url(#gb)"/>
<circle cx="306.5" cy="317.55" r="1" fill="url(#gb)"/>
<circle cx="303.5" cy="319" r="1" fill="url(#gb)"/>
<circle cx="306.5" cy="320.45" r="1" fill="url(#gb)"/>
<circle cx="303.5" cy="321.9" r="1" fill="url(#gb)"/>
<circle cx="306.5" cy="323.35" r="1" fill="url(#gb)"/>
<circle cx="303.5" cy="324.8" r="1" fill="url(#gb)"/>
<circle cx="306.5" cy="326.25" r="1" fill="url(#gb)"/>
<line x1="319.3" y1="226" x2="319.3" y2="326" stroke="#8a5a3c" stroke-width="0.9" stroke-linecap="round"/>
<line x1="322.3" y1="226" x2="322.3" y2="326" stroke="#8a5a3c" stroke-width="0.9" stroke-linecap="round"/>
<circle cx="319.3" cy="226" r="1" fill="url(#gb)"/>
<circle cx="322.3" cy="227.45" r="1" fill="url(#gb)"/>
<circle cx="319.3" cy="228.9" r="1" fill="url(#gb)"/>
<circle cx="322.3" cy="230.35" r="1" fill="url(#gb)"/>
<circle cx="319.3" cy="231.8" r="1" fill="url(#gb)"/>
<circle cx="322.3" cy="233.25" r="1" fill="url(#gb)"/>
<circle cx="319.3" cy="234.7" r="1" fill="url(#gb)"/>
<circle cx="322.3" cy="236.15" r="1" fill="url(#gb)"/>
<circle cx="319.3" cy="237.6" r="1" fill="url(#gb)"/>
<circle cx="322.3" cy="239.05" r="1" fill="url(#gb)"/>
<circle cx="319.3" cy="240.5" r="1" fill="url(#gb)"/>
<circle cx="322.3" cy="241.95" r="1" fill="url(#gb)"/>
<circle cx="319.3" cy="243.4" r="1" fill="url(#gb)"/>
<circle cx="322.3" cy="244.85" r="1" fill="url(#gb)"/>
<circle cx="319.3" cy="246.3" r="1" fill="url(#gb)"/>
<circle cx="322.3" cy="247.75" r="1" fill="url(#gb)"/>
<circle cx="319.3" cy="249.2" r="1" fill="url(#gb)"/>
<circle cx="322.3" cy="250.65" r="1" fill="url(#gb)"/>
<circle cx="319.3" cy="252.1" r="1" fill="url(#gb)"/>
<circle cx="322.3" cy="253.55" r="1" fill="url(#gb)"/>
<circle cx="319.3" cy="255" r="1" fill="url(#gb)"/>
<circle cx="322.3" cy="256.45" r="1" fill="url(#gb)"/>
<circle cx="319.3" cy="257.9" r="1" fill="url(#gb)"/>
<circle cx="322.3" cy="259.35" r="1" fill="url(#gb)"/>
<circle cx="319.3" cy="260.8" r="1" fill="url(#gb)"/>
<circle cx="322.3" cy="262.25" r="1" fill="url(#gb)"/>
<circle cx="319.3" cy="263.7" r="1" fill="url(#gb)"/>
<circle cx="322.3" cy="265.15" r="1" fill="url(#gb)"/>
<circle cx="319.3" cy="266.6" r="1" fill="url(#gb)"/>
<circle cx="322.3" cy="268.05" r="1" fill="url(#gb)"/>
<circle cx="319.3" cy="269.5" r="1" fill="url(#gb)"/>
<circle cx="322.3" cy="270.95" r="1" fill="url(#gb)"/>
<circle cx="319.3" cy="272.4" r="1" fill="url(#gb)"/>
<circle cx="322.3" cy="273.85" r="1" fill="url(#gb)"/>
<circle cx="319.3" cy="275.3" r="1" fill="url(#gb)"/>
<circle cx="322.3" cy="276.75" r="1" fill="url(#gb)"/>
<circle cx="319.3" cy="278.2" r="1" fill="url(#gb)"/>
<circle cx="322.3" cy="279.65" r="1" fill="url(#gb)"/>
<circle cx="319.3" cy="281.1" r="1" fill="url(#gb)"/>
<circle cx="322.3" cy="282.55" r="1" fill="url(#gb)"/>
<circle cx="319.3" cy="284" r="1" fill="url(#gb)"/>
<circle cx="322.3" cy="285.45" r="1" fill="url(#gb)"/>
<circle cx="319.3" cy="286.9" r="1" fill="url(#gb)"/>
<circle cx="322.3" cy="288.35" r="1" fill="url(#gb)"/>
<circle cx="319.3" cy="289.8" r="1" fill="url(#gb)"/>
<circle cx="322.3" cy="291.25" r="1" fill="url(#gb)"/>
<circle cx="319.3" cy="292.7" r="1" fill="url(#gb)"/>
<circle cx="322.3" cy="294.15" r="1" fill="url(#gb)"/>
<circle cx="319.3" cy="295.6" r="1" fill="url(#gb)"/>
<circle cx="322.3" cy="297.05" r="1" fill="url(#gb)"/>
<circle cx="319.3" cy="298.5" r="1" fill="url(#gb)"/>
<circle cx="322.3" cy="299.95" r="1" fill="url(#gb)"/>
<circle cx="319.3" cy="301.4" r="1" fill="url(#gb)"/>
<circle cx="322.3" cy="302.85" r="1" fill="url(#gb)"/>
<circle cx="319.3" cy="304.3" r="1" fill="url(#gb)"/>
<circle cx="322.3" cy="305.75" r="1" fill="url(#gb)"/>
<circle cx="319.3" cy="307.2" r="1" fill="url(#gb)"/>
<circle cx="322.3" cy="308.65" r="1" fill="url(#gb)"/>
<circle cx="319.3" cy="310.1" r="1" fill="url(#gb)"/>
<circle cx="322.3" cy="311.55" r="1" fill="url(#gb)"/>
<circle cx="319.3" cy="313" r="1" fill="url(#gb)"/>
<circle cx="322.3" cy="314.45" r="1" fill="url(#gb)"/>
<circle cx="319.3" cy="315.9" r="1" fill="url(#gb)"/>
<circle cx="322.3" cy="317.35" r="1" fill="url(#gb)"/>
<circle cx="319.3" cy="318.8" r="1" fill="url(#gb)"/>
<circle cx="322.3" cy="320.25" r="1" fill="url(#gb)"/>
<circle cx="319.3" cy="321.7" r="1" fill="url(#gb)"/>
<circle cx="322.3" cy="323.15" r="1" fill="url(#gb)"/>
<circle cx="319.3" cy="324.6" r="1" fill="url(#gb)"/>
<circle cx="322.3" cy="326.05" r="1" fill="url(#gb)"/>
<line x1="336" y1="250" x2="336" y2="318" stroke="#8a5a3c" stroke-width="0.9" stroke-linecap="round"/>
<line x1="339" y1="250" x2="339" y2="318" stroke="#8a5a3c" stroke-width="0.9" stroke-linecap="round"/>
<circle cx="336" cy="250" r="1" fill="url(#gb)"/>
<circle cx="339" cy="251.45" r="1" fill="url(#gb)"/>
<circle cx="336" cy="252.9" r="1" fill="url(#gb)"/>
<circle cx="339" cy="254.35" r="1" fill="url(#gb)"/>
<circle cx="336" cy="255.8" r="1" fill="url(#gb)"/>
<circle cx="339" cy="257.25" r="1" fill="url(#gb)"/>
<circle cx="336" cy="258.7" r="1" fill="url(#gb)"/>
<circle cx="339" cy="260.15" r="1" fill="url(#gb)"/>
<circle cx="336" cy="261.6" r="1" fill="url(#gb)"/>
<circle cx="339" cy="263.05" r="1" fill="url(#gb)"/>
<circle cx="336" cy="264.5" r="1" fill="url(#gb)"/>
<circle cx="339" cy="265.95" r="1" fill="url(#gb)"/>
<circle cx="336" cy="267.4" r="1" fill="url(#gb)"/>
<circle cx="339" cy="268.85" r="1" fill="url(#gb)"/>
<circle cx="336" cy="270.3" r="1" fill="url(#gb)"/>
<circle cx="339" cy="271.75" r="1" fill="url(#gb)"/>
<circle cx="336" cy="273.2" r="1" fill="url(#gb)"/>
<circle cx="339" cy="274.65" r="1" fill="url(#gb)"/>
<circle cx="336" cy="276.1" r="1" fill="url(#gb)"/>
<circle cx="339" cy="277.55" r="1" fill="url(#gb)"/>
<circle cx="336" cy="279" r="1" fill="url(#gb)"/>
<circle cx="339" cy="280.45" r="1" fill="url(#gb)"/>
<circle cx="336" cy="281.9" r="1" fill="url(#gb)"/>
<circle cx="339" cy="283.35" r="1" fill="url(#gb)"/>
<circle cx="336" cy="284.8" r="1" fill="url(#gb)"/>
<circle cx="339" cy="286.25" r="1" fill="url(#gb)"/>
<circle cx="336" cy="287.7" r="1" fill="url(#gb)"/>
<circle cx="339" cy="289.15" r="1" fill="url(#gb)"/>
<circle cx="336" cy="290.6" r="1" fill="url(#gb)"/>
<circle cx="339" cy="292.05" r="1" fill="url(#gb)"/>
<circle cx="336" cy="293.5" r="1" fill="url(#gb)"/>
<circle cx="339" cy="294.95" r="1" fill="url(#gb)"/>
<circle cx="336" cy="296.4" r="1" fill="url(#gb)"/>
<circle cx="339" cy="297.85" r="1" fill="url(#gb)"/>
<circle cx="336" cy="299.3" r="1" fill="url(#gb)"/>
<circle cx="339" cy="300.75" r="1" fill="url(#gb)"/>
<circle cx="336" cy="302.2" r="1" fill="url(#gb)"/>
<circle cx="339" cy="303.65" r="1" fill="url(#gb)"/>
<circle cx="336" cy="305.1" r="1" fill="url(#gb)"/>
<circle cx="339" cy="306.55" r="1" fill="url(#gb)"/>
<circle cx="336" cy="308" r="1" fill="url(#gb)"/>
<circle cx="339" cy="309.45" r="1" fill="url(#gb)"/>
<circle cx="336" cy="310.9" r="1" fill="url(#gb)"/>
<circle cx="339" cy="312.35" r="1" fill="url(#gb)"/>
<circle cx="336" cy="313.8" r="1" fill="url(#gb)"/>
<circle cx="339" cy="315.25" r="1" fill="url(#gb)"/>
<circle cx="336" cy="316.7" r="1" fill="url(#gb)"/>
<circle cx="339" cy="318.15" r="1" fill="url(#gb)"/>
<path d="M291.61,264.2 L287.8,266.4 L283.99,264.2 L283.99,259.8 L287.8,257.6 L291.61,259.8Z" fill="none" stroke="#8a5a3c" stroke-width="1.17"/>
<circle cx="291.61" cy="264.2" r="0.8" fill="url(#gb)"/>
<circle cx="287.8" cy="266.4" r="0.8" fill="url(#gb)"/>
<circle cx="283.99" cy="264.2" r="0.8" fill="url(#gb)"/>
<circle cx="283.99" cy="259.8" r="0.8" fill="url(#gb)"/>
<circle cx="287.8" cy="257.6" r="0.8" fill="url(#gb)"/>
<circle cx="291.61" cy="259.8" r="0.8" fill="url(#gb)"/>
<line x1="291.61" y1="264.2" x2="293.33" y2="265.19" stroke="#c8a898" stroke-width="0.4" stroke-linecap="round"/>
<circle cx="293.33" cy="265.19" r="0.45" fill="#f4dede"/>
<line x1="287.8" y1="266.4" x2="287.8" y2="268.38" stroke="#c8a898" stroke-width="0.4" stroke-linecap="round"/>
<circle cx="287.8" cy="268.38" r="0.45" fill="#f4dede"/>
<line x1="283.99" y1="264.2" x2="282.27" y2="265.19" stroke="#c8a898" stroke-width="0.4" stroke-linecap="round"/>
<circle cx="282.27" cy="265.19" r="0.45" fill="#f4dede"/>
<path d="M294.01,271.7 L290.2,273.9 L286.39,271.7 L286.39,267.3 L290.2,265.1 L294.01,267.3Z" fill="none" stroke="#8a5a3c" stroke-width="1.17"/>
<circle cx="294.01" cy="271.7" r="0.8" fill="url(#gb)"/>
<circle cx="290.2" cy="273.9" r="0.8" fill="url(#gb)"/>
<circle cx="286.39" cy="271.7" r="0.8" fill="url(#gb)"/>
<circle cx="286.39" cy="267.3" r="0.8" fill="url(#gb)"/>
<circle cx="290.2" cy="265.1" r="0.8" fill="url(#gb)"/>
<circle cx="294.01" cy="267.3" r="0.8" fill="url(#gb)"/>
<line x1="294.01" y1="271.7" x2="295.73" y2="272.69" stroke="#c8a898" stroke-width="0.4" stroke-linecap="round"/>
<circle cx="295.73" cy="272.69" r="0.45" fill="#f4dede"/>
<line x1="290.2" y1="273.9" x2="290.2" y2="275.88" stroke="#c8a898" stroke-width="0.4" stroke-linecap="round"/>
<circle cx="290.2" cy="275.88" r="0.45" fill="#f4dede"/>
<line x1="286.39" y1="271.7" x2="284.67" y2="272.69" stroke="#c8a898" stroke-width="0.4" stroke-linecap="round"/>
<circle cx="284.67" cy="272.69" r="0.45" fill="#f4dede"/>
<path d="M291.61,279.2 L287.8,281.4 L283.99,279.2 L283.99,274.8 L287.8,272.6 L291.61,274.8Z" fill="none" stroke="#8a5a3c" stroke-width="1.17"/>
<circle cx="291.61" cy="279.2" r="0.8" fill="url(#gb)"/>
<circle cx="287.8" cy="281.4" r="0.8" fill="url(#gb)"/>
<circle cx="283.99" cy="279.2" r="0.8" fill="url(#gb)"/>
<circle cx="283.99" cy="274.8" r="0.8" fill="url(#gb)"/>
<circle cx="287.8" cy="272.6" r="0.8" fill="url(#gb)"/>
<circle cx="291.61" cy="274.8" r="0.8" fill="url(#gb)"/>
<line x1="291.61" y1="279.2" x2="293.33" y2="280.19" stroke="#c8a898" stroke-width="0.4" stroke-linecap="round"/>
<circle cx="293.33" cy="280.19" r="0.45" fill="#f4dede"/>
<line x1="287.8" y1="281.4" x2="287.8" y2="283.38" stroke="#c8a898" stroke-width="0.4" stroke-linecap="round"/>
<circle cx="287.8" cy="283.38" r="0.45" fill="#f4dede"/>
<line x1="283.99" y1="279.2" x2="282.27" y2="280.19" stroke="#c8a898" stroke-width="0.4" stroke-linecap="round"/>
<circle cx="282.27" cy="280.19" r="0.45" fill="#f4dede"/>
<path d="M294.01,286.7 L290.2,288.9 L286.39,286.7 L286.39,282.3 L290.2,280.1 L294.01,282.3Z" fill="none" stroke="#8a5a3c" stroke-width="1.17"/>
<circle cx="294.01" cy="286.7" r="0.8" fill="url(#gb)"/>
<circle cx="290.2" cy="288.9" r="0.8" fill="url(#gb)"/>
<circle cx="286.39" cy="286.7" r="0.8" fill="url(#gb)"/>
<circle cx="286.39" cy="282.3" r="0.8" fill="url(#gb)"/>
<circle cx="290.2" cy="280.1" r="0.8" fill="url(#gb)"/>
<circle cx="294.01" cy="282.3" r="0.8" fill="url(#gb)"/>
<line x1="294.01" y1="286.7" x2="295.73" y2="287.69" stroke="#c8a898" stroke-width="0.4" stroke-linecap="round"/>
<circle cx="295.73" cy="287.69" r="0.45" fill="#f4dede"/>
<line x1="290.2" y1="288.9" x2="290.2" y2="290.88" stroke="#c8a898" stroke-width="0.4" stroke-linecap="round"/>
<circle cx="290.2" cy="290.88" r="0.45" fill="#f4dede"/>
<line x1="286.39" y1="286.7" x2="284.67" y2="287.69" stroke="#c8a898" stroke-width="0.4" stroke-linecap="round"/>
<circle cx="284.67" cy="287.69" r="0.45" fill="#f4dede"/>
<path d="M291.61,294.2 L287.8,296.4 L283.99,294.2 L283.99,289.8 L287.8,287.6 L291.61,289.8Z" fill="none" stroke="#8a5a3c" stroke-width="1.17"/>
<circle cx="291.61" cy="294.2" r="0.8" fill="url(#gb)"/>
<circle cx="287.8" cy="296.4" r="0.8" fill="url(#gb)"/>
<circle cx="283.99" cy="294.2" r="0.8" fill="url(#gb)"/>
<circle cx="283.99" cy="289.8" r="0.8" fill="url(#gb)"/>
<circle cx="287.8" cy="287.6" r="0.8" fill="url(#gb)"/>
<circle cx="291.61" cy="289.8" r="0.8" fill="url(#gb)"/>
<line x1="291.61" y1="294.2" x2="293.33" y2="295.19" stroke="#c8a898" stroke-width="0.4" stroke-linecap="round"/>
<circle cx="293.33" cy="295.19" r="0.45" fill="#f4dede"/>
<line x1="287.8" y1="296.4" x2="287.8" y2="298.38" stroke="#c8a898" stroke-width="0.4" stroke-linecap="round"/>
<circle cx="287.8" cy="298.38" r="0.45" fill="#f4dede"/>
<line x1="283.99" y1="294.2" x2="282.27" y2="295.19" stroke="#c8a898" stroke-width="0.4" stroke-linecap="round"/>
<circle cx="282.27" cy="295.19" r="0.45" fill="#f4dede"/>
<path d="M294.01,301.7 L290.2,303.9 L286.39,301.7 L286.39,297.3 L290.2,295.1 L294.01,297.3Z" fill="none" stroke="#8a5a3c" stroke-width="1.17"/>
<circle cx="294.01" cy="301.7" r="0.8" fill="url(#gb)"/>
<circle cx="290.2" cy="303.9" r="0.8" fill="url(#gb)"/>
<circle cx="286.39" cy="301.7" r="0.8" fill="url(#gb)"/>
<circle cx="286.39" cy="297.3" r="0.8" fill="url(#gb)"/>
<circle cx="290.2" cy="295.1" r="0.8" fill="url(#gb)"/>
<circle cx="294.01" cy="297.3" r="0.8" fill="url(#gb)"/>
<line x1="294.01" y1="301.7" x2="295.73" y2="302.69" stroke="#c8a898" stroke-width="0.4" stroke-linecap="round"/>
<circle cx="295.73" cy="302.69" r="0.45" fill="#f4dede"/>
<line x1="290.2" y1="303.9" x2="290.2" y2="305.88" stroke="#c8a898" stroke-width="0.4" stroke-linecap="round"/>
<circle cx="290.2" cy="305.88" r="0.45" fill="#f4dede"/>
<line x1="286.39" y1="301.7" x2="284.67" y2="302.69" stroke="#c8a898" stroke-width="0.4" stroke-linecap="round"/>
<circle cx="284.67" cy="302.69" r="0.45" fill="#f4dede"/>
<path d="M291.61,309.2 L287.8,311.4 L283.99,309.2 L283.99,304.8 L287.8,302.6 L291.61,304.8Z" fill="none" stroke="#8a5a3c" stroke-width="1.17"/>
<circle cx="291.61" cy="309.2" r="0.8" fill="url(#gb)"/>
<circle cx="287.8" cy="311.4" r="0.8" fill="url(#gb)"/>
<circle cx="283.99" cy="309.2" r="0.8" fill="url(#gb)"/>
<circle cx="283.99" cy="304.8" r="0.8" fill="url(#gb)"/>
<circle cx="287.8" cy="302.6" r="0.8" fill="url(#gb)"/>
<circle cx="291.61" cy="304.8" r="0.8" fill="url(#gb)"/>
<line x1="291.61" y1="309.2" x2="293.33" y2="310.19" stroke="#c8a898" stroke-width="0.4" stroke-linecap="round"/>
<circle cx="293.33" cy="310.19" r="0.45" fill="#f4dede"/>
<line x1="287.8" y1="311.4" x2="287.8" y2="313.38" stroke="#c8a898" stroke-width="0.4" stroke-linecap="round"/>
<circle cx="287.8" cy="313.38" r="0.45" fill="#f4dede"/>
<line x1="283.99" y1="309.2" x2="282.27" y2="310.19" stroke="#c8a898" stroke-width="0.4" stroke-linecap="round"/>
<circle cx="282.27" cy="310.19" r="0.45" fill="#f4dede"/>
<path d="M294.01,316.7 L290.2,318.9 L286.39,316.7 L286.39,312.3 L290.2,310.1 L294.01,312.3Z" fill="none" stroke="#8a5a3c" stroke-width="1.17"/>
<circle cx="294.01" cy="316.7" r="0.8" fill="url(#gb)"/>
<circle cx="290.2" cy="318.9" r="0.8" fill="url(#gb)"/>
<circle cx="286.39" cy="316.7" r="0.8" fill="url(#gb)"/>
<circle cx="286.39" cy="312.3" r="0.8" fill="url(#gb)"/>
<circle cx="290.2" cy="310.1" r="0.8" fill="url(#gb)"/>
<circle cx="294.01" cy="312.3" r="0.8" fill="url(#gb)"/>
<line x1="294.01" y1="316.7" x2="295.73" y2="317.69" stroke="#c8a898" stroke-width="0.4" stroke-linecap="round"/>
<circle cx="295.73" cy="317.69" r="0.45" fill="#f4dede"/>
<line x1="290.2" y1="318.9" x2="290.2" y2="320.88" stroke="#c8a898" stroke-width="0.4" stroke-linecap="round"/>
<circle cx="290.2" cy="320.88" r="0.45" fill="#f4dede"/>
<line x1="286.39" y1="316.7" x2="284.67" y2="317.69" stroke="#c8a898" stroke-width="0.4" stroke-linecap="round"/>
<circle cx="284.67" cy="317.69" r="0.45" fill="#f4dede"/>
<path d="M339.61,260.2 L335.8,262.4 L331.99,260.2 L331.99,255.8 L335.8,253.6 L339.61,255.8Z" fill="none" stroke="#8a5a3c" stroke-width="1.17"/>
<circle cx="339.61" cy="260.2" r="0.8" fill="url(#gb)"/>
<circle cx="335.8" cy="262.4" r="0.8" fill="url(#gb)"/>
<circle cx="331.99" cy="260.2" r="0.8" fill="url(#gb)"/>
<circle cx="331.99" cy="255.8" r="0.8" fill="url(#gb)"/>
<circle cx="335.8" cy="253.6" r="0.8" fill="url(#gb)"/>
<circle cx="339.61" cy="255.8" r="0.8" fill="url(#gb)"/>
<line x1="339.61" y1="260.2" x2="341.33" y2="261.19" stroke="#c8a898" stroke-width="0.4" stroke-linecap="round"/>
<circle cx="341.33" cy="261.19" r="0.45" fill="#f4dede"/>
<line x1="335.8" y1="262.4" x2="335.8" y2="264.38" stroke="#c8a898" stroke-width="0.4" stroke-linecap="round"/>
<circle cx="335.8" cy="264.38" r="0.45" fill="#f4dede"/>
<line x1="331.99" y1="260.2" x2="330.27" y2="261.19" stroke="#c8a898" stroke-width="0.4" stroke-linecap="round"/>
<circle cx="330.27" cy="261.19" r="0.45" fill="#f4dede"/>
<path d="M342.01,267.7 L338.2,269.9 L334.39,267.7 L334.39,263.3 L338.2,261.1 L342.01,263.3Z" fill="none" stroke="#8a5a3c" stroke-width="1.17"/>
<circle cx="342.01" cy="267.7" r="0.8" fill="url(#gb)"/>
<circle cx="338.2" cy="269.9" r="0.8" fill="url(#gb)"/>
<circle cx="334.39" cy="267.7" r="0.8" fill="url(#gb)"/>
<circle cx="334.39" cy="263.3" r="0.8" fill="url(#gb)"/>
<circle cx="338.2" cy="261.1" r="0.8" fill="url(#gb)"/>
<circle cx="342.01" cy="263.3" r="0.8" fill="url(#gb)"/>
<line x1="342.01" y1="267.7" x2="343.73" y2="268.69" stroke="#c8a898" stroke-width="0.4" stroke-linecap="round"/>
<circle cx="343.73" cy="268.69" r="0.45" fill="#f4dede"/>
<line x1="338.2" y1="269.9" x2="338.2" y2="271.88" stroke="#c8a898" stroke-width="0.4" stroke-linecap="round"/>
<circle cx="338.2" cy="271.88" r="0.45" fill="#f4dede"/>
<line x1="334.39" y1="267.7" x2="332.67" y2="268.69" stroke="#c8a898" stroke-width="0.4" stroke-linecap="round"/>
<circle cx="332.67" cy="268.69" r="0.45" fill="#f4dede"/>
<path d="M339.61,275.2 L335.8,277.4 L331.99,275.2 L331.99,270.8 L335.8,268.6 L339.61,270.8Z" fill="none" stroke="#8a5a3c" stroke-width="1.17"/>
<circle cx="339.61" cy="275.2" r="0.8" fill="url(#gb)"/>
<circle cx="335.8" cy="277.4" r="0.8" fill="url(#gb)"/>
<circle cx="331.99" cy="275.2" r="0.8" fill="url(#gb)"/>
<circle cx="331.99" cy="270.8" r="0.8" fill="url(#gb)"/>
<circle cx="335.8" cy="268.6" r="0.8" fill="url(#gb)"/>
<circle cx="339.61" cy="270.8" r="0.8" fill="url(#gb)"/>
<line x1="339.61" y1="275.2" x2="341.33" y2="276.19" stroke="#c8a898" stroke-width="0.4" stroke-linecap="round"/>
<circle cx="341.33" cy="276.19" r="0.45" fill="#f4dede"/>
<line x1="335.8" y1="277.4" x2="335.8" y2="279.38" stroke="#c8a898" stroke-width="0.4" stroke-linecap="round"/>
<circle cx="335.8" cy="279.38" r="0.45" fill="#f4dede"/>
<line x1="331.99" y1="275.2" x2="330.27" y2="276.19" stroke="#c8a898" stroke-width="0.4" stroke-linecap="round"/>
<circle cx="330.27" cy="276.19" r="0.45" fill="#f4dede"/>
<path d="M342.01,282.7 L338.2,284.9 L334.39,282.7 L334.39,278.3 L338.2,276.1 L342.01,278.3Z" fill="none" stroke="#8a5a3c" stroke-width="1.17"/>
<circle cx="342.01" cy="282.7" r="0.8" fill="url(#gb)"/>
<circle cx="338.2" cy="284.9" r="0.8" fill="url(#gb)"/>
<circle cx="334.39" cy="282.7" r="0.8" fill="url(#gb)"/>
<circle cx="334.39" cy="278.3" r="0.8" fill="url(#gb)"/>
<circle cx="338.2" cy="276.1" r="0.8" fill="url(#gb)"/>
<circle cx="342.01" cy="278.3" r="0.8" fill="url(#gb)"/>
<line x1="342.01" y1="282.7" x2="343.73" y2="283.69" stroke="#c8a898" stroke-width="0.4" stroke-linecap="round"/>
<circle cx="343.73" cy="283.69" r="0.45" fill="#f4dede"/>
<line x1="338.2" y1="284.9" x2="338.2" y2="286.88" stroke="#c8a898" stroke-width="0.4" stroke-linecap="round"/>
<circle cx="338.2" cy="286.88" r="0.45" fill="#f4dede"/>
<line x1="334.39" y1="282.7" x2="332.67" y2="283.69" stroke="#c8a898" stroke-width="0.4" stroke-linecap="round"/>
<circle cx="332.67" cy="283.69" r="0.45" fill="#f4dede"/>
<path d="M339.61,290.2 L335.8,292.4 L331.99,290.2 L331.99,285.8 L335.8,283.6 L339.61,285.8Z" fill="none" stroke="#8a5a3c" stroke-width="1.17"/>
<circle cx="339.61" cy="290.2" r="0.8" fill="url(#gb)"/>
<circle cx="335.8" cy="292.4" r="0.8" fill="url(#gb)"/>
<circle cx="331.99" cy="290.2" r="0.8" fill="url(#gb)"/>
<circle cx="331.99" cy="285.8" r="0.8" fill="url(#gb)"/>
<circle cx="335.8" cy="283.6" r="0.8" fill="url(#gb)"/>
<circle cx="339.61" cy="285.8" r="0.8" fill="url(#gb)"/>
<line x1="339.61" y1="290.2" x2="341.33" y2="291.19" stroke="#c8a898" stroke-width="0.4" stroke-linecap="round"/>
<circle cx="341.33" cy="291.19" r="0.45" fill="#f4dede"/>
<line x1="335.8" y1="292.4" x2="335.8" y2="294.38" stroke="#c8a898" stroke-width="0.4" stroke-linecap="round"/>
<circle cx="335.8" cy="294.38" r="0.45" fill="#f4dede"/>
<line x1="331.99" y1="290.2" x2="330.27" y2="291.19" stroke="#c8a898" stroke-width="0.4" stroke-linecap="round"/>
<circle cx="330.27" cy="291.19" r="0.45" fill="#f4dede"/>
<path d="M342.01,297.7 L338.2,299.9 L334.39,297.7 L334.39,293.3 L338.2,291.1 L342.01,293.3Z" fill="none" stroke="#8a5a3c" stroke-width="1.17"/>
<circle cx="342.01" cy="297.7" r="0.8" fill="url(#gb)"/>
<circle cx="338.2" cy="299.9" r="0.8" fill="url(#gb)"/>
<circle cx="334.39" cy="297.7" r="0.8" fill="url(#gb)"/>
<circle cx="334.39" cy="293.3" r="0.8" fill="url(#gb)"/>
<circle cx="338.2" cy="291.1" r="0.8" fill="url(#gb)"/>
<circle cx="342.01" cy="293.3" r="0.8" fill="url(#gb)"/>
<line x1="342.01" y1="297.7" x2="343.73" y2="298.69" stroke="#c8a898" stroke-width="0.4" stroke-linecap="round"/>
<circle cx="343.73" cy="298.69" r="0.45" fill="#f4dede"/>
<line x1="338.2" y1="299.9" x2="338.2" y2="301.88" stroke="#c8a898" stroke-width="0.4" stroke-linecap="round"/>
<circle cx="338.2" cy="301.88" r="0.45" fill="#f4dede"/>
<line x1="334.39" y1="297.7" x2="332.67" y2="298.69" stroke="#c8a898" stroke-width="0.4" stroke-linecap="round"/>
<circle cx="332.67" cy="298.69" r="0.45" fill="#f4dede"/>
<path d="M339.61,305.2 L335.8,307.4 L331.99,305.2 L331.99,300.8 L335.8,298.6 L339.61,300.8Z" fill="none" stroke="#8a5a3c" stroke-width="1.17"/>
<circle cx="339.61" cy="305.2" r="0.8" fill="url(#gb)"/>
<circle cx="335.8" cy="307.4" r="0.8" fill="url(#gb)"/>
<circle cx="331.99" cy="305.2" r="0.8" fill="url(#gb)"/>
<circle cx="331.99" cy="300.8" r="0.8" fill="url(#gb)"/>
<circle cx="335.8" cy="298.6" r="0.8" fill="url(#gb)"/>
<circle cx="339.61" cy="300.8" r="0.8" fill="url(#gb)"/>
<line x1="339.61" y1="305.2" x2="341.33" y2="306.19" stroke="#c8a898" stroke-width="0.4" stroke-linecap="round"/>
<circle cx="341.33" cy="306.19" r="0.45" fill="#f4dede"/>
<line x1="335.8" y1="307.4" x2="335.8" y2="309.38" stroke="#c8a898" stroke-width="0.4" stroke-linecap="round"/>
<circle cx="335.8" cy="309.38" r="0.45" fill="#f4dede"/>
<line x1="331.99" y1="305.2" x2="330.27" y2="306.19" stroke="#c8a898" stroke-width="0.4" stroke-linecap="round"/>
<circle cx="330.27" cy="306.19" r="0.45" fill="#f4dede"/>
<path d="M342.01,312.7 L338.2,314.9 L334.39,312.7 L334.39,308.3 L338.2,306.1 L342.01,308.3Z" fill="none" stroke="#8a5a3c" stroke-width="1.17"/>
<circle cx="342.01" cy="312.7" r="0.8" fill="url(#gb)"/>
<circle cx="338.2" cy="314.9" r="0.8" fill="url(#gb)"/>
<circle cx="334.39" cy="312.7" r="0.8" fill="url(#gb)"/>
<circle cx="334.39" cy="308.3" r="0.8" fill="url(#gb)"/>
<circle cx="338.2" cy="306.1" r="0.8" fill="url(#gb)"/>
<circle cx="342.01" cy="308.3" r="0.8" fill="url(#gb)"/>
<line x1="342.01" y1="312.7" x2="343.73" y2="313.69" stroke="#c8a898" stroke-width="0.4" stroke-linecap="round"/>
<circle cx="343.73" cy="313.69" r="0.45" fill="#f4dede"/>
<line x1="338.2" y1="314.9" x2="338.2" y2="316.88" stroke="#c8a898" stroke-width="0.4" stroke-linecap="round"/>
<circle cx="338.2" cy="316.88" r="0.45" fill="#f4dede"/>
<line x1="334.39" y1="312.7" x2="332.67" y2="313.69" stroke="#c8a898" stroke-width="0.4" stroke-linecap="round"/>
<circle cx="332.67" cy="313.69" r="0.45" fill="#f4dede"/>
<path d="M299.09,241.9 L295.8,243.8 L292.51,241.9 L292.51,238.1 L295.8,236.2 L299.09,238.1Z" fill="none" stroke="#8a5a3c" stroke-width="1.17"/>
<circle cx="299.09" cy="241.9" r="0.8" fill="url(#gb)"/>
<circle cx="295.8" cy="243.8" r="0.8" fill="url(#gb)"/>
<circle cx="292.51" cy="241.9" r="0.8" fill="url(#gb)"/>
<circle cx="292.51" cy="238.1" r="0.8" fill="url(#gb)"/>
<circle cx="295.8" cy="236.2" r="0.8" fill="url(#gb)"/>
<circle cx="299.09" cy="238.1" r="0.8" fill="url(#gb)"/>
<line x1="299.09" y1="241.9" x2="300.57" y2="242.75" stroke="#c8a898" stroke-width="0.4" stroke-linecap="round"/>
<circle cx="300.57" cy="242.75" r="0.45" fill="#f4dede"/>
<line x1="295.8" y1="243.8" x2="295.8" y2="245.51" stroke="#c8a898" stroke-width="0.4" stroke-linecap="round"/>
<circle cx="295.8" cy="245.51" r="0.45" fill="#f4dede"/>
<line x1="292.51" y1="241.9" x2="291.03" y2="242.75" stroke="#c8a898" stroke-width="0.4" stroke-linecap="round"/>
<circle cx="291.03" cy="242.75" r="0.45" fill="#f4dede"/>
<path d="M301.49,250.9 L298.2,252.8 L294.91,250.9 L294.91,247.1 L298.2,245.2 L301.49,247.1Z" fill="none" stroke="#8a5a3c" stroke-width="1.17"/>
<circle cx="301.49" cy="250.9" r="0.8" fill="url(#gb)"/>
<circle cx="298.2" cy="252.8" r="0.8" fill="url(#gb)"/>
<circle cx="294.91" cy="250.9" r="0.8" fill="url(#gb)"/>
<circle cx="294.91" cy="247.1" r="0.8" fill="url(#gb)"/>
<circle cx="298.2" cy="245.2" r="0.8" fill="url(#gb)"/>
<circle cx="301.49" cy="247.1" r="0.8" fill="url(#gb)"/>
<line x1="301.49" y1="250.9" x2="302.97" y2="251.75" stroke="#c8a898" stroke-width="0.4" stroke-linecap="round"/>
<circle cx="302.97" cy="251.75" r="0.45" fill="#f4dede"/>
<line x1="298.2" y1="252.8" x2="298.2" y2="254.51" stroke="#c8a898" stroke-width="0.4" stroke-linecap="round"/>
<circle cx="298.2" cy="254.51" r="0.45" fill="#f4dede"/>
<line x1="294.91" y1="250.9" x2="293.43" y2="251.75" stroke="#c8a898" stroke-width="0.4" stroke-linecap="round"/>
<circle cx="293.43" cy="251.75" r="0.45" fill="#f4dede"/>
<path d="M299.09,259.9 L295.8,261.8 L292.51,259.9 L292.51,256.1 L295.8,254.2 L299.09,256.1Z" fill="none" stroke="#8a5a3c" stroke-width="1.17"/>
<circle cx="299.09" cy="259.9" r="0.8" fill="url(#gb)"/>
<circle cx="295.8" cy="261.8" r="0.8" fill="url(#gb)"/>
<circle cx="292.51" cy="259.9" r="0.8" fill="url(#gb)"/>
<circle cx="292.51" cy="256.1" r="0.8" fill="url(#gb)"/>
<circle cx="295.8" cy="254.2" r="0.8" fill="url(#gb)"/>
<circle cx="299.09" cy="256.1" r="0.8" fill="url(#gb)"/>
<line x1="299.09" y1="259.9" x2="300.57" y2="260.75" stroke="#c8a898" stroke-width="0.4" stroke-linecap="round"/>
<circle cx="300.57" cy="260.75" r="0.45" fill="#f4dede"/>
<line x1="295.8" y1="261.8" x2="295.8" y2="263.51" stroke="#c8a898" stroke-width="0.4" stroke-linecap="round"/>
<circle cx="295.8" cy="263.51" r="0.45" fill="#f4dede"/>
<line x1="292.51" y1="259.9" x2="291.03" y2="260.75" stroke="#c8a898" stroke-width="0.4" stroke-linecap="round"/>
<circle cx="291.03" cy="260.75" r="0.45" fill="#f4dede"/>
<path d="M301.49,268.9 L298.2,270.8 L294.91,268.9 L294.91,265.1 L298.2,263.2 L301.49,265.1Z" fill="none" stroke="#8a5a3c" stroke-width="1.17"/>
<circle cx="301.49" cy="268.9" r="0.8" fill="url(#gb)"/>
<circle cx="298.2" cy="270.8" r="0.8" fill="url(#gb)"/>
<circle cx="294.91" cy="268.9" r="0.8" fill="url(#gb)"/>
<circle cx="294.91" cy="265.1" r="0.8" fill="url(#gb)"/>
<circle cx="298.2" cy="263.2" r="0.8" fill="url(#gb)"/>
<circle cx="301.49" cy="265.1" r="0.8" fill="url(#gb)"/>
<line x1="301.49" y1="268.9" x2="302.97" y2="269.75" stroke="#c8a898" stroke-width="0.4" stroke-linecap="round"/>
<circle cx="302.97" cy="269.75" r="0.45" fill="#f4dede"/>
<line x1="298.2" y1="270.8" x2="298.2" y2="272.51" stroke="#c8a898" stroke-width="0.4" stroke-linecap="round"/>
<circle cx="298.2" cy="272.51" r="0.45" fill="#f4dede"/>
<line x1="294.91" y1="268.9" x2="293.43" y2="269.75" stroke="#c8a898" stroke-width="0.4" stroke-linecap="round"/>
<circle cx="293.43" cy="269.75" r="0.45" fill="#f4dede"/>
<path d="M299.09,277.9 L295.8,279.8 L292.51,277.9 L292.51,274.1 L295.8,272.2 L299.09,274.1Z" fill="none" stroke="#8a5a3c" stroke-width="1.17"/>
<circle cx="299.09" cy="277.9" r="0.8" fill="url(#gb)"/>
<circle cx="295.8" cy="279.8" r="0.8" fill="url(#gb)"/>
<circle cx="292.51" cy="277.9" r="0.8" fill="url(#gb)"/>
<circle cx="292.51" cy="274.1" r="0.8" fill="url(#gb)"/>
<circle cx="295.8" cy="272.2" r="0.8" fill="url(#gb)"/>
<circle cx="299.09" cy="274.1" r="0.8" fill="url(#gb)"/>
<line x1="299.09" y1="277.9" x2="300.57" y2="278.75" stroke="#c8a898" stroke-width="0.4" stroke-linecap="round"/>
<circle cx="300.57" cy="278.75" r="0.45" fill="#f4dede"/>
<line x1="295.8" y1="279.8" x2="295.8" y2="281.51" stroke="#c8a898" stroke-width="0.4" stroke-linecap="round"/>
<circle cx="295.8" cy="281.51" r="0.45" fill="#f4dede"/>
<line x1="292.51" y1="277.9" x2="291.03" y2="278.75" stroke="#c8a898" stroke-width="0.4" stroke-linecap="round"/>
<circle cx="291.03" cy="278.75" r="0.45" fill="#f4dede"/>
<path d="M301.49,286.9 L298.2,288.8 L294.91,286.9 L294.91,283.1 L298.2,281.2 L301.49,283.1Z" fill="none" stroke="#8a5a3c" stroke-width="1.17"/>
<circle cx="301.49" cy="286.9" r="0.8" fill="url(#gb)"/>
<circle cx="298.2" cy="288.8" r="0.8" fill="url(#gb)"/>
<circle cx="294.91" cy="286.9" r="0.8" fill="url(#gb)"/>
<circle cx="294.91" cy="283.1" r="0.8" fill="url(#gb)"/>
<circle cx="298.2" cy="281.2" r="0.8" fill="url(#gb)"/>
<circle cx="301.49" cy="283.1" r="0.8" fill="url(#gb)"/>
<line x1="301.49" y1="286.9" x2="302.97" y2="287.75" stroke="#c8a898" stroke-width="0.4" stroke-linecap="round"/>
<circle cx="302.97" cy="287.75" r="0.45" fill="#f4dede"/>
<line x1="298.2" y1="288.8" x2="298.2" y2="290.51" stroke="#c8a898" stroke-width="0.4" stroke-linecap="round"/>
<circle cx="298.2" cy="290.51" r="0.45" fill="#f4dede"/>
<line x1="294.91" y1="286.9" x2="293.43" y2="287.75" stroke="#c8a898" stroke-width="0.4" stroke-linecap="round"/>
<circle cx="293.43" cy="287.75" r="0.45" fill="#f4dede"/>
<path d="M299.09,295.9 L295.8,297.8 L292.51,295.9 L292.51,292.1 L295.8,290.2 L299.09,292.1Z" fill="none" stroke="#8a5a3c" stroke-width="1.17"/>
<circle cx="299.09" cy="295.9" r="0.8" fill="url(#gb)"/>
<circle cx="295.8" cy="297.8" r="0.8" fill="url(#gb)"/>
<circle cx="292.51" cy="295.9" r="0.8" fill="url(#gb)"/>
<circle cx="292.51" cy="292.1" r="0.8" fill="url(#gb)"/>
<circle cx="295.8" cy="290.2" r="0.8" fill="url(#gb)"/>
<circle cx="299.09" cy="292.1" r="0.8" fill="url(#gb)"/>
<line x1="299.09" y1="295.9" x2="300.57" y2="296.75" stroke="#c8a898" stroke-width="0.4" stroke-linecap="round"/>
<circle cx="300.57" cy="296.75" r="0.45" fill="#f4dede"/>
<line x1="295.8" y1="297.8" x2="295.8" y2="299.51" stroke="#c8a898" stroke-width="0.4" stroke-linecap="round"/>
<circle cx="295.8" cy="299.51" r="0.45" fill="#f4dede"/>
<line x1="292.51" y1="295.9" x2="291.03" y2="296.75" stroke="#c8a898" stroke-width="0.4" stroke-linecap="round"/>
<circle cx="291.03" cy="296.75" r="0.45" fill="#f4dede"/>
<path d="M301.49,304.9 L298.2,306.8 L294.91,304.9 L294.91,301.1 L298.2,299.2 L301.49,301.1Z" fill="none" stroke="#8a5a3c" stroke-width="1.17"/>
<circle cx="301.49" cy="304.9" r="0.8" fill="url(#gb)"/>
<circle cx="298.2" cy="306.8" r="0.8" fill="url(#gb)"/>
<circle cx="294.91" cy="304.9" r="0.8" fill="url(#gb)"/>
<circle cx="294.91" cy="301.1" r="0.8" fill="url(#gb)"/>
<circle cx="298.2" cy="299.2" r="0.8" fill="url(#gb)"/>
<circle cx="301.49" cy="301.1" r="0.8" fill="url(#gb)"/>
<line x1="301.49" y1="304.9" x2="302.97" y2="305.75" stroke="#c8a898" stroke-width="0.4" stroke-linecap="round"/>
<circle cx="302.97" cy="305.75" r="0.45" fill="#f4dede"/>
<line x1="298.2" y1="306.8" x2="298.2" y2="308.51" stroke="#c8a898" stroke-width="0.4" stroke-linecap="round"/>
<circle cx="298.2" cy="308.51" r="0.45" fill="#f4dede"/>
<line x1="294.91" y1="304.9" x2="293.43" y2="305.75" stroke="#c8a898" stroke-width="0.4" stroke-linecap="round"/>
<circle cx="293.43" cy="305.75" r="0.45" fill="#f4dede"/>
<path d="M299.09,313.9 L295.8,315.8 L292.51,313.9 L292.51,310.1 L295.8,308.2 L299.09,310.1Z" fill="none" stroke="#8a5a3c" stroke-width="1.17"/>
<circle cx="299.09" cy="313.9" r="0.8" fill="url(#gb)"/>
<circle cx="295.8" cy="315.8" r="0.8" fill="url(#gb)"/>
<circle cx="292.51" cy="313.9" r="0.8" fill="url(#gb)"/>
<circle cx="292.51" cy="310.1" r="0.8" fill="url(#gb)"/>
<circle cx="295.8" cy="308.2" r="0.8" fill="url(#gb)"/>
<circle cx="299.09" cy="310.1" r="0.8" fill="url(#gb)"/>
<line x1="299.09" y1="313.9" x2="300.57" y2="314.75" stroke="#c8a898" stroke-width="0.4" stroke-linecap="round"/>
<circle cx="300.57" cy="314.75" r="0.45" fill="#f4dede"/>
<line x1="295.8" y1="315.8" x2="295.8" y2="317.51" stroke="#c8a898" stroke-width="0.4" stroke-linecap="round"/>
<circle cx="295.8" cy="317.51" r="0.45" fill="#f4dede"/>
<line x1="292.51" y1="313.9" x2="291.03" y2="314.75" stroke="#c8a898" stroke-width="0.4" stroke-linecap="round"/>
<circle cx="291.03" cy="314.75" r="0.45" fill="#f4dede"/>
<path d="M331.09,237.9 L327.8,239.8 L324.51,237.9 L324.51,234.1 L327.8,232.2 L331.09,234.1Z" fill="none" stroke="#8a5a3c" stroke-width="1.17"/>
<circle cx="331.09" cy="237.9" r="0.8" fill="url(#gb)"/>
<circle cx="327.8" cy="239.8" r="0.8" fill="url(#gb)"/>
<circle cx="324.51" cy="237.9" r="0.8" fill="url(#gb)"/>
<circle cx="324.51" cy="234.1" r="0.8" fill="url(#gb)"/>
<circle cx="327.8" cy="232.2" r="0.8" fill="url(#gb)"/>
<circle cx="331.09" cy="234.1" r="0.8" fill="url(#gb)"/>
<line x1="331.09" y1="237.9" x2="332.57" y2="238.75" stroke="#c8a898" stroke-width="0.4" stroke-linecap="round"/>
<circle cx="332.57" cy="238.75" r="0.45" fill="#f4dede"/>
<line x1="327.8" y1="239.8" x2="327.8" y2="241.51" stroke="#c8a898" stroke-width="0.4" stroke-linecap="round"/>
<circle cx="327.8" cy="241.51" r="0.45" fill="#f4dede"/>
<line x1="324.51" y1="237.9" x2="323.03" y2="238.75" stroke="#c8a898" stroke-width="0.4" stroke-linecap="round"/>
<circle cx="323.03" cy="238.75" r="0.45" fill="#f4dede"/>
<path d="M333.49,246.9 L330.2,248.8 L326.91,246.9 L326.91,243.1 L330.2,241.2 L333.49,243.1Z" fill="none" stroke="#8a5a3c" stroke-width="1.17"/>
<circle cx="333.49" cy="246.9" r="0.8" fill="url(#gb)"/>
<circle cx="330.2" cy="248.8" r="0.8" fill="url(#gb)"/>
<circle cx="326.91" cy="246.9" r="0.8" fill="url(#gb)"/>
<circle cx="326.91" cy="243.1" r="0.8" fill="url(#gb)"/>
<circle cx="330.2" cy="241.2" r="0.8" fill="url(#gb)"/>
<circle cx="333.49" cy="243.1" r="0.8" fill="url(#gb)"/>
<line x1="333.49" y1="246.9" x2="334.97" y2="247.75" stroke="#c8a898" stroke-width="0.4" stroke-linecap="round"/>
<circle cx="334.97" cy="247.75" r="0.45" fill="#f4dede"/>
<line x1="330.2" y1="248.8" x2="330.2" y2="250.51" stroke="#c8a898" stroke-width="0.4" stroke-linecap="round"/>
<circle cx="330.2" cy="250.51" r="0.45" fill="#f4dede"/>
<line x1="326.91" y1="246.9" x2="325.43" y2="247.75" stroke="#c8a898" stroke-width="0.4" stroke-linecap="round"/>
<circle cx="325.43" cy="247.75" r="0.45" fill="#f4dede"/>
<path d="M331.09,255.9 L327.8,257.8 L324.51,255.9 L324.51,252.1 L327.8,250.2 L331.09,252.1Z" fill="none" stroke="#8a5a3c" stroke-width="1.17"/>
<circle cx="331.09" cy="255.9" r="0.8" fill="url(#gb)"/>
<circle cx="327.8" cy="257.8" r="0.8" fill="url(#gb)"/>
<circle cx="324.51" cy="255.9" r="0.8" fill="url(#gb)"/>
<circle cx="324.51" cy="252.1" r="0.8" fill="url(#gb)"/>
<circle cx="327.8" cy="250.2" r="0.8" fill="url(#gb)"/>
<circle cx="331.09" cy="252.1" r="0.8" fill="url(#gb)"/>
<line x1="331.09" y1="255.9" x2="332.57" y2="256.75" stroke="#c8a898" stroke-width="0.4" stroke-linecap="round"/>
<circle cx="332.57" cy="256.75" r="0.45" fill="#f4dede"/>
<line x1="327.8" y1="257.8" x2="327.8" y2="259.51" stroke="#c8a898" stroke-width="0.4" stroke-linecap="round"/>
<circle cx="327.8" cy="259.51" r="0.45" fill="#f4dede"/>
<line x1="324.51" y1="255.9" x2="323.03" y2="256.75" stroke="#c8a898" stroke-width="0.4" stroke-linecap="round"/>
<circle cx="323.03" cy="256.75" r="0.45" fill="#f4dede"/>
<path d="M333.49,264.9 L330.2,266.8 L326.91,264.9 L326.91,261.1 L330.2,259.2 L333.49,261.1Z" fill="none" stroke="#8a5a3c" stroke-width="1.17"/>
<circle cx="333.49" cy="264.9" r="0.8" fill="url(#gb)"/>
<circle cx="330.2" cy="266.8" r="0.8" fill="url(#gb)"/>
<circle cx="326.91" cy="264.9" r="0.8" fill="url(#gb)"/>
<circle cx="326.91" cy="261.1" r="0.8" fill="url(#gb)"/>
<circle cx="330.2" cy="259.2" r="0.8" fill="url(#gb)"/>
<circle cx="333.49" cy="261.1" r="0.8" fill="url(#gb)"/>
<line x1="333.49" y1="264.9" x2="334.97" y2="265.75" stroke="#c8a898" stroke-width="0.4" stroke-linecap="round"/>
<circle cx="334.97" cy="265.75" r="0.45" fill="#f4dede"/>
<line x1="330.2" y1="266.8" x2="330.2" y2="268.51" stroke="#c8a898" stroke-width="0.4" stroke-linecap="round"/>
<circle cx="330.2" cy="268.51" r="0.45" fill="#f4dede"/>
<line x1="326.91" y1="264.9" x2="325.43" y2="265.75" stroke="#c8a898" stroke-width="0.4" stroke-linecap="round"/>
<circle cx="325.43" cy="265.75" r="0.45" fill="#f4dede"/>
<path d="M331.09,273.9 L327.8,275.8 L324.51,273.9 L324.51,270.1 L327.8,268.2 L331.09,270.1Z" fill="none" stroke="#8a5a3c" stroke-width="1.17"/>
<circle cx="331.09" cy="273.9" r="0.8" fill="url(#gb)"/>
<circle cx="327.8" cy="275.8" r="0.8" fill="url(#gb)"/>
<circle cx="324.51" cy="273.9" r="0.8" fill="url(#gb)"/>
<circle cx="324.51" cy="270.1" r="0.8" fill="url(#gb)"/>
<circle cx="327.8" cy="268.2" r="0.8" fill="url(#gb)"/>
<circle cx="331.09" cy="270.1" r="0.8" fill="url(#gb)"/>
<line x1="331.09" y1="273.9" x2="332.57" y2="274.75" stroke="#c8a898" stroke-width="0.4" stroke-linecap="round"/>
<circle cx="332.57" cy="274.75" r="0.45" fill="#f4dede"/>
<line x1="327.8" y1="275.8" x2="327.8" y2="277.51" stroke="#c8a898" stroke-width="0.4" stroke-linecap="round"/>
<circle cx="327.8" cy="277.51" r="0.45" fill="#f4dede"/>
<line x1="324.51" y1="273.9" x2="323.03" y2="274.75" stroke="#c8a898" stroke-width="0.4" stroke-linecap="round"/>
<circle cx="323.03" cy="274.75" r="0.45" fill="#f4dede"/>
<path d="M333.49,282.9 L330.2,284.8 L326.91,282.9 L326.91,279.1 L330.2,277.2 L333.49,279.1Z" fill="none" stroke="#8a5a3c" stroke-width="1.17"/>
<circle cx="333.49" cy="282.9" r="0.8" fill="url(#gb)"/>
<circle cx="330.2" cy="284.8" r="0.8" fill="url(#gb)"/>
<circle cx="326.91" cy="282.9" r="0.8" fill="url(#gb)"/>
<circle cx="326.91" cy="279.1" r="0.8" fill="url(#gb)"/>
<circle cx="330.2" cy="277.2" r="0.8" fill="url(#gb)"/>
<circle cx="333.49" cy="279.1" r="0.8" fill="url(#gb)"/>
<line x1="333.49" y1="282.9" x2="334.97" y2="283.75" stroke="#c8a898" stroke-width="0.4" stroke-linecap="round"/>
<circle cx="334.97" cy="283.75" r="0.45" fill="#f4dede"/>
<line x1="330.2" y1="284.8" x2="330.2" y2="286.51" stroke="#c8a898" stroke-width="0.4" stroke-linecap="round"/>
<circle cx="330.2" cy="286.51" r="0.45" fill="#f4dede"/>
<line x1="326.91" y1="282.9" x2="325.43" y2="283.75" stroke="#c8a898" stroke-width="0.4" stroke-linecap="round"/>
<circle cx="325.43" cy="283.75" r="0.45" fill="#f4dede"/>
<path d="M331.09,291.9 L327.8,293.8 L324.51,291.9 L324.51,288.1 L327.8,286.2 L331.09,288.1Z" fill="none" stroke="#8a5a3c" stroke-width="1.17"/>
<circle cx="331.09" cy="291.9" r="0.8" fill="url(#gb)"/>
<circle cx="327.8" cy="293.8" r="0.8" fill="url(#gb)"/>
<circle cx="324.51" cy="291.9" r="0.8" fill="url(#gb)"/>
<circle cx="324.51" cy="288.1" r="0.8" fill="url(#gb)"/>
<circle cx="327.8" cy="286.2" r="0.8" fill="url(#gb)"/>
<circle cx="331.09" cy="288.1" r="0.8" fill="url(#gb)"/>
<line x1="331.09" y1="291.9" x2="332.57" y2="292.75" stroke="#c8a898" stroke-width="0.4" stroke-linecap="round"/>
<circle cx="332.57" cy="292.75" r="0.45" fill="#f4dede"/>
<line x1="327.8" y1="293.8" x2="327.8" y2="295.51" stroke="#c8a898" stroke-width="0.4" stroke-linecap="round"/>
<circle cx="327.8" cy="295.51" r="0.45" fill="#f4dede"/>
<line x1="324.51" y1="291.9" x2="323.03" y2="292.75" stroke="#c8a898" stroke-width="0.4" stroke-linecap="round"/>
<circle cx="323.03" cy="292.75" r="0.45" fill="#f4dede"/>
<path d="M333.49,300.9 L330.2,302.8 L326.91,300.9 L326.91,297.1 L330.2,295.2 L333.49,297.1Z" fill="none" stroke="#8a5a3c" stroke-width="1.17"/>
<circle cx="333.49" cy="300.9" r="0.8" fill="url(#gb)"/>
<circle cx="330.2" cy="302.8" r="0.8" fill="url(#gb)"/>
<circle cx="326.91" cy="300.9" r="0.8" fill="url(#gb)"/>
<circle cx="326.91" cy="297.1" r="0.8" fill="url(#gb)"/>
<circle cx="330.2" cy="295.2" r="0.8" fill="url(#gb)"/>
<circle cx="333.49" cy="297.1" r="0.8" fill="url(#gb)"/>
<line x1="333.49" y1="300.9" x2="334.97" y2="301.75" stroke="#c8a898" stroke-width="0.4" stroke-linecap="round"/>
<circle cx="334.97" cy="301.75" r="0.45" fill="#f4dede"/>
<line x1="330.2" y1="302.8" x2="330.2" y2="304.51" stroke="#c8a898" stroke-width="0.4" stroke-linecap="round"/>
<circle cx="330.2" cy="304.51" r="0.45" fill="#f4dede"/>
<line x1="326.91" y1="300.9" x2="325.43" y2="301.75" stroke="#c8a898" stroke-width="0.4" stroke-linecap="round"/>
<circle cx="325.43" cy="301.75" r="0.45" fill="#f4dede"/>
<path d="M331.09,309.9 L327.8,311.8 L324.51,309.9 L324.51,306.1 L327.8,304.2 L331.09,306.1Z" fill="none" stroke="#8a5a3c" stroke-width="1.17"/>
<circle cx="331.09" cy="309.9" r="0.8" fill="url(#gb)"/>
<circle cx="327.8" cy="311.8" r="0.8" fill="url(#gb)"/>
<circle cx="324.51" cy="309.9" r="0.8" fill="url(#gb)"/>
<circle cx="324.51" cy="306.1" r="0.8" fill="url(#gb)"/>
<circle cx="327.8" cy="304.2" r="0.8" fill="url(#gb)"/>
<circle cx="331.09" cy="306.1" r="0.8" fill="url(#gb)"/>
<line x1="331.09" y1="309.9" x2="332.57" y2="310.75" stroke="#c8a898" stroke-width="0.4" stroke-linecap="round"/>
<circle cx="332.57" cy="310.75" r="0.45" fill="#f4dede"/>
<line x1="327.8" y1="311.8" x2="327.8" y2="313.51" stroke="#c8a898" stroke-width="0.4" stroke-linecap="round"/>
<circle cx="327.8" cy="313.51" r="0.45" fill="#f4dede"/>
<line x1="324.51" y1="309.9" x2="323.03" y2="310.75" stroke="#c8a898" stroke-width="0.4" stroke-linecap="round"/>
<circle cx="323.03" cy="310.75" r="0.45" fill="#f4dede"/>
<path d="M294.8,250.3 L292.2,254.8 L287,254.8 L284.4,250.3 L287,245.8 L292.2,245.8Z" fill="none" stroke="#8a5a3c" stroke-width="1.17"/>
<circle cx="294.8" cy="250.3" r="0.8" fill="url(#gb)"/>
<circle cx="292.2" cy="254.8" r="0.8" fill="url(#gb)"/>
<circle cx="287" cy="254.8" r="0.8" fill="url(#gb)"/>
<circle cx="284.4" cy="250.3" r="0.8" fill="url(#gb)"/>
<circle cx="287" cy="245.8" r="0.8" fill="url(#gb)"/>
<circle cx="292.2" cy="245.8" r="0.8" fill="url(#gb)"/>
<line x1="294.8" y1="250.3" x2="297.14" y2="250.3" stroke="#c8a898" stroke-width="0.4" stroke-linecap="round"/>
<circle cx="297.14" cy="250.3" r="0.45" fill="#f4dede"/>
<line x1="292.2" y1="254.8" x2="293.37" y2="256.83" stroke="#c8a898" stroke-width="0.4" stroke-linecap="round"/>
<circle cx="293.37" cy="256.83" r="0.45" fill="#f4dede"/>
<line x1="287" y1="254.8" x2="285.83" y2="256.83" stroke="#c8a898" stroke-width="0.4" stroke-linecap="round"/>
<circle cx="285.83" cy="256.83" r="0.45" fill="#f4dede"/>
<path d="M305.1,218.5 L302.8,222.48 L298.2,222.48 L295.9,218.5 L298.2,214.52 L302.8,214.52Z" fill="none" stroke="#8a5a3c" stroke-width="1.17"/>
<circle cx="305.1" cy="218.5" r="0.8" fill="url(#gb)"/>
<circle cx="302.8" cy="222.48" r="0.8" fill="url(#gb)"/>
<circle cx="298.2" cy="222.48" r="0.8" fill="url(#gb)"/>
<circle cx="295.9" cy="218.5" r="0.8" fill="url(#gb)"/>
<circle cx="298.2" cy="214.52" r="0.8" fill="url(#gb)"/>
<circle cx="302.8" cy="214.52" r="0.8" fill="url(#gb)"/>
<line x1="305.1" y1="218.5" x2="307.17" y2="218.5" stroke="#c8a898" stroke-width="0.4" stroke-linecap="round"/>
<circle cx="307.17" cy="218.5" r="0.45" fill="#f4dede"/>
<line x1="302.8" y1="222.48" x2="303.84" y2="224.28" stroke="#c8a898" stroke-width="0.4" stroke-linecap="round"/>
<circle cx="303.84" cy="224.28" r="0.45" fill="#f4dede"/>
<line x1="298.2" y1="222.48" x2="297.16" y2="224.28" stroke="#c8a898" stroke-width="0.4" stroke-linecap="round"/>
<circle cx="297.16" cy="224.28" r="0.45" fill="#f4dede"/>
<path d="M326.6,214 L324.3,217.98 L319.7,217.98 L317.4,214 L319.7,210.02 L324.3,210.02Z" fill="none" stroke="#8a5a3c" stroke-width="1.17"/>
<circle cx="326.6" cy="214" r="0.8" fill="url(#gb)"/>
<circle cx="324.3" cy="217.98" r="0.8" fill="url(#gb)"/>
<circle cx="319.7" cy="217.98" r="0.8" fill="url(#gb)"/>
<circle cx="317.4" cy="214" r="0.8" fill="url(#gb)"/>
<circle cx="319.7" cy="210.02" r="0.8" fill="url(#gb)"/>
<circle cx="324.3" cy="210.02" r="0.8" fill="url(#gb)"/>
<line x1="326.6" y1="214" x2="328.67" y2="214" stroke="#c8a898" stroke-width="0.4" stroke-linecap="round"/>
<circle cx="328.67" cy="214" r="0.45" fill="#f4dede"/>
<line x1="324.3" y1="217.98" x2="325.34" y2="219.78" stroke="#c8a898" stroke-width="0.4" stroke-linecap="round"/>
<circle cx="325.34" cy="219.78" r="0.45" fill="#f4dede"/>
<line x1="319.7" y1="217.98" x2="318.66" y2="219.78" stroke="#c8a898" stroke-width="0.4" stroke-linecap="round"/>
<circle cx="318.66" cy="219.78" r="0.45" fill="#f4dede"/>
<path d="M342.7,244 L340.1,248.5 L334.9,248.5 L332.3,244 L334.9,239.5 L340.1,239.5Z" fill="none" stroke="#8a5a3c" stroke-width="1.17"/>
<circle cx="342.7" cy="244" r="0.8" fill="url(#gb)"/>
<circle cx="340.1" cy="248.5" r="0.8" fill="url(#gb)"/>
<circle cx="334.9" cy="248.5" r="0.8" fill="url(#gb)"/>
<circle cx="332.3" cy="244" r="0.8" fill="url(#gb)"/>
<circle cx="334.9" cy="239.5" r="0.8" fill="url(#gb)"/>
<circle cx="340.1" cy="239.5" r="0.8" fill="url(#gb)"/>
<line x1="342.7" y1="244" x2="345.04" y2="244" stroke="#c8a898" stroke-width="0.4" stroke-linecap="round"/>
<circle cx="345.04" cy="244" r="0.45" fill="#f4dede"/>
<line x1="340.1" y1="248.5" x2="341.27" y2="250.53" stroke="#c8a898" stroke-width="0.4" stroke-linecap="round"/>
<circle cx="341.27" cy="250.53" r="0.45" fill="#f4dede"/>
<line x1="334.9" y1="248.5" x2="333.73" y2="250.53" stroke="#c8a898" stroke-width="0.4" stroke-linecap="round"/>
<circle cx="333.73" cy="250.53" r="0.45" fill="#f4dede"/>
<path d="M304.6,337 L302.3,340.98 L297.7,340.98 L295.4,337 L297.7,333.02 L302.3,333.02Z" fill="none" stroke="#8a5a3c" stroke-width="1.17"/>
<circle cx="304.6" cy="337" r="0.8" fill="url(#gb)"/>
<circle cx="302.3" cy="340.98" r="0.8" fill="url(#gb)"/>
<circle cx="297.7" cy="340.98" r="0.8" fill="url(#gb)"/>
<circle cx="295.4" cy="337" r="0.8" fill="url(#gb)"/>
<circle cx="297.7" cy="333.02" r="0.8" fill="url(#gb)"/>
<circle cx="302.3" cy="333.02" r="0.8" fill="url(#gb)"/>
<line x1="304.6" y1="337" x2="306.67" y2="337" stroke="#c8a898" stroke-width="0.4" stroke-linecap="round"/>
<circle cx="306.67" cy="337" r="0.45" fill="#f4dede"/>
<line x1="302.3" y1="340.98" x2="303.34" y2="342.78" stroke="#c8a898" stroke-width="0.4" stroke-linecap="round"/>
<circle cx="303.34" cy="342.78" r="0.45" fill="#f4dede"/>
<line x1="297.7" y1="340.98" x2="296.66" y2="342.78" stroke="#c8a898" stroke-width="0.4" stroke-linecap="round"/>
<circle cx="296.66" cy="342.78" r="0.45" fill="#f4dede"/>
<path d="M326.6,333 L324.3,336.98 L319.7,336.98 L317.4,333 L319.7,329.02 L324.3,329.02Z" fill="none" stroke="#8a5a3c" stroke-width="1.17"/>
<circle cx="326.6" cy="333" r="0.8" fill="url(#gb)"/>
<circle cx="324.3" cy="336.98" r="0.8" fill="url(#gb)"/>
<circle cx="319.7" cy="336.98" r="0.8" fill="url(#gb)"/>
<circle cx="317.4" cy="333" r="0.8" fill="url(#gb)"/>
<circle cx="319.7" cy="329.02" r="0.8" fill="url(#gb)"/>
<circle cx="324.3" cy="329.02" r="0.8" fill="url(#gb)"/>
<line x1="326.6" y1="333" x2="328.67" y2="333" stroke="#c8a898" stroke-width="0.4" stroke-linecap="round"/>
<circle cx="328.67" cy="333" r="0.45" fill="#f4dede"/>
<line x1="324.3" y1="336.98" x2="325.34" y2="338.78" stroke="#c8a898" stroke-width="0.4" stroke-linecap="round"/>
<circle cx="325.34" cy="338.78" r="0.45" fill="#f4dede"/>
<line x1="319.7" y1="336.98" x2="318.66" y2="338.78" stroke="#c8a898" stroke-width="0.4" stroke-linecap="round"/>
<circle cx="318.66" cy="338.78" r="0.45" fill="#f4dede"/>
<path d="M280.58,279.8 L276.6,282.1 L272.62,279.8 L272.62,275.2 L276.6,272.9 L280.58,275.2Z" fill="none" stroke="#8a5a3c" stroke-width="1.04"/>
<circle cx="280.58" cy="279.8" r="0.8" fill="url(#gb)"/>
<circle cx="276.6" cy="282.1" r="0.8" fill="url(#gb)"/>
<circle cx="272.62" cy="279.8" r="0.8" fill="url(#gb)"/>
<circle cx="272.62" cy="275.2" r="0.8" fill="url(#gb)"/>
<circle cx="276.6" cy="272.9" r="0.8" fill="url(#gb)"/>
<circle cx="280.58" cy="275.2" r="0.8" fill="url(#gb)"/>
<line x1="280.58" y1="279.8" x2="282.38" y2="280.84" stroke="#c8a898" stroke-width="0.4" stroke-linecap="round"/>
<circle cx="282.38" cy="280.84" r="0.45" fill="#f4dede"/>
<line x1="276.6" y1="282.1" x2="276.6" y2="284.17" stroke="#c8a898" stroke-width="0.4" stroke-linecap="round"/>
<circle cx="276.6" cy="284.17" r="0.45" fill="#f4dede"/>
<line x1="272.62" y1="279.8" x2="270.82" y2="280.84" stroke="#c8a898" stroke-width="0.4" stroke-linecap="round"/>
<circle cx="270.82" cy="280.84" r="0.45" fill="#f4dede"/>
<path d="M288.58,279.8 L284.6,282.1 L280.62,279.8 L280.62,275.2 L284.6,272.9 L288.58,275.2Z" fill="none" stroke="#8a5a3c" stroke-width="1.04"/>
<circle cx="288.58" cy="279.8" r="0.8" fill="url(#gb)"/>
<circle cx="284.6" cy="282.1" r="0.8" fill="url(#gb)"/>
<circle cx="280.62" cy="279.8" r="0.8" fill="url(#gb)"/>
<circle cx="280.62" cy="275.2" r="0.8" fill="url(#gb)"/>
<circle cx="284.6" cy="272.9" r="0.8" fill="url(#gb)"/>
<circle cx="288.58" cy="275.2" r="0.8" fill="url(#gb)"/>
<line x1="288.58" y1="279.8" x2="290.38" y2="280.84" stroke="#c8a898" stroke-width="0.4" stroke-linecap="round"/>
<circle cx="290.38" cy="280.84" r="0.45" fill="#f4dede"/>
<line x1="284.6" y1="282.1" x2="284.6" y2="284.17" stroke="#c8a898" stroke-width="0.4" stroke-linecap="round"/>
<circle cx="284.6" cy="284.17" r="0.45" fill="#f4dede"/>
<line x1="280.62" y1="279.8" x2="278.82" y2="280.84" stroke="#c8a898" stroke-width="0.4" stroke-linecap="round"/>
<circle cx="278.82" cy="280.84" r="0.45" fill="#f4dede"/>
<path d="M296.58,279.8 L292.6,282.1 L288.62,279.8 L288.62,275.2 L292.6,272.9 L296.58,275.2Z" fill="none" stroke="#8a5a3c" stroke-width="1.04"/>
<circle cx="296.58" cy="279.8" r="0.8" fill="url(#gb)"/>
<circle cx="292.6" cy="282.1" r="0.8" fill="url(#gb)"/>
<circle cx="288.62" cy="279.8" r="0.8" fill="url(#gb)"/>
<circle cx="288.62" cy="275.2" r="0.8" fill="url(#gb)"/>
<circle cx="292.6" cy="272.9" r="0.8" fill="url(#gb)"/>
<circle cx="296.58" cy="275.2" r="0.8" fill="url(#gb)"/>
<line x1="296.58" y1="279.8" x2="298.38" y2="280.84" stroke="#c8a898" stroke-width="0.4" stroke-linecap="round"/>
<circle cx="298.38" cy="280.84" r="0.45" fill="#f4dede"/>
<line x1="292.6" y1="282.1" x2="292.6" y2="284.17" stroke="#c8a898" stroke-width="0.4" stroke-linecap="round"/>
<circle cx="292.6" cy="284.17" r="0.45" fill="#f4dede"/>
<line x1="288.62" y1="279.8" x2="286.82" y2="280.84" stroke="#c8a898" stroke-width="0.4" stroke-linecap="round"/>
<circle cx="286.82" cy="280.84" r="0.45" fill="#f4dede"/>
<path d="M353.98,278.8 L350,281.1 L346.02,278.8 L346.02,274.2 L350,271.9 L353.98,274.2Z" fill="none" stroke="#8a5a3c" stroke-width="1.04"/>
<circle cx="353.98" cy="278.8" r="0.8" fill="url(#gb)"/>
<circle cx="350" cy="281.1" r="0.8" fill="url(#gb)"/>
<circle cx="346.02" cy="278.8" r="0.8" fill="url(#gb)"/>
<circle cx="346.02" cy="274.2" r="0.8" fill="url(#gb)"/>
<circle cx="350" cy="271.9" r="0.8" fill="url(#gb)"/>
<circle cx="353.98" cy="274.2" r="0.8" fill="url(#gb)"/>
<line x1="353.98" y1="278.8" x2="355.78" y2="279.84" stroke="#c8a898" stroke-width="0.4" stroke-linecap="round"/>
<circle cx="355.78" cy="279.84" r="0.45" fill="#f4dede"/>
<line x1="350" y1="281.1" x2="350" y2="283.17" stroke="#c8a898" stroke-width="0.4" stroke-linecap="round"/>
<circle cx="350" cy="283.17" r="0.45" fill="#f4dede"/>
<line x1="346.02" y1="278.8" x2="344.22" y2="279.84" stroke="#c8a898" stroke-width="0.4" stroke-linecap="round"/>
<circle cx="344.22" cy="279.84" r="0.45" fill="#f4dede"/>
<path d="M345.98,278.8 L342,281.1 L338.02,278.8 L338.02,274.2 L342,271.9 L345.98,274.2Z" fill="none" stroke="#8a5a3c" stroke-width="1.04"/>
<circle cx="345.98" cy="278.8" r="0.8" fill="url(#gb)"/>
<circle cx="342" cy="281.1" r="0.8" fill="url(#gb)"/>
<circle cx="338.02" cy="278.8" r="0.8" fill="url(#gb)"/>
<circle cx="338.02" cy="274.2" r="0.8" fill="url(#gb)"/>
<circle cx="342" cy="271.9" r="0.8" fill="url(#gb)"/>
<circle cx="345.98" cy="274.2" r="0.8" fill="url(#gb)"/>
<line x1="345.98" y1="278.8" x2="347.78" y2="279.84" stroke="#c8a898" stroke-width="0.4" stroke-linecap="round"/>
<circle cx="347.78" cy="279.84" r="0.45" fill="#f4dede"/>
<line x1="342" y1="281.1" x2="342" y2="283.17" stroke="#c8a898" stroke-width="0.4" stroke-linecap="round"/>
<circle cx="342" cy="283.17" r="0.45" fill="#f4dede"/>
<line x1="338.02" y1="278.8" x2="336.22" y2="279.84" stroke="#c8a898" stroke-width="0.4" stroke-linecap="round"/>
<circle cx="336.22" cy="279.84" r="0.45" fill="#f4dede"/>
<line x1="288.5" y1="230" x2="290.8" y2="227" stroke="#d03030" stroke-width="0.7" stroke-linecap="round"/>
<line x1="297.5" y1="230" x2="290.8" y2="227" stroke="#d03030" stroke-width="0.7" stroke-linecap="round"/>
<line x1="288.5" y1="230" x2="295.2" y2="227" stroke="#d03030" stroke-width="0.7" stroke-linecap="round"/>
<line x1="297.5" y1="230" x2="295.2" y2="227" stroke="#d03030" stroke-width="0.7" stroke-linecap="round"/>
<line x1="288.5" y1="230" x2="290.8" y2="233" stroke="#d03030" stroke-width="0.7" stroke-linecap="round"/>
<line x1="297.5" y1="230" x2="290.8" y2="233" stroke="#d03030" stroke-width="0.7" stroke-linecap="round"/>
<line x1="288.5" y1="230" x2="295.2" y2="233" stroke="#d03030" stroke-width="0.7" stroke-linecap="round"/>
<line x1="297.5" y1="230" x2="295.2" y2="233" stroke="#d03030" stroke-width="0.7" stroke-linecap="round"/>
<line x1="288.5" y1="230" x2="293" y2="225.8" stroke="#d03030" stroke-width="0.7" stroke-linecap="round"/>
<line x1="297.5" y1="230" x2="293" y2="225.8" stroke="#d03030" stroke-width="0.7" stroke-linecap="round"/>
<line x1="288.5" y1="230" x2="293" y2="234.2" stroke="#d03030" stroke-width="0.7" stroke-linecap="round"/>
<line x1="297.5" y1="230" x2="293" y2="234.2" stroke="#d03030" stroke-width="0.7" stroke-linecap="round"/>
<circle cx="293" cy="230" r="2.2" fill="#fff4f4"/>
<circle cx="290.8" cy="227" r="1" fill="url(#gr)"/>
<circle cx="295.2" cy="227" r="1" fill="url(#gr)"/>
<circle cx="290.8" cy="233" r="1" fill="url(#gr)"/>
<circle cx="295.2" cy="233" r="1" fill="url(#gr)"/>
<circle cx="293" cy="225.8" r="1" fill="url(#gr)"/>
<circle cx="293" cy="234.2" r="1" fill="url(#gr)"/>
<circle cx="288.2" cy="229.7" r="2.5" fill="url(#gg)"/>
<circle cx="297.8" cy="230.3" r="2.5" fill="url(#gg)"/>
<line x1="328.5" y1="222.5" x2="330.8" y2="219.5" stroke="#d03030" stroke-width="0.7" stroke-linecap="round"/>
<line x1="337.5" y1="222.5" x2="330.8" y2="219.5" stroke="#d03030" stroke-width="0.7" stroke-linecap="round"/>
<line x1="328.5" y1="222.5" x2="335.2" y2="219.5" stroke="#d03030" stroke-width="0.7" stroke-linecap="round"/>
<line x1="337.5" y1="222.5" x2="335.2" y2="219.5" stroke="#d03030" stroke-width="0.7" stroke-linecap="round"/>
<line x1="328.5" y1="222.5" x2="330.8" y2="225.5" stroke="#d03030" stroke-width="0.7" stroke-linecap="round"/>
<line x1="337.5" y1="222.5" x2="330.8" y2="225.5" stroke="#d03030" stroke-width="0.7" stroke-linecap="round"/>
<line x1="328.5" y1="222.5" x2="335.2" y2="225.5" stroke="#d03030" stroke-width="0.7" stroke-linecap="round"/>
<line x1="337.5" y1="222.5" x2="335.2" y2="225.5" stroke="#d03030" stroke-width="0.7" stroke-linecap="round"/>
<line x1="328.5" y1="222.5" x2="333" y2="218.3" stroke="#d03030" stroke-width="0.7" stroke-linecap="round"/>
<line x1="337.5" y1="222.5" x2="333" y2="218.3" stroke="#d03030" stroke-width="0.7" stroke-linecap="round"/>
<line x1="328.5" y1="222.5" x2="333" y2="226.7" stroke="#d03030" stroke-width="0.7" stroke-linecap="round"/>
<line x1="337.5" y1="222.5" x2="333" y2="226.7" stroke="#d03030" stroke-width="0.7" stroke-linecap="round"/>
<circle cx="333" cy="222.5" r="2.2" fill="#fff4f4"/>
<circle cx="330.8" cy="219.5" r="1" fill="url(#gr)"/>
<circle cx="335.2" cy="219.5" r="1" fill="url(#gr)"/>
<circle cx="330.8" cy="225.5" r="1" fill="url(#gr)"/>
<circle cx="335.2" cy="225.5" r="1" fill="url(#gr)"/>
<circle cx="333" cy="218.3" r="1" fill="url(#gr)"/>
<circle cx="333" cy="226.7" r="1" fill="url(#gr)"/>
<circle cx="328.2" cy="222.2" r="2.5" fill="url(#gg)"/>
<circle cx="337.8" cy="222.8" r="2.5" fill="url(#gg)"/>
<line x1="289.5" y1="329.5" x2="291.8" y2="326.5" stroke="#d03030" stroke-width="0.7" stroke-linecap="round"/>
<line x1="298.5" y1="329.5" x2="291.8" y2="326.5" stroke="#d03030" stroke-width="0.7" stroke-linecap="round"/>
<line x1="289.5" y1="329.5" x2="296.2" y2="326.5" stroke="#d03030" stroke-width="0.7" stroke-linecap="round"/>
<line x1="298.5" y1="329.5" x2="296.2" y2="326.5" stroke="#d03030" stroke-width="0.7" stroke-linecap="round"/>
<line x1="289.5" y1="329.5" x2="291.8" y2="332.5" stroke="#d03030" stroke-width="0.7" stroke-linecap="round"/>
<line x1="298.5" y1="329.5" x2="291.8" y2="332.5" stroke="#d03030" stroke-width="0.7" stroke-linecap="round"/>
<line x1="289.5" y1="329.5" x2="296.2" y2="332.5" stroke="#d03030" stroke-width="0.7" stroke-linecap="round"/>
<line x1="298.5" y1="329.5" x2="296.2" y2="332.5" stroke="#d03030" stroke-width="0.7" stroke-linecap="round"/>
<line x1="289.5" y1="329.5" x2="294" y2="325.3" stroke="#d03030" stroke-width="0.7" stroke-linecap="round"/>
<line x1="298.5" y1="329.5" x2="294" y2="325.3" stroke="#d03030" stroke-width="0.7" stroke-linecap="round"/>
<line x1="289.5" y1="329.5" x2="294" y2="333.7" stroke="#d03030" stroke-width="0.7" stroke-linecap="round"/>
<line x1="298.5" y1="329.5" x2="294" y2="333.7" stroke="#d03030" stroke-width="0.7" stroke-linecap="round"/>
<circle cx="294" cy="329.5" r="2.2" fill="#fff4f4"/>
<circle cx="291.8" cy="326.5" r="1" fill="url(#gr)"/>
<circle cx="296.2" cy="326.5" r="1" fill="url(#gr)"/>
<circle cx="291.8" cy="332.5" r="1" fill="url(#gr)"/>
<circle cx="296.2" cy="332.5" r="1" fill="url(#gr)"/>
<circle cx="294" cy="325.3" r="1" fill="url(#gr)"/>
<circle cx="294" cy="333.7" r="1" fill="url(#gr)"/>
<circle cx="289.2" cy="329.2" r="2.5" fill="url(#gg)"/>
<circle cx="298.8" cy="329.8" r="2.5" fill="url(#gg)"/>
<line x1="329" y1="323" x2="331.3" y2="320" stroke="#d03030" stroke-width="0.7" stroke-linecap="round"/>
<line x1="338" y1="323" x2="331.3" y2="320" stroke="#d03030" stroke-width="0.7" stroke-linecap="round"/>
<line x1="329" y1="323" x2="335.7" y2="320" stroke="#d03030" stroke-width="0.7" stroke-linecap="round"/>
<line x1="338" y1="323" x2="335.7" y2="320" stroke="#d03030" stroke-width="0.7" stroke-linecap="round"/>
<line x1="329" y1="323" x2="331.3" y2="326" stroke="#d03030" stroke-width="0.7" stroke-linecap="round"/>
<line x1="338" y1="323" x2="331.3" y2="326" stroke="#d03030" stroke-width="0.7" stroke-linecap="round"/>
<line x1="329" y1="323" x2="335.7" y2="326" stroke="#d03030" stroke-width="0.7" stroke-linecap="round"/>
<line x1="338" y1="323" x2="335.7" y2="326" stroke="#d03030" stroke-width="0.7" stroke-linecap="round"/>
<line x1="329" y1="323" x2="333.5" y2="318.8" stroke="#d03030" stroke-width="0.7" stroke-linecap="round"/>
<line x1="338" y1="323" x2="333.5" y2="318.8" stroke="#d03030" stroke-width="0.7" stroke-linecap="round"/>
<line x1="329" y1="323" x2="333.5" y2="327.2" stroke="#d03030" stroke-width="0.7" stroke-linecap="round"/>
<line x1="338" y1="323" x2="333.5" y2="327.2" stroke="#d03030" stroke-width="0.7" stroke-linecap="round"/>
<circle cx="333.5" cy="323" r="2.2" fill="#fff4f4"/>
<circle cx="331.3" cy="320" r="1" fill="url(#gr)"/>
<circle cx="335.7" cy="320" r="1" fill="url(#gr)"/>
<circle cx="331.3" cy="326" r="1" fill="url(#gr)"/>
<circle cx="335.7" cy="326" r="1" fill="url(#gr)"/>
<circle cx="333.5" cy="318.8" r="1" fill="url(#gr)"/>
<circle cx="333.5" cy="327.2" r="1" fill="url(#gr)"/>
<circle cx="328.7" cy="322.7" r="2.5" fill="url(#gg)"/>
<circle cx="338.3" cy="323.3" r="2.5" fill="url(#gg)"/>
<line x1="275.6" y1="234" x2="281.4" y2="218" stroke="#a07058" stroke-width="1.6" stroke-linecap="round"/>
<circle cx="275.6" cy="234" r="0.75" fill="url(#gb)"/>
<circle cx="276.76" cy="230.8" r="0.75" fill="url(#gb)"/>
<circle cx="277.92" cy="227.6" r="0.75" fill="url(#gb)"/>
<circle cx="279.08" cy="224.4" r="0.75" fill="url(#gb)"/>
<circle cx="280.24" cy="221.2" r="0.75" fill="url(#gb)"/>
<circle cx="281.4" cy="218" r="0.75" fill="url(#gb)"/>
<circle cx="277.78" cy="232" r="0.45" fill="#f4dede"/>
<circle cx="274.58" cy="232.8" r="0.45" fill="#f4dede"/>
<circle cx="278.94" cy="228.8" r="0.45" fill="#f4dede"/>
<circle cx="275.74" cy="229.6" r="0.45" fill="#f4dede"/>
<circle cx="280.1" cy="225.6" r="0.45" fill="#f4dede"/>
<circle cx="276.9" cy="226.4" r="0.45" fill="#f4dede"/>
<circle cx="281.26" cy="222.4" r="0.45" fill="#f4dede"/>
<circle cx="278.06" cy="223.2" r="0.45" fill="#f4dede"/>
<circle cx="282.42" cy="219.2" r="0.45" fill="#f4dede"/>
<circle cx="279.22" cy="220" r="0.45" fill="#f4dede"/>
<line x1="346" y1="215" x2="351" y2="226" stroke="#a07058" stroke-width="1.6" stroke-linecap="round"/>
<circle cx="346" cy="215" r="0.75" fill="url(#gb)"/>
<circle cx="347" cy="217.2" r="0.75" fill="url(#gb)"/>
<circle cx="348" cy="219.4" r="0.75" fill="url(#gb)"/>
<circle cx="349" cy="221.6" r="0.75" fill="url(#gb)"/>
<circle cx="350" cy="223.8" r="0.75" fill="url(#gb)"/>
<circle cx="351" cy="226" r="0.75" fill="url(#gb)"/>
<circle cx="348.1" cy="215.7" r="0.45" fill="#f4dede"/>
<circle cx="344.9" cy="216.5" r="0.45" fill="#f4dede"/>
<circle cx="349.1" cy="217.9" r="0.45" fill="#f4dede"/>
<circle cx="345.9" cy="218.7" r="0.45" fill="#f4dede"/>
<circle cx="350.1" cy="220.1" r="0.45" fill="#f4dede"/>
<circle cx="346.9" cy="220.9" r="0.45" fill="#f4dede"/>
<circle cx="351.1" cy="222.3" r="0.45" fill="#f4dede"/>
<circle cx="347.9" cy="223.1" r="0.45" fill="#f4dede"/>
<circle cx="352.1" cy="224.5" r="0.45" fill="#f4dede"/>
<circle cx="348.9" cy="225.3" r="0.45" fill="#f4dede"/>
<line x1="273" y1="338" x2="277" y2="327" stroke="#a07058" stroke-width="1.6" stroke-linecap="round"/>
<circle cx="273" cy="338" r="0.75" fill="url(#gb)"/>
<circle cx="273.8" cy="335.8" r="0.75" fill="url(#gb)"/>
<circle cx="274.6" cy="333.6" r="0.75" fill="url(#gb)"/>
<circle cx="275.4" cy="331.4" r="0.75" fill="url(#gb)"/>
<circle cx="276.2" cy="329.2" r="0.75" fill="url(#gb)"/>
<circle cx="277" cy="327" r="0.75" fill="url(#gb)"/>
<circle cx="275" cy="336.5" r="0.45" fill="#f4dede"/>
<circle cx="271.8" cy="337.3" r="0.45" fill="#f4dede"/>
<circle cx="275.8" cy="334.3" r="0.45" fill="#f4dede"/>
<circle cx="272.6" cy="335.1" r="0.45" fill="#f4dede"/>
<circle cx="276.6" cy="332.1" r="0.45" fill="#f4dede"/>
<circle cx="273.4" cy="332.9" r="0.45" fill="#f4dede"/>
<circle cx="277.4" cy="329.9" r="0.45" fill="#f4dede"/>
<circle cx="274.2" cy="330.7" r="0.45" fill="#f4dede"/>
<circle cx="278.2" cy="327.7" r="0.45" fill="#f4dede"/>
<circle cx="275" cy="328.5" r="0.45" fill="#f4dede"/>
<line x1="348" y1="331" x2="352" y2="320" stroke="#a07058" stroke-width="1.6" stroke-linecap="round"/>
<circle cx="348" cy="331" r="0.75" fill="url(#gb)"/>
<circle cx="348.8" cy="328.8" r="0.75" fill="url(#gb)"/>
<circle cx="349.6" cy="326.6" r="0.75" fill="url(#gb)"/>
<circle cx="350.4" cy="324.4" r="0.75" fill="url(#gb)"/>
<circle cx="351.2" cy="322.2" r="0.75" fill="url(#gb)"/>
<circle cx="352" cy="320" r="0.75" fill="url(#gb)"/>
<circle cx="350" cy="329.5" r="0.45" fill="#f4dede"/>
<circle cx="346.8" cy="330.3" r="0.45" fill="#f4dede"/>
<circle cx="350.8" cy="327.3" r="0.45" fill="#f4dede"/>
<circle cx="347.6" cy="328.1" r="0.45" fill="#f4dede"/>
<circle cx="351.6" cy="325.1" r="0.45" fill="#f4dede"/>
<circle cx="348.4" cy="325.9" r="0.45" fill="#f4dede"/>
<circle cx="352.4" cy="322.9" r="0.45" fill="#f4dede"/>
<circle cx="349.2" cy="323.7" r="0.45" fill="#f4dede"/>
<circle cx="353.2" cy="320.7" r="0.45" fill="#f4dede"/>
<circle cx="350" cy="321.5" r="0.45" fill="#f4dede"/>
<g opacity="0.8">
<ellipse cx="302.6" cy="238.3" rx="2.2" ry="3.6" fill="url(#gy)"/>
<ellipse cx="307.4" cy="243.8" rx="2.2" ry="3.6" fill="url(#gc)"/>
<ellipse cx="302.4" cy="251.5" rx="2.4" ry="3.8" fill="url(#gc)"/>
<ellipse cx="307.6" cy="252.5" rx="2.2" ry="3.6" fill="url(#gy)"/>
<ellipse cx="302.4" cy="260.5" rx="2.5" ry="3.8" fill="url(#gy)"/>
<ellipse cx="307.6" cy="261" rx="2.4" ry="3.8" fill="url(#gc)"/>
<ellipse cx="301.3" cy="273.3" rx="3" ry="4.6" fill="url(#gy)"/>
<ellipse cx="306.8" cy="273.3" rx="3" ry="4.6" fill="url(#gc)"/>
<ellipse cx="301.3" cy="282.8" rx="3" ry="4.6" fill="url(#gc)"/>
<ellipse cx="306.8" cy="282.8" rx="3" ry="4.6" fill="url(#gy)"/>
<ellipse cx="302.4" cy="295.8" rx="2.5" ry="4.2" fill="url(#gc)"/>
<ellipse cx="307.6" cy="295.8" rx="2.5" ry="4.2" fill="url(#gy)"/>
<ellipse cx="302.4" cy="305.7" rx="2.4" ry="4.2" fill="url(#gy)"/>
<ellipse cx="307.6" cy="305.7" rx="2.4" ry="4.2" fill="url(#gc)"/>
<ellipse cx="302.4" cy="315" rx="2.3" ry="4" fill="url(#gc)"/>
<ellipse cx="307.6" cy="315" rx="2.3" ry="4" fill="url(#gy)"/>
<ellipse cx="318.4" cy="234.6" rx="2.2" ry="3.6" fill="url(#gc)"/>
<ellipse cx="323.2" cy="234.6" rx="2.2" ry="3.6" fill="url(#gy)"/>
<ellipse cx="318.4" cy="244.7" rx="2.3" ry="3.8" fill="url(#gy)"/>
<ellipse cx="323.4" cy="244.7" rx="2.3" ry="3.8" fill="url(#gc)"/>
<ellipse cx="318.4" cy="254" rx="2.3" ry="3.6" fill="url(#gc)"/>
<ellipse cx="323.2" cy="260.5" rx="2.2" ry="3.4" fill="url(#gy)"/>
<ellipse cx="317.1" cy="269.3" rx="3" ry="4.6" fill="url(#gc)"/>
<ellipse cx="322.7" cy="269.3" rx="3" ry="4.6" fill="url(#gy)"/>
<ellipse cx="317.1" cy="278.8" rx="3" ry="4.6" fill="url(#gy)"/>
<ellipse cx="322.7" cy="278.8" rx="3" ry="4.6" fill="url(#gc)"/>
<ellipse cx="318.4" cy="288" rx="2.4" ry="4" fill="url(#gy)"/>
<ellipse cx="318.4" cy="299.8" rx="2.4" ry="4.2" fill="url(#gc)"/>
<ellipse cx="323.4" cy="299.8" rx="2.4" ry="4.2" fill="url(#gy)"/>
<ellipse cx="318.4" cy="310.3" rx="2.3" ry="4.2" fill="url(#gy)"/>
<ellipse cx="323.4" cy="310.3" rx="2.3" ry="4.2" fill="url(#gc)"/>
<ellipse cx="320.5" cy="318" rx="2" ry="3" fill="url(#gc)"/>
</g>
<line x1="610.5" y1="250" x2="610.5" y2="332" stroke="#8a5a3c" stroke-width="0.9" stroke-linecap="round"/>
<line x1="613.5" y1="250" x2="613.5" y2="332" stroke="#8a5a3c" stroke-width="0.9" stroke-linecap="round"/>
<circle cx="610.5" cy="250" r="1" fill="url(#gb)"/>
<circle cx="613.5" cy="251.45" r="1" fill="url(#gb)"/>
<circle cx="610.5" cy="252.9" r="1" fill="url(#gb)"/>
<circle cx="613.5" cy="254.35" r="1" fill="url(#gb)"/>
<circle cx="610.5" cy="255.8" r="1" fill="url(#gb)"/>
<circle cx="613.5" cy="257.25" r="1" fill="url(#gb)"/>
<circle cx="610.5" cy="258.7" r="1" fill="url(#gb)"/>
<circle cx="613.5" cy="260.15" r="1" fill="url(#gb)"/>
<circle cx="610.5" cy="261.6" r="1" fill="url(#gb)"/>
<circle cx="613.5" cy="263.05" r="1" fill="url(#gb)"/>
<circle cx="610.5" cy="264.5" r="1" fill="url(#gb)"/>
<circle cx="613.5" cy="265.95" r="1" fill="url(#gb)"/>
<circle cx="610.5" cy="267.4" r="1" fill="url(#gb)"/>
<circle cx="613.5" cy="268.85" r="1" fill="url(#gb)"/>
<circle cx="610.5" cy="270.3" r="1" fill="url(#gb)"/>
<circle cx="613.5" cy="271.75" r="1" fill="url(#gb)"/>
<circle cx="610.5" cy="273.2" r="1" fill="url(#gb)"/>
<circle cx="613.5" cy="274.65" r="1" fill="url(#gb)"/>
<circle cx="610.5" cy="276.1" r="1" fill="url(#gb)"/>
<circle cx="613.5" cy="277.55" r="1" fill="url(#gb)"/>
<circle cx="610.5" cy="279" r="1" fill="url(#gb)"/>
<circle cx="613.5" cy="280.45" r="1" fill="url(#gb)"/>
<circle cx="610.5" cy="281.9" r="1" fill="url(#gb)"/>
<circle cx="613.5" cy="283.35" r="1" fill="url(#gb)"/>
<circle cx="610.5" cy="284.8" r="1" fill="url(#gb)"/>
<circle cx="613.5" cy="286.25" r="1" fill="url(#gb)"/>
<circle cx="610.5" cy="287.7" r="1" fill="url(#gb)"/>
<circle cx="613.5" cy="289.15" r="1" fill="url(#gb)"/>
<circle cx="610.5" cy="290.6" r="1" fill="url(#gb)"/>
<circle cx="613.5" cy="292.05" r="1" fill="url(#gb)"/>
<circle cx="610.5" cy="293.5" r="1" fill="url(#gb)"/>
<circle cx="613.5" cy="294.95" r="1" fill="url(#gb)"/>
<circle cx="610.5" cy="296.4" r="1" fill="url(#gb)"/>
<circle cx="613.5" cy="297.85" r="1" fill="url(#gb)"/>
<circle cx="610.5" cy="299.3" r="1" fill="url(#gb)"/>
<circle cx="613.5" cy="300.75" r="1" fill="url(#gb)"/>
<circle cx="610.5" cy="302.2" r="1" fill="url(#gb)"/>
<circle cx="613.5" cy="303.65" r="1" fill="url(#gb)"/>
<circle cx="610.5" cy="305.1" r="1" fill="url(#gb)"/>
<circle cx="613.5" cy="306.55" r="1" fill="url(#gb)"/>
<circle cx="610.5" cy="308" r="1" fill="url(#gb)"/>
<circle cx="613.5" cy="309.45" r="1" fill="url(#gb)"/>
<circle cx="610.5" cy="310.9" r="1" fill="url(#gb)"/>
<circle cx="613.5" cy="312.35" r="1" fill="url(#gb)"/>
<circle cx="610.5" cy="313.8" r="1" fill="url(#gb)"/>
<circle cx="613.5" cy="315.25" r="1" fill="url(#gb)"/>
<circle cx="610.5" cy="316.7" r="1" fill="url(#gb)"/>
<circle cx="613.5" cy="318.15" r="1" fill="url(#gb)"/>
<circle cx="610.5" cy="319.6" r="1" fill="url(#gb)"/>
<circle cx="613.5" cy="321.05" r="1" fill="url(#gb)"/>
<circle cx="610.5" cy="322.5" r="1" fill="url(#gb)"/>
<circle cx="613.5" cy="323.95" r="1" fill="url(#gb)"/>
<circle cx="610.5" cy="325.4" r="1" fill="url(#gb)"/>
<circle cx="613.5" cy="326.85" r="1" fill="url(#gb)"/>
<circle cx="610.5" cy="328.3" r="1" fill="url(#gb)"/>
<circle cx="613.5" cy="329.75" r="1" fill="url(#gb)"/>
<circle cx="610.5" cy="331.2" r="1" fill="url(#gb)"/>
<circle cx="613.5" cy="332.65" r="1" fill="url(#gb)"/>
<line x1="622.5" y1="240" x2="622.5" y2="330" stroke="#8a5a3c" stroke-width="0.9" stroke-linecap="round"/>
<line x1="625.5" y1="240" x2="625.5" y2="330" stroke="#8a5a3c" stroke-width="0.9" stroke-linecap="round"/>
<circle cx="622.5" cy="240" r="1" fill="url(#gb)"/>
<circle cx="625.5" cy="241.45" r="1" fill="url(#gb)"/>
<circle cx="622.5" cy="242.9" r="1" fill="url(#gb)"/>
<circle cx="625.5" cy="244.35" r="1" fill="url(#gb)"/>
<circle cx="622.5" cy="245.8" r="1" fill="url(#gb)"/>
<circle cx="625.5" cy="247.25" r="1" fill="url(#gb)"/>
<circle cx="622.5" cy="248.7" r="1" fill="url(#gb)"/>
<circle cx="625.5" cy="250.15" r="1" fill="url(#gb)"/>
<circle cx="622.5" cy="251.6" r="1" fill="url(#gb)"/>
<circle cx="625.5" cy="253.05" r="1" fill="url(#gb)"/>
<circle cx="622.5" cy="254.5" r="1" fill="url(#gb)"/>
<circle cx="625.5" cy="255.95" r="1" fill="url(#gb)"/>
<circle cx="622.5" cy="257.4" r="1" fill="url(#gb)"/>
<circle cx="625.5" cy="258.85" r="1" fill="url(#gb)"/>
<circle cx="622.5" cy="260.3" r="1" fill="url(#gb)"/>
<circle cx="625.5" cy="261.75" r="1" fill="url(#gb)"/>
<circle cx="622.5" cy="263.2" r="1" fill="url(#gb)"/>
<circle cx="625.5" cy="264.65" r="1" fill="url(#gb)"/>
<circle cx="622.5" cy="266.1" r="1" fill="url(#gb)"/>
<circle cx="625.5" cy="267.55" r="1" fill="url(#gb)"/>
<circle cx="622.5" cy="269" r="1" fill="url(#gb)"/>
<circle cx="625.5" cy="270.45" r="1" fill="url(#gb)"/>
<circle cx="622.5" cy="271.9" r="1" fill="url(#gb)"/>
<circle cx="625.5" cy="273.35" r="1" fill="url(#gb)"/>
<circle cx="622.5" cy="274.8" r="1" fill="url(#gb)"/>
<circle cx="625.5" cy="276.25" r="1" fill="url(#gb)"/>
<circle cx="622.5" cy="277.7" r="1" fill="url(#gb)"/>
<circle cx="625.5" cy="279.15" r="1" fill="url(#gb)"/>
<circle cx="622.5" cy="280.6" r="1" fill="url(#gb)"/>
<circle cx="625.5" cy="282.05" r="1" fill="url(#gb)"/>
<circle cx="622.5" cy="283.5" r="1" fill="url(#gb)"/>
<circle cx="625.5" cy="284.95" r="1" fill="url(#gb)"/>
<circle cx="622.5" cy="286.4" r="1" fill="url(#gb)"/>
<circle cx="625.5" cy="287.85" r="1" fill="url(#gb)"/>
<circle cx="622.5" cy="289.3" r="1" fill="url(#gb)"/>
<circle cx="625.5" cy="290.75" r="1" fill="url(#gb)"/>
<circle cx="622.5" cy="292.2" r="1" fill="url(#gb)"/>
<circle cx="625.5" cy="293.65" r="1" fill="url(#gb)"/>
<circle cx="622.5" cy="295.1" r="1" fill="url(#gb)"/>
<circle cx="625.5" cy="296.55" r="1" fill="url(#gb)"/>
<circle cx="622.5" cy="298" r="1" fill="url(#gb)"/>
<circle cx="625.5" cy="299.45" r="1" fill="url(#gb)"/>
<circle cx="622.5" cy="300.9" r="1" fill="url(#gb)"/>
<circle cx="625.5" cy="302.35" r="1" fill="url(#gb)"/>
<circle cx="622.5" cy="303.8" r="1" fill="url(#gb)"/>
<circle cx="625.5" cy="305.25" r="1" fill="url(#gb)"/>
<circle cx="622.5" cy="306.7" r="1" fill="url(#gb)"/>
<circle cx="625.5" cy="308.15" r="1" fill="url(#gb)"/>
<circle cx="622.5" cy="309.6" r="1" fill="url(#gb)"/>
<circle cx="625.5" cy="311.05" r="1" fill="url(#gb)"/>
<circle cx="622.5" cy="312.5" r="1" fill="url(#gb)"/>
<circle cx="625.5" cy="313.95" r="1" fill="url(#gb)"/>
<circle cx="622.5" cy="315.4" r="1" fill="url(#gb)"/>
<circle cx="625.5" cy="316.85" r="1" fill="url(#gb)"/>
<circle cx="622.5" cy="318.3" r="1" fill="url(#gb)"/>
<circle cx="625.5" cy="319.75" r="1" fill="url(#gb)"/>
<circle cx="622.5" cy="321.2" r="1" fill="url(#gb)"/>
<circle cx="625.5" cy="322.65" r="1" fill="url(#gb)"/>
<circle cx="622.5" cy="324.1" r="1" fill="url(#gb)"/>
<circle cx="625.5" cy="325.55" r="1" fill="url(#gb)"/>
<circle cx="622.5" cy="327" r="1" fill="url(#gb)"/>
<circle cx="625.5" cy="328.45" r="1" fill="url(#gb)"/>
<circle cx="622.5" cy="329.9" r="1" fill="url(#gb)"/>
<circle cx="625.5" cy="331.35" r="1" fill="url(#gb)"/>
<line x1="634" y1="246" x2="634" y2="328" stroke="#8a5a3c" stroke-width="0.9" stroke-linecap="round"/>
<line x1="637" y1="246" x2="637" y2="328" stroke="#8a5a3c" stroke-width="0.9" stroke-linecap="round"/>
<circle cx="634" cy="246" r="1" fill="url(#gb)"/>
<circle cx="637" cy="247.45" r="1" fill="url(#gb)"/>
<circle cx="634" cy="248.9" r="1" fill="url(#gb)"/>
<circle cx="637" cy="250.35" r="1" fill="url(#gb)"/>
<circle cx="634" cy="251.8" r="1" fill="url(#gb)"/>
<circle cx="637" cy="253.25" r="1" fill="url(#gb)"/>
<circle cx="634" cy="254.7" r="1" fill="url(#gb)"/>
<circle cx="637" cy="256.15" r="1" fill="url(#gb)"/>
<circle cx="634" cy="257.6" r="1" fill="url(#gb)"/>
<circle cx="637" cy="259.05" r="1" fill="url(#gb)"/>
<circle cx="634" cy="260.5" r="1" fill="url(#gb)"/>
<circle cx="637" cy="261.95" r="1" fill="url(#gb)"/>
<circle cx="634" cy="263.4" r="1" fill="url(#gb)"/>
<circle cx="637" cy="264.85" r="1" fill="url(#gb)"/>
<circle cx="634" cy="266.3" r="1" fill="url(#gb)"/>
<circle cx="637" cy="267.75" r="1" fill="url(#gb)"/>
<circle cx="634" cy="269.2" r="1" fill="url(#gb)"/>
<circle cx="637" cy="270.65" r="1" fill="url(#gb)"/>
<circle cx="634" cy="272.1" r="1" fill="url(#gb)"/>
<circle cx="637" cy="273.55" r="1" fill="url(#gb)"/>
<circle cx="634" cy="275" r="1" fill="url(#gb)"/>
<circle cx="637" cy="276.45" r="1" fill="url(#gb)"/>
<circle cx="634" cy="277.9" r="1" fill="url(#gb)"/>
<circle cx="637" cy="279.35" r="1" fill="url(#gb)"/>
<circle cx="634" cy="280.8" r="1" fill="url(#gb)"/>
<circle cx="637" cy="282.25" r="1" fill="url(#gb)"/>
<circle cx="634" cy="283.7" r="1" fill="url(#gb)"/>
<circle cx="637" cy="285.15" r="1" fill="url(#gb)"/>
<circle cx="634" cy="286.6" r="1" fill="url(#gb)"/>
<circle cx="637" cy="288.05" r="1" fill="url(#gb)"/>
<circle cx="634" cy="289.5" r="1" fill="url(#gb)"/>
<circle cx="637" cy="290.95" r="1" fill="url(#gb)"/>
<circle cx="634" cy="292.4" r="1" fill="url(#gb)"/>
<circle cx="637" cy="293.85" r="1" fill="url(#gb)"/>
<circle cx="634" cy="295.3" r="1" fill="url(#gb)"/>
<circle cx="637" cy="296.75" r="1" fill="url(#gb)"/>
<circle cx="634" cy="298.2" r="1" fill="url(#gb)"/>
<circle cx="637" cy="299.65" r="1" fill="url(#gb)"/>
<circle cx="634" cy="301.1" r="1" fill="url(#gb)"/>
<circle cx="637" cy="302.55" r="1" fill="url(#gb)"/>
<circle cx="634" cy="304" r="1" fill="url(#gb)"/>
<circle cx="637" cy="305.45" r="1" fill="url(#gb)"/>
<circle cx="634" cy="306.9" r="1" fill="url(#gb)"/>
<circle cx="637" cy="308.35" r="1" fill="url(#gb)"/>
<circle cx="634" cy="309.8" r="1" fill="url(#gb)"/>
<circle cx="637" cy="311.25" r="1" fill="url(#gb)"/>
<circle cx="634" cy="312.7" r="1" fill="url(#gb)"/>
<circle cx="637" cy="314.15" r="1" fill="url(#gb)"/>
<circle cx="634" cy="315.6" r="1" fill="url(#gb)"/>
<circle cx="637" cy="317.05" r="1" fill="url(#gb)"/>
<circle cx="634" cy="318.5" r="1" fill="url(#gb)"/>
<circle cx="637" cy="319.95" r="1" fill="url(#gb)"/>
<circle cx="634" cy="321.4" r="1" fill="url(#gb)"/>
<circle cx="637" cy="322.85" r="1" fill="url(#gb)"/>
<circle cx="634" cy="324.3" r="1" fill="url(#gb)"/>
<circle cx="637" cy="325.75" r="1" fill="url(#gb)"/>
<circle cx="634" cy="327.2" r="1" fill="url(#gb)"/>
<circle cx="637" cy="328.65" r="1" fill="url(#gb)"/>
<line x1="645.5" y1="222" x2="645.5" y2="332" stroke="#8a5a3c" stroke-width="0.9" stroke-linecap="round"/>
<line x1="648.5" y1="222" x2="648.5" y2="332" stroke="#8a5a3c" stroke-width="0.9" stroke-linecap="round"/>
<circle cx="645.5" cy="222" r="1" fill="url(#gb)"/>
<circle cx="648.5" cy="223.45" r="1" fill="url(#gb)"/>
<circle cx="645.5" cy="224.9" r="1" fill="url(#gb)"/>
<circle cx="648.5" cy="226.35" r="1" fill="url(#gb)"/>
<circle cx="645.5" cy="227.8" r="1" fill="url(#gb)"/>
<circle cx="648.5" cy="229.25" r="1" fill="url(#gb)"/>
<circle cx="645.5" cy="230.7" r="1" fill="url(#gb)"/>
<circle cx="648.5" cy="232.15" r="1" fill="url(#gb)"/>
<circle cx="645.5" cy="233.6" r="1" fill="url(#gb)"/>
<circle cx="648.5" cy="235.05" r="1" fill="url(#gb)"/>
<circle cx="645.5" cy="236.5" r="1" fill="url(#gb)"/>
<circle cx="648.5" cy="237.95" r="1" fill="url(#gb)"/>
<circle cx="645.5" cy="239.4" r="1" fill="url(#gb)"/>
<circle cx="648.5" cy="240.85" r="1" fill="url(#gb)"/>
<circle cx="645.5" cy="242.3" r="1" fill="url(#gb)"/>
<circle cx="648.5" cy="243.75" r="1" fill="url(#gb)"/>
<circle cx="645.5" cy="245.2" r="1" fill="url(#gb)"/>
<circle cx="648.5" cy="246.65" r="1" fill="url(#gb)"/>
<circle cx="645.5" cy="248.1" r="1" fill="url(#gb)"/>
<circle cx="648.5" cy="249.55" r="1" fill="url(#gb)"/>
<circle cx="645.5" cy="251" r="1" fill="url(#gb)"/>
<circle cx="648.5" cy="252.45" r="1" fill="url(#gb)"/>
<circle cx="645.5" cy="253.9" r="1" fill="url(#gb)"/>
<circle cx="648.5" cy="255.35" r="1" fill="url(#gb)"/>
<circle cx="645.5" cy="256.8" r="1" fill="url(#gb)"/>
<circle cx="648.5" cy="258.25" r="1" fill="url(#gb)"/>
<circle cx="645.5" cy="259.7" r="1" fill="url(#gb)"/>
<circle cx="648.5" cy="261.15" r="1" fill="url(#gb)"/>
<circle cx="645.5" cy="262.6" r="1" fill="url(#gb)"/>
<circle cx="648.5" cy="264.05" r="1" fill="url(#gb)"/>
<circle cx="645.5" cy="265.5" r="1" fill="url(#gb)"/>
<circle cx="648.5" cy="266.95" r="1" fill="url(#gb)"/>
<circle cx="645.5" cy="268.4" r="1" fill="url(#gb)"/>
<circle cx="648.5" cy="269.85" r="1" fill="url(#gb)"/>
<circle cx="645.5" cy="271.3" r="1" fill="url(#gb)"/>
<circle cx="648.5" cy="272.75" r="1" fill="url(#gb)"/>
<circle cx="645.5" cy="274.2" r="1" fill="url(#gb)"/>
<circle cx="648.5" cy="275.65" r="1" fill="url(#gb)"/>
<circle cx="645.5" cy="277.1" r="1" fill="url(#gb)"/>
<circle cx="648.5" cy="278.55" r="1" fill="url(#gb)"/>
<circle cx="645.5" cy="280" r="1" fill="url(#gb)"/>
<circle cx="648.5" cy="281.45" r="1" fill="url(#gb)"/>
<circle cx="645.5" cy="282.9" r="1" fill="url(#gb)"/>
<circle cx="648.5" cy="284.35" r="1" fill="url(#gb)"/>
<circle cx="645.5" cy="285.8" r="1" fill="url(#gb)"/>
<circle cx="648.5" cy="287.25" r="1" fill="url(#gb)"/>
<circle cx="645.5" cy="288.7" r="1" fill="url(#gb)"/>
<circle cx="648.5" cy="290.15" r="1" fill="url(#gb)"/>
<circle cx="645.5" cy="291.6" r="1" fill="url(#gb)"/>
<circle cx="648.5" cy="293.05" r="1" fill="url(#gb)"/>
<circle cx="645.5" cy="294.5" r="1" fill="url(#gb)"/>
<circle cx="648.5" cy="295.95" r="1" fill="url(#gb)"/>
<circle cx="645.5" cy="297.4" r="1" fill="url(#gb)"/>
<circle cx="648.5" cy="298.85" r="1" fill="url(#gb)"/>
<circle cx="645.5" cy="300.3" r="1" fill="url(#gb)"/>
<circle cx="648.5" cy="301.75" r="1" fill="url(#gb)"/>
<circle cx="645.5" cy="303.2" r="1" fill="url(#gb)"/>
<circle cx="648.5" cy="304.65" r="1" fill="url(#gb)"/>
<circle cx="645.5" cy="306.1" r="1" fill="url(#gb)"/>
<circle cx="648.5" cy="307.55" r="1" fill="url(#gb)"/>
<circle cx="645.5" cy="309" r="1" fill="url(#gb)"/>
<circle cx="648.5" cy="310.45" r="1" fill="url(#gb)"/>
<circle cx="645.5" cy="311.9" r="1" fill="url(#gb)"/>
<circle cx="648.5" cy="313.35" r="1" fill="url(#gb)"/>
<circle cx="645.5" cy="314.8" r="1" fill="url(#gb)"/>
<circle cx="648.5" cy="316.25" r="1" fill="url(#gb)"/>
<circle cx="645.5" cy="317.7" r="1" fill="url(#gb)"/>
<circle cx="648.5" cy="319.15" r="1" fill="url(#gb)"/>
<circle cx="645.5" cy="320.6" r="1" fill="url(#gb)"/>
<circle cx="648.5" cy="322.05" r="1" fill="url(#gb)"/>
<circle cx="645.5" cy="323.5" r="1" fill="url(#gb)"/>
<circle cx="648.5" cy="324.95" r="1" fill="url(#gb)"/>
<circle cx="645.5" cy="326.4" r="1" fill="url(#gb)"/>
<circle cx="648.5" cy="327.85" r="1" fill="url(#gb)"/>
<circle cx="645.5" cy="329.3" r="1" fill="url(#gb)"/>
<circle cx="648.5" cy="330.75" r="1" fill="url(#gb)"/>
<line x1="658.5" y1="226" x2="658.5" y2="318" stroke="#8a5a3c" stroke-width="0.9" stroke-linecap="round"/>
<line x1="661.5" y1="226" x2="661.5" y2="318" stroke="#8a5a3c" stroke-width="0.9" stroke-linecap="round"/>
<circle cx="658.5" cy="226" r="1" fill="url(#gb)"/>
<circle cx="661.5" cy="227.45" r="1" fill="url(#gb)"/>
<circle cx="658.5" cy="228.9" r="1" fill="url(#gb)"/>
<circle cx="661.5" cy="230.35" r="1" fill="url(#gb)"/>
<circle cx="658.5" cy="231.8" r="1" fill="url(#gb)"/>
<circle cx="661.5" cy="233.25" r="1" fill="url(#gb)"/>
<circle cx="658.5" cy="234.7" r="1" fill="url(#gb)"/>
<circle cx="661.5" cy="236.15" r="1" fill="url(#gb)"/>
<circle cx="658.5" cy="237.6" r="1" fill="url(#gb)"/>
<circle cx="661.5" cy="239.05" r="1" fill="url(#gb)"/>
<circle cx="658.5" cy="240.5" r="1" fill="url(#gb)"/>
<circle cx="661.5" cy="241.95" r="1" fill="url(#gb)"/>
<circle cx="658.5" cy="243.4" r="1" fill="url(#gb)"/>
<circle cx="661.5" cy="244.85" r="1" fill="url(#gb)"/>
<circle cx="658.5" cy="246.3" r="1" fill="url(#gb)"/>
<circle cx="661.5" cy="247.75" r="1" fill="url(#gb)"/>
<circle cx="658.5" cy="249.2" r="1" fill="url(#gb)"/>
<circle cx="661.5" cy="250.65" r="1" fill="url(#gb)"/>
<circle cx="658.5" cy="252.1" r="1" fill="url(#gb)"/>
<circle cx="661.5" cy="253.55" r="1" fill="url(#gb)"/>
<circle cx="658.5" cy="255" r="1" fill="url(#gb)"/>
<circle cx="661.5" cy="256.45" r="1" fill="url(#gb)"/>
<circle cx="658.5" cy="257.9" r="1" fill="url(#gb)"/>
<circle cx="661.5" cy="259.35" r="1" fill="url(#gb)"/>
<circle cx="658.5" cy="260.8" r="1" fill="url(#gb)"/>
<circle cx="661.5" cy="262.25" r="1" fill="url(#gb)"/>
<circle cx="658.5" cy="263.7" r="1" fill="url(#gb)"/>
<circle cx="661.5" cy="265.15" r="1" fill="url(#gb)"/>
<circle cx="658.5" cy="266.6" r="1" fill="url(#gb)"/>
<circle cx="661.5" cy="268.05" r="1" fill="url(#gb)"/>
<circle cx="658.5" cy="269.5" r="1" fill="url(#gb)"/>
<circle cx="661.5" cy="270.95" r="1" fill="url(#gb)"/>
<circle cx="658.5" cy="272.4" r="1" fill="url(#gb)"/>
<circle cx="661.5" cy="273.85" r="1" fill="url(#gb)"/>
<circle cx="658.5" cy="275.3" r="1" fill="url(#gb)"/>
<circle cx="661.5" cy="276.75" r="1" fill="url(#gb)"/>
<circle cx="658.5" cy="278.2" r="1" fill="url(#gb)"/>
<circle cx="661.5" cy="279.65" r="1" fill="url(#gb)"/>
<circle cx="658.5" cy="281.1" r="1" fill="url(#gb)"/>
<circle cx="661.5" cy="282.55" r="1" fill="url(#gb)"/>
<circle cx="658.5" cy="284" r="1" fill="url(#gb)"/>
<circle cx="661.5" cy="285.45" r="1" fill="url(#gb)"/>
<circle cx="658.5" cy="286.9" r="1" fill="url(#gb)"/>
<circle cx="661.5" cy="288.35" r="1" fill="url(#gb)"/>
<circle cx="658.5" cy="289.8" r="1" fill="url(#gb)"/>
<circle cx="661.5" cy="291.25" r="1" fill="url(#gb)"/>
<circle cx="658.5" cy="292.7" r="1" fill="url(#gb)"/>
<circle cx="661.5" cy="294.15" r="1" fill="url(#gb)"/>
<circle cx="658.5" cy="295.6" r="1" fill="url(#gb)"/>
<circle cx="661.5" cy="297.05" r="1" fill="url(#gb)"/>
<circle cx="658.5" cy="298.5" r="1" fill="url(#gb)"/>
<circle cx="661.5" cy="299.95" r="1" fill="url(#gb)"/>
<circle cx="658.5" cy="301.4" r="1" fill="url(#gb)"/>
<circle cx="661.5" cy="302.85" r="1" fill="url(#gb)"/>
<circle cx="658.5" cy="304.3" r="1" fill="url(#gb)"/>
<circle cx="661.5" cy="305.75" r="1" fill="url(#gb)"/>
<circle cx="658.5" cy="307.2" r="1" fill="url(#gb)"/>
<circle cx="661.5" cy="308.65" r="1" fill="url(#gb)"/>
<circle cx="658.5" cy="310.1" r="1" fill="url(#gb)"/>
<circle cx="661.5" cy="311.55" r="1" fill="url(#gb)"/>
<circle cx="658.5" cy="313" r="1" fill="url(#gb)"/>
<circle cx="661.5" cy="314.45" r="1" fill="url(#gb)"/>
<circle cx="658.5" cy="315.9" r="1" fill="url(#gb)"/>
<circle cx="661.5" cy="317.35" r="1" fill="url(#gb)"/>
<path d="M615.61,256.2 L611.8,258.4 L607.99,256.2 L607.99,251.8 L611.8,249.6 L615.61,251.8Z" fill="none" stroke="#8a5a3c" stroke-width="1.17"/>
<circle cx="615.61" cy="256.2" r="0.8" fill="url(#gb)"/>
<circle cx="611.8" cy="258.4" r="0.8" fill="url(#gb)"/>
<circle cx="607.99" cy="256.2" r="0.8" fill="url(#gb)"/>
<circle cx="607.99" cy="251.8" r="0.8" fill="url(#gb)"/>
<circle cx="611.8" cy="249.6" r="0.8" fill="url(#gb)"/>
<circle cx="615.61" cy="251.8" r="0.8" fill="url(#gb)"/>
<line x1="615.61" y1="256.2" x2="617.33" y2="257.19" stroke="#c8a898" stroke-width="0.4" stroke-linecap="round"/>
<circle cx="617.33" cy="257.19" r="0.45" fill="#f4dede"/>
<line x1="611.8" y1="258.4" x2="611.8" y2="260.38" stroke="#c8a898" stroke-width="0.4" stroke-linecap="round"/>
<circle cx="611.8" cy="260.38" r="0.45" fill="#f4dede"/>
<line x1="607.99" y1="256.2" x2="606.27" y2="257.19" stroke="#c8a898" stroke-width="0.4" stroke-linecap="round"/>
<circle cx="606.27" cy="257.19" r="0.45" fill="#f4dede"/>
<path d="M618.01,263.7 L614.2,265.9 L610.39,263.7 L610.39,259.3 L614.2,257.1 L618.01,259.3Z" fill="none" stroke="#8a5a3c" stroke-width="1.17"/>
<circle cx="618.01" cy="263.7" r="0.8" fill="url(#gb)"/>
<circle cx="614.2" cy="265.9" r="0.8" fill="url(#gb)"/>
<circle cx="610.39" cy="263.7" r="0.8" fill="url(#gb)"/>
<circle cx="610.39" cy="259.3" r="0.8" fill="url(#gb)"/>
<circle cx="614.2" cy="257.1" r="0.8" fill="url(#gb)"/>
<circle cx="618.01" cy="259.3" r="0.8" fill="url(#gb)"/>
<line x1="618.01" y1="263.7" x2="619.73" y2="264.69" stroke="#c8a898" stroke-width="0.4" stroke-linecap="round"/>
<circle cx="619.73" cy="264.69" r="0.45" fill="#f4dede"/>
<line x1="614.2" y1="265.9" x2="614.2" y2="267.88" stroke="#c8a898" stroke-width="0.4" stroke-linecap="round"/>
<circle cx="614.2" cy="267.88" r="0.45" fill="#f4dede"/>
<line x1="610.39" y1="263.7" x2="608.67" y2="264.69" stroke="#c8a898" stroke-width="0.4" stroke-linecap="round"/>
<circle cx="608.67" cy="264.69" r="0.45" fill="#f4dede"/>
<path d="M615.61,271.2 L611.8,273.4 L607.99,271.2 L607.99,266.8 L611.8,264.6 L615.61,266.8Z" fill="none" stroke="#8a5a3c" stroke-width="1.17"/>
<circle cx="615.61" cy="271.2" r="0.8" fill="url(#gb)"/>
<circle cx="611.8" cy="273.4" r="0.8" fill="url(#gb)"/>
<circle cx="607.99" cy="271.2" r="0.8" fill="url(#gb)"/>
<circle cx="607.99" cy="266.8" r="0.8" fill="url(#gb)"/>
<circle cx="611.8" cy="264.6" r="0.8" fill="url(#gb)"/>
<circle cx="615.61" cy="266.8" r="0.8" fill="url(#gb)"/>
<line x1="615.61" y1="271.2" x2="617.33" y2="272.19" stroke="#c8a898" stroke-width="0.4" stroke-linecap="round"/>
<circle cx="617.33" cy="272.19" r="0.45" fill="#f4dede"/>
<line x1="611.8" y1="273.4" x2="611.8" y2="275.38" stroke="#c8a898" stroke-width="0.4" stroke-linecap="round"/>
<circle cx="611.8" cy="275.38" r="0.45" fill="#f4dede"/>
<line x1="607.99" y1="271.2" x2="606.27" y2="272.19" stroke="#c8a898" stroke-width="0.4" stroke-linecap="round"/>
<circle cx="606.27" cy="272.19" r="0.45" fill="#f4dede"/>
<path d="M618.01,278.7 L614.2,280.9 L610.39,278.7 L610.39,274.3 L614.2,272.1 L618.01,274.3Z" fill="none" stroke="#8a5a3c" stroke-width="1.17"/>
<circle cx="618.01" cy="278.7" r="0.8" fill="url(#gb)"/>
<circle cx="614.2" cy="280.9" r="0.8" fill="url(#gb)"/>
<circle cx="610.39" cy="278.7" r="0.8" fill="url(#gb)"/>
<circle cx="610.39" cy="274.3" r="0.8" fill="url(#gb)"/>
<circle cx="614.2" cy="272.1" r="0.8" fill="url(#gb)"/>
<circle cx="618.01" cy="274.3" r="0.8" fill="url(#gb)"/>
<line x1="618.01" y1="278.7" x2="619.73" y2="279.69" stroke="#c8a898" stroke-width="0.4" stroke-linecap="round"/>
<circle cx="619.73" cy="279.69" r="0.45" fill="#f4dede"/>
<line x1="614.2" y1="280.9" x2="614.2" y2="282.88" stroke="#c8a898" stroke-width="0.4" stroke-linecap="round"/>
<circle cx="614.2" cy="282.88" r="0.45" fill="#f4dede"/>
<line x1="610.39" y1="278.7" x2="608.67" y2="279.69" stroke="#c8a898" stroke-width="0.4" stroke-linecap="round"/>
<circle cx="608.67" cy="279.69" r="0.45" fill="#f4dede"/>
<path d="M615.61,286.2 L611.8,288.4 L607.99,286.2 L607.99,281.8 L611.8,279.6 L615.61,281.8Z" fill="none" stroke="#8a5a3c" stroke-width="1.17"/>
<circle cx="615.61" cy="286.2" r="0.8" fill="url(#gb)"/>
<circle cx="611.8" cy="288.4" r="0.8" fill="url(#gb)"/>
<circle cx="607.99" cy="286.2" r="0.8" fill="url(#gb)"/>
<circle cx="607.99" cy="281.8" r="0.8" fill="url(#gb)"/>
<circle cx="611.8" cy="279.6" r="0.8" fill="url(#gb)"/>
<circle cx="615.61" cy="281.8" r="0.8" fill="url(#gb)"/>
<line x1="615.61" y1="286.2" x2="617.33" y2="287.19" stroke="#c8a898" stroke-width="0.4" stroke-linecap="round"/>
<circle cx="617.33" cy="287.19" r="0.45" fill="#f4dede"/>
<line x1="611.8" y1="288.4" x2="611.8" y2="290.38" stroke="#c8a898" stroke-width="0.4" stroke-linecap="round"/>
<circle cx="611.8" cy="290.38" r="0.45" fill="#f4dede"/>
<line x1="607.99" y1="286.2" x2="606.27" y2="287.19" stroke="#c8a898" stroke-width="0.4" stroke-linecap="round"/>
<circle cx="606.27" cy="287.19" r="0.45" fill="#f4dede"/>
<path d="M618.01,293.7 L614.2,295.9 L610.39,293.7 L610.39,289.3 L614.2,287.1 L618.01,289.3Z" fill="none" stroke="#8a5a3c" stroke-width="1.17"/>
<circle cx="618.01" cy="293.7" r="0.8" fill="url(#gb)"/>
<circle cx="614.2" cy="295.9" r="0.8" fill="url(#gb)"/>
<circle cx="610.39" cy="293.7" r="0.8" fill="url(#gb)"/>
<circle cx="610.39" cy="289.3" r="0.8" fill="url(#gb)"/>
<circle cx="614.2" cy="287.1" r="0.8" fill="url(#gb)"/>
<circle cx="618.01" cy="289.3" r="0.8" fill="url(#gb)"/>
<line x1="618.01" y1="293.7" x2="619.73" y2="294.69" stroke="#c8a898" stroke-width="0.4" stroke-linecap="round"/>
<circle cx="619.73" cy="294.69" r="0.45" fill="#f4dede"/>
<line x1="614.2" y1="295.9" x2="614.2" y2="297.88" stroke="#c8a898" stroke-width="0.4" stroke-linecap="round"/>
<circle cx="614.2" cy="297.88" r="0.45" fill="#f4dede"/>
<line x1="610.39" y1="293.7" x2="608.67" y2="294.69" stroke="#c8a898" stroke-width="0.4" stroke-linecap="round"/>
<circle cx="608.67" cy="294.69" r="0.45" fill="#f4dede"/>
<path d="M615.61,301.2 L611.8,303.4 L607.99,301.2 L607.99,296.8 L611.8,294.6 L615.61,296.8Z" fill="none" stroke="#8a5a3c" stroke-width="1.17"/>
<circle cx="615.61" cy="301.2" r="0.8" fill="url(#gb)"/>
<circle cx="611.8" cy="303.4" r="0.8" fill="url(#gb)"/>
<circle cx="607.99" cy="301.2" r="0.8" fill="url(#gb)"/>
<circle cx="607.99" cy="296.8" r="0.8" fill="url(#gb)"/>
<circle cx="611.8" cy="294.6" r="0.8" fill="url(#gb)"/>
<circle cx="615.61" cy="296.8" r="0.8" fill="url(#gb)"/>
<line x1="615.61" y1="301.2" x2="617.33" y2="302.19" stroke="#c8a898" stroke-width="0.4" stroke-linecap="round"/>
<circle cx="617.33" cy="302.19" r="0.45" fill="#f4dede"/>
<line x1="611.8" y1="303.4" x2="611.8" y2="305.38" stroke="#c8a898" stroke-width="0.4" stroke-linecap="round"/>
<circle cx="611.8" cy="305.38" r="0.45" fill="#f4dede"/>
<line x1="607.99" y1="301.2" x2="606.27" y2="302.19" stroke="#c8a898" stroke-width="0.4" stroke-linecap="round"/>
<circle cx="606.27" cy="302.19" r="0.45" fill="#f4dede"/>
<path d="M618.01,308.7 L614.2,310.9 L610.39,308.7 L610.39,304.3 L614.2,302.1 L618.01,304.3Z" fill="none" stroke="#8a5a3c" stroke-width="1.17"/>
<circle cx="618.01" cy="308.7" r="0.8" fill="url(#gb)"/>
<circle cx="614.2" cy="310.9" r="0.8" fill="url(#gb)"/>
<circle cx="610.39" cy="308.7" r="0.8" fill="url(#gb)"/>
<circle cx="610.39" cy="304.3" r="0.8" fill="url(#gb)"/>
<circle cx="614.2" cy="302.1" r="0.8" fill="url(#gb)"/>
<circle cx="618.01" cy="304.3" r="0.8" fill="url(#gb)"/>
<line x1="618.01" y1="308.7" x2="619.73" y2="309.69" stroke="#c8a898" stroke-width="0.4" stroke-linecap="round"/>
<circle cx="619.73" cy="309.69" r="0.45" fill="#f4dede"/>
<line x1="614.2" y1="310.9" x2="614.2" y2="312.88" stroke="#c8a898" stroke-width="0.4" stroke-linecap="round"/>
<circle cx="614.2" cy="312.88" r="0.45" fill="#f4dede"/>
<line x1="610.39" y1="308.7" x2="608.67" y2="309.69" stroke="#c8a898" stroke-width="0.4" stroke-linecap="round"/>
<circle cx="608.67" cy="309.69" r="0.45" fill="#f4dede"/>
<path d="M615.61,316.2 L611.8,318.4 L607.99,316.2 L607.99,311.8 L611.8,309.6 L615.61,311.8Z" fill="none" stroke="#8a5a3c" stroke-width="1.17"/>
<circle cx="615.61" cy="316.2" r="0.8" fill="url(#gb)"/>
<circle cx="611.8" cy="318.4" r="0.8" fill="url(#gb)"/>
<circle cx="607.99" cy="316.2" r="0.8" fill="url(#gb)"/>
<circle cx="607.99" cy="311.8" r="0.8" fill="url(#gb)"/>
<circle cx="611.8" cy="309.6" r="0.8" fill="url(#gb)"/>
<circle cx="615.61" cy="311.8" r="0.8" fill="url(#gb)"/>
<line x1="615.61" y1="316.2" x2="617.33" y2="317.19" stroke="#c8a898" stroke-width="0.4" stroke-linecap="round"/>
<circle cx="617.33" cy="317.19" r="0.45" fill="#f4dede"/>
<line x1="611.8" y1="318.4" x2="611.8" y2="320.38" stroke="#c8a898" stroke-width="0.4" stroke-linecap="round"/>
<circle cx="611.8" cy="320.38" r="0.45" fill="#f4dede"/>
<line x1="607.99" y1="316.2" x2="606.27" y2="317.19" stroke="#c8a898" stroke-width="0.4" stroke-linecap="round"/>
<circle cx="606.27" cy="317.19" r="0.45" fill="#f4dede"/>
<path d="M664.61,234.2 L660.8,236.4 L656.99,234.2 L656.99,229.8 L660.8,227.6 L664.61,229.8Z" fill="none" stroke="#8a5a3c" stroke-width="1.17"/>
<circle cx="664.61" cy="234.2" r="0.8" fill="url(#gb)"/>
<circle cx="660.8" cy="236.4" r="0.8" fill="url(#gb)"/>
<circle cx="656.99" cy="234.2" r="0.8" fill="url(#gb)"/>
<circle cx="656.99" cy="229.8" r="0.8" fill="url(#gb)"/>
<circle cx="660.8" cy="227.6" r="0.8" fill="url(#gb)"/>
<circle cx="664.61" cy="229.8" r="0.8" fill="url(#gb)"/>
<line x1="664.61" y1="234.2" x2="666.33" y2="235.19" stroke="#c8a898" stroke-width="0.4" stroke-linecap="round"/>
<circle cx="666.33" cy="235.19" r="0.45" fill="#f4dede"/>
<line x1="660.8" y1="236.4" x2="660.8" y2="238.38" stroke="#c8a898" stroke-width="0.4" stroke-linecap="round"/>
<circle cx="660.8" cy="238.38" r="0.45" fill="#f4dede"/>
<line x1="656.99" y1="234.2" x2="655.27" y2="235.19" stroke="#c8a898" stroke-width="0.4" stroke-linecap="round"/>
<circle cx="655.27" cy="235.19" r="0.45" fill="#f4dede"/>
<path d="M667.01,241.7 L663.2,243.9 L659.39,241.7 L659.39,237.3 L663.2,235.1 L667.01,237.3Z" fill="none" stroke="#8a5a3c" stroke-width="1.17"/>
<circle cx="667.01" cy="241.7" r="0.8" fill="url(#gb)"/>
<circle cx="663.2" cy="243.9" r="0.8" fill="url(#gb)"/>
<circle cx="659.39" cy="241.7" r="0.8" fill="url(#gb)"/>
<circle cx="659.39" cy="237.3" r="0.8" fill="url(#gb)"/>
<circle cx="663.2" cy="235.1" r="0.8" fill="url(#gb)"/>
<circle cx="667.01" cy="237.3" r="0.8" fill="url(#gb)"/>
<line x1="667.01" y1="241.7" x2="668.73" y2="242.69" stroke="#c8a898" stroke-width="0.4" stroke-linecap="round"/>
<circle cx="668.73" cy="242.69" r="0.45" fill="#f4dede"/>
<line x1="663.2" y1="243.9" x2="663.2" y2="245.88" stroke="#c8a898" stroke-width="0.4" stroke-linecap="round"/>
<circle cx="663.2" cy="245.88" r="0.45" fill="#f4dede"/>
<line x1="659.39" y1="241.7" x2="657.67" y2="242.69" stroke="#c8a898" stroke-width="0.4" stroke-linecap="round"/>
<circle cx="657.67" cy="242.69" r="0.45" fill="#f4dede"/>
<path d="M664.61,249.2 L660.8,251.4 L656.99,249.2 L656.99,244.8 L660.8,242.6 L664.61,244.8Z" fill="none" stroke="#8a5a3c" stroke-width="1.17"/>
<circle cx="664.61" cy="249.2" r="0.8" fill="url(#gb)"/>
<circle cx="660.8" cy="251.4" r="0.8" fill="url(#gb)"/>
<circle cx="656.99" cy="249.2" r="0.8" fill="url(#gb)"/>
<circle cx="656.99" cy="244.8" r="0.8" fill="url(#gb)"/>
<circle cx="660.8" cy="242.6" r="0.8" fill="url(#gb)"/>
<circle cx="664.61" cy="244.8" r="0.8" fill="url(#gb)"/>
<line x1="664.61" y1="249.2" x2="666.33" y2="250.19" stroke="#c8a898" stroke-width="0.4" stroke-linecap="round"/>
<circle cx="666.33" cy="250.19" r="0.45" fill="#f4dede"/>
<line x1="660.8" y1="251.4" x2="660.8" y2="253.38" stroke="#c8a898" stroke-width="0.4" stroke-linecap="round"/>
<circle cx="660.8" cy="253.38" r="0.45" fill="#f4dede"/>
<line x1="656.99" y1="249.2" x2="655.27" y2="250.19" stroke="#c8a898" stroke-width="0.4" stroke-linecap="round"/>
<circle cx="655.27" cy="250.19" r="0.45" fill="#f4dede"/>
<path d="M667.01,256.7 L663.2,258.9 L659.39,256.7 L659.39,252.3 L663.2,250.1 L667.01,252.3Z" fill="none" stroke="#8a5a3c" stroke-width="1.17"/>
<circle cx="667.01" cy="256.7" r="0.8" fill="url(#gb)"/>
<circle cx="663.2" cy="258.9" r="0.8" fill="url(#gb)"/>
<circle cx="659.39" cy="256.7" r="0.8" fill="url(#gb)"/>
<circle cx="659.39" cy="252.3" r="0.8" fill="url(#gb)"/>
<circle cx="663.2" cy="250.1" r="0.8" fill="url(#gb)"/>
<circle cx="667.01" cy="252.3" r="0.8" fill="url(#gb)"/>
<line x1="667.01" y1="256.7" x2="668.73" y2="257.69" stroke="#c8a898" stroke-width="0.4" stroke-linecap="round"/>
<circle cx="668.73" cy="257.69" r="0.45" fill="#f4dede"/>
<line x1="663.2" y1="258.9" x2="663.2" y2="260.88" stroke="#c8a898" stroke-width="0.4" stroke-linecap="round"/>
<circle cx="663.2" cy="260.88" r="0.45" fill="#f4dede"/>
<line x1="659.39" y1="256.7" x2="657.67" y2="257.69" stroke="#c8a898" stroke-width="0.4" stroke-linecap="round"/>
<circle cx="657.67" cy="257.69" r="0.45" fill="#f4dede"/>
<path d="M664.61,264.2 L660.8,266.4 L656.99,264.2 L656.99,259.8 L660.8,257.6 L664.61,259.8Z" fill="none" stroke="#8a5a3c" stroke-width="1.17"/>
<circle cx="664.61" cy="264.2" r="0.8" fill="url(#gb)"/>
<circle cx="660.8" cy="266.4" r="0.8" fill="url(#gb)"/>
<circle cx="656.99" cy="264.2" r="0.8" fill="url(#gb)"/>
<circle cx="656.99" cy="259.8" r="0.8" fill="url(#gb)"/>
<circle cx="660.8" cy="257.6" r="0.8" fill="url(#gb)"/>
<circle cx="664.61" cy="259.8" r="0.8" fill="url(#gb)"/>
<line x1="664.61" y1="264.2" x2="666.33" y2="265.19" stroke="#c8a898" stroke-width="0.4" stroke-linecap="round"/>
<circle cx="666.33" cy="265.19" r="0.45" fill="#f4dede"/>
<line x1="660.8" y1="266.4" x2="660.8" y2="268.38" stroke="#c8a898" stroke-width="0.4" stroke-linecap="round"/>
<circle cx="660.8" cy="268.38" r="0.45" fill="#f4dede"/>
<line x1="656.99" y1="264.2" x2="655.27" y2="265.19" stroke="#c8a898" stroke-width="0.4" stroke-linecap="round"/>
<circle cx="655.27" cy="265.19" r="0.45" fill="#f4dede"/>
<path d="M667.01,271.7 L663.2,273.9 L659.39,271.7 L659.39,267.3 L663.2,265.1 L667.01,267.3Z" fill="none" stroke="#8a5a3c" stroke-width="1.17"/>
<circle cx="667.01" cy="271.7" r="0.8" fill="url(#gb)"/>
<circle cx="663.2" cy="273.9" r="0.8" fill="url(#gb)"/>
<circle cx="659.39" cy="271.7" r="0.8" fill="url(#gb)"/>
<circle cx="659.39" cy="267.3" r="0.8" fill="url(#gb)"/>
<circle cx="663.2" cy="265.1" r="0.8" fill="url(#gb)"/>
<circle cx="667.01" cy="267.3" r="0.8" fill="url(#gb)"/>
<line x1="667.01" y1="271.7" x2="668.73" y2="272.69" stroke="#c8a898" stroke-width="0.4" stroke-linecap="round"/>
<circle cx="668.73" cy="272.69" r="0.45" fill="#f4dede"/>
<line x1="663.2" y1="273.9" x2="663.2" y2="275.88" stroke="#c8a898" stroke-width="0.4" stroke-linecap="round"/>
<circle cx="663.2" cy="275.88" r="0.45" fill="#f4dede"/>
<line x1="659.39" y1="271.7" x2="657.67" y2="272.69" stroke="#c8a898" stroke-width="0.4" stroke-linecap="round"/>
<circle cx="657.67" cy="272.69" r="0.45" fill="#f4dede"/>
<path d="M664.61,279.2 L660.8,281.4 L656.99,279.2 L656.99,274.8 L660.8,272.6 L664.61,274.8Z" fill="none" stroke="#8a5a3c" stroke-width="1.17"/>
<circle cx="664.61" cy="279.2" r="0.8" fill="url(#gb)"/>
<circle cx="660.8" cy="281.4" r="0.8" fill="url(#gb)"/>
<circle cx="656.99" cy="279.2" r="0.8" fill="url(#gb)"/>
<circle cx="656.99" cy="274.8" r="0.8" fill="url(#gb)"/>
<circle cx="660.8" cy="272.6" r="0.8" fill="url(#gb)"/>
<circle cx="664.61" cy="274.8" r="0.8" fill="url(#gb)"/>
<line x1="664.61" y1="279.2" x2="666.33" y2="280.19" stroke="#c8a898" stroke-width="0.4" stroke-linecap="round"/>
<circle cx="666.33" cy="280.19" r="0.45" fill="#f4dede"/>
<line x1="660.8" y1="281.4" x2="660.8" y2="283.38" stroke="#c8a898" stroke-width="0.4" stroke-linecap="round"/>
<circle cx="660.8" cy="283.38" r="0.45" fill="#f4dede"/>
<line x1="656.99" y1="279.2" x2="655.27" y2="280.19" stroke="#c8a898" stroke-width="0.4" stroke-linecap="round"/>
<circle cx="655.27" cy="280.19" r="0.45" fill="#f4dede"/>
<path d="M667.01,286.7 L663.2,288.9 L659.39,286.7 L659.39,282.3 L663.2,280.1 L667.01,282.3Z" fill="none" stroke="#8a5a3c" stroke-width="1.17"/>
<circle cx="667.01" cy="286.7" r="0.8" fill="url(#gb)"/>
<circle cx="663.2" cy="288.9" r="0.8" fill="url(#gb)"/>
<circle cx="659.39" cy="286.7" r="0.8" fill="url(#gb)"/>
<circle cx="659.39" cy="282.3" r="0.8" fill="url(#gb)"/>
<circle cx="663.2" cy="280.1" r="0.8" fill="url(#gb)"/>
<circle cx="667.01" cy="282.3" r="0.8" fill="url(#gb)"/>
<line x1="667.01" y1="286.7" x2="668.73" y2="287.69" stroke="#c8a898" stroke-width="0.4" stroke-linecap="round"/>
<circle cx="668.73" cy="287.69" r="0.45" fill="#f4dede"/>
<line x1="663.2" y1="288.9" x2="663.2" y2="290.88" stroke="#c8a898" stroke-width="0.4" stroke-linecap="round"/>
<circle cx="663.2" cy="290.88" r="0.45" fill="#f4dede"/>
<line x1="659.39" y1="286.7" x2="657.67" y2="287.69" stroke="#c8a898" stroke-width="0.4" stroke-linecap="round"/>
<circle cx="657.67" cy="287.69" r="0.45" fill="#f4dede"/>
<path d="M664.61,294.2 L660.8,296.4 L656.99,294.2 L656.99,289.8 L660.8,287.6 L664.61,289.8Z" fill="none" stroke="#8a5a3c" stroke-width="1.17"/>
<circle cx="664.61" cy="294.2" r="0.8" fill="url(#gb)"/>
<circle cx="660.8" cy="296.4" r="0.8" fill="url(#gb)"/>
<circle cx="656.99" cy="294.2" r="0.8" fill="url(#gb)"/>
<circle cx="656.99" cy="289.8" r="0.8" fill="url(#gb)"/>
<circle cx="660.8" cy="287.6" r="0.8" fill="url(#gb)"/>
<circle cx="664.61" cy="289.8" r="0.8" fill="url(#gb)"/>
<line x1="664.61" y1="294.2" x2="666.33" y2="295.19" stroke="#c8a898" stroke-width="0.4" stroke-linecap="round"/>
<circle cx="666.33" cy="295.19" r="0.45" fill="#f4dede"/>
<line x1="660.8" y1="296.4" x2="660.8" y2="298.38" stroke="#c8a898" stroke-width="0.4" stroke-linecap="round"/>
<circle cx="660.8" cy="298.38" r="0.45" fill="#f4dede"/>
<line x1="656.99" y1="294.2" x2="655.27" y2="295.19" stroke="#c8a898" stroke-width="0.4" stroke-linecap="round"/>
<circle cx="655.27" cy="295.19" r="0.45" fill="#f4dede"/>
<path d="M667.01,301.7 L663.2,303.9 L659.39,301.7 L659.39,297.3 L663.2,295.1 L667.01,297.3Z" fill="none" stroke="#8a5a3c" stroke-width="1.17"/>
<circle cx="667.01" cy="301.7" r="0.8" fill="url(#gb)"/>
<circle cx="663.2" cy="303.9" r="0.8" fill="url(#gb)"/>
<circle cx="659.39" cy="301.7" r="0.8" fill="url(#gb)"/>
<circle cx="659.39" cy="297.3" r="0.8" fill="url(#gb)"/>
<circle cx="663.2" cy="295.1" r="0.8" fill="url(#gb)"/>
<circle cx="667.01" cy="297.3" r="0.8" fill="url(#gb)"/>
<line x1="667.01" y1="301.7" x2="668.73" y2="302.69" stroke="#c8a898" stroke-width="0.4" stroke-linecap="round"/>
<circle cx="668.73" cy="302.69" r="0.45" fill="#f4dede"/>
<line x1="663.2" y1="303.9" x2="663.2" y2="305.88" stroke="#c8a898" stroke-width="0.4" stroke-linecap="round"/>
<circle cx="663.2" cy="305.88" r="0.45" fill="#f4dede"/>
<line x1="659.39" y1="301.7" x2="657.67" y2="302.69" stroke="#c8a898" stroke-width="0.4" stroke-linecap="round"/>
<circle cx="657.67" cy="302.69" r="0.45" fill="#f4dede"/>
<path d="M664.61,309.2 L660.8,311.4 L656.99,309.2 L656.99,304.8 L660.8,302.6 L664.61,304.8Z" fill="none" stroke="#8a5a3c" stroke-width="1.17"/>
<circle cx="664.61" cy="309.2" r="0.8" fill="url(#gb)"/>
<circle cx="660.8" cy="311.4" r="0.8" fill="url(#gb)"/>
<circle cx="656.99" cy="309.2" r="0.8" fill="url(#gb)"/>
<circle cx="656.99" cy="304.8" r="0.8" fill="url(#gb)"/>
<circle cx="660.8" cy="302.6" r="0.8" fill="url(#gb)"/>
<circle cx="664.61" cy="304.8" r="0.8" fill="url(#gb)"/>
<line x1="664.61" y1="309.2" x2="666.33" y2="310.19" stroke="#c8a898" stroke-width="0.4" stroke-linecap="round"/>
<circle cx="666.33" cy="310.19" r="0.45" fill="#f4dede"/>
<line x1="660.8" y1="311.4" x2="660.8" y2="313.38" stroke="#c8a898" stroke-width="0.4" stroke-linecap="round"/>
<circle cx="660.8" cy="313.38" r="0.45" fill="#f4dede"/>
<line x1="656.99" y1="309.2" x2="655.27" y2="310.19" stroke="#c8a898" stroke-width="0.4" stroke-linecap="round"/>
<circle cx="655.27" cy="310.19" r="0.45" fill="#f4dede"/>
<path d="M625.26,264 L621.8,266 L618.34,264 L618.34,260 L621.8,258 L625.26,260Z" fill="none" stroke="#8a5a3c" stroke-width="1.17"/>
<circle cx="625.26" cy="264" r="0.8" fill="url(#gb)"/>
<circle cx="621.8" cy="266" r="0.8" fill="url(#gb)"/>
<circle cx="618.34" cy="264" r="0.8" fill="url(#gb)"/>
<circle cx="618.34" cy="260" r="0.8" fill="url(#gb)"/>
<circle cx="621.8" cy="258" r="0.8" fill="url(#gb)"/>
<circle cx="625.26" cy="260" r="0.8" fill="url(#gb)"/>
<line x1="625.26" y1="264" x2="626.82" y2="264.9" stroke="#c8a898" stroke-width="0.4" stroke-linecap="round"/>
<circle cx="626.82" cy="264.9" r="0.45" fill="#f4dede"/>
<line x1="621.8" y1="266" x2="621.8" y2="267.8" stroke="#c8a898" stroke-width="0.4" stroke-linecap="round"/>
<circle cx="621.8" cy="267.8" r="0.45" fill="#f4dede"/>
<line x1="618.34" y1="264" x2="616.78" y2="264.9" stroke="#c8a898" stroke-width="0.4" stroke-linecap="round"/>
<circle cx="616.78" cy="264.9" r="0.45" fill="#f4dede"/>
<path d="M627.66,272.5 L624.2,274.5 L620.74,272.5 L620.74,268.5 L624.2,266.5 L627.66,268.5Z" fill="none" stroke="#8a5a3c" stroke-width="1.17"/>
<circle cx="627.66" cy="272.5" r="0.8" fill="url(#gb)"/>
<circle cx="624.2" cy="274.5" r="0.8" fill="url(#gb)"/>
<circle cx="620.74" cy="272.5" r="0.8" fill="url(#gb)"/>
<circle cx="620.74" cy="268.5" r="0.8" fill="url(#gb)"/>
<circle cx="624.2" cy="266.5" r="0.8" fill="url(#gb)"/>
<circle cx="627.66" cy="268.5" r="0.8" fill="url(#gb)"/>
<line x1="627.66" y1="272.5" x2="629.22" y2="273.4" stroke="#c8a898" stroke-width="0.4" stroke-linecap="round"/>
<circle cx="629.22" cy="273.4" r="0.45" fill="#f4dede"/>
<line x1="624.2" y1="274.5" x2="624.2" y2="276.3" stroke="#c8a898" stroke-width="0.4" stroke-linecap="round"/>
<circle cx="624.2" cy="276.3" r="0.45" fill="#f4dede"/>
<line x1="620.74" y1="272.5" x2="619.18" y2="273.4" stroke="#c8a898" stroke-width="0.4" stroke-linecap="round"/>
<circle cx="619.18" cy="273.4" r="0.45" fill="#f4dede"/>
<path d="M625.26,281 L621.8,283 L618.34,281 L618.34,277 L621.8,275 L625.26,277Z" fill="none" stroke="#8a5a3c" stroke-width="1.17"/>
<circle cx="625.26" cy="281" r="0.8" fill="url(#gb)"/>
<circle cx="621.8" cy="283" r="0.8" fill="url(#gb)"/>
<circle cx="618.34" cy="281" r="0.8" fill="url(#gb)"/>
<circle cx="618.34" cy="277" r="0.8" fill="url(#gb)"/>
<circle cx="621.8" cy="275" r="0.8" fill="url(#gb)"/>
<circle cx="625.26" cy="277" r="0.8" fill="url(#gb)"/>
<line x1="625.26" y1="281" x2="626.82" y2="281.9" stroke="#c8a898" stroke-width="0.4" stroke-linecap="round"/>
<circle cx="626.82" cy="281.9" r="0.45" fill="#f4dede"/>
<line x1="621.8" y1="283" x2="621.8" y2="284.8" stroke="#c8a898" stroke-width="0.4" stroke-linecap="round"/>
<circle cx="621.8" cy="284.8" r="0.45" fill="#f4dede"/>
<line x1="618.34" y1="281" x2="616.78" y2="281.9" stroke="#c8a898" stroke-width="0.4" stroke-linecap="round"/>
<circle cx="616.78" cy="281.9" r="0.45" fill="#f4dede"/>
<path d="M627.66,289.5 L624.2,291.5 L620.74,289.5 L620.74,285.5 L624.2,283.5 L627.66,285.5Z" fill="none" stroke="#8a5a3c" stroke-width="1.17"/>
<circle cx="627.66" cy="289.5" r="0.8" fill="url(#gb)"/>
<circle cx="624.2" cy="291.5" r="0.8" fill="url(#gb)"/>
<circle cx="620.74" cy="289.5" r="0.8" fill="url(#gb)"/>
<circle cx="620.74" cy="285.5" r="0.8" fill="url(#gb)"/>
<circle cx="624.2" cy="283.5" r="0.8" fill="url(#gb)"/>
<circle cx="627.66" cy="285.5" r="0.8" fill="url(#gb)"/>
<line x1="627.66" y1="289.5" x2="629.22" y2="290.4" stroke="#c8a898" stroke-width="0.4" stroke-linecap="round"/>
<circle cx="629.22" cy="290.4" r="0.45" fill="#f4dede"/>
<line x1="624.2" y1="291.5" x2="624.2" y2="293.3" stroke="#c8a898" stroke-width="0.4" stroke-linecap="round"/>
<circle cx="624.2" cy="293.3" r="0.45" fill="#f4dede"/>
<line x1="620.74" y1="289.5" x2="619.18" y2="290.4" stroke="#c8a898" stroke-width="0.4" stroke-linecap="round"/>
<circle cx="619.18" cy="290.4" r="0.45" fill="#f4dede"/>
<path d="M625.26,298 L621.8,300 L618.34,298 L618.34,294 L621.8,292 L625.26,294Z" fill="none" stroke="#8a5a3c" stroke-width="1.17"/>
<circle cx="625.26" cy="298" r="0.8" fill="url(#gb)"/>
<circle cx="621.8" cy="300" r="0.8" fill="url(#gb)"/>
<circle cx="618.34" cy="298" r="0.8" fill="url(#gb)"/>
<circle cx="618.34" cy="294" r="0.8" fill="url(#gb)"/>
<circle cx="621.8" cy="292" r="0.8" fill="url(#gb)"/>
<circle cx="625.26" cy="294" r="0.8" fill="url(#gb)"/>
<line x1="625.26" y1="298" x2="626.82" y2="298.9" stroke="#c8a898" stroke-width="0.4" stroke-linecap="round"/>
<circle cx="626.82" cy="298.9" r="0.45" fill="#f4dede"/>
<line x1="621.8" y1="300" x2="621.8" y2="301.8" stroke="#c8a898" stroke-width="0.4" stroke-linecap="round"/>
<circle cx="621.8" cy="301.8" r="0.45" fill="#f4dede"/>
<line x1="618.34" y1="298" x2="616.78" y2="298.9" stroke="#c8a898" stroke-width="0.4" stroke-linecap="round"/>
<circle cx="616.78" cy="298.9" r="0.45" fill="#f4dede"/>
<path d="M627.66,306.5 L624.2,308.5 L620.74,306.5 L620.74,302.5 L624.2,300.5 L627.66,302.5Z" fill="none" stroke="#8a5a3c" stroke-width="1.17"/>
<circle cx="627.66" cy="306.5" r="0.8" fill="url(#gb)"/>
<circle cx="624.2" cy="308.5" r="0.8" fill="url(#gb)"/>
<circle cx="620.74" cy="306.5" r="0.8" fill="url(#gb)"/>
<circle cx="620.74" cy="302.5" r="0.8" fill="url(#gb)"/>
<circle cx="624.2" cy="300.5" r="0.8" fill="url(#gb)"/>
<circle cx="627.66" cy="302.5" r="0.8" fill="url(#gb)"/>
<line x1="627.66" y1="306.5" x2="629.22" y2="307.4" stroke="#c8a898" stroke-width="0.4" stroke-linecap="round"/>
<circle cx="629.22" cy="307.4" r="0.45" fill="#f4dede"/>
<line x1="624.2" y1="308.5" x2="624.2" y2="310.3" stroke="#c8a898" stroke-width="0.4" stroke-linecap="round"/>
<circle cx="624.2" cy="310.3" r="0.45" fill="#f4dede"/>
<line x1="620.74" y1="306.5" x2="619.18" y2="307.4" stroke="#c8a898" stroke-width="0.4" stroke-linecap="round"/>
<circle cx="619.18" cy="307.4" r="0.45" fill="#f4dede"/>
<path d="M625.26,315 L621.8,317 L618.34,315 L618.34,311 L621.8,309 L625.26,311Z" fill="none" stroke="#8a5a3c" stroke-width="1.17"/>
<circle cx="625.26" cy="315" r="0.8" fill="url(#gb)"/>
<circle cx="621.8" cy="317" r="0.8" fill="url(#gb)"/>
<circle cx="618.34" cy="315" r="0.8" fill="url(#gb)"/>
<circle cx="618.34" cy="311" r="0.8" fill="url(#gb)"/>
<circle cx="621.8" cy="309" r="0.8" fill="url(#gb)"/>
<circle cx="625.26" cy="311" r="0.8" fill="url(#gb)"/>
<line x1="625.26" y1="315" x2="626.82" y2="315.9" stroke="#c8a898" stroke-width="0.4" stroke-linecap="round"/>
<circle cx="626.82" cy="315.9" r="0.45" fill="#f4dede"/>
<line x1="621.8" y1="317" x2="621.8" y2="318.8" stroke="#c8a898" stroke-width="0.4" stroke-linecap="round"/>
<circle cx="621.8" cy="318.8" r="0.45" fill="#f4dede"/>
<line x1="618.34" y1="315" x2="616.78" y2="315.9" stroke="#c8a898" stroke-width="0.4" stroke-linecap="round"/>
<circle cx="616.78" cy="315.9" r="0.45" fill="#f4dede"/>
<path d="M657.09,241.9 L653.8,243.8 L650.51,241.9 L650.51,238.1 L653.8,236.2 L657.09,238.1Z" fill="none" stroke="#8a5a3c" stroke-width="1.17"/>
<circle cx="657.09" cy="241.9" r="0.8" fill="url(#gb)"/>
<circle cx="653.8" cy="243.8" r="0.8" fill="url(#gb)"/>
<circle cx="650.51" cy="241.9" r="0.8" fill="url(#gb)"/>
<circle cx="650.51" cy="238.1" r="0.8" fill="url(#gb)"/>
<circle cx="653.8" cy="236.2" r="0.8" fill="url(#gb)"/>
<circle cx="657.09" cy="238.1" r="0.8" fill="url(#gb)"/>
<line x1="657.09" y1="241.9" x2="658.57" y2="242.75" stroke="#c8a898" stroke-width="0.4" stroke-linecap="round"/>
<circle cx="658.57" cy="242.75" r="0.45" fill="#f4dede"/>
<line x1="653.8" y1="243.8" x2="653.8" y2="245.51" stroke="#c8a898" stroke-width="0.4" stroke-linecap="round"/>
<circle cx="653.8" cy="245.51" r="0.45" fill="#f4dede"/>
<line x1="650.51" y1="241.9" x2="649.03" y2="242.75" stroke="#c8a898" stroke-width="0.4" stroke-linecap="round"/>
<circle cx="649.03" cy="242.75" r="0.45" fill="#f4dede"/>
<path d="M659.49,250.9 L656.2,252.8 L652.91,250.9 L652.91,247.1 L656.2,245.2 L659.49,247.1Z" fill="none" stroke="#8a5a3c" stroke-width="1.17"/>
<circle cx="659.49" cy="250.9" r="0.8" fill="url(#gb)"/>
<circle cx="656.2" cy="252.8" r="0.8" fill="url(#gb)"/>
<circle cx="652.91" cy="250.9" r="0.8" fill="url(#gb)"/>
<circle cx="652.91" cy="247.1" r="0.8" fill="url(#gb)"/>
<circle cx="656.2" cy="245.2" r="0.8" fill="url(#gb)"/>
<circle cx="659.49" cy="247.1" r="0.8" fill="url(#gb)"/>
<line x1="659.49" y1="250.9" x2="660.97" y2="251.75" stroke="#c8a898" stroke-width="0.4" stroke-linecap="round"/>
<circle cx="660.97" cy="251.75" r="0.45" fill="#f4dede"/>
<line x1="656.2" y1="252.8" x2="656.2" y2="254.51" stroke="#c8a898" stroke-width="0.4" stroke-linecap="round"/>
<circle cx="656.2" cy="254.51" r="0.45" fill="#f4dede"/>
<line x1="652.91" y1="250.9" x2="651.43" y2="251.75" stroke="#c8a898" stroke-width="0.4" stroke-linecap="round"/>
<circle cx="651.43" cy="251.75" r="0.45" fill="#f4dede"/>
<path d="M657.09,259.9 L653.8,261.8 L650.51,259.9 L650.51,256.1 L653.8,254.2 L657.09,256.1Z" fill="none" stroke="#8a5a3c" stroke-width="1.17"/>
<circle cx="657.09" cy="259.9" r="0.8" fill="url(#gb)"/>
<circle cx="653.8" cy="261.8" r="0.8" fill="url(#gb)"/>
<circle cx="650.51" cy="259.9" r="0.8" fill="url(#gb)"/>
<circle cx="650.51" cy="256.1" r="0.8" fill="url(#gb)"/>
<circle cx="653.8" cy="254.2" r="0.8" fill="url(#gb)"/>
<circle cx="657.09" cy="256.1" r="0.8" fill="url(#gb)"/>
<line x1="657.09" y1="259.9" x2="658.57" y2="260.75" stroke="#c8a898" stroke-width="0.4" stroke-linecap="round"/>
<circle cx="658.57" cy="260.75" r="0.45" fill="#f4dede"/>
<line x1="653.8" y1="261.8" x2="653.8" y2="263.51" stroke="#c8a898" stroke-width="0.4" stroke-linecap="round"/>
<circle cx="653.8" cy="263.51" r="0.45" fill="#f4dede"/>
<line x1="650.51" y1="259.9" x2="649.03" y2="260.75" stroke="#c8a898" stroke-width="0.4" stroke-linecap="round"/>
<circle cx="649.03" cy="260.75" r="0.45" fill="#f4dede"/>
<path d="M659.49,268.9 L656.2,270.8 L652.91,268.9 L652.91,265.1 L656.2,263.2 L659.49,265.1Z" fill="none" stroke="#8a5a3c" stroke-width="1.17"/>
<circle cx="659.49" cy="268.9" r="0.8" fill="url(#gb)"/>
<circle cx="656.2" cy="270.8" r="0.8" fill="url(#gb)"/>
<circle cx="652.91" cy="268.9" r="0.8" fill="url(#gb)"/>
<circle cx="652.91" cy="265.1" r="0.8" fill="url(#gb)"/>
<circle cx="656.2" cy="263.2" r="0.8" fill="url(#gb)"/>
<circle cx="659.49" cy="265.1" r="0.8" fill="url(#gb)"/>
<line x1="659.49" y1="268.9" x2="660.97" y2="269.75" stroke="#c8a898" stroke-width="0.4" stroke-linecap="round"/>
<circle cx="660.97" cy="269.75" r="0.45" fill="#f4dede"/>
<line x1="656.2" y1="270.8" x2="656.2" y2="272.51" stroke="#c8a898" stroke-width="0.4" stroke-linecap="round"/>
<circle cx="656.2" cy="272.51" r="0.45" fill="#f4dede"/>
<line x1="652.91" y1="268.9" x2="651.43" y2="269.75" stroke="#c8a898" stroke-width="0.4" stroke-linecap="round"/>
<circle cx="651.43" cy="269.75" r="0.45" fill="#f4dede"/>
<path d="M657.09,277.9 L653.8,279.8 L650.51,277.9 L650.51,274.1 L653.8,272.2 L657.09,274.1Z" fill="none" stroke="#8a5a3c" stroke-width="1.17"/>
<circle cx="657.09" cy="277.9" r="0.8" fill="url(#gb)"/>
<circle cx="653.8" cy="279.8" r="0.8" fill="url(#gb)"/>
<circle cx="650.51" cy="277.9" r="0.8" fill="url(#gb)"/>
<circle cx="650.51" cy="274.1" r="0.8" fill="url(#gb)"/>
<circle cx="653.8" cy="272.2" r="0.8" fill="url(#gb)"/>
<circle cx="657.09" cy="274.1" r="0.8" fill="url(#gb)"/>
<line x1="657.09" y1="277.9" x2="658.57" y2="278.75" stroke="#c8a898" stroke-width="0.4" stroke-linecap="round"/>
<circle cx="658.57" cy="278.75" r="0.45" fill="#f4dede"/>
<line x1="653.8" y1="279.8" x2="653.8" y2="281.51" stroke="#c8a898" stroke-width="0.4" stroke-linecap="round"/>
<circle cx="653.8" cy="281.51" r="0.45" fill="#f4dede"/>
<line x1="650.51" y1="277.9" x2="649.03" y2="278.75" stroke="#c8a898" stroke-width="0.4" stroke-linecap="round"/>
<circle cx="649.03" cy="278.75" r="0.45" fill="#f4dede"/>
<path d="M659.49,286.9 L656.2,288.8 L652.91,286.9 L652.91,283.1 L656.2,281.2 L659.49,283.1Z" fill="none" stroke="#8a5a3c" stroke-width="1.17"/>
<circle cx="659.49" cy="286.9" r="0.8" fill="url(#gb)"/>
<circle cx="656.2" cy="288.8" r="0.8" fill="url(#gb)"/>
<circle cx="652.91" cy="286.9" r="0.8" fill="url(#gb)"/>
<circle cx="652.91" cy="283.1" r="0.8" fill="url(#gb)"/>
<circle cx="656.2" cy="281.2" r="0.8" fill="url(#gb)"/>
<circle cx="659.49" cy="283.1" r="0.8" fill="url(#gb)"/>
<line x1="659.49" y1="286.9" x2="660.97" y2="287.75" stroke="#c8a898" stroke-width="0.4" stroke-linecap="round"/>
<circle cx="660.97" cy="287.75" r="0.45" fill="#f4dede"/>
<line x1="656.2" y1="288.8" x2="656.2" y2="290.51" stroke="#c8a898" stroke-width="0.4" stroke-linecap="round"/>
<circle cx="656.2" cy="290.51" r="0.45" fill="#f4dede"/>
<line x1="652.91" y1="286.9" x2="651.43" y2="287.75" stroke="#c8a898" stroke-width="0.4" stroke-linecap="round"/>
<circle cx="651.43" cy="287.75" r="0.45" fill="#f4dede"/>
<path d="M657.09,295.9 L653.8,297.8 L650.51,295.9 L650.51,292.1 L653.8,290.2 L657.09,292.1Z" fill="none" stroke="#8a5a3c" stroke-width="1.17"/>
<circle cx="657.09" cy="295.9" r="0.8" fill="url(#gb)"/>
<circle cx="653.8" cy="297.8" r="0.8" fill="url(#gb)"/>
<circle cx="650.51" cy="295.9" r="0.8" fill="url(#gb)"/>
<circle cx="650.51" cy="292.1" r="0.8" fill="url(#gb)"/>
<circle cx="653.8" cy="290.2" r="0.8" fill="url(#gb)"/>
<circle cx="657.09" cy="292.1" r="0.8" fill="url(#gb)"/>
<line x1="657.09" y1="295.9" x2="658.57" y2="296.75" stroke="#c8a898" stroke-width="0.4" stroke-linecap="round"/>
<circle cx="658.57" cy="296.75" r="0.45" fill="#f4dede"/>
<line x1="653.8" y1="297.8" x2="653.8" y2="299.51" stroke="#c8a898" stroke-width="0.4" stroke-linecap="round"/>
<circle cx="653.8" cy="299.51" r="0.45" fill="#f4dede"/>
<line x1="650.51" y1="295.9" x2="649.03" y2="296.75" stroke="#c8a898" stroke-width="0.4" stroke-linecap="round"/>
<circle cx="649.03" cy="296.75" r="0.45" fill="#f4dede"/>
<path d="M659.49,304.9 L656.2,306.8 L652.91,304.9 L652.91,301.1 L656.2,299.2 L659.49,301.1Z" fill="none" stroke="#8a5a3c" stroke-width="1.17"/>
<circle cx="659.49" cy="304.9" r="0.8" fill="url(#gb)"/>
<circle cx="656.2" cy="306.8" r="0.8" fill="url(#gb)"/>
<circle cx="652.91" cy="304.9" r="0.8" fill="url(#gb)"/>
<circle cx="652.91" cy="301.1" r="0.8" fill="url(#gb)"/>
<circle cx="656.2" cy="299.2" r="0.8" fill="url(#gb)"/>
<circle cx="659.49" cy="301.1" r="0.8" fill="url(#gb)"/>
<line x1="659.49" y1="304.9" x2="660.97" y2="305.75" stroke="#c8a898" stroke-width="0.4" stroke-linecap="round"/>
<circle cx="660.97" cy="305.75" r="0.45" fill="#f4dede"/>
<line x1="656.2" y1="306.8" x2="656.2" y2="308.51" stroke="#c8a898" stroke-width="0.4" stroke-linecap="round"/>
<circle cx="656.2" cy="308.51" r="0.45" fill="#f4dede"/>
<line x1="652.91" y1="304.9" x2="651.43" y2="305.75" stroke="#c8a898" stroke-width="0.4" stroke-linecap="round"/>
<circle cx="651.43" cy="305.75" r="0.45" fill="#f4dede"/>
<path d="M657.09,313.9 L653.8,315.8 L650.51,313.9 L650.51,310.1 L653.8,308.2 L657.09,310.1Z" fill="none" stroke="#8a5a3c" stroke-width="1.17"/>
<circle cx="657.09" cy="313.9" r="0.8" fill="url(#gb)"/>
<circle cx="653.8" cy="315.8" r="0.8" fill="url(#gb)"/>
<circle cx="650.51" cy="313.9" r="0.8" fill="url(#gb)"/>
<circle cx="650.51" cy="310.1" r="0.8" fill="url(#gb)"/>
<circle cx="653.8" cy="308.2" r="0.8" fill="url(#gb)"/>
<circle cx="657.09" cy="310.1" r="0.8" fill="url(#gb)"/>
<line x1="657.09" y1="313.9" x2="658.57" y2="314.75" stroke="#c8a898" stroke-width="0.4" stroke-linecap="round"/>
<circle cx="658.57" cy="314.75" r="0.45" fill="#f4dede"/>
<line x1="653.8" y1="315.8" x2="653.8" y2="317.51" stroke="#c8a898" stroke-width="0.4" stroke-linecap="round"/>
<circle cx="653.8" cy="317.51" r="0.45" fill="#f4dede"/>
<line x1="650.51" y1="313.9" x2="649.03" y2="314.75" stroke="#c8a898" stroke-width="0.4" stroke-linecap="round"/>
<circle cx="649.03" cy="314.75" r="0.45" fill="#f4dede"/>
<path d="M608.09,301.9 L604.8,303.8 L601.51,301.9 L601.51,298.1 L604.8,296.2 L608.09,298.1Z" fill="none" stroke="#8a5a3c" stroke-width="1.17"/>
<circle cx="608.09" cy="301.9" r="0.8" fill="url(#gb)"/>
<circle cx="604.8" cy="303.8" r="0.8" fill="url(#gb)"/>
<circle cx="601.51" cy="301.9" r="0.8" fill="url(#gb)"/>
<circle cx="601.51" cy="298.1" r="0.8" fill="url(#gb)"/>
<circle cx="604.8" cy="296.2" r="0.8" fill="url(#gb)"/>
<circle cx="608.09" cy="298.1" r="0.8" fill="url(#gb)"/>
<line x1="608.09" y1="301.9" x2="609.57" y2="302.75" stroke="#c8a898" stroke-width="0.4" stroke-linecap="round"/>
<circle cx="609.57" cy="302.75" r="0.45" fill="#f4dede"/>
<line x1="604.8" y1="303.8" x2="604.8" y2="305.51" stroke="#c8a898" stroke-width="0.4" stroke-linecap="round"/>
<circle cx="604.8" cy="305.51" r="0.45" fill="#f4dede"/>
<line x1="601.51" y1="301.9" x2="600.03" y2="302.75" stroke="#c8a898" stroke-width="0.4" stroke-linecap="round"/>
<circle cx="600.03" cy="302.75" r="0.45" fill="#f4dede"/>
<path d="M610.49,309.9 L607.2,311.8 L603.91,309.9 L603.91,306.1 L607.2,304.2 L610.49,306.1Z" fill="none" stroke="#8a5a3c" stroke-width="1.17"/>
<circle cx="610.49" cy="309.9" r="0.8" fill="url(#gb)"/>
<circle cx="607.2" cy="311.8" r="0.8" fill="url(#gb)"/>
<circle cx="603.91" cy="309.9" r="0.8" fill="url(#gb)"/>
<circle cx="603.91" cy="306.1" r="0.8" fill="url(#gb)"/>
<circle cx="607.2" cy="304.2" r="0.8" fill="url(#gb)"/>
<circle cx="610.49" cy="306.1" r="0.8" fill="url(#gb)"/>
<line x1="610.49" y1="309.9" x2="611.97" y2="310.75" stroke="#c8a898" stroke-width="0.4" stroke-linecap="round"/>
<circle cx="611.97" cy="310.75" r="0.45" fill="#f4dede"/>
<line x1="607.2" y1="311.8" x2="607.2" y2="313.51" stroke="#c8a898" stroke-width="0.4" stroke-linecap="round"/>
<circle cx="607.2" cy="313.51" r="0.45" fill="#f4dede"/>
<line x1="603.91" y1="309.9" x2="602.43" y2="310.75" stroke="#c8a898" stroke-width="0.4" stroke-linecap="round"/>
<circle cx="602.43" cy="310.75" r="0.45" fill="#f4dede"/>
<path d="M608.09,317.9 L604.8,319.8 L601.51,317.9 L601.51,314.1 L604.8,312.2 L608.09,314.1Z" fill="none" stroke="#8a5a3c" stroke-width="1.17"/>
<circle cx="608.09" cy="317.9" r="0.8" fill="url(#gb)"/>
<circle cx="604.8" cy="319.8" r="0.8" fill="url(#gb)"/>
<circle cx="601.51" cy="317.9" r="0.8" fill="url(#gb)"/>
<circle cx="601.51" cy="314.1" r="0.8" fill="url(#gb)"/>
<circle cx="604.8" cy="312.2" r="0.8" fill="url(#gb)"/>
<circle cx="608.09" cy="314.1" r="0.8" fill="url(#gb)"/>
<line x1="608.09" y1="317.9" x2="609.57" y2="318.75" stroke="#c8a898" stroke-width="0.4" stroke-linecap="round"/>
<circle cx="609.57" cy="318.75" r="0.45" fill="#f4dede"/>
<line x1="604.8" y1="319.8" x2="604.8" y2="321.51" stroke="#c8a898" stroke-width="0.4" stroke-linecap="round"/>
<circle cx="604.8" cy="321.51" r="0.45" fill="#f4dede"/>
<line x1="601.51" y1="317.9" x2="600.03" y2="318.75" stroke="#c8a898" stroke-width="0.4" stroke-linecap="round"/>
<circle cx="600.03" cy="318.75" r="0.45" fill="#f4dede"/>
<path d="M610.49,325.9 L607.2,327.8 L603.91,325.9 L603.91,322.1 L607.2,320.2 L610.49,322.1Z" fill="none" stroke="#8a5a3c" stroke-width="1.17"/>
<circle cx="610.49" cy="325.9" r="0.8" fill="url(#gb)"/>
<circle cx="607.2" cy="327.8" r="0.8" fill="url(#gb)"/>
<circle cx="603.91" cy="325.9" r="0.8" fill="url(#gb)"/>
<circle cx="603.91" cy="322.1" r="0.8" fill="url(#gb)"/>
<circle cx="607.2" cy="320.2" r="0.8" fill="url(#gb)"/>
<circle cx="610.49" cy="322.1" r="0.8" fill="url(#gb)"/>
<line x1="610.49" y1="325.9" x2="611.97" y2="326.75" stroke="#c8a898" stroke-width="0.4" stroke-linecap="round"/>
<circle cx="611.97" cy="326.75" r="0.45" fill="#f4dede"/>
<line x1="607.2" y1="327.8" x2="607.2" y2="329.51" stroke="#c8a898" stroke-width="0.4" stroke-linecap="round"/>
<circle cx="607.2" cy="329.51" r="0.45" fill="#f4dede"/>
<line x1="603.91" y1="325.9" x2="602.43" y2="326.75" stroke="#c8a898" stroke-width="0.4" stroke-linecap="round"/>
<circle cx="602.43" cy="326.75" r="0.45" fill="#f4dede"/>
<path d="M632.6,224 L630.3,227.98 L625.7,227.98 L623.4,224 L625.7,220.02 L630.3,220.02Z" fill="none" stroke="#8a5a3c" stroke-width="1.17"/>
<circle cx="632.6" cy="224" r="0.8" fill="url(#gb)"/>
<circle cx="630.3" cy="227.98" r="0.8" fill="url(#gb)"/>
<circle cx="625.7" cy="227.98" r="0.8" fill="url(#gb)"/>
<circle cx="623.4" cy="224" r="0.8" fill="url(#gb)"/>
<circle cx="625.7" cy="220.02" r="0.8" fill="url(#gb)"/>
<circle cx="630.3" cy="220.02" r="0.8" fill="url(#gb)"/>
<line x1="632.6" y1="224" x2="634.67" y2="224" stroke="#c8a898" stroke-width="0.4" stroke-linecap="round"/>
<circle cx="634.67" cy="224" r="0.45" fill="#f4dede"/>
<line x1="630.3" y1="227.98" x2="631.33" y2="229.78" stroke="#c8a898" stroke-width="0.4" stroke-linecap="round"/>
<circle cx="631.33" cy="229.78" r="0.45" fill="#f4dede"/>
<line x1="625.7" y1="227.98" x2="624.67" y2="229.78" stroke="#c8a898" stroke-width="0.4" stroke-linecap="round"/>
<circle cx="624.67" cy="229.78" r="0.45" fill="#f4dede"/>
<path d="M616,246 L613.5,250.33 L608.5,250.33 L606,246 L608.5,241.67 L613.5,241.67Z" fill="none" stroke="#8a5a3c" stroke-width="1.17"/>
<circle cx="616" cy="246" r="0.8" fill="url(#gb)"/>
<circle cx="613.5" cy="250.33" r="0.8" fill="url(#gb)"/>
<circle cx="608.5" cy="250.33" r="0.8" fill="url(#gb)"/>
<circle cx="606" cy="246" r="0.8" fill="url(#gb)"/>
<circle cx="608.5" cy="241.67" r="0.8" fill="url(#gb)"/>
<circle cx="613.5" cy="241.67" r="0.8" fill="url(#gb)"/>
<line x1="616" y1="246" x2="618.25" y2="246" stroke="#c8a898" stroke-width="0.4" stroke-linecap="round"/>
<circle cx="618.25" cy="246" r="0.45" fill="#f4dede"/>
<line x1="613.5" y1="250.33" x2="614.62" y2="252.28" stroke="#c8a898" stroke-width="0.4" stroke-linecap="round"/>
<circle cx="614.62" cy="252.28" r="0.45" fill="#f4dede"/>
<line x1="608.5" y1="250.33" x2="607.38" y2="252.28" stroke="#c8a898" stroke-width="0.4" stroke-linecap="round"/>
<circle cx="607.38" cy="252.28" r="0.45" fill="#f4dede"/>
<path d="M654.6,208 L652.3,211.98 L647.7,211.98 L645.4,208 L647.7,204.02 L652.3,204.02Z" fill="none" stroke="#8a5a3c" stroke-width="1.17"/>
<circle cx="654.6" cy="208" r="0.8" fill="url(#gb)"/>
<circle cx="652.3" cy="211.98" r="0.8" fill="url(#gb)"/>
<circle cx="647.7" cy="211.98" r="0.8" fill="url(#gb)"/>
<circle cx="645.4" cy="208" r="0.8" fill="url(#gb)"/>
<circle cx="647.7" cy="204.02" r="0.8" fill="url(#gb)"/>
<circle cx="652.3" cy="204.02" r="0.8" fill="url(#gb)"/>
<line x1="654.6" y1="208" x2="656.67" y2="208" stroke="#c8a898" stroke-width="0.4" stroke-linecap="round"/>
<circle cx="656.67" cy="208" r="0.45" fill="#f4dede"/>
<line x1="652.3" y1="211.98" x2="653.33" y2="213.78" stroke="#c8a898" stroke-width="0.4" stroke-linecap="round"/>
<circle cx="653.33" cy="213.78" r="0.45" fill="#f4dede"/>
<line x1="647.7" y1="211.98" x2="646.67" y2="213.78" stroke="#c8a898" stroke-width="0.4" stroke-linecap="round"/>
<circle cx="646.67" cy="213.78" r="0.45" fill="#f4dede"/>
<path d="M616.6,320 L614.3,323.98 L609.7,323.98 L607.4,320 L609.7,316.02 L614.3,316.02Z" fill="none" stroke="#8a5a3c" stroke-width="1.17"/>
<circle cx="616.6" cy="320" r="0.8" fill="url(#gb)"/>
<circle cx="614.3" cy="323.98" r="0.8" fill="url(#gb)"/>
<circle cx="609.7" cy="323.98" r="0.8" fill="url(#gb)"/>
<circle cx="607.4" cy="320" r="0.8" fill="url(#gb)"/>
<circle cx="609.7" cy="316.02" r="0.8" fill="url(#gb)"/>
<circle cx="614.3" cy="316.02" r="0.8" fill="url(#gb)"/>
<line x1="616.6" y1="320" x2="618.67" y2="320" stroke="#c8a898" stroke-width="0.4" stroke-linecap="round"/>
<circle cx="618.67" cy="320" r="0.45" fill="#f4dede"/>
<line x1="614.3" y1="323.98" x2="615.33" y2="325.78" stroke="#c8a898" stroke-width="0.4" stroke-linecap="round"/>
<circle cx="615.33" cy="325.78" r="0.45" fill="#f4dede"/>
<line x1="609.7" y1="323.98" x2="608.67" y2="325.78" stroke="#c8a898" stroke-width="0.4" stroke-linecap="round"/>
<circle cx="608.67" cy="325.78" r="0.45" fill="#f4dede"/>
<path d="M672.6,325 L670.3,328.98 L665.7,328.98 L663.4,325 L665.7,321.02 L670.3,321.02Z" fill="none" stroke="#8a5a3c" stroke-width="1.17"/>
<circle cx="672.6" cy="325" r="0.8" fill="url(#gb)"/>
<circle cx="670.3" cy="328.98" r="0.8" fill="url(#gb)"/>
<circle cx="665.7" cy="328.98" r="0.8" fill="url(#gb)"/>
<circle cx="663.4" cy="325" r="0.8" fill="url(#gb)"/>
<circle cx="665.7" cy="321.02" r="0.8" fill="url(#gb)"/>
<circle cx="670.3" cy="321.02" r="0.8" fill="url(#gb)"/>
<line x1="672.6" y1="325" x2="674.67" y2="325" stroke="#c8a898" stroke-width="0.4" stroke-linecap="round"/>
<circle cx="674.67" cy="325" r="0.45" fill="#f4dede"/>
<line x1="670.3" y1="328.98" x2="671.33" y2="330.78" stroke="#c8a898" stroke-width="0.4" stroke-linecap="round"/>
<circle cx="671.33" cy="330.78" r="0.45" fill="#f4dede"/>
<line x1="665.7" y1="328.98" x2="664.67" y2="330.78" stroke="#c8a898" stroke-width="0.4" stroke-linecap="round"/>
<circle cx="664.67" cy="330.78" r="0.45" fill="#f4dede"/>
<path d="M636.6,340 L634.3,343.98 L629.7,343.98 L627.4,340 L629.7,336.02 L634.3,336.02Z" fill="none" stroke="#8a5a3c" stroke-width="1.17"/>
<circle cx="636.6" cy="340" r="0.8" fill="url(#gb)"/>
<circle cx="634.3" cy="343.98" r="0.8" fill="url(#gb)"/>
<circle cx="629.7" cy="343.98" r="0.8" fill="url(#gb)"/>
<circle cx="627.4" cy="340" r="0.8" fill="url(#gb)"/>
<circle cx="629.7" cy="336.02" r="0.8" fill="url(#gb)"/>
<circle cx="634.3" cy="336.02" r="0.8" fill="url(#gb)"/>
<line x1="636.6" y1="340" x2="638.67" y2="340" stroke="#c8a898" stroke-width="0.4" stroke-linecap="round"/>
<circle cx="638.67" cy="340" r="0.45" fill="#f4dede"/>
<line x1="634.3" y1="343.98" x2="635.33" y2="345.78" stroke="#c8a898" stroke-width="0.4" stroke-linecap="round"/>
<circle cx="635.33" cy="345.78" r="0.45" fill="#f4dede"/>
<line x1="629.7" y1="343.98" x2="628.67" y2="345.78" stroke="#c8a898" stroke-width="0.4" stroke-linecap="round"/>
<circle cx="628.67" cy="345.78" r="0.45" fill="#f4dede"/>
<path d="M607.2,240 L605.1,243.64 L600.9,243.64 L598.8,240 L600.9,236.36 L605.1,236.36Z" fill="none" stroke="#8a5a3c" stroke-width="1.17"/>
<circle cx="607.2" cy="240" r="0.8" fill="url(#gb)"/>
<circle cx="605.1" cy="243.64" r="0.8" fill="url(#gb)"/>
<circle cx="600.9" cy="243.64" r="0.8" fill="url(#gb)"/>
<circle cx="598.8" cy="240" r="0.8" fill="url(#gb)"/>
<circle cx="600.9" cy="236.36" r="0.8" fill="url(#gb)"/>
<circle cx="605.1" cy="236.36" r="0.8" fill="url(#gb)"/>
<line x1="607.2" y1="240" x2="609.09" y2="240" stroke="#c8a898" stroke-width="0.4" stroke-linecap="round"/>
<circle cx="609.09" cy="240" r="0.45" fill="#f4dede"/>
<line x1="605.1" y1="243.64" x2="606.05" y2="245.27" stroke="#c8a898" stroke-width="0.4" stroke-linecap="round"/>
<circle cx="606.05" cy="245.27" r="0.45" fill="#f4dede"/>
<line x1="600.9" y1="243.64" x2="599.95" y2="245.27" stroke="#c8a898" stroke-width="0.4" stroke-linecap="round"/>
<circle cx="599.95" cy="245.27" r="0.45" fill="#f4dede"/>
<path d="M601.98,264.3 L598,266.6 L594.02,264.3 L594.02,259.7 L598,257.4 L601.98,259.7Z" fill="none" stroke="#8a5a3c" stroke-width="1.04"/>
<circle cx="601.98" cy="264.3" r="0.8" fill="url(#gb)"/>
<circle cx="598" cy="266.6" r="0.8" fill="url(#gb)"/>
<circle cx="594.02" cy="264.3" r="0.8" fill="url(#gb)"/>
<circle cx="594.02" cy="259.7" r="0.8" fill="url(#gb)"/>
<circle cx="598" cy="257.4" r="0.8" fill="url(#gb)"/>
<circle cx="601.98" cy="259.7" r="0.8" fill="url(#gb)"/>
<line x1="601.98" y1="264.3" x2="603.78" y2="265.34" stroke="#c8a898" stroke-width="0.4" stroke-linecap="round"/>
<circle cx="603.78" cy="265.34" r="0.45" fill="#f4dede"/>
<line x1="598" y1="266.6" x2="598" y2="268.67" stroke="#c8a898" stroke-width="0.4" stroke-linecap="round"/>
<circle cx="598" cy="268.67" r="0.45" fill="#f4dede"/>
<line x1="594.02" y1="264.3" x2="592.22" y2="265.34" stroke="#c8a898" stroke-width="0.4" stroke-linecap="round"/>
<circle cx="592.22" cy="265.34" r="0.45" fill="#f4dede"/>
<path d="M609.98,264.3 L606,266.6 L602.02,264.3 L602.02,259.7 L606,257.4 L609.98,259.7Z" fill="none" stroke="#8a5a3c" stroke-width="1.04"/>
<circle cx="609.98" cy="264.3" r="0.8" fill="url(#gb)"/>
<circle cx="606" cy="266.6" r="0.8" fill="url(#gb)"/>
<circle cx="602.02" cy="264.3" r="0.8" fill="url(#gb)"/>
<circle cx="602.02" cy="259.7" r="0.8" fill="url(#gb)"/>
<circle cx="606" cy="257.4" r="0.8" fill="url(#gb)"/>
<circle cx="609.98" cy="259.7" r="0.8" fill="url(#gb)"/>
<line x1="609.98" y1="264.3" x2="611.78" y2="265.34" stroke="#c8a898" stroke-width="0.4" stroke-linecap="round"/>
<circle cx="611.78" cy="265.34" r="0.45" fill="#f4dede"/>
<line x1="606" y1="266.6" x2="606" y2="268.67" stroke="#c8a898" stroke-width="0.4" stroke-linecap="round"/>
<circle cx="606" cy="268.67" r="0.45" fill="#f4dede"/>
<line x1="602.02" y1="264.3" x2="600.22" y2="265.34" stroke="#c8a898" stroke-width="0.4" stroke-linecap="round"/>
<circle cx="600.22" cy="265.34" r="0.45" fill="#f4dede"/>
<path d="M679.98,302.3 L676,304.6 L672.02,302.3 L672.02,297.7 L676,295.4 L679.98,297.7Z" fill="none" stroke="#8a5a3c" stroke-width="1.04"/>
<circle cx="679.98" cy="302.3" r="0.8" fill="url(#gb)"/>
<circle cx="676" cy="304.6" r="0.8" fill="url(#gb)"/>
<circle cx="672.02" cy="302.3" r="0.8" fill="url(#gb)"/>
<circle cx="672.02" cy="297.7" r="0.8" fill="url(#gb)"/>
<circle cx="676" cy="295.4" r="0.8" fill="url(#gb)"/>
<circle cx="679.98" cy="297.7" r="0.8" fill="url(#gb)"/>
<line x1="679.98" y1="302.3" x2="681.78" y2="303.34" stroke="#c8a898" stroke-width="0.4" stroke-linecap="round"/>
<circle cx="681.78" cy="303.34" r="0.45" fill="#f4dede"/>
<line x1="676" y1="304.6" x2="676" y2="306.67" stroke="#c8a898" stroke-width="0.4" stroke-linecap="round"/>
<circle cx="676" cy="306.67" r="0.45" fill="#f4dede"/>
<line x1="672.02" y1="302.3" x2="670.22" y2="303.34" stroke="#c8a898" stroke-width="0.4" stroke-linecap="round"/>
<circle cx="670.22" cy="303.34" r="0.45" fill="#f4dede"/>
<path d="M671.98,302.3 L668,304.6 L664.02,302.3 L664.02,297.7 L668,295.4 L671.98,297.7Z" fill="none" stroke="#8a5a3c" stroke-width="1.04"/>
<circle cx="671.98" cy="302.3" r="0.8" fill="url(#gb)"/>
<circle cx="668" cy="304.6" r="0.8" fill="url(#gb)"/>
<circle cx="664.02" cy="302.3" r="0.8" fill="url(#gb)"/>
<circle cx="664.02" cy="297.7" r="0.8" fill="url(#gb)"/>
<circle cx="668" cy="295.4" r="0.8" fill="url(#gb)"/>
<circle cx="671.98" cy="297.7" r="0.8" fill="url(#gb)"/>
<line x1="671.98" y1="302.3" x2="673.78" y2="303.34" stroke="#c8a898" stroke-width="0.4" stroke-linecap="round"/>
<circle cx="673.78" cy="303.34" r="0.45" fill="#f4dede"/>
<line x1="668" y1="304.6" x2="668" y2="306.67" stroke="#c8a898" stroke-width="0.4" stroke-linecap="round"/>
<circle cx="668" cy="306.67" r="0.45" fill="#f4dede"/>
<line x1="664.02" y1="302.3" x2="662.22" y2="303.34" stroke="#c8a898" stroke-width="0.4" stroke-linecap="round"/>
<circle cx="662.22" cy="303.34" r="0.45" fill="#f4dede"/>
<path d="M673.98,252.3 L670,254.6 L666.02,252.3 L666.02,247.7 L670,245.4 L673.98,247.7Z" fill="none" stroke="#8a5a3c" stroke-width="1.04"/>
<circle cx="673.98" cy="252.3" r="0.8" fill="url(#gb)"/>
<circle cx="670" cy="254.6" r="0.8" fill="url(#gb)"/>
<circle cx="666.02" cy="252.3" r="0.8" fill="url(#gb)"/>
<circle cx="666.02" cy="247.7" r="0.8" fill="url(#gb)"/>
<circle cx="670" cy="245.4" r="0.8" fill="url(#gb)"/>
<circle cx="673.98" cy="247.7" r="0.8" fill="url(#gb)"/>
<line x1="673.98" y1="252.3" x2="675.78" y2="253.34" stroke="#c8a898" stroke-width="0.4" stroke-linecap="round"/>
<circle cx="675.78" cy="253.34" r="0.45" fill="#f4dede"/>
<line x1="670" y1="254.6" x2="670" y2="256.67" stroke="#c8a898" stroke-width="0.4" stroke-linecap="round"/>
<circle cx="670" cy="256.67" r="0.45" fill="#f4dede"/>
<line x1="666.02" y1="252.3" x2="664.22" y2="253.34" stroke="#c8a898" stroke-width="0.4" stroke-linecap="round"/>
<circle cx="664.22" cy="253.34" r="0.45" fill="#f4dede"/>
<path d="M681.98,252.3 L678,254.6 L674.02,252.3 L674.02,247.7 L678,245.4 L681.98,247.7Z" fill="none" stroke="#8a5a3c" stroke-width="1.04"/>
<circle cx="681.98" cy="252.3" r="0.8" fill="url(#gb)"/>
<circle cx="678" cy="254.6" r="0.8" fill="url(#gb)"/>
<circle cx="674.02" cy="252.3" r="0.8" fill="url(#gb)"/>
<circle cx="674.02" cy="247.7" r="0.8" fill="url(#gb)"/>
<circle cx="678" cy="245.4" r="0.8" fill="url(#gb)"/>
<circle cx="681.98" cy="247.7" r="0.8" fill="url(#gb)"/>
<line x1="681.98" y1="252.3" x2="683.78" y2="253.34" stroke="#c8a898" stroke-width="0.4" stroke-linecap="round"/>
<circle cx="683.78" cy="253.34" r="0.45" fill="#f4dede"/>
<line x1="678" y1="254.6" x2="678" y2="256.67" stroke="#c8a898" stroke-width="0.4" stroke-linecap="round"/>
<circle cx="678" cy="256.67" r="0.45" fill="#f4dede"/>
<line x1="674.02" y1="252.3" x2="672.22" y2="253.34" stroke="#c8a898" stroke-width="0.4" stroke-linecap="round"/>
<circle cx="672.22" cy="253.34" r="0.45" fill="#f4dede"/>
<line x1="617" y1="235.5" x2="619.3" y2="232.5" stroke="#d03030" stroke-width="0.7" stroke-linecap="round"/>
<line x1="626" y1="235.5" x2="619.3" y2="232.5" stroke="#d03030" stroke-width="0.7" stroke-linecap="round"/>
<line x1="617" y1="235.5" x2="623.7" y2="232.5" stroke="#d03030" stroke-width="0.7" stroke-linecap="round"/>
<line x1="626" y1="235.5" x2="623.7" y2="232.5" stroke="#d03030" stroke-width="0.7" stroke-linecap="round"/>
<line x1="617" y1="235.5" x2="619.3" y2="238.5" stroke="#d03030" stroke-width="0.7" stroke-linecap="round"/>
<line x1="626" y1="235.5" x2="619.3" y2="238.5" stroke="#d03030" stroke-width="0.7" stroke-linecap="round"/>
<line x1="617" y1="235.5" x2="623.7" y2="238.5" stroke="#d03030" stroke-width="0.7" stroke-linecap="round"/>
<line x1="626" y1="235.5" x2="623.7" y2="238.5" stroke="#d03030" stroke-width="0.7" stroke-linecap="round"/>
<line x1="617" y1="235.5" x2="621.5" y2="231.3" stroke="#d03030" stroke-width="0.7" stroke-linecap="round"/>
<line x1="626" y1="235.5" x2="621.5" y2="231.3" stroke="#d03030" stroke-width="0.7" stroke-linecap="round"/>
<line x1="617" y1="235.5" x2="621.5" y2="239.7" stroke="#d03030" stroke-width="0.7" stroke-linecap="round"/>
<line x1="626" y1="235.5" x2="621.5" y2="239.7" stroke="#d03030" stroke-width="0.7" stroke-linecap="round"/>
<circle cx="621.5" cy="235.5" r="2.2" fill="#fff4f4"/>
<circle cx="619.3" cy="232.5" r="1" fill="url(#gr)"/>
<circle cx="623.7" cy="232.5" r="1" fill="url(#gr)"/>
<circle cx="619.3" cy="238.5" r="1" fill="url(#gr)"/>
<circle cx="623.7" cy="238.5" r="1" fill="url(#gr)"/>
<circle cx="621.5" cy="231.3" r="1" fill="url(#gr)"/>
<circle cx="621.5" cy="239.7" r="1" fill="url(#gr)"/>
<circle cx="616.7" cy="235.2" r="2.5" fill="url(#gg)"/>
<circle cx="626.3" cy="235.8" r="2.5" fill="url(#gg)"/>
<line x1="649.5" y1="217.8" x2="651.8" y2="214.8" stroke="#d03030" stroke-width="0.7" stroke-linecap="round"/>
<line x1="658.5" y1="217.8" x2="651.8" y2="214.8" stroke="#d03030" stroke-width="0.7" stroke-linecap="round"/>
<line x1="649.5" y1="217.8" x2="656.2" y2="214.8" stroke="#d03030" stroke-width="0.7" stroke-linecap="round"/>
<line x1="658.5" y1="217.8" x2="656.2" y2="214.8" stroke="#d03030" stroke-width="0.7" stroke-linecap="round"/>
<line x1="649.5" y1="217.8" x2="651.8" y2="220.8" stroke="#d03030" stroke-width="0.7" stroke-linecap="round"/>
<line x1="658.5" y1="217.8" x2="651.8" y2="220.8" stroke="#d03030" stroke-width="0.7" stroke-linecap="round"/>
<line x1="649.5" y1="217.8" x2="656.2" y2="220.8" stroke="#d03030" stroke-width="0.7" stroke-linecap="round"/>
<line x1="658.5" y1="217.8" x2="656.2" y2="220.8" stroke="#d03030" stroke-width="0.7" stroke-linecap="round"/>
<line x1="649.5" y1="217.8" x2="654" y2="213.6" stroke="#d03030" stroke-width="0.7" stroke-linecap="round"/>
<line x1="658.5" y1="217.8" x2="654" y2="213.6" stroke="#d03030" stroke-width="0.7" stroke-linecap="round"/>
<line x1="649.5" y1="217.8" x2="654" y2="222" stroke="#d03030" stroke-width="0.7" stroke-linecap="round"/>
<line x1="658.5" y1="217.8" x2="654" y2="222" stroke="#d03030" stroke-width="0.7" stroke-linecap="round"/>
<circle cx="654" cy="217.8" r="2.2" fill="#fff4f4"/>
<circle cx="651.8" cy="214.8" r="1" fill="url(#gr)"/>
<circle cx="656.2" cy="214.8" r="1" fill="url(#gr)"/>
<circle cx="651.8" cy="220.8" r="1" fill="url(#gr)"/>
<circle cx="656.2" cy="220.8" r="1" fill="url(#gr)"/>
<circle cx="654" cy="213.6" r="1" fill="url(#gr)"/>
<circle cx="654" cy="222" r="1" fill="url(#gr)"/>
<circle cx="649.2" cy="217.5" r="2.5" fill="url(#gg)"/>
<circle cx="658.8" cy="218.1" r="2.5" fill="url(#gg)"/>
<line x1="651.5" y1="318.7" x2="653.8" y2="315.7" stroke="#d03030" stroke-width="0.7" stroke-linecap="round"/>
<line x1="660.5" y1="318.7" x2="653.8" y2="315.7" stroke="#d03030" stroke-width="0.7" stroke-linecap="round"/>
<line x1="651.5" y1="318.7" x2="658.2" y2="315.7" stroke="#d03030" stroke-width="0.7" stroke-linecap="round"/>
<line x1="660.5" y1="318.7" x2="658.2" y2="315.7" stroke="#d03030" stroke-width="0.7" stroke-linecap="round"/>
<line x1="651.5" y1="318.7" x2="653.8" y2="321.7" stroke="#d03030" stroke-width="0.7" stroke-linecap="round"/>
<line x1="660.5" y1="318.7" x2="653.8" y2="321.7" stroke="#d03030" stroke-width="0.7" stroke-linecap="round"/>
<line x1="651.5" y1="318.7" x2="658.2" y2="321.7" stroke="#d03030" stroke-width="0.7" stroke-linecap="round"/>
<line x1="660.5" y1="318.7" x2="658.2" y2="321.7" stroke="#d03030" stroke-width="0.7" stroke-linecap="round"/>
<line x1="651.5" y1="318.7" x2="656" y2="314.5" stroke="#d03030" stroke-width="0.7" stroke-linecap="round"/>
<line x1="660.5" y1="318.7" x2="656" y2="314.5" stroke="#d03030" stroke-width="0.7" stroke-linecap="round"/>
<line x1="651.5" y1="318.7" x2="656" y2="322.9" stroke="#d03030" stroke-width="0.7" stroke-linecap="round"/>
<line x1="660.5" y1="318.7" x2="656" y2="322.9" stroke="#d03030" stroke-width="0.7" stroke-linecap="round"/>
<circle cx="656" cy="318.7" r="2.2" fill="#fff4f4"/>
<circle cx="653.8" cy="315.7" r="1" fill="url(#gr)"/>
<circle cx="658.2" cy="315.7" r="1" fill="url(#gr)"/>
<circle cx="653.8" cy="321.7" r="1" fill="url(#gr)"/>
<circle cx="658.2" cy="321.7" r="1" fill="url(#gr)"/>
<circle cx="656" cy="314.5" r="1" fill="url(#gr)"/>
<circle cx="656" cy="322.9" r="1" fill="url(#gr)"/>
<circle cx="651.2" cy="318.4" r="2.5" fill="url(#gg)"/>
<circle cx="660.8" cy="319" r="2.5" fill="url(#gg)"/>
<line x1="619.5" y1="334.5" x2="621.8" y2="331.5" stroke="#d03030" stroke-width="0.7" stroke-linecap="round"/>
<line x1="628.5" y1="334.5" x2="621.8" y2="331.5" stroke="#d03030" stroke-width="0.7" stroke-linecap="round"/>
<line x1="619.5" y1="334.5" x2="626.2" y2="331.5" stroke="#d03030" stroke-width="0.7" stroke-linecap="round"/>
<line x1="628.5" y1="334.5" x2="626.2" y2="331.5" stroke="#d03030" stroke-width="0.7" stroke-linecap="round"/>
<line x1="619.5" y1="334.5" x2="621.8" y2="337.5" stroke="#d03030" stroke-width="0.7" stroke-linecap="round"/>
<line x1="628.5" y1="334.5" x2="621.8" y2="337.5" stroke="#d03030" stroke-width="0.7" stroke-linecap="round"/>
<line x1="619.5" y1="334.5" x2="626.2" y2="337.5" stroke="#d03030" stroke-width="0.7" stroke-linecap="round"/>
<line x1="628.5" y1="334.5" x2="626.2" y2="337.5" stroke="#d03030" stroke-width="0.7" stroke-linecap="round"/>
<line x1="619.5" y1="334.5" x2="624" y2="330.3" stroke="#d03030" stroke-width="0.7" stroke-linecap="round"/>
<line x1="628.5" y1="334.5" x2="624" y2="330.3" stroke="#d03030" stroke-width="0.7" stroke-linecap="round"/>
<line x1="619.5" y1="334.5" x2="624" y2="338.7" stroke="#d03030" stroke-width="0.7" stroke-linecap="round"/>
<line x1="628.5" y1="334.5" x2="624" y2="338.7" stroke="#d03030" stroke-width="0.7" stroke-linecap="round"/>
<circle cx="624" cy="334.5" r="2.2" fill="#fff4f4"/>
<circle cx="621.8" cy="331.5" r="1" fill="url(#gr)"/>
<circle cx="626.2" cy="331.5" r="1" fill="url(#gr)"/>
<circle cx="621.8" cy="337.5" r="1" fill="url(#gr)"/>
<circle cx="626.2" cy="337.5" r="1" fill="url(#gr)"/>
<circle cx="624" cy="330.3" r="1" fill="url(#gr)"/>
<circle cx="624" cy="338.7" r="1" fill="url(#gr)"/>
<circle cx="619.2" cy="334.2" r="2.5" fill="url(#gg)"/>
<circle cx="628.8" cy="334.8" r="2.5" fill="url(#gg)"/>
<line x1="602" y1="230" x2="607" y2="219" stroke="#a07058" stroke-width="1.6" stroke-linecap="round"/>
<circle cx="602" cy="230" r="0.75" fill="url(#gb)"/>
<circle cx="603" cy="227.8" r="0.75" fill="url(#gb)"/>
<circle cx="604" cy="225.6" r="0.75" fill="url(#gb)"/>
<circle cx="605" cy="223.4" r="0.75" fill="url(#gb)"/>
<circle cx="606" cy="221.2" r="0.75" fill="url(#gb)"/>
<circle cx="607" cy="219" r="0.75" fill="url(#gb)"/>
<circle cx="604.1" cy="228.5" r="0.45" fill="#f4dede"/>
<circle cx="600.9" cy="229.3" r="0.45" fill="#f4dede"/>
<circle cx="605.1" cy="226.3" r="0.45" fill="#f4dede"/>
<circle cx="601.9" cy="227.1" r="0.45" fill="#f4dede"/>
<circle cx="606.1" cy="224.1" r="0.45" fill="#f4dede"/>
<circle cx="602.9" cy="224.9" r="0.45" fill="#f4dede"/>
<circle cx="607.1" cy="221.9" r="0.45" fill="#f4dede"/>
<circle cx="603.9" cy="222.7" r="0.45" fill="#f4dede"/>
<circle cx="608.1" cy="219.7" r="0.45" fill="#f4dede"/>
<circle cx="604.9" cy="220.5" r="0.45" fill="#f4dede"/>
<line x1="668" y1="209" x2="676" y2="220" stroke="#a07058" stroke-width="1.6" stroke-linecap="round"/>
<circle cx="668" cy="209" r="0.75" fill="url(#gb)"/>
<circle cx="669.6" cy="211.2" r="0.75" fill="url(#gb)"/>
<circle cx="671.2" cy="213.4" r="0.75" fill="url(#gb)"/>
<circle cx="672.8" cy="215.6" r="0.75" fill="url(#gb)"/>
<circle cx="674.4" cy="217.8" r="0.75" fill="url(#gb)"/>
<circle cx="676" cy="220" r="0.75" fill="url(#gb)"/>
<circle cx="670.4" cy="209.7" r="0.45" fill="#f4dede"/>
<circle cx="667.2" cy="210.5" r="0.45" fill="#f4dede"/>
<circle cx="672" cy="211.9" r="0.45" fill="#f4dede"/>
<circle cx="668.8" cy="212.7" r="0.45" fill="#f4dede"/>
<circle cx="673.6" cy="214.1" r="0.45" fill="#f4dede"/>
<circle cx="670.4" cy="214.9" r="0.45" fill="#f4dede"/>
<circle cx="675.2" cy="216.3" r="0.45" fill="#f4dede"/>
<circle cx="672" cy="217.1" r="0.45" fill="#f4dede"/>
<circle cx="676.8" cy="218.5" r="0.45" fill="#f4dede"/>
<circle cx="673.6" cy="219.3" r="0.45" fill="#f4dede"/>
<line x1="601" y1="336" x2="606" y2="325" stroke="#a07058" stroke-width="1.6" stroke-linecap="round"/>
<circle cx="601" cy="336" r="0.75" fill="url(#gb)"/>
<circle cx="602" cy="333.8" r="0.75" fill="url(#gb)"/>
<circle cx="603" cy="331.6" r="0.75" fill="url(#gb)"/>
<circle cx="604" cy="329.4" r="0.75" fill="url(#gb)"/>
<circle cx="605" cy="327.2" r="0.75" fill="url(#gb)"/>
<circle cx="606" cy="325" r="0.75" fill="url(#gb)"/>
<circle cx="603.1" cy="334.5" r="0.45" fill="#f4dede"/>
<circle cx="599.9" cy="335.3" r="0.45" fill="#f4dede"/>
<circle cx="604.1" cy="332.3" r="0.45" fill="#f4dede"/>
<circle cx="600.9" cy="333.1" r="0.45" fill="#f4dede"/>
<circle cx="605.1" cy="330.1" r="0.45" fill="#f4dede"/>
<circle cx="601.9" cy="330.9" r="0.45" fill="#f4dede"/>
<circle cx="606.1" cy="327.9" r="0.45" fill="#f4dede"/>
<circle cx="602.9" cy="328.7" r="0.45" fill="#f4dede"/>
<circle cx="607.1" cy="325.7" r="0.45" fill="#f4dede"/>
<circle cx="603.9" cy="326.5" r="0.45" fill="#f4dede"/>
<g opacity="0.75">
<ellipse cx="631.8" cy="244" rx="2.6" ry="4.2" fill="url(#gy)"/>
<ellipse cx="637.2" cy="244.5" rx="2.6" ry="4.2" fill="url(#gc)"/>
<ellipse cx="631.8" cy="252" rx="2.6" ry="4.2" fill="url(#gc)"/>
<ellipse cx="637.2" cy="252.5" rx="2.6" ry="4.2" fill="url(#gy)"/>
<ellipse cx="631.8" cy="266" rx="2.6" ry="4.2" fill="url(#gc)"/>
<ellipse cx="637.2" cy="266.5" rx="2.6" ry="4.2" fill="url(#gy)"/>
<ellipse cx="631.8" cy="275" rx="2.6" ry="4.2" fill="url(#gy)"/>
<ellipse cx="637.2" cy="275.5" rx="2.6" ry="4.2" fill="url(#gc)"/>
<ellipse cx="631.8" cy="284" rx="2.6" ry="4.2" fill="url(#gc)"/>
<ellipse cx="637.2" cy="284.5" rx="2.6" ry="4.2" fill="url(#gy)"/>
<ellipse cx="631.8" cy="293" rx="2.6" ry="4.2" fill="url(#gy)"/>
<ellipse cx="637.2" cy="293.5" rx="2.6" ry="4.2" fill="url(#gc)"/>
<ellipse cx="631.8" cy="305" rx="2.6" ry="4.2" fill="url(#gc)"/>
<ellipse cx="637.2" cy="305.5" rx="2.6" ry="4.2" fill="url(#gy)"/>
<ellipse cx="631.8" cy="318" rx="2.6" ry="4.2" fill="url(#gy)"/>
<ellipse cx="637.2" cy="318.5" rx="2.6" ry="4.2" fill="url(#gc)"/>
<ellipse cx="643.9" cy="223" rx="3" ry="4.6" fill="url(#gc)"/>
<ellipse cx="649.9" cy="223.5" rx="3" ry="4.6" fill="url(#gy)"/>
<ellipse cx="643.9" cy="232" rx="3" ry="4.6" fill="url(#gy)"/>
<ellipse cx="649.9" cy="232.5" rx="3" ry="4.6" fill="url(#gc)"/>
<ellipse cx="643.9" cy="241" rx="3" ry="4.6" fill="url(#gc)"/>
<ellipse cx="649.9" cy="241.5" rx="3" ry="4.6" fill="url(#gy)"/>
<ellipse cx="643.9" cy="250" rx="3" ry="4.61" fill="url(#gy)"/>
<ellipse cx="649.9" cy="250.5" rx="3" ry="4.61" fill="url(#gc)"/>
<ellipse cx="643.89" cy="259" rx="3.07" ry="4.71" fill="url(#gc)"/>
<ellipse cx="649.91" cy="259.5" rx="3.07" ry="4.71" fill="url(#gy)"/>
<ellipse cx="643.86" cy="268" rx="3.45" ry="5.29" fill="url(#gy)"/>
<ellipse cx="649.94" cy="268.5" rx="3.45" ry="5.29" fill="url(#gc)"/>
<ellipse cx="643.81" cy="277" rx="3.89" ry="5.97" fill="url(#gc)"/>
<ellipse cx="649.99" cy="277.5" rx="3.89" ry="5.97" fill="url(#gy)"/>
<ellipse cx="643.84" cy="286" rx="3.58" ry="5.48" fill="url(#gy)"/>
<ellipse cx="649.96" cy="286.5" rx="3.58" ry="5.48" fill="url(#gc)"/>
<ellipse cx="643.89" cy="295" rx="3.12" ry="4.79" fill="url(#gc)"/>
<ellipse cx="649.91" cy="295.5" rx="3.12" ry="4.79" fill="url(#gy)"/>
<ellipse cx="643.9" cy="304" rx="3.01" ry="4.61" fill="url(#gy)"/>
<ellipse cx="649.9" cy="304.5" rx="3.01" ry="4.61" fill="url(#gc)"/>
<ellipse cx="643.9" cy="313" rx="3" ry="4.6" fill="url(#gc)"/>
<ellipse cx="649.9" cy="313.5" rx="3" ry="4.6" fill="url(#gy)"/>
<ellipse cx="643.9" cy="322" rx="3" ry="4.6" fill="url(#gy)"/>
<ellipse cx="649.9" cy="322.5" rx="3" ry="4.6" fill="url(#gc)"/>
</g>
<circle cx="312.3" cy="277.3" r="17.6" fill="none" stroke="#222" stroke-width="0.7"/>
<circle cx="638.6" cy="278.4" r="18" fill="none" stroke="#222" stroke-width="0.7"/>
<line x1="313" y1="259.8" x2="379" y2="230" stroke="#1a1a1a" stroke-width="0.8" stroke-dasharray="2 0.6"/>
<line x1="313" y1="294.9" x2="381.3" y2="326.2" stroke="#1a1a1a" stroke-width="0.8" stroke-dasharray="2 0.6"/>
<line x1="570.5" y1="224.5" x2="634.5" y2="259.5" stroke="#1a1a1a" stroke-width="0.8" stroke-dasharray="2 0.6"/>
<line x1="572" y1="327.5" x2="633" y2="298.5" stroke="#1a1a1a" stroke-width="0.8" stroke-dasharray="2 0.6"/>
<defs><clipPath id="bc403"><circle cx="403.8" cy="277.8" r="54"/></clipPath></defs>
<circle cx="403.8" cy="277.8" r="54" fill="#fff"/>
<g clip-path="url(#bc403)">
<line x1="389.6" y1="223.8" x2="389.6" y2="331.8" stroke="#7a4c2e" stroke-width="1.1" stroke-linecap="round"/>
<line x1="418.2" y1="223.8" x2="418.2" y2="331.8" stroke="#7a4c2e" stroke-width="1.1" stroke-linecap="round"/>
<ellipse cx="382.85" cy="237.25" rx="4.09" ry="4.42" fill="url(#gc)"/>
<ellipse cx="389.25" cy="237" rx="4.2" ry="5.2" fill="url(#gy)"/>
<ellipse cx="396.25" cy="237" rx="4.2" ry="4.68" fill="url(#gy)"/>
<ellipse cx="385" cy="254.15" rx="5.15" ry="6.4" fill="url(#gy)"/>
<ellipse cx="394.9" cy="254.5" rx="5.6" ry="6.76" fill="url(#gc)"/>
<ellipse cx="381.5" cy="273.5" rx="5.04" ry="6.76" fill="url(#gy)"/>
<ellipse cx="390.25" cy="273.75" rx="6.44" ry="7.54" fill="url(#gc)"/>
<ellipse cx="398.5" cy="273.5" rx="5.04" ry="6.76" fill="url(#gy)"/>
<ellipse cx="380.95" cy="291.85" rx="4.54" ry="7.96" fill="url(#gc)"/>
<ellipse cx="389.9" cy="292" rx="6.05" ry="8.32" fill="url(#gy)"/>
<ellipse cx="396.75" cy="291.75" rx="4.2" ry="7.54" fill="url(#gc)"/>
<ellipse cx="400.55" cy="292" rx="3.3" ry="6.24" fill="url(#gy)"/>
<ellipse cx="384.5" cy="311.4" rx="5.04" ry="6.76" fill="url(#gc)"/>
<ellipse cx="394.15" cy="311.25" rx="4.65" ry="6.5" fill="url(#gy)"/>
<ellipse cx="401.4" cy="319.4" rx="5.15" ry="6.34" fill="url(#gy)"/>
<ellipse cx="385.5" cy="325.5" rx="3.92" ry="4.68" fill="url(#gy)"/>
<ellipse cx="393.75" cy="323" rx="3.64" ry="5.2" fill="url(#gc)"/>
<ellipse cx="414.65" cy="228.5" rx="5.43" ry="4.68" fill="url(#gy)"/>
<ellipse cx="423.25" cy="231" rx="3.08" ry="5.2" fill="url(#gc)"/>
<ellipse cx="406.4" cy="236.95" rx="4.7" ry="5.98" fill="url(#gc)"/>
<ellipse cx="413.15" cy="244.2" rx="5.43" ry="7.18" fill="url(#gc)"/>
<ellipse cx="422.95" cy="244.25" rx="4.98" ry="7.02" fill="url(#gy)"/>
<ellipse cx="409.05" cy="264.5" rx="5.1" ry="8.32" fill="url(#gc)"/>
<ellipse cx="418.45" cy="264.25" rx="6.66" ry="8.58" fill="url(#gy)"/>
<ellipse cx="426.25" cy="264.25" rx="3.86" ry="7.54" fill="url(#gc)"/>
<ellipse cx="409.45" cy="282.65" rx="5.54" ry="7.96" fill="url(#gy)"/>
<ellipse cx="418.5" cy="282.75" rx="5.71" ry="8.06" fill="url(#gc)"/>
<ellipse cx="423" cy="282.5" rx="3.92" ry="7.28" fill="url(#gy)"/>
<ellipse cx="427.5" cy="282.5" rx="3.36" ry="6.76" fill="url(#gc)"/>
<ellipse cx="412.1" cy="301.8" rx="5.15" ry="7.18" fill="url(#gy)"/>
<ellipse cx="422.1" cy="301.75" rx="5.15" ry="7.02" fill="url(#gc)"/>
<ellipse cx="411.05" cy="318.25" rx="3.08" ry="4.42" fill="url(#gc)"/>
<ellipse cx="417.25" cy="318.25" rx="3.64" ry="4.94" fill="url(#gy)"/>
<ellipse cx="424.75" cy="318" rx="3.86" ry="4.68" fill="url(#gy)"/>
<line x1="389.6" y1="223.9" x2="389.6" y2="233.9" stroke="#7a4c2e" stroke-width="1.1" stroke-linecap="round"/>
<circle cx="389.6" cy="228.9" r="1.7" fill="url(#gb)"/>
<circle cx="386.6" cy="227.4" r="0.8" fill="#f4dede"/>
<circle cx="392.6" cy="227.4" r="0.8" fill="#f4dede"/>
<line x1="389.6" y1="238.4" x2="389.6" y2="248.4" stroke="#7a4c2e" stroke-width="1.1" stroke-linecap="round"/>
<circle cx="389.6" cy="243.4" r="1.7" fill="url(#gb)"/>
<circle cx="386.6" cy="241.9" r="0.8" fill="#f4dede"/>
<circle cx="392.6" cy="241.9" r="0.8" fill="#f4dede"/>
<line x1="389.6" y1="257.1" x2="389.6" y2="267.1" stroke="#7a4c2e" stroke-width="1.1" stroke-linecap="round"/>
<circle cx="389.6" cy="262.1" r="1.7" fill="url(#gb)"/>
<circle cx="386.6" cy="260.6" r="0.8" fill="#f4dede"/>
<circle cx="392.6" cy="260.6" r="0.8" fill="#f4dede"/>
<line x1="389.6" y1="297.6" x2="389.6" y2="307.6" stroke="#7a4c2e" stroke-width="1.1" stroke-linecap="round"/>
<circle cx="389.6" cy="302.6" r="1.7" fill="url(#gb)"/>
<circle cx="386.6" cy="301.1" r="0.8" fill="#f4dede"/>
<circle cx="392.6" cy="301.1" r="0.8" fill="#f4dede"/>
<line x1="418.2" y1="228.5" x2="418.2" y2="238.5" stroke="#7a4c2e" stroke-width="1.1" stroke-linecap="round"/>
<circle cx="418.2" cy="233.5" r="1.7" fill="url(#gb)"/>
<circle cx="415.2" cy="232" r="0.8" fill="#f4dede"/>
<circle cx="421.2" cy="232" r="0.8" fill="#f4dede"/>
<line x1="418.2" y1="248.4" x2="418.2" y2="258.4" stroke="#7a4c2e" stroke-width="1.1" stroke-linecap="round"/>
<circle cx="418.2" cy="253.4" r="1.7" fill="url(#gb)"/>
<circle cx="415.2" cy="251.9" r="0.8" fill="#f4dede"/>
<circle cx="421.2" cy="251.9" r="0.8" fill="#f4dede"/>
<line x1="418.2" y1="306" x2="418.2" y2="316" stroke="#7a4c2e" stroke-width="1.1" stroke-linecap="round"/>
<circle cx="418.2" cy="311" r="1.7" fill="url(#gb)"/>
<circle cx="415.2" cy="309.5" r="0.8" fill="#f4dede"/>
<circle cx="421.2" cy="309.5" r="0.8" fill="#f4dede"/>
<line x1="418.2" y1="322.8" x2="418.2" y2="332.8" stroke="#7a4c2e" stroke-width="1.1" stroke-linecap="round"/>
<circle cx="418.2" cy="327.8" r="1.7" fill="url(#gb)"/>
<circle cx="415.2" cy="326.3" r="0.8" fill="#f4dede"/>
<circle cx="421.2" cy="326.3" r="0.8" fill="#f4dede"/>
</g>
<circle cx="403.8" cy="277.8" r="54" fill="none" stroke="#222" stroke-width="0.7"/>
<defs><clipPath id="bc549"><circle cx="549.9" cy="276.3" r="53.5"/></clipPath></defs>
<circle cx="549.9" cy="276.3" r="53.5" fill="#fff"/>
<g clip-path="url(#bc549)">
<line x1="539" y1="222.8" x2="539" y2="329.8" stroke="#7a4c2e" stroke-width="1.1" stroke-linecap="round"/>
<line x1="563.2" y1="222.8" x2="563.2" y2="329.8" stroke="#7a4c2e" stroke-width="1.1" stroke-linecap="round"/>
<ellipse cx="535.95" cy="231" rx="3.42" ry="8.32" fill="url(#gy)"/>
<ellipse cx="542.75" cy="231" rx="4.2" ry="8.32" fill="url(#gc)"/>
<ellipse cx="535.2" cy="245" rx="4.26" ry="6.24" fill="url(#gc)"/>
<ellipse cx="543.5" cy="245" rx="5.04" ry="6.24" fill="url(#gy)"/>
<ellipse cx="535.15" cy="263.25" rx="5.99" ry="9.62" fill="url(#gy)"/>
<ellipse cx="545.75" cy="263.25" rx="5.88" ry="9.62" fill="url(#gc)"/>
<ellipse cx="533.65" cy="280.1" rx="7.67" ry="7.9" fill="url(#gc)"/>
<ellipse cx="545.75" cy="280.1" rx="5.88" ry="7.9" fill="url(#gy)"/>
<ellipse cx="532.9" cy="297.5" rx="6.83" ry="8.84" fill="url(#gy)"/>
<ellipse cx="544.25" cy="297.5" rx="5.88" ry="8.84" fill="url(#gc)"/>
<ellipse cx="532.9" cy="314.25" rx="6.83" ry="8.58" fill="url(#gc)"/>
<ellipse cx="545" cy="314.25" rx="6.72" ry="8.58" fill="url(#gc)"/>
<ellipse cx="535" cy="327" rx="4.48" ry="5.2" fill="url(#gy)"/>
<ellipse cx="542.5" cy="327" rx="3.92" ry="5.2" fill="url(#gc)"/>
<ellipse cx="560.15" cy="225.5" rx="8.46" ry="4.68" fill="url(#gy)"/>
<ellipse cx="557" cy="239" rx="6.72" ry="9.36" fill="url(#gc)"/>
<ellipse cx="568.4" cy="239" rx="6.05" ry="9.36" fill="url(#gy)"/>
<ellipse cx="557" cy="255.75" rx="6.72" ry="8.06" fill="url(#gy)"/>
<ellipse cx="568.4" cy="255.75" rx="6.05" ry="8.06" fill="url(#gc)"/>
<ellipse cx="557.1" cy="273.3" rx="8.51" ry="8.63" fill="url(#gc)"/>
<ellipse cx="554.75" cy="290.7" rx="5.88" ry="9.46" fill="url(#gy)"/>
<ellipse cx="565.4" cy="290.7" rx="6.05" ry="9.46" fill="url(#gc)"/>
<ellipse cx="557.15" cy="306.5" rx="5.1" ry="5.72" fill="url(#gc)"/>
<ellipse cx="566" cy="306.5" rx="3.36" ry="5.72" fill="url(#gy)"/>
<ellipse cx="557.25" cy="321" rx="3.64" ry="6.24" fill="url(#gy)"/>
<ellipse cx="564.7" cy="321" rx="3.36" ry="6.24" fill="url(#gc)"/>
<line x1="539" y1="235" x2="539" y2="245" stroke="#7a4c2e" stroke-width="1.1" stroke-linecap="round"/>
<circle cx="539" cy="240" r="1.7" fill="url(#gb)"/>
<circle cx="536" cy="238.5" r="0.8" fill="#f4dede"/>
<circle cx="542" cy="238.5" r="0.8" fill="#f4dede"/>
<line x1="539" y1="248" x2="539" y2="258" stroke="#7a4c2e" stroke-width="1.1" stroke-linecap="round"/>
<circle cx="539" cy="253" r="1.7" fill="url(#gb)"/>
<circle cx="536" cy="251.5" r="0.8" fill="#f4dede"/>
<circle cx="542" cy="251.5" r="0.8" fill="#f4dede"/>
<line x1="539" y1="284" x2="539" y2="294" stroke="#7a4c2e" stroke-width="1.1" stroke-linecap="round"/>
<circle cx="539" cy="289" r="1.7" fill="url(#gb)"/>
<circle cx="536" cy="287.5" r="0.8" fill="#f4dede"/>
<circle cx="542" cy="287.5" r="0.8" fill="#f4dede"/>
<line x1="539" y1="301" x2="539" y2="311" stroke="#7a4c2e" stroke-width="1.1" stroke-linecap="round"/>
<circle cx="539" cy="306" r="1.7" fill="url(#gb)"/>
<circle cx="536" cy="304.5" r="0.8" fill="#f4dede"/>
<circle cx="542" cy="304.5" r="0.8" fill="#f4dede"/>
<line x1="563.2" y1="243" x2="563.2" y2="253" stroke="#7a4c2e" stroke-width="1.1" stroke-linecap="round"/>
<circle cx="563.2" cy="248" r="1.7" fill="url(#gb)"/>
<circle cx="560.2" cy="246.5" r="0.8" fill="#f4dede"/>
<circle cx="566.2" cy="246.5" r="0.8" fill="#f4dede"/>
<line x1="563.2" y1="259" x2="563.2" y2="269" stroke="#7a4c2e" stroke-width="1.1" stroke-linecap="round"/>
<circle cx="563.2" cy="264" r="1.7" fill="url(#gb)"/>
<circle cx="560.2" cy="262.5" r="0.8" fill="#f4dede"/>
<circle cx="566.2" cy="262.5" r="0.8" fill="#f4dede"/>
<line x1="563.2" y1="265" x2="563.2" y2="275" stroke="#7a4c2e" stroke-width="1.1" stroke-linecap="round"/>
<circle cx="563.2" cy="270" r="1.7" fill="url(#gb)"/>
<circle cx="560.2" cy="268.5" r="0.8" fill="#f4dede"/>
<circle cx="566.2" cy="268.5" r="0.8" fill="#f4dede"/>
<line x1="563.2" y1="271" x2="563.2" y2="281" stroke="#7a4c2e" stroke-width="1.1" stroke-linecap="round"/>
<circle cx="563.2" cy="276" r="1.7" fill="url(#gb)"/>
<circle cx="560.2" cy="274.5" r="0.8" fill="#f4dede"/>
<circle cx="566.2" cy="274.5" r="0.8" fill="#f4dede"/>
<line x1="563.2" y1="295" x2="563.2" y2="305" stroke="#7a4c2e" stroke-width="1.1" stroke-linecap="round"/>
<circle cx="563.2" cy="300" r="1.7" fill="url(#gb)"/>
<circle cx="560.2" cy="298.5" r="0.8" fill="#f4dede"/>
<circle cx="566.2" cy="298.5" r="0.8" fill="#f4dede"/>
<line x1="563.2" y1="309" x2="563.2" y2="319" stroke="#7a4c2e" stroke-width="1.1" stroke-linecap="round"/>
<circle cx="563.2" cy="314" r="1.7" fill="url(#gb)"/>
<circle cx="560.2" cy="312.5" r="0.8" fill="#f4dede"/>
<circle cx="566.2" cy="312.5" r="0.8" fill="#f4dede"/>
</g>
<circle cx="549.9" cy="276.3" r="53.5" fill="none" stroke="#222" stroke-width="0.7"/>
<path d="M563.1,257 L561.8,259.25 L559.2,259.25 L557.9,257 L559.2,254.75 L561.8,254.75Z" fill="none" stroke="#8a5a3c" stroke-width="1.17"/>
<circle cx="563.1" cy="257" r="0.8" fill="url(#gb)"/>
<circle cx="561.8" cy="259.25" r="0.8" fill="url(#gb)"/>
<circle cx="559.2" cy="259.25" r="0.8" fill="url(#gb)"/>
<circle cx="557.9" cy="257" r="0.8" fill="url(#gb)"/>
<circle cx="559.2" cy="254.75" r="0.8" fill="url(#gb)"/>
<circle cx="561.8" cy="254.75" r="0.8" fill="url(#gb)"/>
<circle cx="560.5" cy="253" r="0.9" fill="url(#gb)"/>
<circle cx="564" cy="255" r="0.7" fill="#f4dede"/>
<circle cx="557" cy="259" r="0.7" fill="#f4dede"/>
<path d="M555.6,271 L554.3,273.25 L551.7,273.25 L550.4,271 L551.7,268.75 L554.3,268.75Z" fill="none" stroke="#8a5a3c" stroke-width="1.17"/>
<circle cx="555.6" cy="271" r="0.8" fill="url(#gb)"/>
<circle cx="554.3" cy="273.25" r="0.8" fill="url(#gb)"/>
<circle cx="551.7" cy="273.25" r="0.8" fill="url(#gb)"/>
<circle cx="550.4" cy="271" r="0.8" fill="url(#gb)"/>
<circle cx="551.7" cy="268.75" r="0.8" fill="url(#gb)"/>
<circle cx="554.3" cy="268.75" r="0.8" fill="url(#gb)"/>
<circle cx="553" cy="267" r="0.9" fill="url(#gb)"/>
<circle cx="556.5" cy="269" r="0.7" fill="#f4dede"/>
<circle cx="549.5" cy="273" r="0.7" fill="#f4dede"/>
<path d="M559.1,290.5 L557.8,292.75 L555.2,292.75 L553.9,290.5 L555.2,288.25 L557.8,288.25Z" fill="none" stroke="#8a5a3c" stroke-width="1.17"/>
<circle cx="559.1" cy="290.5" r="0.8" fill="url(#gb)"/>
<circle cx="557.8" cy="292.75" r="0.8" fill="url(#gb)"/>
<circle cx="555.2" cy="292.75" r="0.8" fill="url(#gb)"/>
<circle cx="553.9" cy="290.5" r="0.8" fill="url(#gb)"/>
<circle cx="555.2" cy="288.25" r="0.8" fill="url(#gb)"/>
<circle cx="557.8" cy="288.25" r="0.8" fill="url(#gb)"/>
<circle cx="556.5" cy="286.5" r="0.9" fill="url(#gb)"/>
<circle cx="560" cy="288.5" r="0.7" fill="#f4dede"/>
<circle cx="553" cy="292.5" r="0.7" fill="#f4dede"/>
<path d="M560.1,307 L558.8,309.25 L556.2,309.25 L554.9,307 L556.2,304.75 L558.8,304.75Z" fill="none" stroke="#8a5a3c" stroke-width="1.17"/>
<circle cx="560.1" cy="307" r="0.8" fill="url(#gb)"/>
<circle cx="558.8" cy="309.25" r="0.8" fill="url(#gb)"/>
<circle cx="556.2" cy="309.25" r="0.8" fill="url(#gb)"/>
<circle cx="554.9" cy="307" r="0.8" fill="url(#gb)"/>
<circle cx="556.2" cy="304.75" r="0.8" fill="url(#gb)"/>
<circle cx="558.8" cy="304.75" r="0.8" fill="url(#gb)"/>
<circle cx="557.5" cy="303" r="0.9" fill="url(#gb)"/>
<circle cx="561" cy="305" r="0.7" fill="#f4dede"/>
<circle cx="554" cy="309" r="0.7" fill="#f4dede"/>
<path d="M543.6,236 L542.3,238.25 L539.7,238.25 L538.4,236 L539.7,233.75 L542.3,233.75Z" fill="none" stroke="#8a5a3c" stroke-width="1.17"/>
<circle cx="543.6" cy="236" r="0.8" fill="url(#gb)"/>
<circle cx="542.3" cy="238.25" r="0.8" fill="url(#gb)"/>
<circle cx="539.7" cy="238.25" r="0.8" fill="url(#gb)"/>
<circle cx="538.4" cy="236" r="0.8" fill="url(#gb)"/>
<circle cx="539.7" cy="233.75" r="0.8" fill="url(#gb)"/>
<circle cx="542.3" cy="233.75" r="0.8" fill="url(#gb)"/>
<circle cx="541" cy="232" r="0.9" fill="url(#gb)"/>
<circle cx="544.5" cy="234" r="0.7" fill="#f4dede"/>
<circle cx="537.5" cy="238" r="0.7" fill="#f4dede"/>
<path d="M543.6,268 L542.3,270.25 L539.7,270.25 L538.4,268 L539.7,265.75 L542.3,265.75Z" fill="none" stroke="#8a5a3c" stroke-width="1.17"/>
<circle cx="543.6" cy="268" r="0.8" fill="url(#gb)"/>
<circle cx="542.3" cy="270.25" r="0.8" fill="url(#gb)"/>
<circle cx="539.7" cy="270.25" r="0.8" fill="url(#gb)"/>
<circle cx="538.4" cy="268" r="0.8" fill="url(#gb)"/>
<circle cx="539.7" cy="265.75" r="0.8" fill="url(#gb)"/>
<circle cx="542.3" cy="265.75" r="0.8" fill="url(#gb)"/>
<circle cx="541" cy="264" r="0.9" fill="url(#gb)"/>
<circle cx="544.5" cy="266" r="0.7" fill="#f4dede"/>
<circle cx="537.5" cy="270" r="0.7" fill="#f4dede"/>
<path d="M545.6,300 L544.3,302.25 L541.7,302.25 L540.4,300 L541.7,297.75 L544.3,297.75Z" fill="none" stroke="#8a5a3c" stroke-width="1.17"/>
<circle cx="545.6" cy="300" r="0.8" fill="url(#gb)"/>
<circle cx="544.3" cy="302.25" r="0.8" fill="url(#gb)"/>
<circle cx="541.7" cy="302.25" r="0.8" fill="url(#gb)"/>
<circle cx="540.4" cy="300" r="0.8" fill="url(#gb)"/>
<circle cx="541.7" cy="297.75" r="0.8" fill="url(#gb)"/>
<circle cx="544.3" cy="297.75" r="0.8" fill="url(#gb)"/>
<circle cx="543" cy="296" r="0.9" fill="url(#gb)"/>
<circle cx="546.5" cy="298" r="0.7" fill="#f4dede"/>
<circle cx="539.5" cy="302" r="0.7" fill="#f4dede"/>
<line x1="455.3" y1="218.8" x2="473.8" y2="218.8" stroke="#e8641e" stroke-width="1.6" />
<line x1="455.3" y1="258" x2="472.7" y2="258" stroke="#f2a86a" stroke-width="1.8" />
<line x1="464.3" y1="258" x2="464.3" y2="226" stroke="#f0a060" stroke-width="1.5" />
<path d="M464.3 222.6 L466.8 227.6 L461.8 227.6 Z" fill="#f0a060"/>
<text x="477.9" y="220.8" font-size="5.6" text-anchor="start" font-weight="bold" fill="#e8742a" stroke="#e8742a" stroke-width="0.12" >LUMO</text>
<text x="477.9" y="260" font-size="5.6" text-anchor="start" font-weight="bold" fill="#f4b486" stroke="#f4b486" stroke-width="0.12" >HOMO</text>
<text x="469.1" y="240.7" font-size="6.9" text-anchor="start" font-weight="bold" fill="#111" stroke="#111" stroke-width="0.12" >1.03 eV</text>
<line x1="483" y1="303.9" x2="500.7" y2="303.9" stroke="#e42a30" stroke-width="1.6" />
<line x1="483" y1="337.8" x2="500.7" y2="337.8" stroke="#ec7a84" stroke-width="1.8" />
<line x1="491.2" y1="337.8" x2="491.2" y2="310.5" stroke="#e8707a" stroke-width="1.5" />
<path d="M491.2 307 L493.7 312 L488.7 312 Z" fill="#e8707a"/>
<text x="479.6" y="305.9" font-size="5.6" text-anchor="end" font-weight="bold" fill="#e42a34" stroke="#e42a34" stroke-width="0.12" >LUMO</text>
<text x="479.6" y="339.8" font-size="5.6" text-anchor="end" font-weight="bold" fill="#f4a0a8" stroke="#f4a0a8" stroke-width="0.12" >HOMO</text>
<text x="461.6" y="325" font-size="6.9" text-anchor="start" font-weight="bold" fill="#111" stroke="#111" stroke-width="0.12" >0.74 eV</text>
<text x="320" y="349.4" font-size="7.7" text-anchor="start" font-weight="bold" fill="#f07a2e" stroke="#f07a2e" stroke-width="0.12" >Orange-1 dimer HOMO</text>
<text x="534.8" y="349.1" font-size="7.7" text-anchor="start" font-weight="bold" fill="#e8283a" stroke="#e8283a" stroke-width="0.12" >Red-1 dimer HOMO</text>
</svg></body></html>
